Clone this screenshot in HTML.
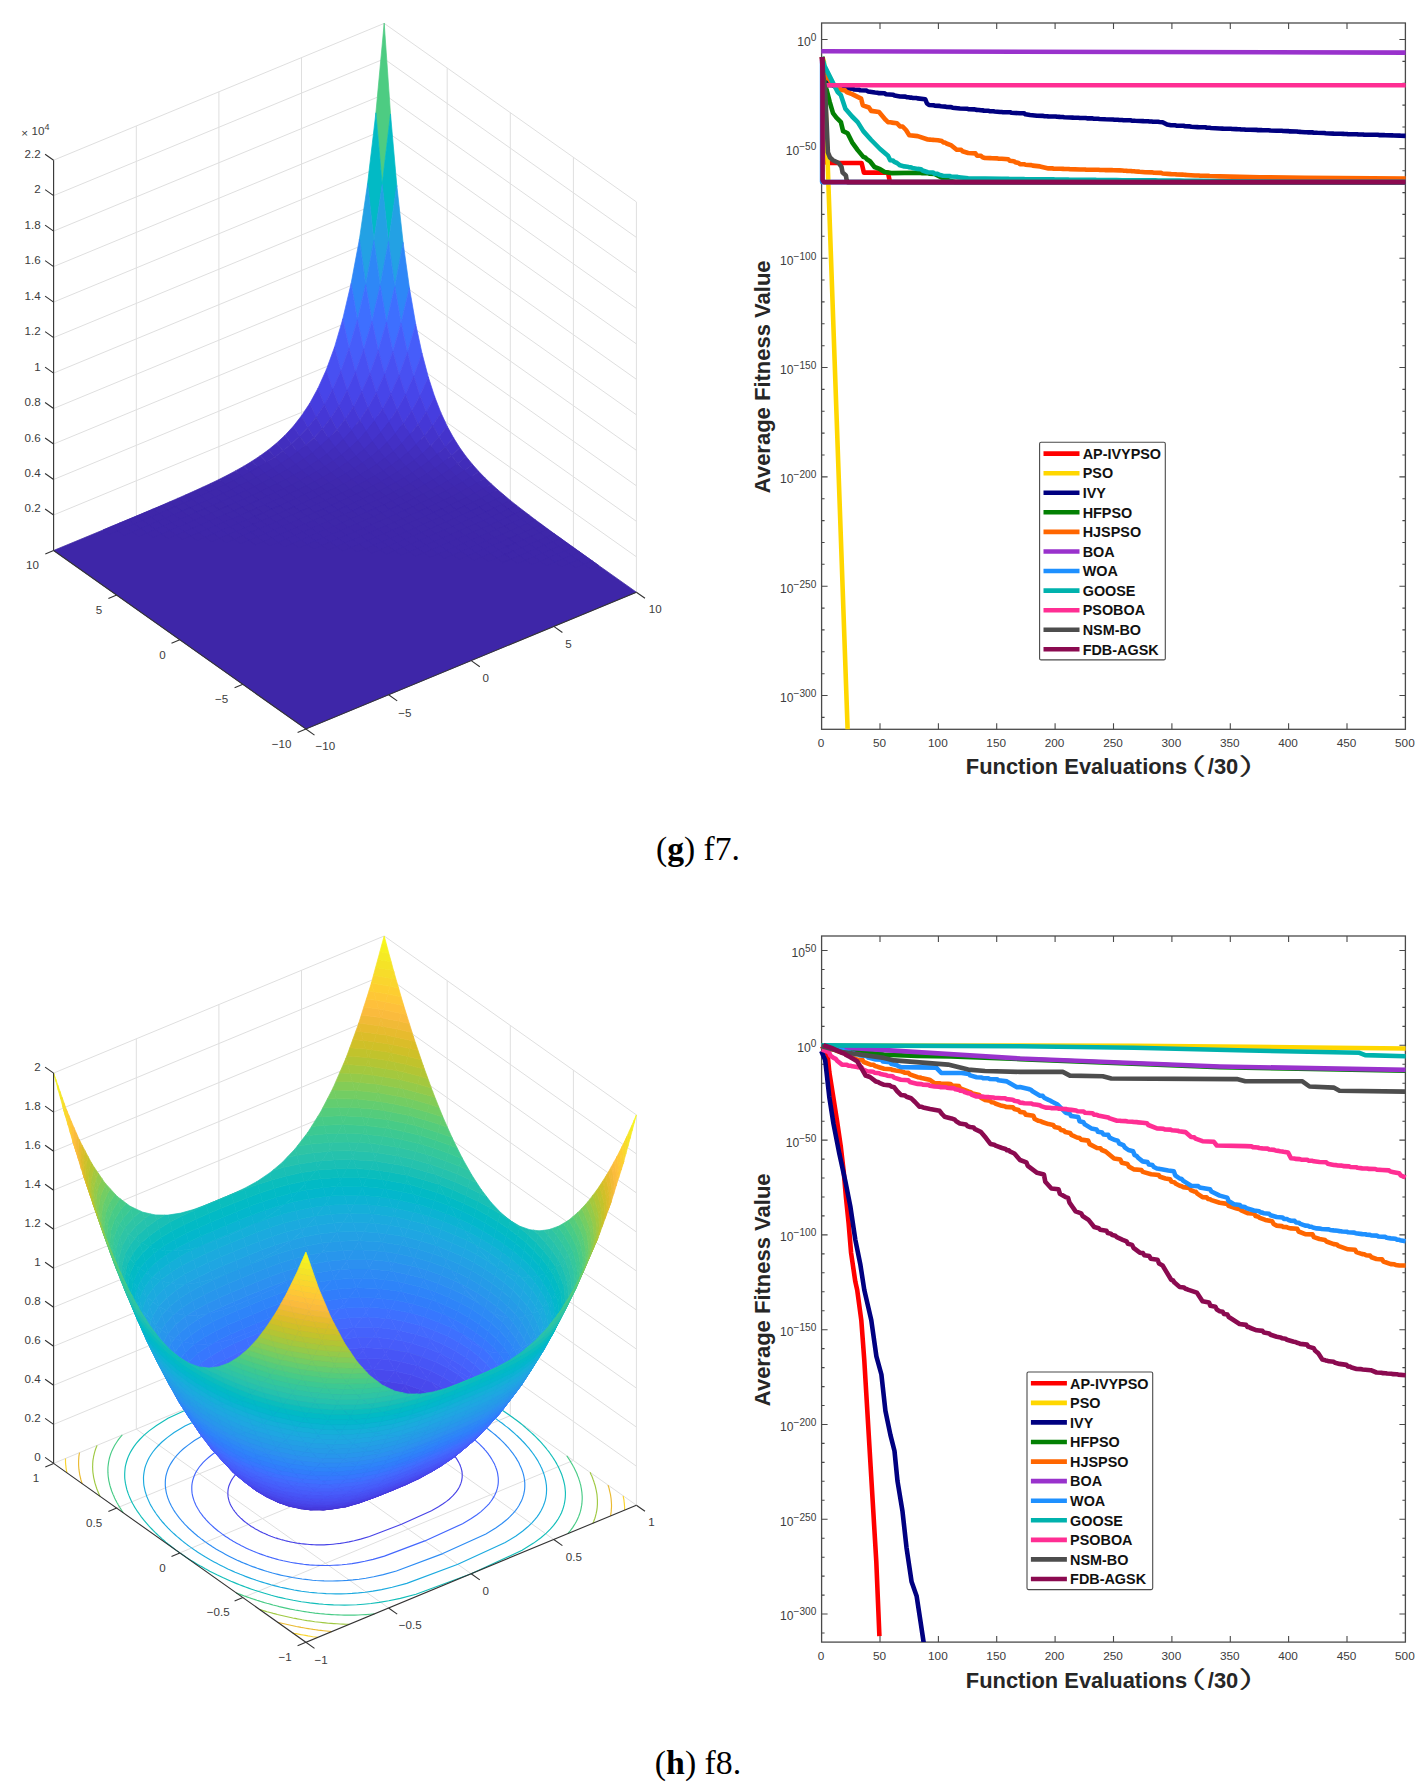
<!DOCTYPE html>
<html lang="en"><head><meta charset="utf-8"><title>Benchmark functions f7 and f8</title>
<style>html,body{margin:0;padding:0;background:#fff}svg{display:block;font-family:"Liberation Sans","Noto Sans CJK SC",sans-serif}.s path{fill:currentColor;stroke:currentColor;stroke-width:.7px;stroke-linejoin:round}.cv polyline{fill:none;stroke-width:4.6px;stroke-linejoin:round;stroke-linecap:butt}.cap{font-family:"Liberation Serif",serif}</style></head><body>
<svg width="1427" height="1789" viewBox="0 0 1427 1789">
<rect width="1427" height="1789" fill="#fff"/>
<g id="surf-f7">
<g fill="none">
<polyline points="53.6,515 384.2,378.2 636.4,556.8" stroke="#dfdfdf" stroke-width="1"/>
<polyline points="53.6,479.5 384.2,342.8 636.4,521.3" stroke="#dfdfdf" stroke-width="1"/>
<polyline points="53.6,444 384.2,307.3 636.4,485.8" stroke="#dfdfdf" stroke-width="1"/>
<polyline points="53.6,408.5 384.2,271.8 636.4,450.3" stroke="#dfdfdf" stroke-width="1"/>
<polyline points="53.6,373.1 384.2,236.3 636.4,414.8" stroke="#dfdfdf" stroke-width="1"/>
<polyline points="53.6,337.6 384.2,200.8 636.4,379.3" stroke="#dfdfdf" stroke-width="1"/>
<polyline points="53.6,302.1 384.2,165.4 636.4,343.9" stroke="#dfdfdf" stroke-width="1"/>
<polyline points="53.6,266.6 384.2,129.9 636.4,308.4" stroke="#dfdfdf" stroke-width="1"/>
<polyline points="53.6,231.1 384.2,94.4 636.4,272.9" stroke="#dfdfdf" stroke-width="1"/>
<polyline points="53.6,195.6 384.2,58.9 636.4,237.4" stroke="#dfdfdf" stroke-width="1"/>
<polyline points="53.6,160.2 384.2,23.4 636.4,201.9" stroke="#dfdfdf" stroke-width="1"/>
<line x1="53.6" y1="550.5" x2="53.6" y2="160.2" stroke="#dfdfdf" stroke-width="1.0"/>
<line x1="636.4" y1="592.2" x2="636.4" y2="201.9" stroke="#dfdfdf" stroke-width="1.0"/>
<line x1="136.3" y1="516.3" x2="136.3" y2="126" stroke="#dfdfdf" stroke-width="1.0"/>
<line x1="573.4" y1="547.6" x2="573.4" y2="157.3" stroke="#dfdfdf" stroke-width="1.0"/>
<line x1="218.9" y1="482.1" x2="218.9" y2="91.8" stroke="#dfdfdf" stroke-width="1.0"/>
<line x1="510.3" y1="503" x2="510.3" y2="112.7" stroke="#dfdfdf" stroke-width="1.0"/>
<line x1="301.5" y1="447.9" x2="301.5" y2="57.6" stroke="#dfdfdf" stroke-width="1.0"/>
<line x1="447.2" y1="458.4" x2="447.2" y2="68.1" stroke="#dfdfdf" stroke-width="1.0"/>
<line x1="384.2" y1="413.7" x2="384.2" y2="23.4" stroke="#dfdfdf" stroke-width="1.0"/>
<line x1="384.2" y1="413.7" x2="384.2" y2="23.4" stroke="#dfdfdf" stroke-width="1.0"/>
<polyline points="53.6,550.5 384.2,413.7 636.4,592.2" stroke="#dfdfdf" stroke-width="1"/>
</g>
<g class="s">
<path color="#3e26a8" d="M53.6,550.5 305.9,729 636.4,592.2 384.2,413.7 z"/>
<path color="#4dcc82" d="M382.2,184.6 390.5,113.9 384.2,23 375.9,112.8 z"/>
<path color="#02bac5" d="M373.9,240.4 382.2,184.6 375.9,112.8 367.6,183.6 z"/>
<path color="#02bac5" d="M388.5,241.5 396.8,185.6 390.5,113.9 382.2,184.6 z"/>
<path color="#23a1e4" d="M365.7,284.7 373.9,240.4 367.6,183.6 359.4,239.4 z"/>
<path color="#23a1e4" d="M380.2,285.7 388.5,241.5 382.2,184.6 373.9,240.4 z"/>
<path color="#23a1e4" d="M394.8,286.8 403.1,242.5 396.8,185.6 388.5,241.5 z"/>
<path color="#2e87f7" d="M357.4,319.9 365.7,284.7 359.4,239.4 351.1,283.6 z"/>
<path color="#2e87f7" d="M372,321 380.2,285.7 373.9,240.4 365.7,284.7 z"/>
<path color="#2e87f7" d="M386.5,322 394.8,286.8 388.5,241.5 380.2,285.7 z"/>
<path color="#2e87f7" d="M401.1,323 409.4,287.8 403.1,242.5 394.8,286.8 z"/>
<path color="#3e6fff" d="M349.1,348.1 357.4,319.9 351.1,283.6 342.8,318.9 z"/>
<path color="#3e6fff" d="M363.7,349.1 372,321 365.7,284.7 357.4,319.9 z"/>
<path color="#3e6fff" d="M378.3,350.2 386.5,322 380.2,285.7 372,321 z"/>
<path color="#3e6fff" d="M392.9,351.2 401.1,323 394.8,286.8 386.5,322 z"/>
<path color="#3e6fff" d="M407.4,352.3 415.7,324.1 409.4,287.8 401.1,323 z"/>
<path color="#465dfa" d="M340.9,370.8 349.1,348.1 342.8,318.9 334.6,347 z"/>
<path color="#465dfa" d="M355.5,371.8 363.7,349.1 357.4,319.9 349.1,348.1 z"/>
<path color="#465dfa" d="M370,372.9 378.3,350.2 372,321 363.7,349.1 z"/>
<path color="#465dfa" d="M384.6,373.9 392.9,351.2 386.5,322 378.3,350.2 z"/>
<path color="#465dfa" d="M399.2,375 407.4,352.3 401.1,323 392.9,351.2 z"/>
<path color="#465dfa" d="M413.7,376 422,353.3 415.7,324.1 407.4,352.3 z"/>
<path color="#4850f2" d="M332.6,389.2 340.9,370.8 334.6,347 326.3,369.8 z"/>
<path color="#4850f2" d="M347.2,390.3 355.5,371.8 349.1,348.1 340.9,370.8 z"/>
<path color="#4850f2" d="M361.8,391.3 370,372.9 363.7,349.1 355.5,371.8 z"/>
<path color="#4850f2" d="M376.3,392.4 384.6,373.9 378.3,350.2 370,372.9 z"/>
<path color="#4850f2" d="M390.9,393.4 399.2,375 392.9,351.2 384.6,373.9 z"/>
<path color="#4850f2" d="M405.5,394.5 413.7,376 407.4,352.3 399.2,375 z"/>
<path color="#4850f2" d="M420,395.5 428.3,377.1 422,353.3 413.7,376 z"/>
<path color="#4745e9" d="M324.4,404.4 332.6,389.2 326.3,369.8 318,388.2 z"/>
<path color="#4745e9" d="M338.9,405.4 347.2,390.3 340.9,370.8 332.6,389.2 z"/>
<path color="#4745e9" d="M353.5,406.4 361.8,391.3 355.5,371.8 347.2,390.3 z"/>
<path color="#4745e9" d="M368.1,407.5 376.3,392.4 370,372.9 361.8,391.3 z"/>
<path color="#4745e9" d="M382.6,408.5 390.9,393.4 384.6,373.9 376.3,392.4 z"/>
<path color="#4745e9" d="M397.2,409.6 405.5,394.5 399.2,375 390.9,393.4 z"/>
<path color="#4745e9" d="M411.8,410.6 420,395.5 413.7,376 405.5,394.5 z"/>
<path color="#4745e9" d="M426.3,411.7 434.6,396.5 428.3,377.1 420,395.5 z"/>
<path color="#463ddf" d="M316.1,416.9 324.4,404.4 318,388.2 309.8,403.3 z"/>
<path color="#463ddf" d="M330.7,417.9 338.9,405.4 332.6,389.2 324.4,404.4 z"/>
<path color="#463ddf" d="M345.2,419 353.5,406.4 347.2,390.3 338.9,405.4 z"/>
<path color="#463ddf" d="M359.8,420 368.1,407.5 361.8,391.3 353.5,406.4 z"/>
<path color="#463ddf" d="M374.4,421.1 382.6,408.5 376.3,392.4 368.1,407.5 z"/>
<path color="#463ddf" d="M388.9,422.1 397.2,409.6 390.9,393.4 382.6,408.5 z"/>
<path color="#463ddf" d="M403.5,423.1 411.8,410.6 405.5,394.5 397.2,409.6 z"/>
<path color="#463ddf" d="M418.1,424.2 426.3,411.7 420,395.5 411.8,410.6 z"/>
<path color="#463ddf" d="M432.7,425.2 440.9,412.7 434.6,396.5 426.3,411.7 z"/>
<path color="#4537d6" d="M307.8,427.4 316.1,416.9 309.8,403.3 301.5,415.8 z"/>
<path color="#4537d6" d="M322.4,428.4 330.7,417.9 324.4,404.4 316.1,416.9 z"/>
<path color="#4537d6" d="M337,429.5 345.2,419 338.9,405.4 330.7,417.9 z"/>
<path color="#4537d6" d="M351.5,430.5 359.8,420 353.5,406.4 345.2,419 z"/>
<path color="#4537d6" d="M366.1,431.6 374.4,421.1 368.1,407.5 359.8,420 z"/>
<path color="#4537d6" d="M380.7,432.6 388.9,422.1 382.6,408.5 374.4,421.1 z"/>
<path color="#4537d6" d="M395.2,433.7 403.5,423.1 397.2,409.6 388.9,422.1 z"/>
<path color="#4537d6" d="M409.8,434.7 418.1,424.2 411.8,410.6 403.5,423.1 z"/>
<path color="#4537d6" d="M424.4,435.8 432.7,425.2 426.3,411.7 418.1,424.2 z"/>
<path color="#4537d6" d="M439,436.8 447.2,426.3 440.9,412.7 432.7,425.2 z"/>
<path color="#4433cc" d="M299.6,436.3 307.8,427.4 301.5,415.8 293.3,426.3 z"/>
<path color="#4433cc" d="M314.1,437.4 322.4,428.4 316.1,416.9 307.8,427.4 z"/>
<path color="#4433cc" d="M328.7,438.4 337,429.5 330.7,417.9 322.4,428.4 z"/>
<path color="#4433cc" d="M343.3,439.5 351.5,430.5 345.2,419 337,429.5 z"/>
<path color="#4433cc" d="M357.8,440.5 366.1,431.6 359.8,420 351.5,430.5 z"/>
<path color="#4433cc" d="M372.4,441.6 380.7,432.6 374.4,421.1 366.1,431.6 z"/>
<path color="#4433cc" d="M387,442.6 395.2,433.7 388.9,422.1 380.7,432.6 z"/>
<path color="#4433cc" d="M401.6,443.6 409.8,434.7 403.5,423.1 395.2,433.7 z"/>
<path color="#4433cc" d="M416.1,444.7 424.4,435.8 418.1,424.2 409.8,434.7 z"/>
<path color="#4433cc" d="M430.7,445.7 439,436.8 432.7,425.2 424.4,435.8 z"/>
<path color="#4433cc" d="M445.3,446.8 453.5,437.8 447.2,426.3 439,436.8 z"/>
<path color="#4330c5" d="M291.3,444.1 299.6,436.3 293.3,426.3 285,435.3 z"/>
<path color="#4330c5" d="M305.9,445.1 314.1,437.4 307.8,427.4 299.6,436.3 z"/>
<path color="#4330c5" d="M320.4,446.1 328.7,438.4 322.4,428.4 314.1,437.4 z"/>
<path color="#4330c5" d="M335,447.2 343.3,439.5 337,429.5 328.7,438.4 z"/>
<path color="#4330c5" d="M349.6,448.2 357.8,440.5 351.5,430.5 343.3,439.5 z"/>
<path color="#4330c5" d="M364.2,449.3 372.4,441.6 366.1,431.6 357.8,440.5 z"/>
<path color="#4330c5" d="M378.7,450.3 387,442.6 380.7,432.6 372.4,441.6 z"/>
<path color="#4330c5" d="M393.3,451.4 401.6,443.6 395.2,433.7 387,442.6 z"/>
<path color="#4330c5" d="M407.9,452.4 416.1,444.7 409.8,434.7 401.6,443.6 z"/>
<path color="#4330c5" d="M422.4,453.5 430.7,445.7 424.4,435.8 416.1,444.7 z"/>
<path color="#4330c5" d="M437,454.5 445.3,446.8 439,436.8 430.7,445.7 z"/>
<path color="#4330c5" d="M451.6,455.5 459.8,447.8 453.5,437.8 445.3,446.8 z"/>
<path color="#422ebe" d="M283,450.8 291.3,444.1 285,435.3 276.7,443 z"/>
<path color="#422ebe" d="M297.6,451.9 305.9,445.1 299.6,436.3 291.3,444.1 z"/>
<path color="#422ebe" d="M312.2,452.9 320.4,446.1 314.1,437.4 305.9,445.1 z"/>
<path color="#422ebe" d="M326.8,454 335,447.2 328.7,438.4 320.4,446.1 z"/>
<path color="#422ebe" d="M341.3,455 349.6,448.2 343.3,439.5 335,447.2 z"/>
<path color="#422ebe" d="M355.9,456.1 364.2,449.3 357.8,440.5 349.6,448.2 z"/>
<path color="#422ebe" d="M370.5,457.1 378.7,450.3 372.4,441.6 364.2,449.3 z"/>
<path color="#422ebe" d="M385,458.1 393.3,451.4 387,442.6 378.7,450.3 z"/>
<path color="#422ebe" d="M399.6,459.2 407.9,452.4 401.6,443.6 393.3,451.4 z"/>
<path color="#422ebe" d="M414.2,460.2 422.4,453.5 416.1,444.7 407.9,452.4 z"/>
<path color="#422ebe" d="M428.7,461.3 437,454.5 430.7,445.7 422.4,453.5 z"/>
<path color="#422ebe" d="M443.3,462.3 451.6,455.5 445.3,446.8 437,454.5 z"/>
<path color="#422ebe" d="M457.9,463.4 466.1,456.6 459.8,447.8 451.6,455.5 z"/>
<path color="#412cba" d="M274.8,456.9 283,450.8 276.7,443 268.5,449.8 z"/>
<path color="#412cba" d="M289.3,457.9 297.6,451.9 291.3,444.1 283,450.8 z"/>
<path color="#412cba" d="M303.9,458.9 312.2,452.9 305.9,445.1 297.6,451.9 z"/>
<path color="#412cba" d="M318.5,460 326.8,454 320.4,446.1 312.2,452.9 z"/>
<path color="#412cba" d="M333.1,461 341.3,455 335,447.2 326.8,454 z"/>
<path color="#412cba" d="M347.6,462.1 355.9,456.1 349.6,448.2 341.3,455 z"/>
<path color="#412cba" d="M362.2,463.1 370.5,457.1 364.2,449.3 355.9,456.1 z"/>
<path color="#412cba" d="M376.8,464.2 385,458.1 378.7,450.3 370.5,457.1 z"/>
<path color="#412cba" d="M391.3,465.2 399.6,459.2 393.3,451.4 385,458.1 z"/>
<path color="#412cba" d="M405.9,466.3 414.2,460.2 407.9,452.4 399.6,459.2 z"/>
<path color="#412cba" d="M420.5,467.3 428.7,461.3 422.4,453.5 414.2,460.2 z"/>
<path color="#412cba" d="M435,468.3 443.3,462.3 437,454.5 428.7,461.3 z"/>
<path color="#412cba" d="M449.6,469.4 457.9,463.4 451.6,455.5 443.3,462.3 z"/>
<path color="#412cba" d="M464.2,470.4 472.5,464.4 466.1,456.6 457.9,463.4 z"/>
<path color="#402bb6" d="M266.5,462.3 274.8,456.9 268.5,449.8 260.2,455.8 z"/>
<path color="#402bb6" d="M281.1,463.4 289.3,457.9 283,450.8 274.8,456.9 z"/>
<path color="#402bb6" d="M295.7,464.4 303.9,458.9 297.6,451.9 289.3,457.9 z"/>
<path color="#402bb6" d="M310.2,465.4 318.5,460 312.2,452.9 303.9,458.9 z"/>
<path color="#402bb6" d="M324.8,466.5 333.1,461 326.8,454 318.5,460 z"/>
<path color="#402bb6" d="M339.4,467.5 347.6,462.1 341.3,455 333.1,461 z"/>
<path color="#402bb6" d="M353.9,468.6 362.2,463.1 355.9,456.1 347.6,462.1 z"/>
<path color="#402bb6" d="M368.5,469.6 376.8,464.2 370.5,457.1 362.2,463.1 z"/>
<path color="#402bb6" d="M383.1,470.7 391.3,465.2 385,458.1 376.8,464.2 z"/>
<path color="#402bb6" d="M397.6,471.7 405.9,466.3 399.6,459.2 391.3,465.2 z"/>
<path color="#402bb6" d="M412.2,472.8 420.5,467.3 414.2,460.2 405.9,466.3 z"/>
<path color="#402bb6" d="M426.8,473.8 435,468.3 428.7,461.3 420.5,467.3 z"/>
<path color="#402bb6" d="M441.4,474.8 449.6,469.4 443.3,462.3 435,468.3 z"/>
<path color="#402bb6" d="M455.9,475.9 464.2,470.4 457.9,463.4 449.6,469.4 z"/>
<path color="#402bb6" d="M470.5,476.9 478.8,471.5 472.5,464.4 464.2,470.4 z"/>
<path color="#402ab3" d="M258.3,467.3 266.5,462.3 260.2,455.8 251.9,461.3 z"/>
<path color="#402ab3" d="M272.8,468.4 281.1,463.4 274.8,456.9 266.5,462.3 z"/>
<path color="#402ab3" d="M287.4,469.4 295.7,464.4 289.3,457.9 281.1,463.4 z"/>
<path color="#402ab3" d="M302,470.4 310.2,465.4 303.9,458.9 295.7,464.4 z"/>
<path color="#402ab3" d="M316.5,471.5 324.8,466.5 318.5,460 310.2,465.4 z"/>
<path color="#402ab3" d="M331.1,472.5 339.4,467.5 333.1,461 324.8,466.5 z"/>
<path color="#402ab3" d="M345.7,473.6 353.9,468.6 347.6,462.1 339.4,467.5 z"/>
<path color="#402ab3" d="M360.2,474.6 368.5,469.6 362.2,463.1 353.9,468.6 z"/>
<path color="#402ab3" d="M374.8,475.7 383.1,470.7 376.8,464.2 368.5,469.6 z"/>
<path color="#402ab3" d="M389.4,476.7 397.6,471.7 391.3,465.2 383.1,470.7 z"/>
<path color="#402ab3" d="M404,477.8 412.2,472.8 405.9,466.3 397.6,471.7 z"/>
<path color="#402ab3" d="M418.5,478.8 426.8,473.8 420.5,467.3 412.2,472.8 z"/>
<path color="#402ab3" d="M433.1,479.8 441.4,474.8 435,468.3 426.8,473.8 z"/>
<path color="#402ab3" d="M447.7,480.9 455.9,475.9 449.6,469.4 441.4,474.8 z"/>
<path color="#402ab3" d="M462.2,481.9 470.5,476.9 464.2,470.4 455.9,475.9 z"/>
<path color="#402ab3" d="M476.8,483 485.1,478 478.8,471.5 470.5,476.9 z"/>
<path color="#3f29b1" d="M250,472 258.3,467.3 251.9,461.3 243.7,466.3 z"/>
<path color="#3f29b1" d="M264.6,473 272.8,468.4 266.5,462.3 258.3,467.3 z"/>
<path color="#3f29b1" d="M279.1,474.1 287.4,469.4 281.1,463.4 272.8,468.4 z"/>
<path color="#3f29b1" d="M293.7,475.1 302,470.4 295.7,464.4 287.4,469.4 z"/>
<path color="#3f29b1" d="M308.3,476.1 316.5,471.5 310.2,465.4 302,470.4 z"/>
<path color="#3f29b1" d="M322.8,477.2 331.1,472.5 324.8,466.5 316.5,471.5 z"/>
<path color="#3f29b1" d="M337.4,478.2 345.7,473.6 339.4,467.5 331.1,472.5 z"/>
<path color="#3f29b1" d="M352,479.3 360.2,474.6 353.9,468.6 345.7,473.6 z"/>
<path color="#3f29b1" d="M366.6,480.3 374.8,475.7 368.5,469.6 360.2,474.6 z"/>
<path color="#3f29b1" d="M381.1,481.4 389.4,476.7 383.1,470.7 374.8,475.7 z"/>
<path color="#3f29b1" d="M395.7,482.4 404,477.8 397.6,471.7 389.4,476.7 z"/>
<path color="#3f29b1" d="M410.3,483.5 418.5,478.8 412.2,472.8 404,477.8 z"/>
<path color="#3f29b1" d="M424.8,484.5 433.1,479.8 426.8,473.8 418.5,478.8 z"/>
<path color="#3f29b1" d="M439.4,485.5 447.7,480.9 441.4,474.8 433.1,479.8 z"/>
<path color="#3f29b1" d="M454,486.6 462.2,481.9 455.9,475.9 447.7,480.9 z"/>
<path color="#3f29b1" d="M468.5,487.6 476.8,483 470.5,476.9 462.2,481.9 z"/>
<path color="#3f29b1" d="M483.1,488.7 491.4,484 485.1,478 476.8,483 z"/>
<path color="#3f28af" d="M241.7,476.3 250,472 243.7,466.3 235.4,470.9 z"/>
<path color="#3f28af" d="M256.3,477.4 264.6,473 258.3,467.3 250,472 z"/>
<path color="#3f28af" d="M270.9,478.4 279.1,474.1 272.8,468.4 264.6,473 z"/>
<path color="#3f28af" d="M285.4,479.5 293.7,475.1 287.4,469.4 279.1,474.1 z"/>
<path color="#3f28af" d="M300,480.5 308.3,476.1 302,470.4 293.7,475.1 z"/>
<path color="#3f28af" d="M314.6,481.6 322.8,477.2 316.5,471.5 308.3,476.1 z"/>
<path color="#3f28af" d="M329.1,482.6 337.4,478.2 331.1,472.5 322.8,477.2 z"/>
<path color="#3f28af" d="M343.7,483.7 352,479.3 345.7,473.6 337.4,478.2 z"/>
<path color="#3f28af" d="M358.3,484.7 366.6,480.3 360.2,474.6 352,479.3 z"/>
<path color="#3f28af" d="M372.9,485.7 381.1,481.4 374.8,475.7 366.6,480.3 z"/>
<path color="#3f28af" d="M387.4,486.8 395.7,482.4 389.4,476.7 381.1,481.4 z"/>
<path color="#3f28af" d="M402,487.8 410.3,483.5 404,477.8 395.7,482.4 z"/>
<path color="#3f28af" d="M416.6,488.9 424.8,484.5 418.5,478.8 410.3,483.5 z"/>
<path color="#3f28af" d="M431.1,489.9 439.4,485.5 433.1,479.8 424.8,484.5 z"/>
<path color="#3f28af" d="M445.7,491 454,486.6 447.7,480.9 439.4,485.5 z"/>
<path color="#3f28af" d="M460.3,492 468.5,487.6 462.2,481.9 454,486.6 z"/>
<path color="#3f28af" d="M474.8,493.1 483.1,488.7 476.8,483 468.5,487.6 z"/>
<path color="#3f28af" d="M489.4,494.1 497.7,489.7 491.4,484 483.1,488.7 z"/>
<path color="#3f28ad" d="M233.5,480.5 241.7,476.3 235.4,470.9 227.2,475.3 z"/>
<path color="#3f28ad" d="M248,481.6 256.3,477.4 250,472 241.7,476.3 z"/>
<path color="#3f28ad" d="M262.6,482.6 270.9,478.4 264.6,473 256.3,477.4 z"/>
<path color="#3f28ad" d="M277.2,483.6 285.4,479.5 279.1,474.1 270.9,478.4 z"/>
<path color="#3f28ad" d="M291.7,484.7 300,480.5 293.7,475.1 285.4,479.5 z"/>
<path color="#3f28ad" d="M306.3,485.7 314.6,481.6 308.3,476.1 300,480.5 z"/>
<path color="#3f28ad" d="M320.9,486.8 329.1,482.6 322.8,477.2 314.6,481.6 z"/>
<path color="#3f28ad" d="M335.5,487.8 343.7,483.7 337.4,478.2 329.1,482.6 z"/>
<path color="#3f28ad" d="M350,488.9 358.3,484.7 352,479.3 343.7,483.7 z"/>
<path color="#3f28ad" d="M364.6,489.9 372.9,485.7 366.6,480.3 358.3,484.7 z"/>
<path color="#3f28ad" d="M379.2,491 387.4,486.8 381.1,481.4 372.9,485.7 z"/>
<path color="#3f28ad" d="M393.7,492 402,487.8 395.7,482.4 387.4,486.8 z"/>
<path color="#3f28ad" d="M408.3,493 416.6,488.9 410.3,483.5 402,487.8 z"/>
<path color="#3f28ad" d="M422.9,494.1 431.1,489.9 424.8,484.5 416.6,488.9 z"/>
<path color="#3f28ad" d="M437.4,495.1 445.7,491 439.4,485.5 431.1,489.9 z"/>
<path color="#3f28ad" d="M452,496.2 460.3,492 454,486.6 445.7,491 z"/>
<path color="#3f28ad" d="M466.6,497.2 474.8,493.1 468.5,487.6 460.3,492 z"/>
<path color="#3f28ad" d="M481.2,498.3 489.4,494.1 483.1,488.7 474.8,493.1 z"/>
<path color="#3f28ad" d="M495.7,499.3 504,495.1 497.7,489.7 489.4,494.1 z"/>
<path color="#3e28ac" d="M225.2,484.5 233.5,480.5 227.2,475.3 218.9,479.5 z"/>
<path color="#3e28ac" d="M239.8,485.6 248,481.6 241.7,476.3 233.5,480.5 z"/>
<path color="#3e28ac" d="M254.3,486.6 262.6,482.6 256.3,477.4 248,481.6 z"/>
<path color="#3e28ac" d="M268.9,487.6 277.2,483.6 270.9,478.4 262.6,482.6 z"/>
<path color="#3e28ac" d="M283.5,488.7 291.7,484.7 285.4,479.5 277.2,483.6 z"/>
<path color="#3e28ac" d="M298.1,489.7 306.3,485.7 300,480.5 291.7,484.7 z"/>
<path color="#3e28ac" d="M312.6,490.8 320.9,486.8 314.6,481.6 306.3,485.7 z"/>
<path color="#3e28ac" d="M327.2,491.8 335.5,487.8 329.1,482.6 320.9,486.8 z"/>
<path color="#3e28ac" d="M341.8,492.9 350,488.9 343.7,483.7 335.5,487.8 z"/>
<path color="#3e28ac" d="M356.3,493.9 364.6,489.9 358.3,484.7 350,488.9 z"/>
<path color="#3e28ac" d="M370.9,495 379.2,491 372.9,485.7 364.6,489.9 z"/>
<path color="#3e28ac" d="M385.5,496 393.7,492 387.4,486.8 379.2,491 z"/>
<path color="#3e28ac" d="M400,497 408.3,493 402,487.8 393.7,492 z"/>
<path color="#3e28ac" d="M414.6,498.1 422.9,494.1 416.6,488.9 408.3,493 z"/>
<path color="#3e28ac" d="M429.2,499.1 437.4,495.1 431.1,489.9 422.9,494.1 z"/>
<path color="#3e28ac" d="M443.8,500.2 452,496.2 445.7,491 437.4,495.1 z"/>
<path color="#3e28ac" d="M458.3,501.2 466.6,497.2 460.3,492 452,496.2 z"/>
<path color="#3e28ac" d="M472.9,502.3 481.2,498.3 474.8,493.1 466.6,497.2 z"/>
<path color="#3e28ac" d="M487.5,503.3 495.7,499.3 489.4,494.1 481.2,498.3 z"/>
<path color="#3e28ac" d="M502,504.4 510.3,500.4 504,495.1 495.7,499.3 z"/>
<path color="#3e27ab" d="M216.9,488.4 225.2,484.5 218.9,479.5 210.6,483.5 z"/>
<path color="#3e27ab" d="M231.5,489.4 239.8,485.6 233.5,480.5 225.2,484.5 z"/>
<path color="#3e27ab" d="M246.1,490.5 254.3,486.6 248,481.6 239.8,485.6 z"/>
<path color="#3e27ab" d="M260.6,491.5 268.9,487.6 262.6,482.6 254.3,486.6 z"/>
<path color="#3e27ab" d="M275.2,492.6 283.5,488.7 277.2,483.6 268.9,487.6 z"/>
<path color="#3e27ab" d="M289.8,493.6 298.1,489.7 291.7,484.7 283.5,488.7 z"/>
<path color="#3e27ab" d="M304.4,494.6 312.6,490.8 306.3,485.7 298.1,489.7 z"/>
<path color="#3e27ab" d="M318.9,495.7 327.2,491.8 320.9,486.8 312.6,490.8 z"/>
<path color="#3e27ab" d="M333.5,496.7 341.8,492.9 335.5,487.8 327.2,491.8 z"/>
<path color="#3e27ab" d="M348.1,497.8 356.3,493.9 350,488.9 341.8,492.9 z"/>
<path color="#3e27ab" d="M362.6,498.8 370.9,495 364.6,489.9 356.3,493.9 z"/>
<path color="#3e27ab" d="M377.2,499.9 385.5,496 379.2,491 370.9,495 z"/>
<path color="#3e27ab" d="M391.8,500.9 400,497 393.7,492 385.5,496 z"/>
<path color="#3e27ab" d="M406.3,502 414.6,498.1 408.3,493 400,497 z"/>
<path color="#3e27ab" d="M420.9,503 429.2,499.1 422.9,494.1 414.6,498.1 z"/>
<path color="#3e27ab" d="M435.5,504 443.8,500.2 437.4,495.1 429.2,499.1 z"/>
<path color="#3e27ab" d="M450.1,505.1 458.3,501.2 452,496.2 443.8,500.2 z"/>
<path color="#3e27ab" d="M464.6,506.1 472.9,502.3 466.6,497.2 458.3,501.2 z"/>
<path color="#3e27ab" d="M479.2,507.2 487.5,503.3 481.2,498.3 472.9,502.3 z"/>
<path color="#3e27ab" d="M493.8,508.2 502,504.4 495.7,499.3 487.5,503.3 z"/>
<path color="#3e27ab" d="M508.3,509.3 516.6,505.4 510.3,500.4 502,504.4 z"/>
<path color="#3e27ab" d="M208.7,492.2 216.9,488.4 210.6,483.5 202.4,487.3 z"/>
<path color="#3e27ab" d="M223.2,493.2 231.5,489.4 225.2,484.5 216.9,488.4 z"/>
<path color="#3e27ab" d="M237.8,494.2 246.1,490.5 239.8,485.6 231.5,489.4 z"/>
<path color="#3e27ab" d="M252.4,495.3 260.6,491.5 254.3,486.6 246.1,490.5 z"/>
<path color="#3e27ab" d="M267,496.3 275.2,492.6 268.9,487.6 260.6,491.5 z"/>
<path color="#3e27ab" d="M281.5,497.4 289.8,493.6 283.5,488.7 275.2,492.6 z"/>
<path color="#3e27ab" d="M296.1,498.4 304.4,494.6 298.1,489.7 289.8,493.6 z"/>
<path color="#3e27ab" d="M310.7,499.5 318.9,495.7 312.6,490.8 304.4,494.6 z"/>
<path color="#3e27ab" d="M325.2,500.5 333.5,496.7 327.2,491.8 318.9,495.7 z"/>
<path color="#3e27ab" d="M339.8,501.6 348.1,497.8 341.8,492.9 333.5,496.7 z"/>
<path color="#3e27ab" d="M354.4,502.6 362.6,498.8 356.3,493.9 348.1,497.8 z"/>
<path color="#3e27ab" d="M368.9,503.6 377.2,499.9 370.9,495 362.6,498.8 z"/>
<path color="#3e27ab" d="M383.5,504.7 391.8,500.9 385.5,496 377.2,499.9 z"/>
<path color="#3e27ab" d="M398.1,505.7 406.3,502 400,497 391.8,500.9 z"/>
<path color="#3e27ab" d="M412.7,506.8 420.9,503 414.6,498.1 406.3,502 z"/>
<path color="#3e27ab" d="M427.2,507.8 435.5,504 429.2,499.1 420.9,503 z"/>
<path color="#3e27ab" d="M441.8,508.9 450.1,505.1 443.8,500.2 435.5,504 z"/>
<path color="#3e27ab" d="M456.4,509.9 464.6,506.1 458.3,501.2 450.1,505.1 z"/>
<path color="#3e27ab" d="M470.9,511 479.2,507.2 472.9,502.3 464.6,506.1 z"/>
<path color="#3e27ab" d="M485.5,512 493.8,508.2 487.5,503.3 479.2,507.2 z"/>
<path color="#3e27ab" d="M500.1,513 508.3,509.3 502,504.4 493.8,508.2 z"/>
<path color="#3e27ab" d="M514.6,514.1 522.9,510.3 516.6,505.4 508.3,509.3 z"/>
<path color="#3e27aa" d="M200.4,495.8 208.7,492.2 202.4,487.3 194.1,491.1 z"/>
<path color="#3e27aa" d="M215,496.9 223.2,493.2 216.9,488.4 208.7,492.2 z"/>
<path color="#3e27aa" d="M229.6,497.9 237.8,494.2 231.5,489.4 223.2,493.2 z"/>
<path color="#3e27aa" d="M244.1,499 252.4,495.3 246.1,490.5 237.8,494.2 z"/>
<path color="#3e27aa" d="M258.7,500 267,496.3 260.6,491.5 252.4,495.3 z"/>
<path color="#3e27aa" d="M273.3,501.1 281.5,497.4 275.2,492.6 267,496.3 z"/>
<path color="#3e27aa" d="M287.8,502.1 296.1,498.4 289.8,493.6 281.5,497.4 z"/>
<path color="#3e27aa" d="M302.4,503.2 310.7,499.5 304.4,494.6 296.1,498.4 z"/>
<path color="#3e27aa" d="M317,504.2 325.2,500.5 318.9,495.7 310.7,499.5 z"/>
<path color="#3e27aa" d="M331.5,505.2 339.8,501.6 333.5,496.7 325.2,500.5 z"/>
<path color="#3e27aa" d="M346.1,506.3 354.4,502.6 348.1,497.8 339.8,501.6 z"/>
<path color="#3e27aa" d="M360.7,507.3 368.9,503.6 362.6,498.8 354.4,502.6 z"/>
<path color="#3e27aa" d="M375.3,508.4 383.5,504.7 377.2,499.9 368.9,503.6 z"/>
<path color="#3e27aa" d="M389.8,509.4 398.1,505.7 391.8,500.9 383.5,504.7 z"/>
<path color="#3e27aa" d="M404.4,510.5 412.7,506.8 406.3,502 398.1,505.7 z"/>
<path color="#3e27aa" d="M419,511.5 427.2,507.8 420.9,503 412.7,506.8 z"/>
<path color="#3e27aa" d="M433.5,512.6 441.8,508.9 435.5,504 427.2,507.8 z"/>
<path color="#3e27aa" d="M448.1,513.6 456.4,509.9 450.1,505.1 441.8,508.9 z"/>
<path color="#3e27aa" d="M462.7,514.6 470.9,511 464.6,506.1 456.4,509.9 z"/>
<path color="#3e27aa" d="M477.2,515.7 485.5,512 479.2,507.2 470.9,511 z"/>
<path color="#3e27aa" d="M491.8,516.7 500.1,513 493.8,508.2 485.5,512 z"/>
<path color="#3e27aa" d="M506.4,517.8 514.6,514.1 508.3,509.3 500.1,513 z"/>
<path color="#3e27aa" d="M521,518.8 529.2,515.1 522.9,510.3 514.6,514.1 z"/>
<path color="#3e27aa" d="M192.2,499.5 200.4,495.8 194.1,491.1 185.8,494.8 z"/>
<path color="#3e27aa" d="M206.7,500.5 215,496.9 208.7,492.2 200.4,495.8 z"/>
<path color="#3e27aa" d="M221.3,501.6 229.6,497.9 223.2,493.2 215,496.9 z"/>
<path color="#3e27aa" d="M235.9,502.6 244.1,499 237.8,494.2 229.6,497.9 z"/>
<path color="#3e27aa" d="M250.4,503.7 258.7,500 252.4,495.3 244.1,499 z"/>
<path color="#3e27aa" d="M265,504.7 273.3,501.1 267,496.3 258.7,500 z"/>
<path color="#3e27aa" d="M279.6,505.7 287.8,502.1 281.5,497.4 273.3,501.1 z"/>
<path color="#3e27aa" d="M294.1,506.8 302.4,503.2 296.1,498.4 287.8,502.1 z"/>
<path color="#3e27aa" d="M308.7,507.8 317,504.2 310.7,499.5 302.4,503.2 z"/>
<path color="#3e27aa" d="M323.3,508.9 331.5,505.2 325.2,500.5 317,504.2 z"/>
<path color="#3e27aa" d="M337.9,509.9 346.1,506.3 339.8,501.6 331.5,505.2 z"/>
<path color="#3e27aa" d="M352.4,511 360.7,507.3 354.4,502.6 346.1,506.3 z"/>
<path color="#3e27aa" d="M367,512 375.3,508.4 368.9,503.6 360.7,507.3 z"/>
<path color="#3e27aa" d="M381.6,513.1 389.8,509.4 383.5,504.7 375.3,508.4 z"/>
<path color="#3e27aa" d="M396.1,514.1 404.4,510.5 398.1,505.7 389.8,509.4 z"/>
<path color="#3e27aa" d="M410.7,515.1 419,511.5 412.7,506.8 404.4,510.5 z"/>
<path color="#3e27aa" d="M425.3,516.2 433.5,512.6 427.2,507.8 419,511.5 z"/>
<path color="#3e27aa" d="M439.8,517.2 448.1,513.6 441.8,508.9 433.5,512.6 z"/>
<path color="#3e27aa" d="M454.4,518.3 462.7,514.6 456.4,509.9 448.1,513.6 z"/>
<path color="#3e27aa" d="M469,519.3 477.2,515.7 470.9,511 462.7,514.6 z"/>
<path color="#3e27aa" d="M483.6,520.4 491.8,516.7 485.5,512 477.2,515.7 z"/>
<path color="#3e27aa" d="M498.1,521.4 506.4,517.8 500.1,513 491.8,516.7 z"/>
<path color="#3e27aa" d="M512.7,522.5 521,518.8 514.6,514.1 506.4,517.8 z"/>
<path color="#3e27aa" d="M527.3,523.5 535.5,519.9 529.2,515.1 521,518.8 z"/>
<path color="#3e27aa" d="M183.9,503.1 192.2,499.5 185.8,494.8 177.6,498.4 z"/>
<path color="#3e27aa" d="M198.5,504.1 206.7,500.5 200.4,495.8 192.2,499.5 z"/>
<path color="#3e27aa" d="M213,505.2 221.3,501.6 215,496.9 206.7,500.5 z"/>
<path color="#3e27aa" d="M227.6,506.2 235.9,502.6 229.6,497.9 221.3,501.6 z"/>
<path color="#3e27aa" d="M242.2,507.2 250.4,503.7 244.1,499 235.9,502.6 z"/>
<path color="#3e27aa" d="M256.7,508.3 265,504.7 258.7,500 250.4,503.7 z"/>
<path color="#3e27aa" d="M271.3,509.3 279.6,505.7 273.3,501.1 265,504.7 z"/>
<path color="#3e27aa" d="M285.9,510.4 294.1,506.8 287.8,502.1 279.6,505.7 z"/>
<path color="#3e27aa" d="M300.4,511.4 308.7,507.8 302.4,503.2 294.1,506.8 z"/>
<path color="#3e27aa" d="M315,512.5 323.3,508.9 317,504.2 308.7,507.8 z"/>
<path color="#3e27aa" d="M329.6,513.5 337.9,509.9 331.5,505.2 323.3,508.9 z"/>
<path color="#3e27aa" d="M344.2,514.6 352.4,511 346.1,506.3 337.9,509.9 z"/>
<path color="#3e27aa" d="M358.7,515.6 367,512 360.7,507.3 352.4,511 z"/>
<path color="#3e27aa" d="M373.3,516.6 381.6,513.1 375.3,508.4 367,512 z"/>
<path color="#3e27aa" d="M387.9,517.7 396.1,514.1 389.8,509.4 381.6,513.1 z"/>
<path color="#3e27aa" d="M402.4,518.7 410.7,515.1 404.4,510.5 396.1,514.1 z"/>
<path color="#3e27aa" d="M417,519.8 425.3,516.2 419,511.5 410.7,515.1 z"/>
<path color="#3e27aa" d="M431.6,520.8 439.8,517.2 433.5,512.6 425.3,516.2 z"/>
<path color="#3e27aa" d="M446.1,521.9 454.4,518.3 448.1,513.6 439.8,517.2 z"/>
<path color="#3e27aa" d="M460.7,522.9 469,519.3 462.7,514.6 454.4,518.3 z"/>
<path color="#3e27aa" d="M475.3,524 483.6,520.4 477.2,515.7 469,519.3 z"/>
<path color="#3e27aa" d="M489.9,525 498.1,521.4 491.8,516.7 483.6,520.4 z"/>
<path color="#3e27aa" d="M504.4,526 512.7,522.5 506.4,517.8 498.1,521.4 z"/>
<path color="#3e27aa" d="M519,527.1 527.3,523.5 521,518.8 512.7,522.5 z"/>
<path color="#3e27aa" d="M533.6,528.1 541.8,524.5 535.5,519.9 527.3,523.5 z"/>
<path color="#3e27a9" d="M175.6,506.6 183.9,503.1 177.6,498.4 169.3,502 z"/>
<path color="#3e27a9" d="M190.2,507.7 198.5,504.1 192.2,499.5 183.9,503.1 z"/>
<path color="#3e27a9" d="M204.8,508.7 213,505.2 206.7,500.5 198.5,504.1 z"/>
<path color="#3e27a9" d="M219.3,509.7 227.6,506.2 221.3,501.6 213,505.2 z"/>
<path color="#3e27a9" d="M233.9,510.8 242.2,507.2 235.9,502.6 227.6,506.2 z"/>
<path color="#3e27a9" d="M248.5,511.8 256.7,508.3 250.4,503.7 242.2,507.2 z"/>
<path color="#3e27a9" d="M263,512.9 271.3,509.3 265,504.7 256.7,508.3 z"/>
<path color="#3e27a9" d="M277.6,513.9 285.9,510.4 279.6,505.7 271.3,509.3 z"/>
<path color="#3e27a9" d="M292.2,515 300.4,511.4 294.1,506.8 285.9,510.4 z"/>
<path color="#3e27a9" d="M306.8,516 315,512.5 308.7,507.8 300.4,511.4 z"/>
<path color="#3e27a9" d="M321.3,517.1 329.6,513.5 323.3,508.9 315,512.5 z"/>
<path color="#3e27a9" d="M335.9,518.1 344.2,514.6 337.9,509.9 329.6,513.5 z"/>
<path color="#3e27a9" d="M350.5,519.1 358.7,515.6 352.4,511 344.2,514.6 z"/>
<path color="#3e27a9" d="M365,520.2 373.3,516.6 367,512 358.7,515.6 z"/>
<path color="#3e27a9" d="M379.6,521.2 387.9,517.7 381.6,513.1 373.3,516.6 z"/>
<path color="#3e27a9" d="M394.2,522.3 402.4,518.7 396.1,514.1 387.9,517.7 z"/>
<path color="#3e27a9" d="M408.7,523.3 417,519.8 410.7,515.1 402.4,518.7 z"/>
<path color="#3e27a9" d="M423.3,524.4 431.6,520.8 425.3,516.2 417,519.8 z"/>
<path color="#3e27a9" d="M437.9,525.4 446.1,521.9 439.8,517.2 431.6,520.8 z"/>
<path color="#3e27a9" d="M452.5,526.5 460.7,522.9 454.4,518.3 446.1,521.9 z"/>
<path color="#3e27a9" d="M467,527.5 475.3,524 469,519.3 460.7,522.9 z"/>
<path color="#3e27a9" d="M481.6,528.5 489.9,525 483.6,520.4 475.3,524 z"/>
<path color="#3e27a9" d="M496.2,529.6 504.4,526 498.1,521.4 489.9,525 z"/>
<path color="#3e27a9" d="M510.7,530.6 519,527.1 512.7,522.5 504.4,526 z"/>
<path color="#3e27a9" d="M525.3,531.7 533.6,528.1 527.3,523.5 519,527.1 z"/>
<path color="#3e27a9" d="M539.9,532.7 548.1,529.2 541.8,524.5 533.6,528.1 z"/>
<path color="#3e27a9" d="M167.4,510.1 175.6,506.6 169.3,502 161.1,505.6 z"/>
<path color="#3e27a9" d="M181.9,511.2 190.2,507.7 183.9,503.1 175.6,506.6 z"/>
<path color="#3e27a9" d="M196.5,512.2 204.8,508.7 198.5,504.1 190.2,507.7 z"/>
<path color="#3e27a9" d="M211.1,513.3 219.3,509.7 213,505.2 204.8,508.7 z"/>
<path color="#3e27a9" d="M225.6,514.3 233.9,510.8 227.6,506.2 219.3,509.7 z"/>
<path color="#3e27a9" d="M240.2,515.4 248.5,511.8 242.2,507.2 233.9,510.8 z"/>
<path color="#3e27a9" d="M254.8,516.4 263,512.9 256.7,508.3 248.5,511.8 z"/>
<path color="#3e27a9" d="M269.4,517.4 277.6,513.9 271.3,509.3 263,512.9 z"/>
<path color="#3e27a9" d="M283.9,518.5 292.2,515 285.9,510.4 277.6,513.9 z"/>
<path color="#3e27a9" d="M298.5,519.5 306.8,516 300.4,511.4 292.2,515 z"/>
<path color="#3e27a9" d="M313.1,520.6 321.3,517.1 315,512.5 306.8,516 z"/>
<path color="#3e27a9" d="M327.6,521.6 335.9,518.1 329.6,513.5 321.3,517.1 z"/>
<path color="#3e27a9" d="M342.2,522.7 350.5,519.1 344.2,514.6 335.9,518.1 z"/>
<path color="#3e27a9" d="M356.8,523.7 365,520.2 358.7,515.6 350.5,519.1 z"/>
<path color="#3e27a9" d="M371.3,524.8 379.6,521.2 373.3,516.6 365,520.2 z"/>
<path color="#3e27a9" d="M385.9,525.8 394.2,522.3 387.9,517.7 379.6,521.2 z"/>
<path color="#3e27a9" d="M400.5,526.8 408.7,523.3 402.4,518.7 394.2,522.3 z"/>
<path color="#3e27a9" d="M415.1,527.9 423.3,524.4 417,519.8 408.7,523.3 z"/>
<path color="#3e27a9" d="M429.6,528.9 437.9,525.4 431.6,520.8 423.3,524.4 z"/>
<path color="#3e27a9" d="M444.2,530 452.5,526.5 446.1,521.9 437.9,525.4 z"/>
<path color="#3e27a9" d="M458.8,531 467,527.5 460.7,522.9 452.5,526.5 z"/>
<path color="#3e27a9" d="M473.3,532.1 481.6,528.5 475.3,524 467,527.5 z"/>
<path color="#3e27a9" d="M487.9,533.1 496.2,529.6 489.9,525 481.6,528.5 z"/>
<path color="#3e27a9" d="M502.5,534.2 510.7,530.6 504.4,526 496.2,529.6 z"/>
<path color="#3e27a9" d="M517,535.2 525.3,531.7 519,527.1 510.7,530.6 z"/>
<path color="#3e27a9" d="M531.6,536.2 539.9,532.7 533.6,528.1 525.3,531.7 z"/>
<path color="#3e27a9" d="M546.2,537.3 554.4,533.8 548.1,529.2 539.9,532.7 z"/>
<path color="#3e27a9" d="M159.1,513.6 167.4,510.1 161.1,505.6 152.8,509.1 z"/>
<path color="#3e27a9" d="M173.7,514.7 181.9,511.2 175.6,506.6 167.4,510.1 z"/>
<path color="#3e27a9" d="M188.2,515.7 196.5,512.2 190.2,507.7 181.9,511.2 z"/>
<path color="#3e27a9" d="M202.8,516.8 211.1,513.3 204.8,508.7 196.5,512.2 z"/>
<path color="#3e27a9" d="M217.4,517.8 225.6,514.3 219.3,509.7 211.1,513.3 z"/>
<path color="#3e27a9" d="M232,518.8 240.2,515.4 233.9,510.8 225.6,514.3 z"/>
<path color="#3e27a9" d="M246.5,519.9 254.8,516.4 248.5,511.8 240.2,515.4 z"/>
<path color="#3e27a9" d="M261.1,520.9 269.4,517.4 263,512.9 254.8,516.4 z"/>
<path color="#3e27a9" d="M275.7,522 283.9,518.5 277.6,513.9 269.4,517.4 z"/>
<path color="#3e27a9" d="M290.2,523 298.5,519.5 292.2,515 283.9,518.5 z"/>
<path color="#3e27a9" d="M304.8,524.1 313.1,520.6 306.8,516 298.5,519.5 z"/>
<path color="#3e27a9" d="M319.4,525.1 327.6,521.6 321.3,517.1 313.1,520.6 z"/>
<path color="#3e27a9" d="M333.9,526.2 342.2,522.7 335.9,518.1 327.6,521.6 z"/>
<path color="#3e27a9" d="M348.5,527.2 356.8,523.7 350.5,519.1 342.2,522.7 z"/>
<path color="#3e27a9" d="M363.1,528.2 371.3,524.8 365,520.2 356.8,523.7 z"/>
<path color="#3e27a9" d="M377.7,529.3 385.9,525.8 379.6,521.2 371.3,524.8 z"/>
<path color="#3e27a9" d="M392.2,530.3 400.5,526.8 394.2,522.3 385.9,525.8 z"/>
<path color="#3e27a9" d="M406.8,531.4 415.1,527.9 408.7,523.3 400.5,526.8 z"/>
<path color="#3e27a9" d="M421.4,532.4 429.6,528.9 423.3,524.4 415.1,527.9 z"/>
<path color="#3e27a9" d="M435.9,533.5 444.2,530 437.9,525.4 429.6,528.9 z"/>
<path color="#3e27a9" d="M450.5,534.5 458.8,531 452.5,526.5 444.2,530 z"/>
<path color="#3e27a9" d="M465.1,535.6 473.3,532.1 467,527.5 458.8,531 z"/>
<path color="#3e27a9" d="M479.6,536.6 487.9,533.1 481.6,528.5 473.3,532.1 z"/>
<path color="#3e27a9" d="M494.2,537.6 502.5,534.2 496.2,529.6 487.9,533.1 z"/>
<path color="#3e27a9" d="M508.8,538.7 517,535.2 510.7,530.6 502.5,534.2 z"/>
<path color="#3e27a9" d="M523.4,539.7 531.6,536.2 525.3,531.7 517,535.2 z"/>
<path color="#3e27a9" d="M537.9,540.8 546.2,537.3 539.9,532.7 531.6,536.2 z"/>
<path color="#3e27a9" d="M552.5,541.8 560.8,538.3 554.4,533.8 546.2,537.3 z"/>
<path color="#3e26a9" d="M150.8,517.1 159.1,513.6 152.8,509.1 144.5,512.6 z"/>
<path color="#3e26a9" d="M165.4,518.2 173.7,514.7 167.4,510.1 159.1,513.6 z"/>
<path color="#3e26a9" d="M180,519.2 188.2,515.7 181.9,511.2 173.7,514.7 z"/>
<path color="#3e26a9" d="M194.5,520.2 202.8,516.8 196.5,512.2 188.2,515.7 z"/>
<path color="#3e26a9" d="M209.1,521.3 217.4,517.8 211.1,513.3 202.8,516.8 z"/>
<path color="#3e26a9" d="M223.7,522.3 232,518.8 225.6,514.3 217.4,517.8 z"/>
<path color="#3e26a9" d="M238.3,523.4 246.5,519.9 240.2,515.4 232,518.8 z"/>
<path color="#3e26a9" d="M252.8,524.4 261.1,520.9 254.8,516.4 246.5,519.9 z"/>
<path color="#3e26a9" d="M267.4,525.5 275.7,522 269.4,517.4 261.1,520.9 z"/>
<path color="#3e26a9" d="M282,526.5 290.2,523 283.9,518.5 275.7,522 z"/>
<path color="#3e26a9" d="M296.5,527.6 304.8,524.1 298.5,519.5 290.2,523 z"/>
<path color="#3e26a9" d="M311.1,528.6 319.4,525.1 313.1,520.6 304.8,524.1 z"/>
<path color="#3e26a9" d="M325.7,529.6 333.9,526.2 327.6,521.6 319.4,525.1 z"/>
<path color="#3e26a9" d="M340.2,530.7 348.5,527.2 342.2,522.7 333.9,526.2 z"/>
<path color="#3e26a9" d="M354.8,531.7 363.1,528.2 356.8,523.7 348.5,527.2 z"/>
<path color="#3e26a9" d="M369.4,532.8 377.7,529.3 371.3,524.8 363.1,528.2 z"/>
<path color="#3e26a9" d="M384,533.8 392.2,530.3 385.9,525.8 377.7,529.3 z"/>
<path color="#3e26a9" d="M398.5,534.9 406.8,531.4 400.5,526.8 392.2,530.3 z"/>
<path color="#3e26a9" d="M413.1,535.9 421.4,532.4 415.1,527.9 406.8,531.4 z"/>
<path color="#3e26a9" d="M427.7,537 435.9,533.5 429.6,528.9 421.4,532.4 z"/>
<path color="#3e26a9" d="M442.2,538 450.5,534.5 444.2,530 435.9,533.5 z"/>
<path color="#3e26a9" d="M456.8,539 465.1,535.6 458.8,531 450.5,534.5 z"/>
<path color="#3e26a9" d="M471.4,540.1 479.6,536.6 473.3,532.1 465.1,535.6 z"/>
<path color="#3e26a9" d="M485.9,541.1 494.2,537.6 487.9,533.1 479.6,536.6 z"/>
<path color="#3e26a9" d="M500.5,542.2 508.8,538.7 502.5,534.2 494.2,537.6 z"/>
<path color="#3e26a9" d="M515.1,543.2 523.4,539.7 517,535.2 508.8,538.7 z"/>
<path color="#3e26a9" d="M529.7,544.3 537.9,540.8 531.6,536.2 523.4,539.7 z"/>
<path color="#3e26a9" d="M544.2,545.3 552.5,541.8 546.2,537.3 537.9,540.8 z"/>
<path color="#3e26a9" d="M558.8,546.4 567.1,542.9 560.8,538.3 552.5,541.8 z"/>
<path color="#3e26a9" d="M142.6,520.6 150.8,517.1 144.5,512.6 136.3,516.1 z"/>
<path color="#3e26a9" d="M157.1,521.6 165.4,518.2 159.1,513.6 150.8,517.1 z"/>
<path color="#3e26a9" d="M171.7,522.7 180,519.2 173.7,514.7 165.4,518.2 z"/>
<path color="#3e26a9" d="M186.3,523.7 194.5,520.2 188.2,515.7 180,519.2 z"/>
<path color="#3e26a9" d="M200.9,524.7 209.1,521.3 202.8,516.8 194.5,520.2 z"/>
<path color="#3e26a9" d="M215.4,525.8 223.7,522.3 217.4,517.8 209.1,521.3 z"/>
<path color="#3e26a9" d="M230,526.8 238.3,523.4 232,518.8 223.7,522.3 z"/>
<path color="#3e26a9" d="M244.6,527.9 252.8,524.4 246.5,519.9 238.3,523.4 z"/>
<path color="#3e26a9" d="M259.1,528.9 267.4,525.5 261.1,520.9 252.8,524.4 z"/>
<path color="#3e26a9" d="M273.7,530 282,526.5 275.7,522 267.4,525.5 z"/>
<path color="#3e26a9" d="M288.3,531 296.5,527.6 290.2,523 282,526.5 z"/>
<path color="#3e26a9" d="M302.8,532.1 311.1,528.6 304.8,524.1 296.5,527.6 z"/>
<path color="#3e26a9" d="M317.4,533.1 325.7,529.6 319.4,525.1 311.1,528.6 z"/>
<path color="#3e26a9" d="M332,534.2 340.2,530.7 333.9,526.2 325.7,529.6 z"/>
<path color="#3e26a9" d="M346.6,535.2 354.8,531.7 348.5,527.2 340.2,530.7 z"/>
<path color="#3e26a9" d="M361.1,536.2 369.4,532.8 363.1,528.2 354.8,531.7 z"/>
<path color="#3e26a9" d="M375.7,537.3 384,533.8 377.7,529.3 369.4,532.8 z"/>
<path color="#3e26a9" d="M390.3,538.3 398.5,534.9 392.2,530.3 384,533.8 z"/>
<path color="#3e26a9" d="M404.8,539.4 413.1,535.9 406.8,531.4 398.5,534.9 z"/>
<path color="#3e26a9" d="M419.4,540.4 427.7,537 421.4,532.4 413.1,535.9 z"/>
<path color="#3e26a9" d="M434,541.5 442.2,538 435.9,533.5 427.7,537 z"/>
<path color="#3e26a9" d="M448.5,542.5 456.8,539 450.5,534.5 442.2,538 z"/>
<path color="#3e26a9" d="M463.1,543.6 471.4,540.1 465.1,535.6 456.8,539 z"/>
<path color="#3e26a9" d="M477.7,544.6 485.9,541.1 479.6,536.6 471.4,540.1 z"/>
<path color="#3e26a9" d="M492.3,545.6 500.5,542.2 494.2,537.6 485.9,541.1 z"/>
<path color="#3e26a9" d="M506.8,546.7 515.1,543.2 508.8,538.7 500.5,542.2 z"/>
<path color="#3e26a9" d="M521.4,547.7 529.7,544.3 523.4,539.7 515.1,543.2 z"/>
<path color="#3e26a9" d="M536,548.8 544.2,545.3 537.9,540.8 529.7,544.3 z"/>
<path color="#3e26a9" d="M550.5,549.8 558.8,546.4 552.5,541.8 544.2,545.3 z"/>
<path color="#3e26a9" d="M565.1,550.9 573.4,547.4 567.1,542.9 558.8,546.4 z"/>
<path color="#3e26a9" d="M134.3,524 142.6,520.6 136.3,516.1 128,519.5 z"/>
<path color="#3e26a9" d="M148.9,525.1 157.1,521.6 150.8,517.1 142.6,520.6 z"/>
<path color="#3e26a9" d="M163.5,526.1 171.7,522.7 165.4,518.2 157.1,521.6 z"/>
<path color="#3e26a9" d="M178,527.2 186.3,523.7 180,519.2 171.7,522.7 z"/>
<path color="#3e26a9" d="M192.6,528.2 200.9,524.7 194.5,520.2 186.3,523.7 z"/>
<path color="#3e26a9" d="M207.2,529.2 215.4,525.8 209.1,521.3 200.9,524.7 z"/>
<path color="#3e26a9" d="M221.7,530.3 230,526.8 223.7,522.3 215.4,525.8 z"/>
<path color="#3e26a9" d="M236.3,531.3 244.6,527.9 238.3,523.4 230,526.8 z"/>
<path color="#3e26a9" d="M250.9,532.4 259.1,528.9 252.8,524.4 244.6,527.9 z"/>
<path color="#3e26a9" d="M265.4,533.4 273.7,530 267.4,525.5 259.1,528.9 z"/>
<path color="#3e26a9" d="M280,534.5 288.3,531 282,526.5 273.7,530 z"/>
<path color="#3e26a9" d="M294.6,535.5 302.8,532.1 296.5,527.6 288.3,531 z"/>
<path color="#3e26a9" d="M309.2,536.6 317.4,533.1 311.1,528.6 302.8,532.1 z"/>
<path color="#3e26a9" d="M323.7,537.6 332,534.2 325.7,529.6 317.4,533.1 z"/>
<path color="#3e26a9" d="M338.3,538.7 346.6,535.2 340.2,530.7 332,534.2 z"/>
<path color="#3e26a9" d="M352.9,539.7 361.1,536.2 354.8,531.7 346.6,535.2 z"/>
<path color="#3e26a9" d="M367.4,540.7 375.7,537.3 369.4,532.8 361.1,536.2 z"/>
<path color="#3e26a9" d="M382,541.8 390.3,538.3 384,533.8 375.7,537.3 z"/>
<path color="#3e26a9" d="M396.6,542.8 404.8,539.4 398.5,534.9 390.3,538.3 z"/>
<path color="#3e26a9" d="M411.1,543.9 419.4,540.4 413.1,535.9 404.8,539.4 z"/>
<path color="#3e26a9" d="M425.7,544.9 434,541.5 427.7,537 419.4,540.4 z"/>
<path color="#3e26a9" d="M440.3,546 448.5,542.5 442.2,538 434,541.5 z"/>
<path color="#3e26a9" d="M454.9,547 463.1,543.6 456.8,539 448.5,542.5 z"/>
<path color="#3e26a9" d="M469.4,548.1 477.7,544.6 471.4,540.1 463.1,543.6 z"/>
<path color="#3e26a9" d="M484,549.1 492.3,545.6 485.9,541.1 477.7,544.6 z"/>
<path color="#3e26a9" d="M498.6,550.1 506.8,546.7 500.5,542.2 492.3,545.6 z"/>
<path color="#3e26a9" d="M513.1,551.2 521.4,547.7 515.1,543.2 506.8,546.7 z"/>
<path color="#3e26a9" d="M527.7,552.2 536,548.8 529.7,544.3 521.4,547.7 z"/>
<path color="#3e26a9" d="M542.3,553.3 550.5,549.8 544.2,545.3 536,548.8 z"/>
<path color="#3e26a9" d="M556.8,554.3 565.1,550.9 558.8,546.4 550.5,549.8 z"/>
<path color="#3e26a9" d="M571.4,555.4 579.7,551.9 573.4,547.4 565.1,550.9 z"/>
<path color="#3e26a9" d="M126,527.5 134.3,524 128,519.5 119.7,523 z"/>
<path color="#3e26a9" d="M140.6,528.5 148.9,525.1 142.6,520.6 134.3,524 z"/>
<path color="#3e26a9" d="M155.2,529.6 163.5,526.1 157.1,521.6 148.9,525.1 z"/>
<path color="#3e26a9" d="M169.8,530.6 178,527.2 171.7,522.7 163.5,526.1 z"/>
<path color="#3e26a9" d="M184.3,531.7 192.6,528.2 186.3,523.7 178,527.2 z"/>
<path color="#3e26a9" d="M198.9,532.7 207.2,529.2 200.9,524.7 192.6,528.2 z"/>
<path color="#3e26a9" d="M213.5,533.7 221.7,530.3 215.4,525.8 207.2,529.2 z"/>
<path color="#3e26a9" d="M228,534.8 236.3,531.3 230,526.8 221.7,530.3 z"/>
<path color="#3e26a9" d="M242.6,535.8 250.9,532.4 244.6,527.9 236.3,531.3 z"/>
<path color="#3e26a9" d="M257.2,536.9 265.4,533.4 259.1,528.9 250.9,532.4 z"/>
<path color="#3e26a9" d="M271.7,537.9 280,534.5 273.7,530 265.4,533.4 z"/>
<path color="#3e26a9" d="M286.3,539 294.6,535.5 288.3,531 280,534.5 z"/>
<path color="#3e26a9" d="M300.9,540 309.2,536.6 302.8,532.1 294.6,535.5 z"/>
<path color="#3e26a9" d="M315.5,541.1 323.7,537.6 317.4,533.1 309.2,536.6 z"/>
<path color="#3e26a9" d="M330,542.1 338.3,538.7 332,534.2 323.7,537.6 z"/>
<path color="#3e26a9" d="M344.6,543.1 352.9,539.7 346.6,535.2 338.3,538.7 z"/>
<path color="#3e26a9" d="M359.2,544.2 367.4,540.7 361.1,536.2 352.9,539.7 z"/>
<path color="#3e26a9" d="M373.7,545.2 382,541.8 375.7,537.3 367.4,540.7 z"/>
<path color="#3e26a9" d="M388.3,546.3 396.6,542.8 390.3,538.3 382,541.8 z"/>
<path color="#3e26a9" d="M402.9,547.3 411.1,543.9 404.8,539.4 396.6,542.8 z"/>
<path color="#3e26a9" d="M417.4,548.4 425.7,544.9 419.4,540.4 411.1,543.9 z"/>
<path color="#3e26a9" d="M432,549.4 440.3,546 434,541.5 425.7,544.9 z"/>
<path color="#3e26a9" d="M446.6,550.5 454.9,547 448.5,542.5 440.3,546 z"/>
<path color="#3e26a9" d="M461.2,551.5 469.4,548.1 463.1,543.6 454.9,547 z"/>
<path color="#3e26a9" d="M475.7,552.5 484,549.1 477.7,544.6 469.4,548.1 z"/>
<path color="#3e26a9" d="M490.3,553.6 498.6,550.1 492.3,545.6 484,549.1 z"/>
<path color="#3e26a9" d="M504.9,554.6 513.1,551.2 506.8,546.7 498.6,550.1 z"/>
<path color="#3e26a9" d="M519.4,555.7 527.7,552.2 521.4,547.7 513.1,551.2 z"/>
<path color="#3e26a9" d="M534,556.7 542.3,553.3 536,548.8 527.7,552.2 z"/>
<path color="#3e26a9" d="M548.6,557.8 556.8,554.3 550.5,549.8 542.3,553.3 z"/>
<path color="#3e26a9" d="M563.1,558.8 571.4,555.4 565.1,550.9 556.8,554.3 z"/>
<path color="#3e26a9" d="M577.7,559.9 586,556.4 579.7,551.9 571.4,555.4 z"/>
<path color="#3e26a9" d="M117.8,530.9 126,527.5 119.7,523 111.5,526.4 z"/>
<path color="#3e26a9" d="M132.4,532 140.6,528.5 134.3,524 126,527.5 z"/>
<path color="#3e26a9" d="M146.9,533 155.2,529.6 148.9,525.1 140.6,528.5 z"/>
<path color="#3e26a9" d="M161.5,534 169.8,530.6 163.5,526.1 155.2,529.6 z"/>
<path color="#3e26a9" d="M176.1,535.1 184.3,531.7 178,527.2 169.8,530.6 z"/>
<path color="#3e26a9" d="M190.6,536.1 198.9,532.7 192.6,528.2 184.3,531.7 z"/>
<path color="#3e26a9" d="M205.2,537.2 213.5,533.7 207.2,529.2 198.9,532.7 z"/>
<path color="#3e26a9" d="M219.8,538.2 228,534.8 221.7,530.3 213.5,533.7 z"/>
<path color="#3e26a9" d="M234.3,539.3 242.6,535.8 236.3,531.3 228,534.8 z"/>
<path color="#3e26a9" d="M248.9,540.3 257.2,536.9 250.9,532.4 242.6,535.8 z"/>
<path color="#3e26a9" d="M263.5,541.4 271.7,537.9 265.4,533.4 257.2,536.9 z"/>
<path color="#3e26a9" d="M278.1,542.4 286.3,539 280,534.5 271.7,537.9 z"/>
<path color="#3e26a9" d="M292.6,543.4 300.9,540 294.6,535.5 286.3,539 z"/>
<path color="#3e26a9" d="M307.2,544.5 315.5,541.1 309.2,536.6 300.9,540 z"/>
<path color="#3e26a9" d="M321.8,545.5 330,542.1 323.7,537.6 315.5,541.1 z"/>
<path color="#3e26a9" d="M336.3,546.6 344.6,543.1 338.3,538.7 330,542.1 z"/>
<path color="#3e26a9" d="M350.9,547.6 359.2,544.2 352.9,539.7 344.6,543.1 z"/>
<path color="#3e26a9" d="M365.5,548.7 373.7,545.2 367.4,540.7 359.2,544.2 z"/>
<path color="#3e26a9" d="M380,549.7 388.3,546.3 382,541.8 373.7,545.2 z"/>
<path color="#3e26a9" d="M394.6,550.8 402.9,547.3 396.6,542.8 388.3,546.3 z"/>
<path color="#3e26a9" d="M409.2,551.8 417.4,548.4 411.1,543.9 402.9,547.3 z"/>
<path color="#3e26a9" d="M423.8,552.8 432,549.4 425.7,544.9 417.4,548.4 z"/>
<path color="#3e26a9" d="M438.3,553.9 446.6,550.5 440.3,546 432,549.4 z"/>
<path color="#3e26a9" d="M452.9,554.9 461.2,551.5 454.9,547 446.6,550.5 z"/>
<path color="#3e26a9" d="M467.5,556 475.7,552.5 469.4,548.1 461.2,551.5 z"/>
<path color="#3e26a9" d="M482,557 490.3,553.6 484,549.1 475.7,552.5 z"/>
<path color="#3e26a9" d="M496.6,558.1 504.9,554.6 498.6,550.1 490.3,553.6 z"/>
<path color="#3e26a9" d="M511.2,559.1 519.4,555.7 513.1,551.2 504.9,554.6 z"/>
<path color="#3e26a9" d="M525.7,560.2 534,556.7 527.7,552.2 519.4,555.7 z"/>
<path color="#3e26a9" d="M540.3,561.2 548.6,557.8 542.3,553.3 534,556.7 z"/>
<path color="#3e26a9" d="M554.9,562.3 563.1,558.8 556.8,554.3 548.6,557.8 z"/>
<path color="#3e26a9" d="M569.5,563.3 577.7,559.9 571.4,555.4 563.1,558.8 z"/>
<path color="#3e26a9" d="M584,564.3 592.3,560.9 586,556.4 577.7,559.9 z"/>
<path color="#3e26a8" d="M109.5,534.4 117.8,530.9 111.5,526.4 103.2,529.9 z"/>
<path color="#3e26a8" d="M124.1,535.4 132.4,532 126,527.5 117.8,530.9 z"/>
<path color="#3e26a8" d="M138.7,536.4 146.9,533 140.6,528.5 132.4,532 z"/>
<path color="#3e26a8" d="M153.2,537.5 161.5,534 155.2,529.6 146.9,533 z"/>
<path color="#3e26a8" d="M167.8,538.5 176.1,535.1 169.8,530.6 161.5,534 z"/>
<path color="#3e26a8" d="M182.4,539.6 190.6,536.1 184.3,531.7 176.1,535.1 z"/>
<path color="#3e26a8" d="M196.9,540.6 205.2,537.2 198.9,532.7 190.6,536.1 z"/>
<path color="#3e26a8" d="M211.5,541.7 219.8,538.2 213.5,533.7 205.2,537.2 z"/>
<path color="#3e26a8" d="M226.1,542.7 234.3,539.3 228,534.8 219.8,538.2 z"/>
<path color="#3e26a8" d="M240.7,543.8 248.9,540.3 242.6,535.8 234.3,539.3 z"/>
<path color="#3e26a8" d="M255.2,544.8 263.5,541.4 257.2,536.9 248.9,540.3 z"/>
<path color="#3e26a8" d="M269.8,545.8 278.1,542.4 271.7,537.9 263.5,541.4 z"/>
<path color="#3e26a8" d="M284.4,546.9 292.6,543.4 286.3,539 278.1,542.4 z"/>
<path color="#3e26a8" d="M298.9,547.9 307.2,544.5 300.9,540 292.6,543.4 z"/>
<path color="#3e26a8" d="M313.5,549 321.8,545.5 315.5,541.1 307.2,544.5 z"/>
<path color="#3e26a8" d="M328.1,550 336.3,546.6 330,542.1 321.8,545.5 z"/>
<path color="#3e26a8" d="M342.6,551.1 350.9,547.6 344.6,543.1 336.3,546.6 z"/>
<path color="#3e26a8" d="M357.2,552.1 365.5,548.7 359.2,544.2 350.9,547.6 z"/>
<path color="#3e26a8" d="M371.8,553.2 380,549.7 373.7,545.2 365.5,548.7 z"/>
<path color="#3e26a8" d="M386.4,554.2 394.6,550.8 388.3,546.3 380,549.7 z"/>
<path color="#3e26a8" d="M400.9,555.2 409.2,551.8 402.9,547.3 394.6,550.8 z"/>
<path color="#3e26a8" d="M415.5,556.3 423.8,552.8 417.4,548.4 409.2,551.8 z"/>
<path color="#3e26a8" d="M430.1,557.3 438.3,553.9 432,549.4 423.8,552.8 z"/>
<path color="#3e26a8" d="M444.6,558.4 452.9,554.9 446.6,550.5 438.3,553.9 z"/>
<path color="#3e26a8" d="M459.2,559.4 467.5,556 461.2,551.5 452.9,554.9 z"/>
<path color="#3e26a8" d="M473.8,560.5 482,557 475.7,552.5 467.5,556 z"/>
<path color="#3e26a8" d="M488.3,561.5 496.6,558.1 490.3,553.6 482,557 z"/>
<path color="#3e26a8" d="M502.9,562.6 511.2,559.1 504.9,554.6 496.6,558.1 z"/>
<path color="#3e26a8" d="M517.5,563.6 525.7,560.2 519.4,555.7 511.2,559.1 z"/>
<path color="#3e26a8" d="M532.1,564.6 540.3,561.2 534,556.7 525.7,560.2 z"/>
<path color="#3e26a8" d="M546.6,565.7 554.9,562.3 548.6,557.8 540.3,561.2 z"/>
<path color="#3e26a8" d="M561.2,566.7 569.5,563.3 563.1,558.8 554.9,562.3 z"/>
<path color="#3e26a8" d="M575.8,567.8 584,564.3 577.7,559.9 569.5,563.3 z"/>
<path color="#3e26a8" d="M590.3,568.8 598.6,565.4 592.3,560.9 584,564.3 z"/>
</g>
<g fill="none" stroke="#333" stroke-width="1.1">
<path d="M53.6,550.5 L53.6,160.2"/>
<polyline points="53.6,550.5 305.9,729 636.4,592.2"/>
<path d="M53.6,515 l-8.5,-6 M53.6,479.5 l-8.5,-6 M53.6,444 l-8.5,-6 M53.6,408.5 l-8.5,-6 M53.6,373.1 l-8.5,-6 M53.6,337.6 l-8.5,-6 M53.6,302.1 l-8.5,-6 M53.6,266.6 l-8.5,-6 M53.6,231.1 l-8.5,-6 M53.6,195.6 l-8.5,-6 M53.6,160.2 l-8.5,-6 M305.9,729 l-8.3,3.5 M305.9,729 l8.6,6.1 M242.9,684.3 l-8.3,3.5 M388.6,694.8 l8.6,6.1 M179.8,639.7 l-8.3,3.5 M471.2,660.6 l8.6,6.1 M116.7,595.1 l-8.3,3.5 M553.8,626.4 l8.6,6.1 M53.6,550.5 l-8.3,3.5 M636.4,592.2 l8.6,6.1"/>
</g>
<g font-size="11.6" fill="#3c3c3c">
<text x="40.6" y="512.4" text-anchor="end">0.2</text>
<text x="40.6" y="476.9" text-anchor="end">0.4</text>
<text x="40.6" y="441.5" text-anchor="end">0.6</text>
<text x="40.6" y="406" text-anchor="end">0.8</text>
<text x="40.6" y="370.5" text-anchor="end">1</text>
<text x="40.6" y="335" text-anchor="end">1.2</text>
<text x="40.6" y="299.5" text-anchor="end">1.4</text>
<text x="40.6" y="264.1" text-anchor="end">1.6</text>
<text x="40.6" y="228.6" text-anchor="end">1.8</text>
<text x="40.6" y="193.1" text-anchor="end">2</text>
<text x="40.6" y="157.6" text-anchor="end">2.2</text>
<text x="32.5" y="568.5" text-anchor="middle">10</text>
<text x="99.1" y="613.5" text-anchor="middle">5</text>
<text x="162.6" y="658.5" text-anchor="middle">0</text>
<text x="221.7" y="703.1" text-anchor="middle">−5</text>
<text x="281.6" y="747.8" text-anchor="middle">−10</text>
<text x="325.4" y="750.4" text-anchor="middle">−10</text>
<text x="404.8" y="716.6" text-anchor="middle">−5</text>
<text x="485.8" y="682.1" text-anchor="middle">0</text>
<text x="568.4" y="648.1" text-anchor="middle">5</text>
<text x="655.2" y="612.9" text-anchor="middle">10</text>
</g>
<text x="28.1" y="136.6" font-size="11.6" text-anchor="end" fill="#3c3c3c">×</text>
<text x="31.6" y="135.3" font-size="11.6" fill="#3c3c3c">10<tspan dy="-5" font-size="9">4</tspan></text>
</g>
<g id="surf-f8">
<g fill="none">
<polyline points="53.6,1424.4 384.2,1287.2 636.4,1466.2" stroke="#dfdfdf" stroke-width="1"/>
<polyline points="53.6,1385.3 384.2,1248.2 636.4,1427.1" stroke="#dfdfdf" stroke-width="1"/>
<polyline points="53.6,1346.3 384.2,1209.2 636.4,1388.1" stroke="#dfdfdf" stroke-width="1"/>
<polyline points="53.6,1307.3 384.2,1170.1 636.4,1349.1" stroke="#dfdfdf" stroke-width="1"/>
<polyline points="53.6,1268.2 384.2,1131.1 636.4,1310" stroke="#dfdfdf" stroke-width="1"/>
<polyline points="53.6,1229.2 384.2,1092.1 636.4,1271" stroke="#dfdfdf" stroke-width="1"/>
<polyline points="53.6,1190.2 384.2,1053 636.4,1232" stroke="#dfdfdf" stroke-width="1"/>
<polyline points="53.6,1151.2 384.2,1014 636.4,1192.9" stroke="#dfdfdf" stroke-width="1"/>
<polyline points="53.6,1112.1 384.2,975 636.4,1153.9" stroke="#dfdfdf" stroke-width="1"/>
<polyline points="53.6,1073.1 384.2,936 636.4,1114.9" stroke="#dfdfdf" stroke-width="1"/>
<line x1="53.6" y1="1463.4" x2="53.6" y2="1073.1" stroke="#dfdfdf" stroke-width="1.0"/>
<line x1="636.4" y1="1505.2" x2="636.4" y2="1114.9" stroke="#dfdfdf" stroke-width="1.0"/>
<line x1="136.3" y1="1429.1" x2="136.3" y2="1038.8" stroke="#dfdfdf" stroke-width="1.0"/>
<line x1="573.4" y1="1460.4" x2="573.4" y2="1070.1" stroke="#dfdfdf" stroke-width="1.0"/>
<line x1="218.9" y1="1394.8" x2="218.9" y2="1004.5" stroke="#dfdfdf" stroke-width="1.0"/>
<line x1="510.3" y1="1415.7" x2="510.3" y2="1025.4" stroke="#dfdfdf" stroke-width="1.0"/>
<line x1="301.5" y1="1360.5" x2="301.5" y2="970.2" stroke="#dfdfdf" stroke-width="1.0"/>
<line x1="447.2" y1="1371" x2="447.2" y2="980.7" stroke="#dfdfdf" stroke-width="1.0"/>
<line x1="384.2" y1="1326.3" x2="384.2" y2="936" stroke="#dfdfdf" stroke-width="1.0"/>
<line x1="384.2" y1="1326.3" x2="384.2" y2="936" stroke="#dfdfdf" stroke-width="1.0"/>
<polyline points="53.6,1463.4 384.2,1326.3 636.4,1505.2" stroke="#dfdfdf" stroke-width="1"/>
<line x1="388.6" y1="1608" x2="136.3" y2="1429.1" stroke="#dfdfdf" stroke-width="1.0"/>
<line x1="242.9" y1="1597.6" x2="573.4" y2="1460.4" stroke="#dfdfdf" stroke-width="1.0"/>
<line x1="471.2" y1="1573.8" x2="218.9" y2="1394.8" stroke="#dfdfdf" stroke-width="1.0"/>
<line x1="179.8" y1="1552.9" x2="510.3" y2="1415.7" stroke="#dfdfdf" stroke-width="1.0"/>
<line x1="553.8" y1="1539.5" x2="301.5" y2="1360.5" stroke="#dfdfdf" stroke-width="1.0"/>
<line x1="116.7" y1="1508.1" x2="447.2" y2="1371" stroke="#dfdfdf" stroke-width="1.0"/>
</g>
<g fill="none" stroke-width="1.15">
<path stroke="#4743e7" d="M401.5,1524.3 431.5,1510.8 438.5,1506.8 443.1,1503.8 446.5,1501.4 449.2,1499.2 451.4,1497.2 453.2,1495.4 454.7,1493.7 456,1492.1 457.1,1490.6 458.1,1489.2 458.9,1487.8 459.6,1486.4 460.2,1485.1 460.7,1483.9 461.1,1482.6 461.5,1481.4 461.7,1480.3 461.9,1479.1 462.1,1478 462.2,1476.9 462.2,1475.8 462.2,1474.8 462.2,1473.7 462.1,1472.7 461.9,1471.7 461.8,1470.7 461.6,1469.8 461.3,1468.8 461.1,1467.9 460.7,1466.9 460.4,1466 460,1465.1 459.7,1464.2 459.2,1463.3 458.8,1462.5 458.3,1461.6 457.8,1460.7 457.3,1459.9 456.8,1459.1 456.2,1458.2 455.6,1457.4 455,1456.6 454.4,1455.8 453.7,1455 453.1,1454.3 452.4,1453.5 451.7,1452.7 450.9,1452 450.2,1451.2 449.4,1450.5 448.6,1449.8 447.8,1449 447,1448.3 446.2,1447.6 445.3,1446.9 444.4,1446.2 443.5,1445.5 442.6,1444.9 441.7,1444.2 440.7,1443.5 439.8,1442.9 438.8,1442.2 437.8,1441.6 436.8,1440.9 435.7,1440.3 434.7,1439.7 433.6,1439.1 432.5,1438.5 431.4,1437.9 430.2,1437.3 429.1,1436.7 427.9,1436.2 426.7,1435.6 425.5,1435 424.3,1434.5 423,1434 421.8,1433.4 420.5,1432.9 419.2,1432.4 417.8,1431.9 416.5,1431.4 415.1,1430.9 413.7,1430.4 412.2,1430 410.8,1429.5 409.3,1429.1 407.8,1428.7 406.2,1428.3 404.6,1427.8 403,1427.5 401.4,1427.1 399.7,1426.7 398,1426.4 396.3,1426 394.5,1425.7 392.6,1425.4 390.8,1425.1 388.8,1424.9 386.9,1424.6 384.8,1424.4 382.8,1424.2 380.6,1424.1 378.4,1423.9 376.1,1423.8 373.7,1423.8 371.2,1423.7 368.7,1423.8 366,1423.8 363.1,1423.9 360.1,1424.1 356.9,1424.4 353.5,1424.7 349.8,1425.2 345.8,1425.9 341.2,1426.7 335.9,1427.8 329.5,1429.4 320.6,1432.1 288.6,1444.3 288.6,1444.3 258.6,1457.8 251.5,1461.8 247,1464.7 243.6,1467.2 240.9,1469.4 238.7,1471.3 236.9,1473.1 235.4,1474.8 234.1,1476.4 232.9,1478 232,1479.4 231.2,1480.8 230.5,1482.2 229.9,1483.5 229.4,1484.7 228.9,1486 228.6,1487.2 228.3,1488.3 228.1,1489.5 228,1490.6 227.9,1491.7 227.9,1492.8 227.9,1493.8 227.9,1494.8 228,1495.9 228.1,1496.9 228.3,1497.8 228.5,1498.8 228.8,1499.8 229,1500.7 229.3,1501.7 229.7,1502.6 230,1503.5 230.4,1504.4 230.8,1505.3 231.3,1506.1 231.8,1507 232.3,1507.8 232.8,1508.7 233.3,1509.5 233.9,1510.3 234.5,1511.1 235.1,1512 235.7,1512.7 236.4,1513.5 237,1514.3 237.7,1515.1 238.4,1515.8 239.2,1516.6 239.9,1517.3 240.7,1518.1 241.5,1518.8 242.3,1519.5 243.1,1520.3 243.9,1521 244.8,1521.7 245.7,1522.4 246.6,1523 247.5,1523.7 248.4,1524.4 249.3,1525.1 250.3,1525.7 251.3,1526.4 252.3,1527 253.3,1527.6 254.4,1528.3 255.4,1528.9 256.5,1529.5 257.6,1530.1 258.7,1530.7 259.8,1531.3 261,1531.9 262.2,1532.4 263.3,1533 264.6,1533.5 265.8,1534.1 267,1534.6 268.3,1535.2 269.6,1535.7 270.9,1536.2 272.3,1536.7 273.6,1537.2 275,1537.7 276.4,1538.1 277.9,1538.6 279.3,1539 280.8,1539.5 282.3,1539.9 283.9,1540.3 285.4,1540.7 287,1541.1 288.7,1541.5 290.4,1541.9 292.1,1542.2 293.8,1542.5 295.6,1542.9 297.4,1543.2 299.3,1543.4 301.2,1543.7 303.2,1543.9 305.2,1544.1 307.3,1544.3 309.5,1544.5 311.7,1544.6 314,1544.7 316.4,1544.8 318.8,1544.8 321.4,1544.8 324.1,1544.8 327,1544.6 330,1544.5 333.1,1544.2 336.6,1543.8 340.3,1543.4 344.3,1542.7 348.9,1541.9 354.2,1540.8 360.6,1539.1 369.5,1536.5 401.5,1524.3 z"/>
<path stroke="#4367fd" d="M424.8,1540.9 462.6,1523.7 471.3,1518.6 476.9,1514.8 481,1511.6 484.2,1508.7 486.8,1506.2 489,1503.8 490.8,1501.5 492.3,1499.4 493.5,1497.4 494.6,1495.5 495.5,1493.6 496.2,1491.8 496.8,1490.1 497.3,1488.4 497.7,1486.7 498,1485.1 498.2,1483.5 498.3,1482 498.3,1480.5 498.3,1479 498.2,1477.5 498,1476.1 497.8,1474.7 497.6,1473.3 497.3,1471.9 496.9,1470.6 496.5,1469.3 496,1468 495.6,1466.7 495,1465.4 494.5,1464.1 493.9,1462.9 493.2,1461.7 492.5,1460.5 491.8,1459.2 491.1,1458.1 490.3,1456.9 489.5,1455.7 488.7,1454.6 487.9,1453.4 487,1452.3 486.1,1451.2 485.1,1450.1 484.2,1449 483.2,1447.9 482.2,1446.8 481.1,1445.8 480,1444.7 479,1443.7 477.8,1442.6 476.7,1441.6 475.6,1440.6 474.4,1439.6 473.2,1438.6 471.9,1437.6 470.7,1436.6 469.4,1435.7 468.1,1434.7 466.8,1433.8 465.5,1432.8 464.1,1431.9 462.7,1431 461.3,1430.1 459.9,1429.2 458.4,1428.3 456.9,1427.4 455.4,1426.5 453.9,1425.7 452.4,1424.8 450.8,1424 449.2,1423.1 447.6,1422.3 445.9,1421.5 444.3,1420.7 442.6,1419.9 440.8,1419.1 439.1,1418.4 437.3,1417.6 435.5,1416.8 433.7,1416.1 431.8,1415.4 429.9,1414.7 428,1414 426.1,1413.3 424.1,1412.6 422.1,1412 420,1411.3 417.9,1410.7 415.8,1410.1 413.6,1409.5 411.4,1408.9 409.1,1408.4 406.8,1407.8 404.5,1407.3 402.1,1406.8 399.7,1406.3 397.1,1405.9 394.6,1405.4 391.9,1405 389.2,1404.7 386.5,1404.3 383.6,1404 380.7,1403.7 377.6,1403.5 374.5,1403.3 371.2,1403.2 367.8,1403.1 364.3,1403.1 360.6,1403.1 356.6,1403.2 352.5,1403.5 348,1403.8 343.2,1404.3 338,1405 332.1,1406 325.3,1407.3 317,1409.2 305.7,1412.4 265.3,1427.7 265.3,1427.7 227.5,1444.9 218.8,1450 213.2,1453.8 209.1,1457 205.8,1459.8 203.2,1462.4 201.1,1464.8 199.3,1467 197.8,1469.2 196.5,1471.2 195.5,1473.1 194.6,1475 193.9,1476.8 193.3,1478.5 192.8,1480.2 192.4,1481.9 192.1,1483.5 191.9,1485.1 191.8,1486.6 191.8,1488.1 191.8,1489.6 191.9,1491 192,1492.5 192.2,1493.9 192.5,1495.3 192.8,1496.6 193.2,1498 193.6,1499.3 194,1500.6 194.5,1501.9 195.1,1503.2 195.6,1504.4 196.2,1505.7 196.9,1506.9 197.5,1508.1 198.2,1509.3 199,1510.5 199.7,1511.7 200.5,1512.9 201.4,1514 202.2,1515.1 203.1,1516.3 204,1517.4 205,1518.5 205.9,1519.6 206.9,1520.7 207.9,1521.8 209,1522.8 210,1523.9 211.1,1524.9 212.2,1525.9 213.4,1527 214.5,1528 215.7,1529 216.9,1530 218.1,1531 219.4,1531.9 220.7,1532.9 222,1533.9 223.3,1534.8 224.6,1535.8 226,1536.7 227.4,1537.6 228.8,1538.5 230.2,1539.4 231.7,1540.3 233.1,1541.2 234.6,1542.1 236.2,1542.9 237.7,1543.8 239.3,1544.6 240.9,1545.5 242.5,1546.3 244.1,1547.1 245.8,1547.9 247.5,1548.7 249.2,1549.5 251,1550.2 252.8,1551 254.6,1551.7 256.4,1552.5 258.3,1553.2 260.1,1553.9 262.1,1554.6 264,1555.3 266,1556 268,1556.6 270.1,1557.2 272.2,1557.9 274.3,1558.5 276.5,1559.1 278.7,1559.7 280.9,1560.2 283.2,1560.8 285.6,1561.3 288,1561.8 290.4,1562.3 292.9,1562.7 295.5,1563.1 298.1,1563.5 300.8,1563.9 303.6,1564.3 306.5,1564.6 309.4,1564.9 312.4,1565.1 315.6,1565.3 318.9,1565.4 322.2,1565.5 325.8,1565.5 329.5,1565.5 333.4,1565.3 337.6,1565.1 342,1564.8 346.8,1564.3 352.1,1563.6 358,1562.6 364.8,1561.3 373.1,1559.4 384.4,1556.1 424.8,1540.9 z"/>
<path stroke="#2d8cf3" d="M442.8,1553.6 485.9,1533.9 495.7,1528 502,1523.5 506.6,1519.8 510.2,1516.4 513.1,1513.4 515.5,1510.6 517.4,1508 519,1505.5 520.3,1503.1 521.5,1500.8 522.4,1498.6 523.1,1496.4 523.7,1494.4 524.1,1492.4 524.5,1490.4 524.7,1488.5 524.8,1486.6 524.8,1484.7 524.8,1482.9 524.6,1481.2 524.4,1479.4 524.1,1477.7 523.8,1476 523.4,1474.4 522.9,1472.7 522.4,1471.1 521.8,1469.5 521.2,1467.9 520.5,1466.4 519.8,1464.9 519.1,1463.3 518.3,1461.8 517.4,1460.4 516.6,1458.9 515.6,1457.4 514.7,1456 513.7,1454.6 512.7,1453.2 511.6,1451.8 510.5,1450.4 509.4,1449 508.3,1447.7 507.1,1446.3 505.9,1445 504.6,1443.7 503.4,1442.4 502.1,1441.1 500.8,1439.8 499.4,1438.5 498,1437.3 496.6,1436 495.2,1434.8 493.7,1433.6 492.2,1432.4 490.7,1431.2 489.2,1430 487.6,1428.8 486,1427.6 484.4,1426.5 482.8,1425.3 481.1,1424.2 479.4,1423 477.7,1421.9 476,1420.8 474.2,1419.7 472.4,1418.6 470.6,1417.6 468.7,1416.5 466.8,1415.4 464.9,1414.4 463,1413.4 461,1412.4 459,1411.4 457,1410.4 455,1409.4 452.9,1408.4 450.8,1407.5 448.7,1406.5 446.5,1405.6 444.3,1404.7 442,1403.8 439.8,1402.9 437.5,1402 435.1,1401.1 432.7,1400.3 430.3,1399.5 427.9,1398.7 425.4,1397.9 422.8,1397.1 420.2,1396.3 417.6,1395.6 414.9,1394.9 412.2,1394.2 409.4,1393.5 406.5,1392.9 403.6,1392.2 400.6,1391.6 397.6,1391.1 394.5,1390.5 391.3,1390 388,1389.6 384.6,1389.1 381.2,1388.8 377.6,1388.4 373.9,1388.1 370,1387.9 366,1387.7 361.9,1387.6 357.5,1387.6 352.9,1387.7 348,1387.8 342.8,1388.2 337.2,1388.7 331.1,1389.4 324.2,1390.4 316.4,1391.8 306.8,1394 293.7,1397.6 247.3,1415 247.3,1415 204.2,1434.7 194.4,1440.6 188.1,1445.1 183.4,1448.8 179.8,1452.1 177,1455.2 174.6,1458 172.7,1460.6 171.1,1463.1 169.7,1465.5 168.6,1467.8 167.7,1470 167,1472.1 166.4,1474.2 165.9,1476.2 165.6,1478.2 165.4,1480.1 165.3,1482 165.3,1483.8 165.3,1485.6 165.5,1487.4 165.7,1489.2 166,1490.9 166.3,1492.6 166.7,1494.2 167.2,1495.9 167.7,1497.5 168.3,1499.1 168.9,1500.6 169.5,1502.2 170.3,1503.7 171,1505.2 171.8,1506.7 172.7,1508.2 173.5,1509.7 174.4,1511.1 175.4,1512.6 176.4,1514 177.4,1515.4 178.5,1516.8 179.5,1518.2 180.7,1519.5 181.8,1520.9 183,1522.2 184.2,1523.6 185.4,1524.9 186.7,1526.2 188,1527.5 189.3,1528.8 190.7,1530 192.1,1531.3 193.5,1532.5 194.9,1533.8 196.4,1535 197.8,1536.2 199.4,1537.4 200.9,1538.6 202.5,1539.8 204,1541 205.7,1542.1 207.3,1543.3 209,1544.4 210.7,1545.5 212.4,1546.7 214.1,1547.8 215.9,1548.9 217.7,1549.9 219.5,1551 221.4,1552.1 223.2,1553.1 225.2,1554.2 227.1,1555.2 229,1556.2 231,1557.2 233.1,1558.2 235.1,1559.2 237.2,1560.2 239.3,1561.1 241.4,1562.1 243.6,1563 245.8,1563.9 248,1564.8 250.3,1565.7 252.6,1566.6 255,1567.4 257.3,1568.3 259.8,1569.1 262.2,1569.9 264.7,1570.7 267.3,1571.5 269.8,1572.2 272.5,1573 275.2,1573.7 277.9,1574.4 280.7,1575.1 283.6,1575.7 286.5,1576.3 289.4,1576.9 292.5,1577.5 295.6,1578 298.8,1578.5 302.1,1579 305.5,1579.4 308.9,1579.8 312.5,1580.2 316.2,1580.5 320.1,1580.7 324.1,1580.9 328.2,1581 332.6,1581 337.2,1580.9 342,1580.7 347.2,1580.4 352.9,1579.9 359,1579.2 365.8,1578.2 373.7,1576.7 383.3,1574.6 396.4,1571 442.8,1553.6 z"/>
<path stroke="#1caadf" d="M457.9,1564.3 505.2,1542.5 516,1536 522.8,1531 527.8,1526.8 531.7,1523.1 534.8,1519.7 537.3,1516.6 539.3,1513.6 541,1510.8 542.4,1508.1 543.5,1505.5 544.4,1503 545.2,1500.6 545.7,1498.3 546.1,1496 546.4,1493.8 546.5,1491.6 546.6,1489.4 546.5,1487.4 546.4,1485.3 546.1,1483.3 545.8,1481.3 545.4,1479.4 544.9,1477.4 544.4,1475.6 543.8,1473.7 543.1,1471.8 542.4,1470 541.7,1468.2 540.8,1466.5 540,1464.7 539,1463 538.1,1461.3 537.1,1459.6 536,1457.9 534.9,1456.2 533.8,1454.6 532.6,1453 531.4,1451.4 530.2,1449.8 528.9,1448.2 527.5,1446.6 526.2,1445.1 524.8,1443.5 523.4,1442 521.9,1440.5 520.5,1439 518.9,1437.5 517.4,1436 515.8,1434.6 514.2,1433.1 512.6,1431.7 510.9,1430.3 509.2,1428.8 507.5,1427.4 505.7,1426.1 504,1424.7 502.2,1423.3 500.3,1422 498.4,1420.6 496.6,1419.3 494.6,1418 492.7,1416.7 490.7,1415.4 488.7,1414.1 486.7,1412.8 484.6,1411.6 482.5,1410.3 480.4,1409.1 478.2,1407.9 476,1406.7 473.8,1405.5 471.6,1404.3 469.3,1403.1 467,1402 464.6,1400.8 462.3,1399.7 459.9,1398.6 457.4,1397.5 454.9,1396.4 452.4,1395.3 449.9,1394.3 447.3,1393.2 444.7,1392.2 442,1391.2 439.3,1390.2 436.5,1389.2 433.7,1388.3 430.9,1387.4 428,1386.4 425.1,1385.5 422.1,1384.7 419,1383.8 415.9,1383 412.8,1382.2 409.5,1381.4 406.3,1380.7 402.9,1380 399.5,1379.3 395.9,1378.6 392.3,1378 388.6,1377.4 384.8,1376.9 380.9,1376.4 376.9,1375.9 372.7,1375.6 368.4,1375.2 363.9,1375 359.2,1374.8 354.3,1374.7 349.2,1374.8 343.8,1374.9 337.9,1375.2 331.7,1375.7 324.8,1376.4 317.2,1377.4 308.5,1379 297.8,1381.3 283.3,1385.2 232.2,1404.3 232.2,1404.3 184.9,1426 174.1,1432.6 167.2,1437.6 162.2,1441.8 158.4,1445.5 155.3,1448.9 152.8,1452 150.8,1455 149.1,1457.8 147.7,1460.5 146.6,1463.1 145.6,1465.6 144.9,1468 144.4,1470.3 144,1472.6 143.7,1474.8 143.5,1477 143.5,1479.1 143.6,1481.2 143.7,1483.3 143.9,1485.3 144.3,1487.3 144.7,1489.2 145.1,1491.1 145.7,1493 146.3,1494.9 146.9,1496.7 147.7,1498.6 148.4,1500.3 149.2,1502.1 150.1,1503.9 151,1505.6 152,1507.3 153,1509 154.1,1510.7 155.2,1512.3 156.3,1514 157.5,1515.6 158.7,1517.2 159.9,1518.8 161.2,1520.4 162.5,1522 163.9,1523.5 165.3,1525.1 166.7,1526.6 168.1,1528.1 169.6,1529.6 171.1,1531.1 172.7,1532.6 174.3,1534 175.9,1535.5 177.5,1536.9 179.2,1538.3 180.9,1539.7 182.6,1541.1 184.3,1542.5 186.1,1543.9 187.9,1545.3 189.8,1546.6 191.6,1547.9 193.5,1549.3 195.4,1550.6 197.4,1551.9 199.4,1553.2 201.4,1554.5 203.4,1555.7 205.5,1557 207.6,1558.2 209.7,1559.5 211.9,1560.7 214.1,1561.9 216.3,1563.1 218.5,1564.3 220.8,1565.4 223.1,1566.6 225.4,1567.7 227.8,1568.9 230.2,1570 232.7,1571.1 235.1,1572.2 237.7,1573.2 240.2,1574.3 242.8,1575.3 245.4,1576.4 248.1,1577.4 250.8,1578.4 253.5,1579.3 256.3,1580.3 259.2,1581.2 262.1,1582.1 265,1583 268,1583.9 271,1584.8 274.1,1585.6 277.3,1586.4 280.5,1587.2 283.8,1587.9 287.2,1588.6 290.6,1589.3 294.1,1590 297.8,1590.6 301.5,1591.2 305.3,1591.7 309.2,1592.2 313.2,1592.6 317.4,1593 321.7,1593.3 326.2,1593.6 330.8,1593.8 335.7,1593.9 340.9,1593.8 346.3,1593.7 352.1,1593.4 358.4,1592.9 365.2,1592.2 372.9,1591.1 381.6,1589.6 392.2,1587.3 406.8,1583.4 457.9,1564.3 z"/>
<path stroke="#12beb9" d="M471.2,1573.8 522.1,1550.3 533.6,1543.1 540.9,1537.7 546.3,1533.2 550.3,1529.1 553.6,1525.4 556.2,1521.9 558.3,1518.7 560.1,1515.6 561.5,1512.7 562.6,1509.8 563.5,1507.1 564.2,1504.4 564.7,1501.8 565.1,1499.3 565.3,1496.9 565.4,1494.5 565.4,1492.1 565.2,1489.8 565,1487.6 564.7,1485.3 564.2,1483.1 563.7,1481 563.1,1478.9 562.5,1476.8 561.8,1474.7 561,1472.7 560.1,1470.7 559.2,1468.7 558.3,1466.7 557.2,1464.8 556.2,1462.9 555.1,1461 553.9,1459.1 552.7,1457.2 551.4,1455.4 550.1,1453.5 548.8,1451.7 547.4,1450 546,1448.2 544.5,1446.4 543,1444.7 541.5,1442.9 539.9,1441.2 538.3,1439.5 536.7,1437.9 535,1436.2 533.3,1434.5 531.5,1432.9 529.8,1431.3 528,1429.7 526.1,1428.1 524.3,1426.5 522.4,1424.9 520.4,1423.3 518.5,1421.8 516.5,1420.2 514.4,1418.7 512.4,1417.2 510.3,1415.7 508.2,1414.2 506,1412.8 503.8,1411.3 501.6,1409.9 499.4,1408.4 497.1,1407 494.8,1405.6 492.5,1404.2 490.1,1402.8 487.7,1401.4 485.3,1400.1 482.8,1398.7 480.3,1397.4 477.8,1396.1 475.2,1394.8 472.6,1393.5 470,1392.3 467.3,1391 464.6,1389.8 461.9,1388.5 459.1,1387.3 456.3,1386.1 453.4,1385 450.5,1383.8 447.6,1382.7 444.6,1381.5 441.5,1380.4 438.4,1379.4 435.3,1378.3 432.1,1377.3 428.9,1376.2 425.6,1375.2 422.2,1374.3 418.8,1373.3 415.3,1372.4 411.8,1371.5 408.1,1370.7 404.4,1369.8 400.7,1369 396.8,1368.3 392.8,1367.6 388.8,1366.9 384.6,1366.2 380.3,1365.7 375.9,1365.1 371.3,1364.7 366.6,1364.3 361.7,1363.9 356.6,1363.7 351.2,1363.5 345.6,1363.5 339.7,1363.6 333.3,1363.9 326.5,1364.3 319.1,1365.1 310.8,1366.1 301.3,1367.7 289.7,1370.2 274,1374.3 218.9,1394.8 218.9,1394.8 168,1418.3 156.5,1425.5 149.1,1430.9 143.8,1435.4 139.7,1439.5 136.5,1443.2 133.9,1446.6 131.8,1449.9 130,1453 128.6,1455.9 127.5,1458.8 126.6,1461.5 125.9,1464.2 125.3,1466.7 125,1469.2 124.8,1471.7 124.7,1474.1 124.7,1476.5 124.8,1478.8 125.1,1481 125.4,1483.2 125.9,1485.4 126.4,1487.6 126.9,1489.7 127.6,1491.8 128.3,1493.9 129.1,1495.9 130,1497.9 130.9,1499.9 131.8,1501.9 132.8,1503.8 133.9,1505.7 135,1507.6 136.2,1509.5 137.4,1511.4 138.7,1513.2 140,1515 141.3,1516.8 142.7,1518.6 144.1,1520.4 145.6,1522.2 147.1,1523.9 148.6,1525.6 150.2,1527.3 151.8,1529 153.4,1530.7 155.1,1532.4 156.8,1534 158.5,1535.7 160.3,1537.3 162.1,1538.9 164,1540.5 165.8,1542.1 167.7,1543.7 169.7,1545.3 171.6,1546.8 173.6,1548.3 175.6,1549.9 177.7,1551.4 179.8,1552.9 181.9,1554.3 184.1,1555.8 186.2,1557.3 188.4,1558.7 190.7,1560.2 193,1561.6 195.3,1563 197.6,1564.4 200,1565.8 202.4,1567.1 204.8,1568.5 207.2,1569.8 209.7,1571.2 212.3,1572.5 214.8,1573.8 217.4,1575.1 220.1,1576.3 222.7,1577.6 225.5,1578.8 228.2,1580 231,1581.3 233.8,1582.4 236.7,1583.6 239.6,1584.8 242.5,1585.9 245.5,1587 248.6,1588.1 251.6,1589.2 254.8,1590.3 258,1591.3 261.2,1592.3 264.5,1593.3 267.9,1594.3 271.3,1595.3 274.8,1596.2 278.3,1597.1 281.9,1597.9 285.6,1598.8 289.4,1599.5 293.3,1600.3 297.2,1601 301.3,1601.7 305.5,1602.3 309.8,1602.9 314.2,1603.4 318.8,1603.9 323.5,1604.3 328.4,1604.6 333.5,1604.9 338.9,1605 344.5,1605.1 350.4,1605 356.7,1604.7 363.6,1604.2 371,1603.5 379.3,1602.4 388.8,1600.8 400.3,1598.4 416,1594.3 471.2,1573.8 z"/>
<path stroke="#48cb86" d="M567.8,1533.7 569.7,1531.5 571.3,1529.4 572.8,1527.4 574,1525.4 575.2,1523.5 576.2,1521.7 577.1,1519.9 578,1518.1 578.7,1516.4 579.3,1514.7 579.9,1513.1 580.4,1511.4 580.8,1509.8 581.1,1508.3 581.4,1506.7 581.7,1505.2 581.9,1503.7 582,1502.2 582.1,1500.8 582.2,1499.3 582.2,1497.9 582.2,1496.5 582.1,1495.1 582,1493.7 581.9,1492.4 581.7,1491 581.5,1489.7 581.3,1488.4 581,1487 580.8,1485.7 580.5,1484.4 580.1,1483.2 579.8,1481.9 579.4,1480.6 579,1479.4 578.6,1478.1 578.1,1476.9 577.6,1475.7 577.2,1474.5 576.7,1473.3 576.1,1472.1 575.6,1470.9 575,1469.7 574.4,1468.5 573.8,1467.3 573.2,1466.2 572.6,1465 571.9,1463.9 571.2,1462.7 570.6,1461.6 569.9,1460.5 569.2,1459.4 568.4,1458.2 567.7,1457.1 566.9,1456 566.7,1455.8"/>
<path stroke="#48cb86" d="M453.8,1375.7 452.1,1375 450.3,1374.3 448.5,1373.6 446.7,1373 444.9,1372.3 443,1371.7 441.2,1371 439.3,1370.4 437.4,1369.7 435.5,1369.1 433.6,1368.5 431.7,1367.9 429.7,1367.2 427.8,1366.6 425.8,1366.1 423.8,1365.5 421.7,1364.9 419.7,1364.3 417.6,1363.8 415.5,1363.2 413.4,1362.7 411.3,1362.1 409.1,1361.6 406.9,1361.1 404.7,1360.6 402.5,1360.1 400.2,1359.6 397.9,1359.2 395.6,1358.7 393.3,1358.3 390.9,1357.9 388.4,1357.4 386,1357 383.5,1356.7 381,1356.3 378.4,1355.9 375.8,1355.6 373.1,1355.3 370.4,1355 367.7,1354.7 364.9,1354.5 362,1354.2 359.1,1354 356.1,1353.8 353,1353.7 349.9,1353.6 346.7,1353.5 343.4,1353.5 339.9,1353.5 336.4,1353.5 332.8,1353.6 329,1353.7 325.1,1354 321,1354.2 316.6,1354.6 315.5,1354.7"/>
<path stroke="#48cb86" d="M374.5,1613.9 370.2,1614.3 366,1614.6 362,1614.8 358.2,1615 354.6,1615.1 351,1615.1 347.6,1615.1 344.2,1615.1 341,1615 337.8,1614.9 334.8,1614.8 331.7,1614.6 328.8,1614.4 325.9,1614.2 323.1,1613.9 320.3,1613.7 317.6,1613.4 314.9,1613.1 312.3,1612.7 309.7,1612.4 307.2,1612 304.7,1611.6 302.2,1611.2 299.8,1610.8 297.4,1610.4 295.1,1610 292.7,1609.5 290.4,1609.1 288.2,1608.6 285.9,1608.1 283.7,1607.6 281.5,1607.1 279.3,1606.6 277.2,1606 275.1,1605.5 273,1605 270.9,1604.4 268.9,1603.8 266.8,1603.3 264.8,1602.7 262.8,1602.1 260.8,1601.5 258.9,1600.9 256.9,1600.3 255,1599.6 253.1,1599 251.2,1598.4 249.4,1597.7 247.5,1597.1 245.7,1596.4 243.8,1595.8 242,1595.1 240.2,1594.4 238.5,1593.8 236.7,1593.1 236.2,1592.9"/>
<path stroke="#48cb86" d="M123.3,1512.8 122.6,1511.7 121.8,1510.6 121.1,1509.5 120.4,1508.4 119.7,1507.3 119,1506.1 118.3,1505 117.7,1503.8 117,1502.7 116.4,1501.5 115.8,1500.4 115.2,1499.2 114.6,1498 114.1,1496.8 113.6,1495.6 113,1494.4 112.6,1493.2 112.1,1492 111.6,1490.7 111.2,1489.5 110.8,1488.3 110.4,1487 110,1485.7 109.7,1484.5 109.4,1483.2 109.1,1481.9 108.8,1480.6 108.6,1479.2 108.4,1477.9 108.2,1476.5 108.1,1475.2 108,1473.8 107.9,1472.4 107.9,1471 107.9,1469.6 107.9,1468.2 108,1466.7 108.2,1465.2 108.4,1463.7 108.6,1462.2 108.9,1460.7 109.2,1459.1 109.6,1457.5 110.1,1455.9 110.6,1454.3 111.2,1452.6 111.9,1450.9 112.7,1449.2 113.6,1447.4 114.6,1445.5 115.7,1443.7 117,1441.7 118.4,1439.7 120,1437.6 121.8,1435.5 122.3,1434.9"/>
<path stroke="#9fc942" d="M592.9,1523.2 593.7,1521.5 594.3,1519.8 594.9,1518.2 595.4,1516.5 595.8,1514.9 596.2,1513.4 596.5,1511.8 596.8,1510.3 597,1508.8 597.2,1507.3 597.3,1505.8 597.4,1504.4 597.4,1502.9 597.4,1501.5 597.4,1500.1 597.3,1498.7 597.2,1497.3 597.1,1496 597,1494.6 596.8,1493.3 596.5,1492 596.3,1490.6 596,1489.3 595.7,1488 595.4,1486.7 595.1,1485.5 594.7,1484.2 594.3,1483 593.9,1481.7 593.5,1480.5 593,1479.2 592.6,1478 592.1,1476.8 591.6,1475.6 591,1474.4 590.5,1473.2 590.1,1472.3"/>
<path stroke="#9fc942" d="M430.5,1359.1 428.5,1358.5 426.6,1357.9 424.6,1357.3 422.5,1356.8 420.5,1356.2 418.4,1355.6 416.4,1355.1 414.3,1354.5 412.1,1354 410,1353.5 407.8,1352.9 405.7,1352.4 403.4,1351.9 401.2,1351.4 399,1351 396.7,1350.5 394.4,1350 392,1349.6 389.6,1349.1 387.2,1348.7 384.8,1348.3 382.3,1347.9 379.8,1347.5 377.3,1347.2 374.7,1346.8 372.1,1346.5 369.4,1346.2 366.7,1345.9 364,1345.6 361.2,1345.4 358.3,1345.1 355.4,1344.9 352.4,1344.7 349.4,1344.6 346.3,1344.4 343.1,1344.3 340.7,1344.3"/>
<path stroke="#9fc942" d="M349.4,1624.3 346.2,1624.2 343,1624.1 339.9,1624 336.9,1623.8 333.9,1623.6 331,1623.4 328.2,1623.2 325.4,1622.9 322.7,1622.6 320,1622.3 317.3,1622 314.7,1621.7 312.1,1621.3 309.6,1620.9 307.1,1620.6 304.7,1620.2 302.2,1619.8 299.8,1619.3 297.5,1618.9 295.1,1618.4 292.8,1618 290.6,1617.5 288.3,1617 286.1,1616.5 283.9,1616 281.7,1615.5 279.5,1615 277.4,1614.5 275.3,1613.9 273.2,1613.4 271.1,1612.8 269.1,1612.2 267,1611.7 265,1611.1 263,1610.5 261,1609.9 259.6,1609.5"/>
<path stroke="#9fc942" d="M100,1496.3 99.4,1495.1 98.9,1493.9 98.4,1492.7 97.9,1491.5 97.4,1490.3 96.9,1489 96.5,1487.8 96.1,1486.6 95.7,1485.3 95.3,1484.1 94.9,1482.8 94.6,1481.5 94.3,1480.2 94,1478.9 93.7,1477.6 93.5,1476.3 93.3,1475 93.1,1473.6 92.9,1472.3 92.8,1470.9 92.7,1469.5 92.7,1468.1 92.6,1466.7 92.7,1465.3 92.7,1463.8 92.8,1462.4 92.9,1460.9 93.1,1459.4 93.4,1457.9 93.6,1456.4 94,1454.8 94.4,1453.2 94.8,1451.6 95.3,1450 95.9,1448.3 96.6,1446.6 97.1,1445.4"/>
<path stroke="#eaba31" d="M610.6,1515.9 610.8,1514.4 611,1512.9 611.2,1511.4 611.3,1509.9 611.4,1508.5 611.5,1507 611.5,1505.6 611.5,1504.2 611.4,1502.8 611.3,1501.4 611.2,1500 611.1,1498.7 610.9,1497.3 610.7,1496 610.5,1494.7 610.2,1493.4 609.9,1492.1 609.6,1490.8 609.3,1489.5 609,1488.2 608.6,1486.9 608.2,1485.7 608,1485.1"/>
<path stroke="#eaba31" d="M412.5,1346.4 410.4,1345.9 408.2,1345.3 406.1,1344.8 403.9,1344.3 401.7,1343.8 399.4,1343.3 397.2,1342.8 394.9,1342.4 392.6,1341.9 390.2,1341.4 387.9,1341 385.5,1340.6 383.1,1340.2 380.6,1339.8 378.1,1339.4 375.6,1339 373,1338.7 370.5,1338.3 367.8,1338 365.2,1337.7 362.4,1337.4 359.7,1337.1 358.3,1337"/>
<path stroke="#eaba31" d="M331.8,1631.6 329,1631.3 326.3,1631 323.6,1630.7 320.9,1630.4 318.3,1630.1 315.7,1629.7 313.2,1629.4 310.7,1629 308.2,1628.6 305.8,1628.2 303.4,1627.8 301,1627.4 298.7,1626.9 296.3,1626.5 294.1,1626 291.8,1625.5 289.5,1625 287.3,1624.5 285.1,1624 282.9,1623.5 280.8,1623 278.6,1622.5 277.6,1622.2"/>
<path stroke="#eaba31" d="M82.1,1483.5 81.7,1482.3 81.3,1481 80.9,1479.7 80.6,1478.5 80.3,1477.2 80,1475.9 79.7,1474.6 79.5,1473.2 79.3,1471.9 79.1,1470.6 78.9,1469.2 78.8,1467.9 78.7,1466.5 78.6,1465.1 78.6,1463.7 78.6,1462.3 78.6,1460.8 78.7,1459.4 78.8,1457.9 78.9,1456.4 79.1,1454.9 79.4,1453.4 79.5,1452.7"/>
<path stroke="#fad42e" d="M624.6,1510.1 624.6,1508.7 624.6,1507.3 624.5,1505.9 624.4,1504.5 624.3,1503.1 624.1,1501.8 624,1500.4 623.8,1499.1 623.5,1497.8 623.3,1496.5 623.1,1495.8"/>
<path stroke="#fad42e" d="M397.3,1335.7 395.1,1335.2 392.8,1334.7 390.5,1334.3 388.2,1333.8 385.8,1333.4 383.4,1332.9 381,1332.5 378.6,1332.1 376.1,1331.7 373.6,1331.3 372.3,1331.2"/>
<path stroke="#fad42e" d="M317.8,1637.4 315.3,1637 312.8,1636.7 310.3,1636.3 307.9,1635.9 305.5,1635.4 303.1,1635 300.8,1634.6 298.4,1634.1 296.1,1633.6 293.9,1633.2 292.7,1632.9"/>
<path stroke="#fad42e" d="M66.9,1472.8 66.7,1471.5 66.4,1470.1 66.2,1468.8 66,1467.5 65.9,1466.1 65.7,1464.8 65.6,1463.4 65.5,1462 65.5,1460.6 65.5,1459.2 65.5,1458.5"/>
</g>
<g class="s">
<path color="#f1ba37" d="M381.1,1018.6l.3-.9 -.5-.1z"/>
<path color="#fabb3d" d="M381.4,1017.7l2.1-7.9 -5-.8 2.4,8.6z"/>
<path color="#fec03b" d="M383.5,1009.8l2.1-7.8 -9.4-1.7 2.3,8.7z"/>
<path color="#fec736" d="M385.6,1002l2.2-7.9 -14-2.4 2.4,8.6z"/>
<path color="#fdce31" d="M387.8,994.1l2.1-7.8 -18.4-3.2 2.3,8.6z"/>
<path color="#fad52e" d="M389.9,986.3l2.1-7.9 -18.5-3.2 -2.1,7.7 .1,.2z"/>
<path color="#f7dc2a" d="M392,978.4l1.9-6.7 -.4-1.2 -17.9-3.1 -2.1,7.8z"/>
<path color="#f5e327" d="M393.5,970.5l-2.3-8.7 -13.4-2.3 -2.2,7.9z"/>
<path color="#f5ea24" d="M391.2,961.8l-2.4-8.6 -8.9-1.5 -2.1,7.8z"/>
<path color="#f6f11f" d="M388.8,953.2l-2.3-8.6 -4.5-.8 -2.1,7.9z"/>
<path color="#f8f818" d="M386.5,944.6l-2.3-8.6 -2.2,7.8z"/>
<path color="#b3c534" d="M368.4,1059.2l.5-1.5 -.9-.1z"/>
<path color="#c1c32c" d="M368.9,1057.7l2.5-8 -5.7-.7 2.3,8.6z"/>
<path color="#cfc028" d="M371.4,1049.7l2.5-8 -10.6-1.3 2.4,8.6z"/>
<path color="#dbbd29" d="M373.9,1041.7l2.5-8 -15.4-2 2.3,8.7z"/>
<path color="#e7bb2e" d="M376.4,1033.7l2.5-8 -20.1-2.6 -.1,.3 2.3,8.3z"/>
<path color="#f1ba37" d="M378.9,1025.7l2.2-7.1 -.2-1 -19.6-2.5 -2.5,8z"/>
<path color="#fabb3d" d="M380.9,1017.6l-2.4-8.6 -14.7-1.9 -2.5,8z"/>
<path color="#fec03b" d="M378.5,1009l-2.3-8.7 -9.8-1.2 -2.6,8z"/>
<path color="#fec736" d="M376.2,1000.3l-2.4-8.6 -4.9-.6 -2.5,8z"/>
<path color="#fdce31" d="M373.8,991.7l-2.3-8.6 -.1,0 -2.5,8z"/>
<path color="#fad52e" d="M371.5,983.1l-.1-.2 0,.2z"/>
<path color="#cfc028" d="M390.8,1052.1l2-7.3 -4.3-.9z"/>
<path color="#dbbd29" d="M392.8,1044.8l2.1-7.9 -9-1.8 2.6,8.8z"/>
<path color="#e7bb2e" d="M394.9,1036.9l2.2-7.8 -13.7-2.7 2.5,8.7z"/>
<path color="#f1ba37" d="M397.1,1029.1l2.1-7.9 -17.8-3.5 -.3,.9 2.3,7.8z"/>
<path color="#fabb3d" d="M399.2,1021.2l2.1-7.8 -17.8-3.6 -2.1,7.9z"/>
<path color="#fec03b" d="M401.3,1013.4l2.2-7.9 -17.9-3.5 -2.1,7.8z"/>
<path color="#fec736" d="M403.5,1005.5l.1-.4 -2.5-8.3 -13.3-2.7 -2.2,7.9z"/>
<path color="#fdce31" d="M401.1,996.8l-2.5-8.8 -8.7-1.7 -2.1,7.8z"/>
<path color="#fad52e" d="M398.6,988l-2.6-8.8 -4-.8 -2.1,7.9z"/>
<path color="#f7dc2a" d="M396,979.2l-2.1-7.5 -1.9,6.7z"/>
<path color="#73cd63" d="M355.7,1093.8l1.2-3.2 -2.1-.2z"/>
<path color="#83cc57" d="M356.9,1090.6l3-8.2 -7.5-.6 2.4,8.6z"/>
<path color="#94ca4a" d="M359.9,1082.4l3-8.3 -12.8-.9 2.3,8.6z"/>
<path color="#a4c83e" d="M362.9,1074.1l3.1-8.2 -18.2-1.4 2.3,8.7z"/>
<path color="#b3c534" d="M366,1065.9l2.4-6.7 -.4-1.6 -21.2-1.6 -.8,2.1 1.8,6.4z"/>
<path color="#c1c32c" d="M368,1057.6l-2.3-8.6 -15.9-1.2 -3,8.2z"/>
<path color="#cfc028" d="M365.7,1049l-2.4-8.6 -10.5-.8 -3,8.2z"/>
<path color="#dbbd29" d="M363.3,1040.4l-2.3-8.7 -5.2-.4 -3,8.3z"/>
<path color="#e7bb2e" d="M361,1031.7l-2.3-8.3 -2.9,7.9z"/>
<path color="#83cc57" d="M378.1,1092.6l2.5-7.9 -5-.8z"/>
<path color="#94ca4a" d="M380.6,1084.7l2.5-8 -10-1.5 2.5,8.7z"/>
<path color="#a4c83e" d="M383.1,1076.7l2.5-8 -15.1-2.3 2.6,8.8z"/>
<path color="#b3c534" d="M385.6,1068.7l2.6-8.1 -19.3-2.9 -.5,1.5 2.1,7.2z"/>
<path color="#c1c32c" d="M388.2,1060.6l2.5-8 -19.3-2.9 -2.5,8z"/>
<path color="#cfc028" d="M390.7,1052.6l.1-.5 -2.3-8.2 -14.6-2.2 -2.5,8z"/>
<path color="#dbbd29" d="M388.5,1043.9l-2.6-8.8 -9.5-1.4 -2.5,8z"/>
<path color="#e7bb2e" d="M385.9,1035.1l-2.5-8.7 -4.5-.7 -2.5,8z"/>
<path color="#f1ba37" d="M383.4,1026.4l-2.3-7.8 -2.2,7.1z"/>
<path color="#94ca4a" d="M400.5,1083.2l.9-3.2 -2-.5z"/>
<path color="#a4c83e" d="M401.4,1080l2.1-7.9 -6.9-1.5 2.8,8.9z"/>
<path color="#b3c534" d="M403.5,1072.1l2.2-7.8 -11.9-2.6 2.8,8.9z"/>
<path color="#c1c32c" d="M405.7,1064.3l2.1-7.9 -16.8-3.7 2.8,9z"/>
<path color="#cfc028" d="M407.8,1056.4l2.1-7.8 -17.1-3.8 -2,7.3 .2,.6z"/>
<path color="#dbbd29" d="M409.9,1048.6l2.2-7.9 -17.2-3.8 -2.1,7.9z"/>
<path color="#e7bb2e" d="M412.1,1040.7l1.2-4.4 -1.2-3.9 -15-3.3 -2.2,7.8z"/>
<path color="#f1ba37" d="M412.1,1032.4l-2.8-8.9 -10.1-2.3 -2.1,7.9z"/>
<path color="#fabb3d" d="M409.3,1023.5l-2.8-9 -5.2-1.1 -2.1,7.8z"/>
<path color="#fec03b" d="M406.5,1014.5l-2.8-8.9 -.2-.1 -2.2,7.9z"/>
<path color="#fec736" d="M403.7,1005.6l-.1-.5 -.1,.4z"/>
<path color="#47cb87" d="M343,1123.2l3.1-7.2 -5.1-.2z"/>
<path color="#54cc7c" d="M346.1,1116l3.7-8.5 -11.1-.3 2.3,8.6z"/>
<path color="#63cd70" d="M349.8,1107.5l3.7-8.5 -17.2-.4 2.4,8.6z"/>
<path color="#73cd63" d="M353.5,1099l2.2-5.2 -.9-3.4 -20.8-.4 2.3,8.6z"/>
<path color="#83cc57" d="M354.8,1090.4l-2.4-8.6 -16.5-.4 -2.6,6 .7,2.6z"/>
<path color="#94ca4a" d="M352.4,1081.8l-2.3-8.6 -10.5-.3 -3.7,8.5z"/>
<path color="#a4c83e" d="M350.1,1073.2l-2.3-8.7 -4.5-.1 -3.7,8.5z"/>
<path color="#b3c534" d="M347.8,1064.5l-1.8-6.4 -2.7,6.3z"/>
<path color="#3cc992" d="M365.4,1127.3l.6-1.7 -1.1-.1z"/>
<path color="#47cb87" d="M366,1125.6l3.1-8.2 -6.8-.7 2.6,8.8z"/>
<path color="#54cc7c" d="M369.1,1117.4l3-8.3 -12.3-1.2 2.5,8.8z"/>
<path color="#63cd70" d="M372.1,1109.1l3-8.2 -17.8-1.8 2.5,8.8z"/>
<path color="#73cd63" d="M375.1,1100.9l3-8.2 -21.2-2.1 -1.2,3.2 1.6,5.3z"/>
<path color="#83cc57" d="M378.1,1092.7l0-.1 -2.5-8.7 -15.7-1.5 -3,8.2z"/>
<path color="#94ca4a" d="M375.6,1083.9l-2.5-8.7 -10.2-1.1 -3,8.3z"/>
<path color="#a4c83e" d="M373.1,1075.2l-2.6-8.8 -4.5-.5 -3.1,8.2z"/>
<path color="#b3c534" d="M370.5,1066.4l-2.1-7.2 -2.4,6.7z"/>
<path color="#47cb87" d="M387.8,1123.7l1.2-3.7 -2.5-.4z"/>
<path color="#54cc7c" d="M389,1120l2.5-8 -7.8-1.4 2.8,9z"/>
<path color="#63cd70" d="M391.5,1112l2.5-8 -13-2.3 2.7,8.9z"/>
<path color="#73cd63" d="M394,1104l2.6-8 -18.4-3.3 2.8,9z"/>
<path color="#83cc57" d="M396.6,1096l2.5-8.1 -18.5-3.2 -2.5,7.9 .1,.1z"/>
<path color="#94ca4a" d="M399.1,1087.9l1.4-4.7 -1.1-3.7 -16.3-2.8 -2.5,8z"/>
<path color="#a4c83e" d="M399.4,1079.5l-2.8-8.9 -11-1.9 -2.5,8z"/>
<path color="#b3c534" d="M396.6,1070.6l-2.8-8.9 -5.6-1.1 -2.6,8.1z"/>
<path color="#c1c32c" d="M393.8,1061.7l-2.8-9 -.3-.1 -2.5,8z"/>
<path color="#cfc028" d="M391,1052.7l-.2-.6 -.1,.5z"/>
<path color="#63cd70" d="M410.3,1112l1.1-4.3 -2.9-.8z"/>
<path color="#73cd63" d="M411.4,1107.7l2.2-7.9 -8.1-2 3,9.1z"/>
<path color="#83cc57" d="M413.6,1099.8l2.1-7.9 -13.3-3.3 3.1,9.2z"/>
<path color="#94ca4a" d="M415.7,1091.9l2.1-7.8 -16.4-4.1 -.9,3.2 1.9,5.4z"/>
<path color="#a4c83e" d="M417.8,1084.1l2.1-7.9 -16.4-4.1 -2.1,7.9z"/>
<path color="#b3c534" d="M419.9,1076.2l2.2-7.8 -16.4-4.1 -2.2,7.8z"/>
<path color="#c1c32c" d="M422.1,1068.4l.9-3.3 -1.8-5.3 -13.4-3.4 -2.1,7.9z"/>
<path color="#cfc028" d="M421.2,1059.8l-3.1-9.2 -8.2-2 -2.1,7.8z"/>
<path color="#dbbd29" d="M418.1,1050.6l-3.1-9.1 -2.9-.8 -2.2,7.9z"/>
<path color="#e7bb2e" d="M415,1041.5l-1.7-5.2 -1.2,4.4z"/>
<path color="#2ec4a5" d="M330.3,1147.7l2.8-5.4 -4.3,.1z"/>
<path color="#34c79c" d="M333.1,1142.3l4.6-8.9 -11.2,.4 2.3,8.6z"/>
<path color="#3cc992" d="M337.7,1133.4l4.6-8.9 -18.1,.7 2.3,8.6z"/>
<path color="#47cb87" d="M342.3,1124.5l.7-1.3 -2-7.4 -19.2,.7 2.4,8.7z"/>
<path color="#54cc7c" d="M341,1115.8l-2.3-8.6 -15.9,.6 -2.2,4.2 1.2,4.5z"/>
<path color="#63cd70" d="M338.7,1107.2l-2.4-8.6 -8.9,.3 -4.6,8.9z"/>
<path color="#73cd63" d="M336.3,1098.6l-2.3-8.6 -2,0 -4.6,8.9z"/>
<path color="#83cc57" d="M334,1090l-.7-2.6 -1.3,2.6z"/>
<path color="#25c2ad" d="M352.7,1156.6l2.4-5.6 -4.1-.2z"/>
<path color="#2ec4a5" d="M355.1,1151l3.7-8.5 -10.3-.4 2.5,8.7z"/>
<path color="#34c79c" d="M358.8,1142.5l3.7-8.5 -16.6-.7 2.6,8.8z"/>
<path color="#3cc992" d="M362.5,1134l2.9-6.7 -.5-1.8 -21.5-1 2.5,8.8z"/>
<path color="#47cb87" d="M364.9,1125.5l-2.6-8.8 -16.2-.7 -3.1,7.2 .4,1.3z"/>
<path color="#54cc7c" d="M362.3,1116.7l-2.5-8.8 -10-.4 -3.7,8.5z"/>
<path color="#63cd70" d="M359.8,1107.9l-2.5-8.8 -3.8-.1 -3.7,8.5z"/>
<path color="#73cd63" d="M357.3,1099.1l-1.6-5.3 -2.2,5.2z"/>
<path color="#25c2ad" d="M375.1,1158.4l2.1-5.6 -4-.5z"/>
<path color="#2ec4a5" d="M377.2,1152.8l3-8.2 -9.8-1.3 2.8,9z"/>
<path color="#34c79c" d="M380.2,1144.6l3-8.3 -15.6-1.9 2.8,8.9z"/>
<path color="#3cc992" d="M383.2,1136.3l3-8.2 -20.2-2.5 -.6,1.7 2.2,7.1z"/>
<path color="#47cb87" d="M386.2,1128.1l1.6-4.4 -1.3-4.1 -17.4-2.2 -3.1,8.2z"/>
<path color="#54cc7c" d="M386.5,1119.6l-2.8-9 -11.6-1.5 -3,8.3z"/>
<path color="#63cd70" d="M383.7,1110.6l-2.7-8.9 -5.9-.8 -3,8.2z"/>
<path color="#73cd63" d="M381,1101.7l-2.8-9 -.1,0 -3,8.2z"/>
<path color="#83cc57" d="M378.2,1092.7l-.1-.1 0,.1z"/>
<path color="#2ec4a5" d="M397.5,1152.6l1.6-5 -3.5-.7z"/>
<path color="#34c79c" d="M399.1,1147.6l2.5-8 -9-1.8 3,9.1z"/>
<path color="#3cc992" d="M401.6,1139.6l2.5-8 -14.6-3 3.1,9.2z"/>
<path color="#47cb87" d="M404.1,1131.6l2.5-8 -17.6-3.6 -1.2,3.7 1.7,4.9z"/>
<path color="#54cc7c" d="M406.6,1123.6l2.5-8 -17.6-3.6 -2.5,8z"/>
<path color="#63cd70" d="M409.1,1115.6l1.2-3.6 -1.8-5.1 -14.5-2.9 -2.5,8z"/>
<path color="#73cd63" d="M408.5,1106.9l-3-9.1 -8.9-1.8 -2.6,8z"/>
<path color="#83cc57" d="M405.5,1097.8l-3.1-9.2 -3.3-.7 -2.5,8.1z"/>
<path color="#94ca4a" d="M402.4,1088.6l-1.9-5.4 -1.4,4.7z"/>
<path color="#3cc992" d="M420,1138.5l.8-2.9 -2.1-.6z"/>
<path color="#47cb87" d="M420.8,1135.6l2.1-7.8 -7.7-2.2 3.5,9.4z"/>
<path color="#54cc7c" d="M422.9,1127.8l2.1-7.9 -13.2-3.7 3.4,9.4z"/>
<path color="#63cd70" d="M425,1119.9l2.1-7.8 -15.7-4.4 -1.1,4.3 1.5,4.2z"/>
<path color="#73cd63" d="M427.1,1112.1l2.2-7.9 -15.7-4.4 -2.2,7.9z"/>
<path color="#83cc57" d="M429.3,1104.2l2.1-7.9 -15.7-4.4 -2.1,7.9z"/>
<path color="#94ca4a" d="M431.4,1096.3l1.3-4.7 -1.4-3.7 -13.5-3.8 -2.1,7.8z"/>
<path color="#a4c83e" d="M431.3,1087.9l-3.4-9.4 -8-2.3 -2.1,7.9z"/>
<path color="#b3c534" d="M427.9,1078.5l-3.5-9.5 -2.3-.6 -2.2,7.8z"/>
<path color="#c1c32c" d="M424.4,1069l-1.4-3.9 -.9,3.3z"/>
<path color="#19bfb5" d="M317.6,1168l4.5-7.2 -6.3,.6z"/>
<path color="#25c2ad" d="M322.1,1160.8l5.9-9.4 -14.6,1.4 2.4,8.6z"/>
<path color="#2ec4a5" d="M328,1151.4l2.3-3.7 -1.5-5.3 -17.7,1.7 2.3,8.7z"/>
<path color="#34c79c" d="M328.8,1142.4l-2.3-8.6 -17.8,1.7 2.4,8.6z"/>
<path color="#3cc992" d="M326.5,1133.8l-2.3-8.6 -12.6,1.2 -3.7,5.9 .8,3.2z"/>
<path color="#47cb87" d="M324.2,1125.2l-2.4-8.7 -4.3,.4 -5.9,9.5z"/>
<path color="#54cc7c" d="M321.8,1116.5l-1.2-4.5 -3.1,4.9z"/>
<path color="#02bac5" d="M340,1181.2l2-3.8 -3.1,0z"/>
<path color="#0abdbd" d="M342,1177.4l4.6-8.9 -10.2,.2 2.5,8.7z"/>
<path color="#19bfb5" d="M346.6,1168.5l4.6-8.9 -17.4,.3 2.6,8.8z"/>
<path color="#25c2ad" d="M351.2,1159.6l1.5-3 -1.7-5.8 -19.7,.3 2.5,8.8z"/>
<path color="#2ec4a5" d="M351,1150.8l-2.5-8.7 -15.4,.2 -2.8,5.4 1,3.4z"/>
<path color="#34c79c" d="M348.5,1142.1l-2.6-8.8 -8.2,.1 -4.6,8.9z"/>
<path color="#3cc992" d="M345.9,1133.3l-2.5-8.8 -1.1,0 -4.6,8.9z"/>
<path color="#47cb87" d="M343.4,1124.5l-.4-1.3 -.7,1.3z"/>
<path color="#03b7cc" d="M362.4,1187.8l.5-1.2 -.9-.1z"/>
<path color="#02bac5" d="M362.9,1186.6l3.7-8.5 -7.4-.5 2.8,8.9z"/>
<path color="#0abdbd" d="M366.6,1178.1l3.7-8.5 -13.9-1 2.8,9z"/>
<path color="#19bfb5" d="M370.3,1169.6l3.7-8.5 -20.3-1.4 2.7,8.9z"/>
<path color="#25c2ad" d="M374,1161.1l1.1-2.7 -1.9-6.1 -18.1-1.3 -2.4,5.6 1,3.1z"/>
<path color="#2ec4a5" d="M373.2,1152.3l-2.8-9 -11.6-.8 -3.7,8.5z"/>
<path color="#34c79c" d="M370.4,1143.3l-2.8-8.9 -5.1-.4 -3.7,8.5z"/>
<path color="#3cc992" d="M367.6,1134.4l-2.2-7.1 -2.9,6.7z"/>
<path color="#02bac5" d="M384.8,1187.2l2.5-6.8 -5-.8z"/>
<path color="#0abdbd" d="M387.3,1180.4l3.1-8.2 -11.2-1.8 3.1,9.2z"/>
<path color="#19bfb5" d="M390.4,1172.2l3-8.3 -17.3-2.6 3.1,9.1z"/>
<path color="#25c2ad" d="M393.4,1163.9l3-8.2 -19.2-2.9 -2.1,5.6 1,2.9z"/>
<path color="#2ec4a5" d="M396.4,1155.7l1.1-3.1 -1.9-5.7 -15.4-2.3 -3,8.2z"/>
<path color="#34c79c" d="M395.6,1146.9l-3-9.1 -9.4-1.5 -3,8.3z"/>
<path color="#3cc992" d="M392.6,1137.8l-3.1-9.2 -3.3-.5 -3,8.2z"/>
<path color="#47cb87" d="M389.5,1128.6l-1.7-4.9 -1.6,4.4z"/>
<path color="#0abdbd" d="M407.2,1179.1l1.1-3.5 -2.5-.6z"/>
<path color="#19bfb5" d="M408.3,1175.6l2.5-8 -8.5-2 3.5,9.4z"/>
<path color="#25c2ad" d="M410.8,1167.6l2.6-8 -14.5-3.4 3.4,9.4z"/>
<path color="#2ec4a5" d="M413.4,1159.6l2.5-8 -16.8-4 -1.6,5 1.4,3.6z"/>
<path color="#34c79c" d="M415.9,1151.6l2.5-8 -16.8-4 -2.5,8z"/>
<path color="#3cc992" d="M418.4,1143.6l1.6-5.1 -1.3-3.5 -14.6-3.4 -2.5,8z"/>
<path color="#47cb87" d="M418.7,1135l-3.5-9.4 -8.6-2 -2.5,8z"/>
<path color="#54cc7c" d="M415.2,1125.6l-3.4-9.4 -2.7-.6 -2.5,8z"/>
<path color="#63cd70" d="M411.8,1116.2l-1.5-4.2 -1.2,3.6z"/>
<path color="#2ec4a5" d="M429.7,1162.7l1.8-6.7 -5.2-1.6z"/>
<path color="#34c79c" d="M431.5,1156l2.1-7.9 -11.2-3.5 3.9,9.8z"/>
<path color="#3cc992" d="M433.6,1148.1l2.1-7.8 -14.9-4.7 -.8,2.9 2.4,6.1z"/>
<path color="#47cb87" d="M435.7,1140.3l2.2-7.9 -15-4.6 -2.1,7.8z"/>
<path color="#54cc7c" d="M437.9,1132.4l2.1-7.8 -15-4.7 -2.1,7.9z"/>
<path color="#63cd70" d="M440,1124.6l2.1-7.9 -15-4.6 -2.1,7.8z"/>
<path color="#73cd63" d="M442.1,1116.7l.3-.9 -3.5-8.6 -9.6-3 -2.2,7.9z"/>
<path color="#83cc57" d="M438.9,1107.2l-3.9-9.7 -3.6-1.2 -2.1,7.9z"/>
<path color="#94ca4a" d="M435,1097.5l-2.3-5.9 -1.3,4.7z"/>
<path color="#02bac5" d="M304.9,1184.6l3-4 -3.9,.6z"/>
<path color="#0abdbd" d="M307.9,1180.6l7.9-10.2 -14.2,2.2 2.4,8.6z"/>
<path color="#19bfb5" d="M315.8,1170.4l1.8-2.4 -1.8-6.6 -16.5,2.6 2.3,8.6z"/>
<path color="#25c2ad" d="M315.8,1161.4l-2.4-8.6 -16.5,2.5 2.4,8.7z"/>
<path color="#2ec4a5" d="M313.4,1152.8l-2.3-8.7 -14,2.2 -1.9,2.5 1.7,6.5z"/>
<path color="#34c79c" d="M311.1,1144.1l-2.4-8.6 -3.7,.6 -7.9,10.2z"/>
<path color="#3cc992" d="M308.7,1135.5l-.8-3.2 -2.9,3.8z"/>
<path color="#0cb3d3" d="M327.3,1201.5l3.4-5.5 -4.9,.4z"/>
<path color="#03b7cc" d="M330.7,1196l5.9-9.4 -13.3,1 2.5,8.8z"/>
<path color="#02bac5" d="M336.6,1186.6l3.4-5.4 -1.1-3.8 -18.2,1.4 2.6,8.8z"/>
<path color="#0abdbd" d="M338.9,1177.4l-2.5-8.7 -18.2,1.3 2.5,8.8z"/>
<path color="#19bfb5" d="M336.4,1168.7l-2.6-8.8 -11.7,.9 -4.5,7.2 .6,2z"/>
<path color="#25c2ad" d="M333.8,1159.9l-2.5-8.8 -3.3,.3 -5.9,9.4z"/>
<path color="#2ec4a5" d="M331.3,1151.1l-1-3.4 -2.3,3.7z"/>
<path color="#15afd9" d="M349.7,1212.3l4.2-8 -6.7-.1z"/>
<path color="#0cb3d3" d="M353.9,1204.3l4.6-8.9 -14.1-.1 2.8,8.9z"/>
<path color="#03b7cc" d="M358.5,1195.4l3.9-7.6 -.4-1.3 -20.4-.2 2.8,9z"/>
<path color="#02bac5" d="M362,1186.5l-2.8-8.9 -17.2-.2 -2,3.8 1.6,5.1z"/>
<path color="#0abdbd" d="M359.2,1177.6l-2.8-9 -9.8-.1 -4.6,8.9z"/>
<path color="#19bfb5" d="M356.4,1168.6l-2.7-8.9 -2.5-.1 -4.6,8.9z"/>
<path color="#25c2ad" d="M353.7,1159.7l-1-3.1 -1.5,3z"/>
<path color="#1baade" d="M372.1,1216.6l1.1-2.5 -2-.2z"/>
<path color="#15afd9" d="M373.2,1214.1l3.7-8.5 -8.8-.8 3.1,9.1z"/>
<path color="#0cb3d3" d="M376.9,1205.6l3.6-8.5 -15.4-1.5 3,9.2z"/>
<path color="#03b7cc" d="M380.5,1197.1l3.7-8.5 -21.3-2 -.5,1.2 2.7,7.8z"/>
<path color="#02bac5" d="M384.2,1188.6l.6-1.4 -2.5-7.6 -15.7-1.5 -3.7,8.5z"/>
<path color="#0abdbd" d="M382.3,1179.6l-3.1-9.2 -8.9-.8 -3.7,8.5z"/>
<path color="#19bfb5" d="M379.2,1170.4l-3.1-9.1 -2.1-.2 -3.7,8.5z"/>
<path color="#25c2ad" d="M376.1,1161.3l-1-2.9 -1.1,2.7z"/>
<path color="#15afd9" d="M394.5,1213.8l2-5.4 -4.2-.8z"/>
<path color="#0cb3d3" d="M396.5,1208.4l3-8.2 -10.7-2 3.5,9.4z"/>
<path color="#03b7cc" d="M399.5,1200.2l3-8.2 -17.1-3.2 3.4,9.4z"/>
<path color="#02bac5" d="M402.5,1192l3-8.3 -18.2-3.3 -2.5,6.8 .6,1.6z"/>
<path color="#0abdbd" d="M405.5,1183.7l1.7-4.6 -1.4-4.1 -15.4-2.8 -3.1,8.2z"/>
<path color="#19bfb5" d="M405.8,1175l-3.5-9.4 -8.9-1.7 -3,8.3z"/>
<path color="#25c2ad" d="M402.3,1165.6l-3.4-9.4 -2.5-.5 -3,8.2z"/>
<path color="#2ec4a5" d="M398.9,1156.2l-1.4-3.6 -1.1,3.1z"/>
<path color="#03b7cc" d="M416.9,1203.3l2.4-7.4 -5.9-1.6z"/>
<path color="#02bac5" d="M419.3,1195.9l2.5-8 -12.3-3.3 3.9,9.7z"/>
<path color="#0abdbd" d="M421.8,1187.9l2.5-8 -16-4.3 -1.1,3.5 2.3,5.5z"/>
<path color="#19bfb5" d="M424.3,1179.9l2.5-8 -16-4.3 -2.5,8z"/>
<path color="#25c2ad" d="M426.8,1171.9l2.5-8 -15.9-4.3 -2.6,8z"/>
<path color="#2ec4a5" d="M429.3,1163.9l.4-1.2 -3.4-8.3 -10.4-2.8 -2.5,8z"/>
<path color="#34c79c" d="M426.3,1154.4l-3.9-9.8 -4-1 -2.5,8z"/>
<path color="#3cc992" d="M422.4,1144.6l-2.4-6.1 -1.6,5.1z"/>
<path color="#0abdbd" d="M439.4,1184.6l0-.1 -.1,0z"/>
<path color="#19bfb5" d="M439.4,1184.5l2.1-7.8 -6.7-2.4 4.5,10.2z"/>
<path color="#25c2ad" d="M441.5,1176.7l2.1-7.9 -13.3-4.6 4.5,10.1z"/>
<path color="#2ec4a5" d="M443.6,1168.8l2.2-7.8 -14.3-5 -1.8,6.7 .6,1.5z"/>
<path color="#34c79c" d="M445.8,1161l2.1-7.9 -14.3-5 -2.1,7.9z"/>
<path color="#3cc992" d="M447.9,1153.1l2.1-7.8 -14.3-5 -2.1,7.8z"/>
<path color="#47cb87" d="M450,1145.3l2.1-7.6 -.2-.4 -14-4.9 -2.2,7.9z"/>
<path color="#54cc7c" d="M451.9,1137.3l-4.5-10.1 -7.4-2.6 -2.1,7.8z"/>
<path color="#63cd70" d="M447.4,1127.2l-4.5-10.2 -.8-.3 -2.1,7.9z"/>
<path color="#73cd63" d="M442.9,1117l-.5-1.2 -.3,.9z"/>
<path color="#03b7cc" d="M292.2,1197.9l6-6.3 -7.3,1.6z"/>
<path color="#02bac5" d="M298.2,1191.6l6.7-7 -.9-3.4 -15.5,3.4 2.4,8.6z"/>
<path color="#0abdbd" d="M304,1181.2l-2.4-8.6 -15.4,3.3 2.3,8.7z"/>
<path color="#19bfb5" d="M301.6,1172.6l-2.3-8.6 -15.5,3.3 2.4,8.6z"/>
<path color="#25c2ad" d="M299.3,1164l-2.4-8.7 -10,2.2 -4.4,4.7 1.3,5.1z"/>
<path color="#2ec4a5" d="M296.9,1155.3l-1.7-6.5 -8.3,8.7z"/>
<path color="#1baade" d="M314.6,1218l1.5-2 -2,.3z"/>
<path color="#15afd9" d="M316.1,1216l7.9-10.2 -12.5,1.7 2.6,8.8z"/>
<path color="#0cb3d3" d="M324,1205.8l3.3-4.3 -1.5-5.1 -16.8,2.3 2.5,8.8z"/>
<path color="#03b7cc" d="M325.8,1196.4l-2.5-8.8 -16.9,2.3 2.6,8.8z"/>
<path color="#02bac5" d="M323.3,1187.6l-2.6-8.8 -12.8,1.8 -3,4 1.5,5.3z"/>
<path color="#0abdbd" d="M320.7,1178.8l-2.5-8.8 -2.4,.4 -7.9,10.2z"/>
<path color="#19bfb5" d="M318.2,1170l-.6-2 -1.8,2.4z"/>
<path color="#23a0e5" d="M337,1232.6l.3-.6 -.5,.1z"/>
<path color="#1fa6e2" d="M337.3,1232l5.9-9.4 -9.2,.5 2.8,9z"/>
<path color="#1baade" d="M343.2,1222.6l6-9.4 -18,1 2.8,8.9z"/>
<path color="#15afd9" d="M349.2,1213.2l.5-.9 -2.5-8.1 -18.7,1 2.7,9z"/>
<path color="#0cb3d3" d="M347.2,1204.2l-2.8-8.9 -13.7,.7 -3.4,5.5 1.2,3.7z"/>
<path color="#03b7cc" d="M344.4,1195.3l-2.8-9 -5,.3 -5.9,9.4z"/>
<path color="#02bac5" d="M341.6,1186.3l-1.6-5.1 -3.4,5.4z"/>
<path color="#259be8" d="M359.4,1241.1l.3-.4 -.5-.1z"/>
<path color="#23a0e5" d="M359.7,1240.7l4.6-8.9 -8.1-.3 3,9.1z"/>
<path color="#1fa6e2" d="M364.3,1231.8l4.5-8.9 -15.7-.6 3.1,9.2z"/>
<path color="#1baade" d="M368.8,1222.9l3.3-6.3 -.9-2.7 -21.2-.7 3.1,9.1z"/>
<path color="#15afd9" d="M371.2,1213.9l-3.1-9.1 -14.2-.5 -4.2,8 .3,.9z"/>
<path color="#0cb3d3" d="M368.1,1204.8l-3-9.2 -6.6-.2 -4.6,8.9z"/>
<path color="#03b7cc" d="M365.1,1195.6l-2.7-7.8 -3.9,7.6z"/>
<path color="#259be8" d="M381.8,1243.1l.4-.9 -.7-.1z"/>
<path color="#23a0e5" d="M382.2,1242.2l3.7-8.5 -7.9-1 3.5,9.4z"/>
<path color="#1fa6e2" d="M385.9,1233.7l3.7-8.5 -15-1.9 3.4,9.4z"/>
<path color="#1baade" d="M389.6,1225.2l3.6-8.5 -20-2.6 -1.1,2.5 2.5,6.7z"/>
<path color="#15afd9" d="M393.2,1216.7l1.3-2.9 -2.2-6.2 -15.4-2 -3.7,8.5z"/>
<path color="#0cb3d3" d="M392.3,1207.6l-3.5-9.4 -8.3-1.1 -3.6,8.5z"/>
<path color="#03b7cc" d="M388.8,1198.2l-3.4-9.4 -1.2-.2 -3.7,8.5z"/>
<path color="#02bac5" d="M385.4,1188.8l-.6-1.6 -.6,1.4z"/>
<path color="#23a0e5" d="M404.2,1238l.4-1.2 -.9-.2z"/>
<path color="#1fa6e2" d="M404.6,1236.8l3.1-8.2 -7.9-1.7 3.9,9.7z"/>
<path color="#1baade" d="M407.7,1228.6l3-8.2 -14.8-3.3 3.9,9.8z"/>
<path color="#15afd9" d="M410.7,1220.4l3-8.2 -17.2-3.8 -2,5.4 1.4,3.3z"/>
<path color="#0cb3d3" d="M413.7,1212.2l3-8.2 -17.2-3.8 -3,8.2z"/>
<path color="#03b7cc" d="M416.7,1204l.2-.7 -3.5-9 -10.9-2.3 -3,8.2z"/>
<path color="#02bac5" d="M413.4,1194.3l-3.9-9.7 -4-.9 -3,8.3z"/>
<path color="#0abdbd" d="M409.5,1184.6l-2.3-5.5 -1.7,4.6z"/>
<path color="#1baade" d="M426.7,1225.2l.1-.6 -.5-.2z"/>
<path color="#15afd9" d="M426.8,1224.6l2.5-8 -7.5-2.3 4.5,10.1z"/>
<path color="#0cb3d3" d="M429.3,1216.6l2.6-8 -14.6-4.5 4.5,10.2z"/>
<path color="#03b7cc" d="M431.9,1208.6l2.5-8 -15.1-4.7 -2.4,7.4 .4,.8z"/>
<path color="#02bac5" d="M434.4,1200.6l2.5-8.1 -15.1-4.6 -2.5,8z"/>
<path color="#0abdbd" d="M436.9,1192.5l2.5-7.9 -.1-.1 -15-4.6 -2.5,8z"/>
<path color="#19bfb5" d="M439.3,1184.5l-4.5-10.2 -8-2.4 -2.5,8z"/>
<path color="#25c2ad" d="M434.8,1174.3l-4.5-10.1 -1-.3 -2.5,8z"/>
<path color="#2ec4a5" d="M430.3,1164.2l-.6-1.5 -.4,1.2z"/>
<path color="#02bac5" d="M449.1,1204.2l1.7-6.5 -6.2-2.5z"/>
<path color="#0abdbd" d="M450.8,1197.7l2.2-7.9 -13.6-5.3 0,.1 5.2,10.6z"/>
<path color="#19bfb5" d="M453,1189.8l2.1-7.8 -13.6-5.3 -2.1,7.8z"/>
<path color="#25c2ad" d="M455.1,1182l2.1-7.9 -13.6-5.3 -2.1,7.9z"/>
<path color="#2ec4a5" d="M457.2,1174.1l2.1-7.8 -13.5-5.3 -2.2,7.8z"/>
<path color="#34c79c" d="M459.3,1166.3l2.2-7.9 -13.6-5.3 -2.1,7.9z"/>
<path color="#3cc992" d="M461.5,1158.4l.3-1.1 -4.6-9.2 -7.2-2.8 -2.1,7.8z"/>
<path color="#47cb87" d="M457.2,1148.1l-5.1-10.4 -2.1,7.6z"/>
<path color="#0cb3d3" d="M279.4,1208.6l5.4-4.4 -6.1,1.6z"/>
<path color="#03b7cc" d="M284.8,1204.2l7.4-6.3 -1.3-4.7 -14.6,4 2.4,8.6z"/>
<path color="#02bac5" d="M290.9,1193.2l-2.4-8.6 -14.5,4 2.3,8.6z"/>
<path color="#0abdbd" d="M288.5,1184.6l-2.3-8.7 -14.5,4 2.3,8.7z"/>
<path color="#19bfb5" d="M286.2,1175.9l-2.4-8.6 -11,3.1 -3.1,2.5 2,7z"/>
<path color="#25c2ad" d="M283.8,1167.3l-1.3-5.1 -9.7,8.2z"/>
<path color="#1fa6e2" d="M301.9,1231.4l3.9-4.2 -4.9,1z"/>
<path color="#1baade" d="M305.8,1227.2l8.8-9.2 -.5-1.7 -15.7,3.2 2.5,8.7z"/>
<path color="#15afd9" d="M314.1,1216.3l-2.6-8.8 -15.6,3.2 2.5,8.8z"/>
<path color="#0cb3d3" d="M311.5,1207.5l-2.5-8.8 -15.7,3.2 2.6,8.8z"/>
<path color="#03b7cc" d="M309,1198.7l-2.6-8.8 -8.2,1.7 -6,6.3 1.1,4z"/>
<path color="#02bac5" d="M306.4,1189.9l-1.5-5.3 -6.7,7z"/>
<path color="#259be8" d="M324.3,1249.2l5.3-7 -7.2,.9z"/>
<path color="#23a0e5" d="M329.6,1242.2l7.4-9.6 -.2-.5 -17.2,2 2.8,9z"/>
<path color="#1fa6e2" d="M336.8,1232.1l-2.8-9 -17.2,2.1 2.8,8.9z"/>
<path color="#1baade" d="M334,1223.1l-2.8-8.9 -15.1,1.8 -1.5,2 2.2,7.2z"/>
<path color="#15afd9" d="M331.2,1214.2l-2.7-9 -4.5,.6 -7.9,10.2z"/>
<path color="#0cb3d3" d="M328.5,1205.2l-1.2-3.7 -3.3,4.3z"/>
<path color="#2c90f0" d="M346.7,1261.4l1.2-1.9 -1.9,0z"/>
<path color="#2896ec" d="M347.9,1259.5l5.9-9.5 -10.8,.4 3,9.1z"/>
<path color="#259be8" d="M353.8,1250l5.6-8.9 -.2-.5 -19.3,.6 3.1,9.2z"/>
<path color="#23a0e5" d="M359.2,1240.6l-3-9.1 -18.9,.5 -.3,.6 2.9,8.6z"/>
<path color="#1fa6e2" d="M356.2,1231.5l-3.1-9.2 -9.9,.3 -5.9,9.4z"/>
<path color="#1baade" d="M353.1,1222.3l-3.1-9.1 -.8,0 -6,9.4z"/>
<path color="#15afd9" d="M350,1213.2l-.3-.9 -.5,.9z"/>
<path color="#2c90f0" d="M369.1,1267.7l4-7.8 -7-.4z"/>
<path color="#2896ec" d="M373.1,1259.9l4.6-8.9 -15-1 3.4,9.5z"/>
<path color="#259be8" d="M377.7,1251l4.1-7.9 -.3-1 -21.8-1.4 -.3,.4 3.3,8.9z"/>
<path color="#23a0e5" d="M381.5,1242.1l-3.5-9.4 -13.7-.9 -4.6,8.9z"/>
<path color="#1fa6e2" d="M378,1232.7l-3.4-9.4 -5.8-.4 -4.5,8.9z"/>
<path color="#1baade" d="M374.6,1223.3l-2.5-6.7 -3.3,6.3z"/>
<path color="#2c90f0" d="M391.5,1267.3l2.2-5 -4.5-.7z"/>
<path color="#2896ec" d="M393.7,1262.3l3.7-8.5 -12.1-2 3.9,9.8z"/>
<path color="#259be8" d="M397.4,1253.8l3.7-8.5 -18.9-3.1 -.4,.9 3.5,8.7z"/>
<path color="#23a0e5" d="M401.1,1245.3l3.1-7.3 -.5-1.4 -17.8-2.9 -3.7,8.5z"/>
<path color="#1fa6e2" d="M403.7,1236.6l-3.9-9.7 -10.2-1.7 -3.7,8.5z"/>
<path color="#1baade" d="M399.8,1226.9l-3.9-9.8 -2.7-.4 -3.6,8.5z"/>
<path color="#15afd9" d="M395.9,1217.1l-1.4-3.3 -1.3,2.9z"/>
<path color="#2896ec" d="M413.9,1259.9l.9-2.4 -2.2-.6z"/>
<path color="#259be8" d="M414.8,1257.5l3-8.3 -9.7-2.5 4.5,10.2z"/>
<path color="#23a0e5" d="M417.8,1249.2l3-8.2 -16.2-4.2 -.4,1.2 3.9,8.7z"/>
<path color="#1fa6e2" d="M420.8,1241l3.1-8.2 -16.2-4.2 -3.1,8.2z"/>
<path color="#1baade" d="M423.9,1232.8l2.8-7.6 -.4-.8 -15.6-4 -3,8.2z"/>
<path color="#15afd9" d="M426.3,1224.4l-4.5-10.1 -8.1-2.1 -3,8.2z"/>
<path color="#0cb3d3" d="M421.8,1214.3l-4.5-10.2 -.6-.1 -3,8.2z"/>
<path color="#03b7cc" d="M417.3,1204.1l-.4-.8 -.2,.7z"/>
<path color="#1fa6e2" d="M436.4,1244.8l2.2-7.2 -7-2.5z"/>
<path color="#1baade" d="M438.6,1237.6l2.5-8 -14.3-5 -.1,.6 4.9,9.9z"/>
<path color="#15afd9" d="M441.1,1229.6l2.5-8 -14.3-5 -2.5,8z"/>
<path color="#0cb3d3" d="M443.6,1221.6l2.5-8 -14.2-5 -2.6,8z"/>
<path color="#03b7cc" d="M446.1,1213.6l2.6-8.1 -14.3-4.9 -2.5,8z"/>
<path color="#02bac5" d="M448.7,1205.5l.4-1.3 -4.5-9 -7.7-2.7 -2.5,8.1z"/>
<path color="#0abdbd" d="M444.6,1195.2l-5.2-10.6 -2.5,7.9z"/>
<path color="#0cb3d3" d="M458.8,1221.5l.7-2.6 -2.9-1.2z"/>
<path color="#03b7cc" d="M459.5,1218.9l2.1-7.8 -11.5-5 6.5,11.6z"/>
<path color="#02bac5" d="M461.6,1211.1l2.1-7.9 -12.9-5.5 -1.7,6.5 1,1.9z"/>
<path color="#0abdbd" d="M463.7,1203.2l2.1-7.8 -12.8-5.6 -2.2,7.9z"/>
<path color="#19bfb5" d="M465.8,1195.4l2.2-7.9 -12.9-5.5 -2.1,7.8z"/>
<path color="#25c2ad" d="M468,1187.5l2.1-7.8 -12.9-5.6 -2.1,7.9z"/>
<path color="#2ec4a5" d="M470.1,1179.7l1.4-5.1 -2.3-4.1 -9.9-4.2 -2.1,7.8z"/>
<path color="#34c79c" d="M469.2,1170.5l-6.5-11.6 -1.2-.5 -2.2,7.9z"/>
<path color="#3cc992" d="M462.7,1158.9l-.9-1.6 -.3,1.1z"/>
<path color="#0cb3d3" d="M266.7,1217.2l12.7-8.6 -.7-2.8 -13.8,4.5z"/>
<path color="#03b7cc" d="M278.7,1205.8l-2.4-8.6 -13.8,4.5 2.4,8.6z"/>
<path color="#02bac5" d="M276.3,1197.2l-2.3-8.6 -13.8,4.5 2.3,8.6z"/>
<path color="#0abdbd" d="M274,1188.6l-2.3-8.7 -13.9,4.5 2.4,8.7z"/>
<path color="#19bfb5" d="M271.7,1179.9l-2-7 -12.7,8.6 .8,2.9z"/>
<path color="#23a0e5" d="M289.1,1242.1l2.3-1.9 -2.6,.7z"/>
<path color="#1fa6e2" d="M291.4,1240.2l10.5-8.8 -1-3.2 -14.6,3.9 2.5,8.8z"/>
<path color="#1baade" d="M300.9,1228.2l-2.5-8.7 -14.7,3.8 2.6,8.8z"/>
<path color="#15afd9" d="M298.4,1219.5l-2.5-8.8 -14.7,3.9 2.5,8.7z"/>
<path color="#0cb3d3" d="M295.9,1210.7l-2.6-8.8 -8.5,2.3 -5.4,4.4 1.8,6z"/>
<path color="#03b7cc" d="M293.3,1201.9l-1.1-4 -7.4,6.3z"/>
<path color="#2896ec" d="M311.6,1262.5l9.2-9.6 -11.6,2.1z"/>
<path color="#259be8" d="M320.8,1252.9l3.5-3.7 -1.9-6.1 -16,3 2.8,8.9z"/>
<path color="#23a0e5" d="M322.4,1243.1l-2.8-9 -16,3 2.8,9z"/>
<path color="#1fa6e2" d="M319.6,1234.1l-2.8-8.9 -11,2 -3.9,4.2 1.7,5.7z"/>
<path color="#1baade" d="M316.8,1225.2l-2.2-7.2 -8.8,9.2z"/>
<path color="#2d8af5" d="M334,1278l6.5-8.5 -9.1,.9z"/>
<path color="#2c90f0" d="M340.5,1269.5l6.2-8.1 -.7-1.9 -17.7,1.8 3.1,9.1z"/>
<path color="#2896ec" d="M346,1259.5l-3-9.1 -17.7,1.7 3,9.2z"/>
<path color="#259be8" d="M343,1250.4l-3.1-9.2 -10.3,1 -5.3,7 1,2.9z"/>
<path color="#23a0e5" d="M339.9,1241.2l-2.9-8.6 -7.4,9.6z"/>
<path color="#317dfb" d="M356.4,1287.9l.1-.2 -.2,0z"/>
<path color="#2e84f9" d="M356.5,1287.7l5.9-9.4 -9.5,0 3.4,9.4z"/>
<path color="#2d8af5" d="M362.4,1278.3l5.9-9.4 -18.9,0 3.5,9.4z"/>
<path color="#2c90f0" d="M368.3,1268.9l.8-1.2 -3-8.2 -18.2,0 -1.2,1.9 2.7,7.5z"/>
<path color="#2896ec" d="M366.1,1259.5l-3.4-9.5 -8.9,0 -5.9,9.5z"/>
<path color="#259be8" d="M362.7,1250l-3.3-8.9 -5.6,8.9z"/>
<path color="#317dfb" d="M378.8,1291.9l1.6-3.2 -3-.3z"/>
<path color="#2e84f9" d="M380.4,1288.7l4.6-8.9 -11.5-1.2 3.9,9.8z"/>
<path color="#2d8af5" d="M385,1279.8l4.6-8.9 -20-2 3.9,9.7z"/>
<path color="#2c90f0" d="M389.6,1270.9l1.9-3.6 -2.3-5.7 -16.1-1.7 -4,7.8 .5,1.2z"/>
<path color="#2896ec" d="M389.2,1261.6l-3.9-9.8 -7.6-.8 -4.6,8.9z"/>
<path color="#259be8" d="M385.3,1251.8l-3.5-8.7 -4.1,7.9z"/>
<path color="#2e84f9" d="M401.2,1289.2l2.8-6.3 -6.1-1.3z"/>
<path color="#2d8af5" d="M404,1282.9l3.6-8.5 -14.2-2.9 4.5,10.1z"/>
<path color="#2c90f0" d="M407.6,1274.4l3.7-8.5 -17.6-3.6 -2.2,5 1.9,4.2z"/>
<path color="#2896ec" d="M411.3,1265.9l2.6-6 -1.3-3 -15.2-3.1 -3.7,8.5z"/>
<path color="#259be8" d="M412.6,1256.9l-4.5-10.2 -7-1.4 -3.7,8.5z"/>
<path color="#23a0e5" d="M408.1,1246.7l-3.9-8.7 -3.1,7.3z"/>
<path color="#2d8af5" d="M423.6,1279.4l.4-.9 -1-.3z"/>
<path color="#2c90f0" d="M424,1278.5l3-8.2 -9.3-2.8 5.3,10.7z"/>
<path color="#2896ec" d="M427,1270.3l3-8.2 -15.2-4.6 -.9,2.4 3.8,7.6z"/>
<path color="#259be8" d="M430,1262.1l3-8.3 -15.2-4.6 -3,8.3z"/>
<path color="#23a0e5" d="M433,1253.8l3-8.2 -15.2-4.6 -3,8.2z"/>
<path color="#1fa6e2" d="M436,1245.6l.4-.8 -4.8-9.7 -7.7-2.3 -3.1,8.2z"/>
<path color="#1baade" d="M431.6,1235.1l-4.9-9.9 -2.8,7.6z"/>
<path color="#259be8" d="M446.1,1262l.9-3.1 -3.5-1.3z"/>
<path color="#23a0e5" d="M447,1258.9l2.5-8 -12.5-4.9 6.5,11.6z"/>
<path color="#1fa6e2" d="M449.5,1250.9l2.6-8 -13.5-5.3 -2.2,7.2 .6,1.2z"/>
<path color="#1baade" d="M452.1,1242.9l2.5-8 -13.5-5.3 -2.5,8z"/>
<path color="#15afd9" d="M454.6,1234.9l2.5-8 -13.5-5.3 -2.5,8z"/>
<path color="#0cb3d3" d="M457.1,1226.9l1.7-5.4 -2.2-3.8 -10.5-4.1 -2.5,8z"/>
<path color="#03b7cc" d="M456.6,1217.7l-6.5-11.6 -1.4-.6 -2.6,8.1z"/>
<path color="#02bac5" d="M450.1,1206.1l-1-1.9 -.4,1.3z"/>
<path color="#15afd9" d="M468.5,1236.5l1-3.9 -5.1-2.4z"/>
<path color="#0cb3d3" d="M469.5,1232.6l2.1-7.8 -12.1-5.9 -.7,2.6 5.6,8.7z"/>
<path color="#03b7cc" d="M471.6,1224.8l2.2-7.9 -12.2-5.8 -2.1,7.8z"/>
<path color="#02bac5" d="M473.8,1216.9l2.1-7.8 -12.2-5.9 -2.1,7.9z"/>
<path color="#0abdbd" d="M475.9,1209.1l2.1-7.9 -12.2-5.8 -2.1,7.8z"/>
<path color="#19bfb5" d="M478,1201.2l2.1-7.8 -12.1-5.9 -2.2,7.9z"/>
<path color="#25c2ad" d="M480.1,1193.4l1.1-3.9 -4.3-6.5 -6.8-3.3 -2.1,7.8z"/>
<path color="#2ec4a5" d="M476.9,1183l-5.4-8.4 -1.4,5.1z"/>
<path color="#15afd9" d="M254,1224.2l2.1-1.2 -2.2,.8z"/>
<path color="#0cb3d3" d="M256.1,1223l10.6-5.8 -1.8-6.9 -13.3,4.9 2.3,8.6z"/>
<path color="#03b7cc" d="M264.9,1210.3l-2.4-8.6 -13.3,4.9 2.4,8.6z"/>
<path color="#02bac5" d="M262.5,1201.7l-2.3-8.6 -13.3,4.8 2.3,8.7z"/>
<path color="#0abdbd" d="M260.2,1193.1l-2.4-8.7 -13.2,4.9 2.3,8.6z"/>
<path color="#19bfb5" d="M257.8,1184.4l-.8-2.9 -12.7,6.9 .3,.9z"/>
<path color="#23a0e5" d="M276.4,1250.6l12.7-8.5 -.3-1.2 -13.9,4.4z"/>
<path color="#1fa6e2" d="M288.8,1240.9l-2.5-8.8 -14,4.4 2.6,8.8z"/>
<path color="#1baade" d="M286.3,1232.1l-2.6-8.8 -13.9,4.5 2.5,8.7z"/>
<path color="#15afd9" d="M283.7,1223.3l-2.5-8.7 -14,4.4 2.6,8.8z"/>
<path color="#0cb3d3" d="M281.2,1214.6l-1.8-6 -12.7,8.6 .5,1.8z"/>
<path color="#2c90f0" d="M298.9,1273.2l10-8.5 -11.8,3z"/>
<path color="#2896ec" d="M308.9,1264.7l2.7-2.2 -2.4-7.5 -14.9,3.8 2.8,8.9z"/>
<path color="#259be8" d="M309.2,1255l-2.8-8.9 -14.8,3.7 2.7,9z"/>
<path color="#23a0e5" d="M306.4,1246.1l-2.8-9 -12.2,3.1 -2.3,1.9 2.5,7.7z"/>
<path color="#1fa6e2" d="M303.6,1237.1l-1.7-5.7 -10.5,8.8z"/>
<path color="#2e84f9" d="M321.3,1291.3l10.8-11.3 -13.9,2.3z"/>
<path color="#2d8af5" d="M332.1,1280l1.9-2 -2.6-7.6 -16.3,2.8 3.1,9.1z"/>
<path color="#2c90f0" d="M331.4,1270.4l-3.1-9.1 -16.2,2.7 3,9.2z"/>
<path color="#2896ec" d="M328.3,1261.3l-3-9.2 -4.5,.8 -9.2,9.6 .5,1.5z"/>
<path color="#259be8" d="M325.3,1252.1l-1-2.9 -3.5,3.7z"/>
<path color="#3777fe" d="M343.7,1304.5l5-6.6 -7.2,.5z"/>
<path color="#317dfb" d="M348.7,1297.9l7.7-10 -.1-.2 -18.3,1.3 3.5,9.4z"/>
<path color="#2e84f9" d="M356.3,1287.7l-3.4-9.4 -18.3,1.3 3.4,9.4z"/>
<path color="#2d8af5" d="M352.9,1278.3l-3.5-9.4 -8.9,.6 -6.5,8.5 .6,1.6z"/>
<path color="#2c90f0" d="M349.4,1268.9l-2.7-7.5 -6.2,8.1z"/>
<path color="#3e70ff" d="M366.1,1312.1l3-4.8 -5-.1z"/>
<path color="#3777fe" d="M369.1,1307.3l5.9-9.4 -14.8-.5 3.9,9.8z"/>
<path color="#317dfb" d="M375,1297.9l3.8-6 -1.4-3.5 -20.9-.7 -.1,.2 3.8,9.5z"/>
<path color="#2e84f9" d="M377.4,1288.4l-3.9-9.8 -11.1-.3 -5.9,9.4z"/>
<path color="#2d8af5" d="M373.5,1278.6l-3.9-9.7 -1.3,0 -5.9,9.4z"/>
<path color="#2c90f0" d="M369.6,1268.9l-.5-1.2 -.8,1.2z"/>
<path color="#3e70ff" d="M388.5,1313.7l2.4-4.5 -4.7-.6z"/>
<path color="#3777fe" d="M390.9,1309.2l4.6-8.9 -13.8-1.9 4.5,10.2z"/>
<path color="#317dfb" d="M395.5,1300.3l4.6-8.8 -19.7-2.8 -1.6,3.2 2.9,6.5z"/>
<path color="#2e84f9" d="M400.1,1291.5l1.1-2.3 -3.3-7.6 -12.9-1.8 -4.6,8.9z"/>
<path color="#2d8af5" d="M397.9,1281.6l-4.5-10.1 -3.8-.6 -4.6,8.9z"/>
<path color="#2c90f0" d="M393.4,1271.5l-1.9-4.2 -1.9,3.6z"/>
<path color="#3777fe" d="M410.9,1308.8l2.1-4.8 -5.1-1.3z"/>
<path color="#317dfb" d="M413,1304l3.7-8.5 -14.1-3.6 5.3,10.8z"/>
<path color="#2e84f9" d="M416.7,1295.5l3.7-8.5 -16.4-4.1 -2.8,6.3 1.4,2.7z"/>
<path color="#2d8af5" d="M420.4,1287l3.2-7.6 -.6-1.2 -15.4-3.8 -3.6,8.5z"/>
<path color="#2c90f0" d="M423,1278.2l-5.3-10.7 -6.4-1.6 -3.7,8.5z"/>
<path color="#2896ec" d="M417.7,1267.5l-3.8-7.6 -2.6,6z"/>
<path color="#2e84f9" d="M433.3,1296.7l1.9-5 -5.8-2z"/>
<path color="#2d8af5" d="M435.2,1291.7l3-8.2 -14.2-5 -.4,.9 5.8,10.3z"/>
<path color="#2c90f0" d="M438.2,1283.5l3-8.2 -14.2-5 -3,8.2z"/>
<path color="#2896ec" d="M441.2,1275.3l3-8.2 -14.2-5 -3,8.2z"/>
<path color="#259be8" d="M444.2,1267.1l1.9-5.1 -2.6-4.4 -10.5-3.8 -3,8.3z"/>
<path color="#23a0e5" d="M443.5,1257.6l-6.5-11.6 -1-.4 -3,8.2z"/>
<path color="#1fa6e2" d="M437,1246l-.6-1.2 -.4,.8z"/>
<path color="#2896ec" d="M455.8,1277l1.3-4.4 -5.9-2.6z"/>
<path color="#259be8" d="M457.1,1272.6l2.5-8 -12.6-5.7 -.9,3.1 5.1,8z"/>
<path color="#23a0e5" d="M459.6,1264.6l2.6-8 -12.7-5.7 -2.5,8z"/>
<path color="#1fa6e2" d="M462.2,1256.6l2.5-8 -12.6-5.7 -2.6,8z"/>
<path color="#1baade" d="M464.7,1248.6l2.5-8 -12.6-5.7 -2.5,8z"/>
<path color="#15afd9" d="M467.2,1240.6l1.3-4.1 -4.1-6.3 -7.3-3.3 -2.5,8z"/>
<path color="#0cb3d3" d="M464.4,1230.2l-5.6-8.7 -1.7,5.4z"/>
<path color="#1baade" d="M478.2,1249.1l.6-2.5 -4.3-2.3z"/>
<path color="#15afd9" d="M478.8,1246.6l2.2-7.8 -11.5-6.2 -1,3.9 6,7.8z"/>
<path color="#0cb3d3" d="M481,1238.8l2.1-7.9 -11.5-6.1 -2.1,7.8z"/>
<path color="#03b7cc" d="M483.1,1230.9l2.1-7.8 -11.4-6.2 -2.2,7.9z"/>
<path color="#02bac5" d="M485.2,1223.1l2.2-7.9 -11.5-6.1 -2.1,7.8z"/>
<path color="#0abdbd" d="M487.4,1215.2l2.1-7.8 -11.5-6.2 -2.1,7.9z"/>
<path color="#19bfb5" d="M489.5,1207.4l1.4-5.2 -4-5.2 -6.8-3.6 -2.1,7.8z"/>
<path color="#25c2ad" d="M486.9,1197l-5.7-7.5 -1.1,3.9z"/>
<path color="#15afd9" d="M241.3,1230.1l12.7-5.9 -.1-.4 -12.9,5.1z"/>
<path color="#0cb3d3" d="M253.9,1223.8l-2.3-8.6 -12.9,5.1 2.3,8.6z"/>
<path color="#03b7cc" d="M251.6,1215.2l-2.4-8.6 -12.9,5.1 2.4,8.6z"/>
<path color="#02bac5" d="M249.2,1206.6l-2.3-8.7 -12.9,5.2 2.3,8.6z"/>
<path color="#0abdbd" d="M246.9,1197.9l-2.3-8.6 -13,5.1 2.4,8.7z"/>
<path color="#19bfb5" d="M244.6,1189.3l-.3-.9 -12.7,5.9 0,.1z"/>
<path color="#23a0e5" d="M263.7,1257.6l12.7-7 -1.5-5.3 -13.3,4.8z"/>
<path color="#1fa6e2" d="M274.9,1245.3l-2.6-8.8 -13.3,4.9 2.6,8.7z"/>
<path color="#1baade" d="M272.3,1236.5l-2.5-8.7 -13.3,4.8 2.5,8.8z"/>
<path color="#15afd9" d="M269.8,1227.8l-2.6-8.8 -11.1,4 -2.1,1.2 2.5,8.4z"/>
<path color="#0cb3d3" d="M267.2,1219l-.5-1.8 -10.6,5.8z"/>
<path color="#2d8af5" d="M286.1,1281.8l2.4-1.6 -2.6,.8z"/>
<path color="#2c90f0" d="M288.5,1280.2l10.4-7 -1.8-5.5 -14,4.3 2.8,9z"/>
<path color="#2896ec" d="M297.1,1267.7l-2.8-8.9 -14,4.3 2.8,8.9z"/>
<path color="#259be8" d="M294.3,1258.8l-2.7-9 -14.1,4.3 2.8,9z"/>
<path color="#23a0e5" d="M291.6,1249.8l-2.5-7.7 -12.7,8.5 1.1,3.5z"/>
<path color="#317dfb" d="M308.6,1302l12.5-10.5 -14.9,3.5z"/>
<path color="#2e84f9" d="M321.1,1291.5l.2-.2 -3.1-9 -15.1,3.6 3.1,9.1z"/>
<path color="#2d8af5" d="M318.2,1282.3l-3.1-9.1 -15.1,3.5 3.1,9.2z"/>
<path color="#2c90f0" d="M315.1,1273.2l-3-9.2 -3.2,.7 -10,8.5 1.1,3.5z"/>
<path color="#2896ec" d="M312.1,1264l-.5-1.5 -2.7,2.2z"/>
<path color="#3e70ff" d="M331,1317.9l8.8-9.3 -11.6,1.7z"/>
<path color="#3777fe" d="M339.8,1308.6l3.9-4.1 -2.2-6.1 -16.7,2.5 3.4,9.4z"/>
<path color="#317dfb" d="M341.5,1298.4l-3.5-9.4 -16.7,2.5 3.5,9.4z"/>
<path color="#2e84f9" d="M338,1289l-3.4-9.4 -2.5,.4 -10.8,11.3 0,.2z"/>
<path color="#2d8af5" d="M334.6,1279.6l-.6-1.6 -1.9,2z"/>
<path color="#4562fc" d="M353.4,1328.7l1-1.3 -1.5,0z"/>
<path color="#4369fe" d="M354.4,1327.4l7.9-10.2 -13.3,.5 3.9,9.7z"/>
<path color="#3e70ff" d="M362.3,1317.2l3.8-5.1 -2-4.9 -19,.8 3.9,9.7z"/>
<path color="#3777fe" d="M364.1,1307.2l-3.9-9.8 -11.5,.5 -5,6.6 1.4,3.5z"/>
<path color="#317dfb" d="M360.2,1297.4l-3.8-9.5 -7.7,10z"/>
<path color="#4562fc" d="M375.8,1334l3.9-6.2 -6.9-.5z"/>
<path color="#4369fe" d="M379.7,1327.8l5.9-9.4 -17.3-1.3 4.5,10.2z"/>
<path color="#3e70ff" d="M385.6,1318.4l2.9-4.7 -2.3-5.1 -17.1-1.3 -3,4.8 2.2,5z"/>
<path color="#3777fe" d="M386.2,1308.6l-4.5-10.2 -6.7-.5 -5.9,9.4z"/>
<path color="#317dfb" d="M381.7,1298.4l-2.9-6.5 -3.8,6z"/>
<path color="#4562fc" d="M398.2,1333.3l1.5-2.9 -3.3-.6z"/>
<path color="#4369fe" d="M399.7,1330.4l4.6-8.9 -13.2-2.5 5.3,10.8z"/>
<path color="#3e70ff" d="M404.3,1321.5l4.6-8.9 -18-3.4 -2.4,4.5 2.6,5.3z"/>
<path color="#3777fe" d="M408.9,1312.6l2-3.8 -3-6.1 -12.4-2.4 -4.6,8.9z"/>
<path color="#317dfb" d="M407.9,1302.7l-5.3-10.8 -2.5-.4 -4.6,8.8z"/>
<path color="#2e84f9" d="M402.6,1291.9l-1.4-2.7 -1.1,2.3z"/>
<path color="#4369fe" d="M420.6,1326.1l.2-.5 -.5-.2z"/>
<path color="#3e70ff" d="M420.8,1325.6l3.7-8.5 -10.8-3.3 6.6,11.6z"/>
<path color="#3777fe" d="M424.5,1317.1l3.7-8.5 -15.2-4.6 -2.1,4.8 2.8,5z"/>
<path color="#317dfb" d="M428.2,1308.6l3.7-8.5 -15.2-4.6 -3.7,8.5z"/>
<path color="#2e84f9" d="M431.9,1300.1l1.4-3.4 -3.9-7 -9-2.7 -3.7,8.5z"/>
<path color="#2d8af5" d="M429.4,1289.7l-5.8-10.3 -3.2,7.6z"/>
<path color="#317dfb" d="M443,1311.7l2.4-6.3 -8.7-3.6z"/>
<path color="#2e84f9" d="M445.4,1305.4l3-8.2 -13.2-5.5 -1.9,5 3.4,5.1z"/>
<path color="#2d8af5" d="M448.4,1297.2l3-8.2 -13.2-5.5 -3,8.2z"/>
<path color="#2c90f0" d="M451.4,1289l3-8.3 -13.2-5.4 -3,8.2z"/>
<path color="#2896ec" d="M454.4,1280.7l1.4-3.7 -4.6-7 -7-2.9 -3,8.2z"/>
<path color="#259be8" d="M451.2,1270l-5.1-8 -1.9,5.1z"/>
<path color="#2c90f0" d="M465.5,1289.7l.9-3 -5.3-2.8z"/>
<path color="#2896ec" d="M466.4,1286.7l2.5-8.1 -11.8-6 -1.3,4.4 5.3,6.9z"/>
<path color="#259be8" d="M468.9,1278.6l2.5-8 -11.8-6 -2.5,8z"/>
<path color="#23a0e5" d="M471.4,1270.6l2.5-8 -11.7-6 -2.6,8z"/>
<path color="#1fa6e2" d="M473.9,1262.6l2.6-8 -11.8-6 -2.5,8z"/>
<path color="#1baade" d="M476.5,1254.6l1.7-5.5 -3.7-4.8 -7.3-3.7 -2.5,8z"/>
<path color="#15afd9" d="M474.5,1244.3l-6-7.8 -1.3,4.1z"/>
<path color="#1baade" d="M487.9,1259.5l1.7-6.4 -10.8-6.5 -.6,2.5z"/>
<path color="#15afd9" d="M489.6,1253.1l2.1-7.9 -10.7-6.4 -2.2,7.8z"/>
<path color="#0cb3d3" d="M491.7,1245.2l2.2-7.8 -10.8-6.5 -2.1,7.9z"/>
<path color="#03b7cc" d="M493.9,1237.4l2.1-7.9 -10.8-6.4 -2.1,7.8z"/>
<path color="#02bac5" d="M496,1229.5l2.1-7.8 -10.7-6.5 -2.2,7.9z"/>
<path color="#0abdbd" d="M498.1,1221.7l2.1-7.9 -10.7-6.4 -2.1,7.8z"/>
<path color="#19bfb5" d="M500.2,1213.8l.4-1.3 -9.7-10.3 -1.4,5.2z"/>
<path color="#15afd9" d="M228.6,1235.4l12.7-5.3 -.3-1.2 -12.7,5.3z"/>
<path color="#0cb3d3" d="M241,1228.9l-2.3-8.6 -12.8,5.3 2.4,8.6z"/>
<path color="#03b7cc" d="M238.7,1220.3l-2.4-8.6 -12.7,5.2 2.3,8.7z"/>
<path color="#02bac5" d="M236.3,1211.7l-2.3-8.6 -12.8,5.2 2.4,8.6z"/>
<path color="#0abdbd" d="M234,1203.1l-2.4-8.7 -12.7,5.3 2.3,8.6z"/>
<path color="#19bfb5" d="M231.6,1194.4l0-.1 -12.7,5.4z"/>
<path color="#23a0e5" d="M251,1263.5l12.7-5.9 -2.1-7.5 -13,5.2z"/>
<path color="#1fa6e2" d="M261.6,1250.1l-2.6-8.7 -12.9,5.1 2.5,8.8z"/>
<path color="#1baade" d="M259,1241.4l-2.5-8.8 -13,5.1 2.6,8.8z"/>
<path color="#15afd9" d="M256.5,1232.6l-2.5-8.4 -12.7,5.9 2.2,7.6z"/>
<path color="#2d8af5" d="M273.4,1288.7l12.7-6.9 -.2-.8 -13.4,4.8z"/>
<path color="#2c90f0" d="M285.9,1281l-2.8-9 -13.4,4.8 2.8,9z"/>
<path color="#2896ec" d="M283.1,1272l-2.8-8.9 -13.4,4.8 2.8,8.9z"/>
<path color="#259be8" d="M280.3,1263.1l-2.8-9 -13.4,4.8 2.8,9z"/>
<path color="#23a0e5" d="M277.5,1254.1l-1.1-3.5 -12.7,7 .4,1.3z"/>
<path color="#3777fe" d="M295.8,1310.6l6.4-4.3 -7.1,2.1z"/>
<path color="#317dfb" d="M302.2,1306.3l6.4-4.3 -2.4-7 -14.2,4.3 3.1,9.1z"/>
<path color="#2e84f9" d="M306.2,1295l-3.1-9.1 -14.1,4.2 3,9.2z"/>
<path color="#2d8af5" d="M303.1,1285.9l-3.1-9.2 -11.5,3.5 -2.4,1.6 2.9,8.3z"/>
<path color="#2c90f0" d="M300,1276.7l-1.1-3.5 -10.4,7z"/>
<path color="#4369fe" d="M318.3,1328.5l9.5-7.9 -11.5,2.5z"/>
<path color="#3e70ff" d="M327.8,1320.6l3.2-2.7 -2.8-7.6 -15.4,3.4 3.5,9.4z"/>
<path color="#3777fe" d="M328.2,1310.3l-3.4-9.4 -15.4,3.4 3.4,9.4z"/>
<path color="#317dfb" d="M324.8,1300.9l-3.5-9.4 -.2,0 -12.5,10.5 .8,2.3z"/>
<path color="#2e84f9" d="M321.3,1291.5l0-.2 -.2,.2z"/>
<path color="#475cfa" d="M340.7,1342.1l3.1-3.4 -4.3,.5z"/>
<path color="#4562fc" d="M343.8,1338.7l9.6-10 -.5-1.3 -17.3,2.1 3.9,9.7z"/>
<path color="#4369fe" d="M352.9,1327.4l-3.9-9.7 -17.3,2.1 3.9,9.7z"/>
<path color="#3e70ff" d="M349,1317.7l-3.9-9.7 -5.3,.6 -8.8,9.3 .7,1.9z"/>
<path color="#3777fe" d="M345.1,1308l-1.4-3.5 -3.9,4.1z"/>
<path color="#4755f6" d="M363.1,1350.6l2.2-2.9 -3.5,0z"/>
<path color="#475cfa" d="M365.3,1347.7l7.9-10.2 -15.9,.1 4.5,10.1z"/>
<path color="#4562fc" d="M373.2,1337.5l2.6-3.5 -3-6.7 -18.4,.1 -1,1.3 3.9,8.9z"/>
<path color="#4369fe" d="M372.8,1327.3l-4.5-10.2 -6,.1 -7.9,10.2z"/>
<path color="#3e70ff" d="M368.3,1317.1l-2.2-5 -3.8,5.1z"/>
<path color="#4755f6" d="M385.5,1353.6l2.9-4.6 -5.5-.6z"/>
<path color="#475cfa" d="M388.4,1349l5.9-9.4 -16.7-2 5.3,10.8z"/>
<path color="#4562fc" d="M394.3,1339.6l3.9-6.3 -1.8-3.5 -16.7-2 -3.9,6.2 1.8,3.6z"/>
<path color="#4369fe" d="M396.4,1329.8l-5.3-10.8 -5.5-.6 -5.9,9.4z"/>
<path color="#3e70ff" d="M391.1,1319l-2.6-5.3 -2.9,4.7z"/>
<path color="#475cfa" d="M407.9,1350.6l3.8-7.3 -9.1-2.2z"/>
<path color="#4562fc" d="M411.7,1343.3l4.6-8.9 -16.6-4 -1.5,2.9 4.4,7.8z"/>
<path color="#4369fe" d="M416.3,1334.4l4.3-8.3 -.3-.7 -16-3.9 -4.6,8.9z"/>
<path color="#3e70ff" d="M420.3,1325.4l-6.6-11.6 -4.8-1.2 -4.6,8.9z"/>
<path color="#3777fe" d="M413.7,1313.8l-2.8-5 -2,3.8z"/>
<path color="#4562fc" d="M430.3,1341l.8-1.8 -2.6-1z"/>
<path color="#4369fe" d="M431.1,1339.2l3.7-8.5 -14-5.1 -.2,.5 7.9,12.1z"/>
<path color="#3e70ff" d="M434.8,1330.7l3.7-8.5 -14-5.1 -3.7,8.5z"/>
<path color="#3777fe" d="M438.5,1322.2l3.7-8.5 -14-5.1 -3.7,8.5z"/>
<path color="#317dfb" d="M442.2,1313.7l.8-2 -6.3-9.9 -4.8-1.7 -3.7,8.5z"/>
<path color="#2e84f9" d="M436.7,1301.8l-3.4-5.1 -1.4,3.4z"/>
<path color="#3777fe" d="M452.8,1324.3l1.7-4.8 -8.7-4.2z"/>
<path color="#317dfb" d="M454.5,1319.5l3.1-8.3 -12.2-5.8 -2.4,6.3 2.8,3.6z"/>
<path color="#2e84f9" d="M457.6,1311.2l3-8.2 -12.2-5.8 -3,8.2z"/>
<path color="#2d8af5" d="M460.6,1303l3-8.2 -12.2-5.8 -3,8.2z"/>
<path color="#2c90f0" d="M463.6,1294.8l1.9-5.1 -4.4-5.8 -6.7-3.2 -3,8.3z"/>
<path color="#2896ec" d="M461.1,1283.9l-5.3-6.9 -1.4,3.7z"/>
<path color="#2c90f0" d="M475.2,1300l2.2-7 -11-6.3 -.9,3z"/>
<path color="#2896ec" d="M477.4,1293l2.5-8 -11-6.4 -2.5,8.1z"/>
<path color="#259be8" d="M479.9,1285l2.5-8 -11-6.4 -2.5,8z"/>
<path color="#23a0e5" d="M482.4,1277l2.5-8 -11-6.4 -2.5,8z"/>
<path color="#1fa6e2" d="M484.9,1269l2.5-8 -10.9-6.4 -2.6,8z"/>
<path color="#1baade" d="M487.4,1261l.5-1.5 -9.7-10.4 -1.7,5.5z"/>
<path color="#1baade" d="M497.6,1267.5l2.1-7.7 -10.1-6.7 -1.7,6.4z"/>
<path color="#15afd9" d="M499.7,1259.8l2.1-7.8 -10.1-6.8 -2.1,7.9z"/>
<path color="#0cb3d3" d="M501.8,1252l2.1-7.9 -10-6.7 -2.2,7.8z"/>
<path color="#03b7cc" d="M503.9,1244.1l2.1-7.8 -10-6.8 -2.1,7.9z"/>
<path color="#02bac5" d="M506,1236.3l2.2-7.9 -10.1-6.7 -2.1,7.8z"/>
<path color="#0abdbd" d="M508.2,1228.4l2.1-7.8 -10.1-6.8 -2.1,7.9z"/>
<path color="#19bfb5" d="M510.3,1220.6l-9.7-8.1 -.4,1.3z"/>
<path color="#15afd9" d="M215.9,1240.6l12.7-5.2 -.3-1.2 -12.7,5.3z"/>
<path color="#0cb3d3" d="M228.3,1234.2l-2.4-8.6 -12.7,5.3 2.4,8.6z"/>
<path color="#03b7cc" d="M225.9,1225.6l-2.3-8.7 -12.7,5.3 2.3,8.7z"/>
<path color="#02bac5" d="M223.6,1216.9l-2.4-8.6 -12.6,5.3 2.3,8.6z"/>
<path color="#0abdbd" d="M221.2,1208.3l-2.3-8.6 -12.7,5.3 2.4,8.6z"/>
<path color="#19bfb5" d="M218.9,1199.7l-12.7,5.2 0,.1z"/>
<path color="#23a0e5" d="M238.3,1268.9l12.7-5.4 -2.4-8.2 -12.7,5.2z"/>
<path color="#1fa6e2" d="M248.6,1255.3l-2.5-8.8 -12.8,5.2 2.6,8.8z"/>
<path color="#1baade" d="M246.1,1246.5l-2.6-8.8 -12.7,5.3 2.5,8.7z"/>
<path color="#15afd9" d="M243.5,1237.7l-2.2-7.6 -12.7,5.3 2.2,7.6z"/>
<path color="#2d8af5" d="M260.7,1294.6l12.7-5.9 -.9-2.9 -13,5.1z"/>
<path color="#2c90f0" d="M272.5,1285.8l-2.8-9 -12.9,5.1 2.7,9z"/>
<path color="#2896ec" d="M269.7,1276.8l-2.8-8.9 -12.9,5.1 2.8,8.9z"/>
<path color="#259be8" d="M266.9,1267.9l-2.8-9 -12.9,5.1 2.8,9z"/>
<path color="#23a0e5" d="M264.1,1258.9l-.4-1.3 -12.7,5.9 .2,.5z"/>
<path color="#3777fe" d="M283.1,1317.6l12.7-7 -.7-2.2 -13.4,4.8z"/>
<path color="#317dfb" d="M295.1,1308.4l-3.1-9.1 -13.4,4.7 3.1,9.2z"/>
<path color="#2e84f9" d="M292,1299.3l-3-9.2 -13.5,4.8 3.1,9.1z"/>
<path color="#2d8af5" d="M289,1290.1l-2.9-8.3 -12.7,6.9 2.1,6.2z"/>
<path color="#4562fc" d="M305.5,1337.1l1.5-.9 -1.6,.4z"/>
<path color="#4369fe" d="M307,1336.2l11.3-7.7 -2-5.4 -14.4,4.1 3.5,9.4z"/>
<path color="#3e70ff" d="M316.3,1323.1l-3.5-9.4 -14.3,4.1 3.4,9.4z"/>
<path color="#3777fe" d="M312.8,1313.7l-3.4-9.4 -7.2,2 -6.4,4.3 2.7,7.2z"/>
<path color="#317dfb" d="M309.4,1304.3l-.8-2.3 -6.4,4.3z"/>
<path color="#4755f6" d="M328,1352.7l1-.9 -1.3,.3z"/>
<path color="#475cfa" d="M329,1351.8l11.7-9.7 -1.2-2.9 -15.7,3.2 3.9,9.7z"/>
<path color="#4562fc" d="M339.5,1339.2l-3.9-9.7 -15.7,3.1 3.9,9.8z"/>
<path color="#4369fe" d="M335.6,1329.5l-3.9-9.7 -3.9,.8 -9.5,7.9 1.6,4.1z"/>
<path color="#3e70ff" d="M331.7,1319.8l-.7-1.9 -3.2,2.7z"/>
<path color="#484ff2" d="M350.4,1363.9l4.8-5 -6.8,.6z"/>
<path color="#4755f6" d="M355.2,1358.9l7.9-8.3 -1.3-2.9 -17.9,1.6 4.5,10.2z"/>
<path color="#475cfa" d="M361.8,1347.7l-4.5-10.1 -13.5,1.1 -3.1,3.4 3.2,7.2z"/>
<path color="#4562fc" d="M357.3,1337.6l-3.9-8.9 -9.6,10z"/>
<path color="#4849ed" d="M372.8,1370.2l.8-1.1 -1.4-.1z"/>
<path color="#484ff2" d="M373.6,1369.1l7.9-10.2 -14.6-.6 5.3,10.7z"/>
<path color="#4755f6" d="M381.5,1358.9l4-5.3 -2.6-5.2 -17.6-.7 -2.2,2.9 3.8,7.7z"/>
<path color="#475cfa" d="M382.9,1348.4l-5.3-10.8 -4.4-.1 -7.9,10.2z"/>
<path color="#4562fc" d="M377.6,1337.6l-1.8-3.6 -2.6,3.5z"/>
<path color="#484ff2" d="M395.2,1370.9l5.8-9.2 -12.2-2.1z"/>
<path color="#4755f6" d="M401,1361.7l5.9-9.4 -18.5-3.3 -2.9,4.6 3.3,6z"/>
<path color="#475cfa" d="M406.9,1352.3l1-1.7 -5.3-9.5 -8.3-1.5 -5.9,9.4z"/>
<path color="#4562fc" d="M402.6,1341.1l-4.4-7.8 -3.9,6.3z"/>
<path color="#4755f6" d="M417.6,1365.6l4.5-8.8 -12.7-3.9z"/>
<path color="#475cfa" d="M422.1,1356.8l4.6-8.8 -15-4.7 -3.8,7.3 1.5,2.3z"/>
<path color="#4562fc" d="M426.7,1348l3.6-7 -1.8-2.8 -12.2-3.8 -4.6,8.9z"/>
<path color="#4369fe" d="M428.5,1338.2l-7.9-12.1 -4.3,8.3z"/>
<path color="#475cfa" d="M440,1353.7l.2-.4 -.7-.3z"/>
<path color="#4562fc" d="M440.2,1353.3l3.7-8.5 -12.8-5.6 -.8,1.8 9.2,12z"/>
<path color="#4369fe" d="M443.9,1344.8l3.7-8.5 -12.8-5.6 -3.7,8.5z"/>
<path color="#3e70ff" d="M447.6,1336.3l3.7-8.5 -12.8-5.6 -3.7,8.5z"/>
<path color="#3777fe" d="M451.3,1327.8l1.5-3.5 -7-9 -3.6-1.6 -3.7,8.5z"/>
<path color="#317dfb" d="M445.8,1315.3l-2.8-3.6 -.8,2z"/>
<path color="#3e70ff" d="M462.5,1334.7l.2-.8 -2-1.1z"/>
<path color="#3777fe" d="M462.7,1333.9l3-8.2 -11.2-6.2 -1.7,4.8 7.9,8.5z"/>
<path color="#317dfb" d="M465.7,1325.7l3.1-8.2 -11.2-6.3 -3.1,8.3z"/>
<path color="#2e84f9" d="M468.8,1317.5l3-8.2 -11.2-6.3 -3,8.2z"/>
<path color="#2d8af5" d="M471.8,1309.3l3-8.2 -11.2-6.3 -3,8.2z"/>
<path color="#2c90f0" d="M474.8,1301.1l.4-1.1 -9.7-10.3 -1.9,5.1z"/>
<path color="#2d8af5" d="M484.9,1308l.1-.3 -2.3-1.5z"/>
<path color="#2c90f0" d="M485,1307.7l2.5-8 -10.1-6.7 -2.2,7 7.5,6.2z"/>
<path color="#2896ec" d="M487.5,1299.7l2.5-8 -10.1-6.7 -2.5,8z"/>
<path color="#259be8" d="M490,1291.7l2.5-8 -10.1-6.7 -2.5,8z"/>
<path color="#23a0e5" d="M492.5,1283.7l2.5-8 -10.1-6.7 -2.5,8z"/>
<path color="#1fa6e2" d="M495,1275.7l2.5-8 -10.1-6.7 -2.5,8z"/>
<path color="#1baade" d="M497.5,1267.7l.1-.2 -9.7-8 -.5,1.5z"/>
<path color="#1baade" d="M507.3,1273.2l1.7-6.3 -9.3-7.1 -2.1,7.7z"/>
<path color="#15afd9" d="M509,1266.9l2.1-7.9 -9.3-7 -2.1,7.8z"/>
<path color="#0cb3d3" d="M511.1,1259l2.2-7.9 -9.4-7 -2.1,7.9z"/>
<path color="#03b7cc" d="M513.3,1251.1l2.1-7.8 -9.4-7 -2.1,7.8z"/>
<path color="#02bac5" d="M515.4,1243.3l2.1-7.9 -9.3-7 -2.2,7.9z"/>
<path color="#0abdbd" d="M517.5,1235.4l2.1-7.8 -9.3-7 -2.1,7.8z"/>
<path color="#19bfb5" d="M519.6,1227.6l.4-1.3 -9.7-5.7z"/>
<path color="#15afd9" d="M203.2,1245.3l12.7-4.7 -.3-1.1 -12.5,5.4z"/>
<path color="#0cb3d3" d="M215.6,1239.5l-2.4-8.6 -12.5,5.4 2.4,8.6z"/>
<path color="#03b7cc" d="M213.2,1230.9l-2.3-8.7 -12.5,5.5 2.3,8.6z"/>
<path color="#02bac5" d="M210.9,1222.2l-2.3-8.6 -12.5,5.4 2.3,8.7z"/>
<path color="#0abdbd" d="M208.6,1213.6l-2.4-8.6 -12.5,5.4 2.4,8.6z"/>
<path color="#19bfb5" d="M206.2,1205l0-.1 -12.7,4.6 .2,.9z"/>
<path color="#23a0e5" d="M225.6,1274.1l12.7-5.2 -2.4-8.4 -12.7,5.3z"/>
<path color="#1fa6e2" d="M235.9,1260.5l-2.6-8.8 -12.6,5.3 2.5,8.8z"/>
<path color="#1baade" d="M233.3,1251.7l-2.5-8.7 -12.7,5.3 2.6,8.7z"/>
<path color="#15afd9" d="M230.8,1243l-2.2-7.6 -12.7,5.2 2.2,7.7z"/>
<path color="#2d8af5" d="M248,1300l12.7-5.4 -1.2-3.7 -12.7,5.2z"/>
<path color="#2c90f0" d="M259.5,1290.9l-2.7-9 -12.8,5.3 2.8,8.9z"/>
<path color="#2896ec" d="M256.8,1281.9l-2.8-8.9 -12.8,5.2 2.8,9z"/>
<path color="#259be8" d="M254,1273l-2.8-9 -12.8,5.3 2.8,8.9z"/>
<path color="#23a0e5" d="M251.2,1264l-.2-.5 -12.7,5.4 .1,.4z"/>
<path color="#3777fe" d="M270.4,1323.5l12.7-5.9 -1.4-4.4 -13,5.1z"/>
<path color="#317dfb" d="M281.7,1313.2l-3.1-9.2 -13,5.1 3.1,9.2z"/>
<path color="#2e84f9" d="M278.6,1304l-3.1-9.1 -13,5.1 3.1,9.1z"/>
<path color="#2d8af5" d="M275.5,1294.9l-2.1-6.2 -12.7,5.9 1.8,5.4z"/>
<path color="#4562fc" d="M292.8,1344.1l12.7-7 -.1-.5 -13.6,4.7z"/>
<path color="#4369fe" d="M305.4,1336.6l-3.5-9.4 -13.5,4.7 3.4,9.4z"/>
<path color="#3e70ff" d="M301.9,1327.2l-3.4-9.4 -13.6,4.7 3.5,9.4z"/>
<path color="#3777fe" d="M298.5,1317.8l-2.7-7.2 -12.7,7 1.8,4.9z"/>
<path color="#4755f6" d="M315.3,1361.3l12.7-8.6 -.3-.6 -14.5,4z"/>
<path color="#475cfa" d="M327.7,1352.1l-3.9-9.7 -14.6,3.9 4,9.8z"/>
<path color="#4562fc" d="M323.8,1342.4l-3.9-9.8 -12.9,3.6 -1.5,.9 3.7,9.2z"/>
<path color="#4369fe" d="M319.9,1332.6l-1.6-4.1 -11.3,7.7z"/>
<path color="#4849ed" d="M337.7,1374.6l3.6-3 -4.6,.8z"/>
<path color="#484ff2" d="M341.3,1371.6l9.1-7.7 -2-4.4 -16.2,2.7 4.5,10.2z"/>
<path color="#4755f6" d="M348.4,1359.5l-4.5-10.2 -14.9,2.5 -1,.9 4.2,9.5z"/>
<path color="#475cfa" d="M343.9,1349.3l-3.2-7.2 -11.7,9.7z"/>
<path color="#4742e6" d="M360.1,1383.5l2.9-3 -4.3,.2z"/>
<path color="#4849ed" d="M363,1380.5l9.8-10.3 -.6-1.2 -18.9,.9 5.4,10.8z"/>
<path color="#484ff2" d="M372.2,1369l-5.3-10.7 -11.7,.6 -4.8,5 2.9,6z"/>
<path color="#4755f6" d="M366.9,1358.3l-3.8-7.7 -7.9,8.3z"/>
<path color="#4742e6" d="M382.5,1387.5l4.7-6.1 -8.6-.9z"/>
<path color="#4849ed" d="M387.2,1381.4l7.8-10.3 -21.4-2 -.8,1.1 5.8,10.3z"/>
<path color="#484ff2" d="M395,1371.1l.2-.2 -6.4-11.3 -7.3-.7 -7.9,10.2z"/>
<path color="#4755f6" d="M388.8,1359.6l-3.3-6 -4,5.3z"/>
<path color="#4742e6" d="M404.9,1385.9l.8-1.3 -1.9-.5z"/>
<path color="#4849ed" d="M405.7,1384.6l5.9-9.5 -16.2-3.9 8.4,12.9z"/>
<path color="#484ff2" d="M411.6,1375.1l5.9-9.4 -16.5-4 -5.8,9.2 .2,.3z"/>
<path color="#4755f6" d="M417.5,1365.7l.1-.1 -8.2-12.7 -2.5-.6 -5.9,9.4z"/>
<path color="#475cfa" d="M409.4,1352.9l-1.5-2.3 -1,1.7z"/>
<path color="#484ff2" d="M427.3,1378.2l3.8-7.2 -13.3-5.2z"/>
<path color="#4755f6" d="M431.1,1371l4.6-8.9 -13.6-5.3 -4.5,8.8 .2,.2z"/>
<path color="#475cfa" d="M435.7,1362.1l4.3-8.4 -.5-.7 -12.8-5 -4.6,8.8z"/>
<path color="#4562fc" d="M439.5,1353l-9.2-12 -3.6,7z"/>
<path color="#475cfa" d="M449.7,1364l2-4.6 -11.5-6.1 -.2,.4z"/>
<path color="#4562fc" d="M451.7,1359.4l3.7-8.5 -11.5-6.1 -3.7,8.5z"/>
<path color="#4369fe" d="M455.4,1350.9l3.7-8.5 -11.5-6.1 -3.7,8.5z"/>
<path color="#3e70ff" d="M459.1,1342.4l3.4-7.7 -1.8-1.9 -9.4-5 -3.7,8.5z"/>
<path color="#3777fe" d="M460.7,1332.8l-7.9-8.5 -1.5,3.5z"/>
<path color="#3e70ff" d="M472.2,1342.7l.7-2.1 -10.2-6.7 -.2,.8z"/>
<path color="#3777fe" d="M472.9,1340.6l3-8.2 -10.2-6.7 -3,8.2z"/>
<path color="#317dfb" d="M475.9,1332.4l3.1-8.2 -10.2-6.7 -3.1,8.2z"/>
<path color="#2e84f9" d="M479,1324.2l3-8.2 -10.2-6.7 -3,8.2z"/>
<path color="#2d8af5" d="M482,1316l2.9-8 -2.2-1.8 -7.9-5.1 -3,8.2z"/>
<path color="#2c90f0" d="M482.7,1306.2l-7.5-6.2 -.4,1.1z"/>
<path color="#2d8af5" d="M485,1307.7l-.1,.3 2.1,1.3z"/>
<path color="#2c90f0" d="M494.6,1313.8l2.2-7 -9.3-7.1 -2.5,8 2,1.6z"/>
<path color="#2896ec" d="M496.8,1306.8l2.5-8 -9.3-7.1 -2.5,8z"/>
<path color="#259be8" d="M499.3,1298.8l2.5-8 -9.3-7.1 -2.5,8z"/>
<path color="#23a0e5" d="M501.8,1290.8l2.5-8.1 -9.3-7 -2.5,8z"/>
<path color="#1fa6e2" d="M504.3,1282.7l2.5-8 -9.3-7 -2.5,8z"/>
<path color="#1baade" d="M506.8,1274.7l.5-1.5 -9.7-5.7 -.1,.2z"/>
<path color="#1baade" d="M517,1276.6l.7-2.4 -8.7-7.3 -1.7,6.3z"/>
<path color="#15afd9" d="M517.7,1274.2l2.1-7.9 -8.7-7.3 -2.1,7.9z"/>
<path color="#0cb3d3" d="M519.8,1266.3l2.1-7.8 -8.6-7.4 -2.2,7.9z"/>
<path color="#03b7cc" d="M521.9,1258.5l2.1-7.9 -8.6-7.3 -2.1,7.8z"/>
<path color="#02bac5" d="M524,1250.6l2.2-7.8 -8.7-7.4 -2.1,7.9z"/>
<path color="#0abdbd" d="M526.2,1242.8l2.1-7.9 -8.7-7.3 -2.1,7.8z"/>
<path color="#19bfb5" d="M528.3,1234.9l1.4-5.2 -9.7-3.4 -.4,1.3z"/>
<path color="#15afd9" d="M201.1,1245.9l2.1-.6 -.1-.4z"/>
<path color="#0cb3d3" d="M190.5,1248.9l10.6-3 2-1 -2.4-8.6 -12.1,5.7z"/>
<path color="#03b7cc" d="M200.7,1236.3l-2.3-8.6 -12.1,5.6 2.3,8.7z"/>
<path color="#02bac5" d="M198.4,1227.7l-2.3-8.7 -12.2,5.7 2.4,8.6z"/>
<path color="#0abdbd" d="M196.1,1219l-2.4-8.6 -12.1,5.7 2.3,8.6z"/>
<path color="#19bfb5" d="M193.7,1210.4l-.2-.9 -12.7,3.6 .8,3z"/>
<path color="#23a0e5" d="M212.9,1278.7l12.7-4.6 -2.4-8.3 -12.5,5.4z"/>
<path color="#1fa6e2" d="M223.2,1265.8l-2.5-8.8 -12.5,5.5 2.5,8.7z"/>
<path color="#1baade" d="M220.7,1257l-2.6-8.7 -12.5,5.4 2.6,8.8z"/>
<path color="#15afd9" d="M218.1,1248.3l-2.2-7.7 -12.7,4.7 2.4,8.4z"/>
<path color="#2d8af5" d="M235.3,1305.2l12.7-5.2 -1.2-3.9 -12.7,5.3z"/>
<path color="#2c90f0" d="M246.8,1296.1l-2.8-8.9 -12.7,5.3 2.8,8.9z"/>
<path color="#2896ec" d="M244,1287.2l-2.8-9 -12.7,5.3 2.8,9z"/>
<path color="#259be8" d="M241.2,1278.2l-2.8-8.9 -12.6,5.3 2.7,8.9z"/>
<path color="#23a0e5" d="M238.4,1269.3l-.1-.4 -12.7,5.2 .2,.5z"/>
<path color="#3777fe" d="M257.7,1328.8l12.7-5.3 -1.7-5.2 -12.8,5.2z"/>
<path color="#317dfb" d="M268.7,1318.3l-3.1-9.2 -12.8,5.3 3.1,9.1z"/>
<path color="#2e84f9" d="M265.6,1309.1l-3.1-9.1 -12.7,5.2 3,9.2z"/>
<path color="#2d8af5" d="M262.5,1300l-1.8-5.4 -12.7,5.4 1.8,5.2z"/>
<path color="#4562fc" d="M280.1,1350l12.7-5.9 -1-2.8 -13,5.1z"/>
<path color="#4369fe" d="M291.8,1341.3l-3.4-9.4 -13,5 3.4,9.5z"/>
<path color="#3e70ff" d="M288.4,1331.9l-3.5-9.4 -13,5 3.5,9.4z"/>
<path color="#3777fe" d="M284.9,1322.5l-1.8-4.9 -12.7,5.9 1.5,4z"/>
<path color="#4755f6" d="M302.5,1368.3l12.8-7 -2.1-5.2 -13.7,4.6z"/>
<path color="#475cfa" d="M313.2,1356.1l-4-9.8 -13.6,4.6 3.9,9.8z"/>
<path color="#4562fc" d="M309.2,1346.3l-3.7-9.2 -12.7,7 2.8,6.8z"/>
<path color="#4849ed" d="M325,1383.2l12.7-8.6 -1-2.2 -14.9,3.8z"/>
<path color="#484ff2" d="M336.7,1372.4l-4.5-10.2 -14.9,3.8 4.5,10.2z"/>
<path color="#4755f6" d="M332.2,1362.2l-4.2-9.5 -12.7,8.6 2,4.7z"/>
<path color="#463cdf" d="M347.4,1394.2l.7-.6 -1,.2z"/>
<path color="#4742e6" d="M348.1,1393.6l12-10.1 -1.4-2.8 -16.9,2.3 5.3,10.8z"/>
<path color="#4849ed" d="M358.7,1380.7l-5.4-10.8 -12,1.7 -3.6,3 4.1,8.4z"/>
<path color="#484ff2" d="M353.3,1369.9l-2.9-6 -9.1,7.7z"/>
<path color="#463cdf" d="M369.8,1400.8l8.3-8.7 -13.2-.1z"/>
<path color="#4742e6" d="M378.1,1392.1l4.4-4.6 -3.9-7 -15.6,0 -2.9,3 4.8,8.5z"/>
<path color="#4849ed" d="M378.6,1380.5l-5.8-10.3 -9.8,10.3z"/>
<path color="#463cdf" d="M392.2,1402.4l5.9-7.7 -12.2-2z"/>
<path color="#4742e6" d="M398.1,1394.7l6.8-8.8 -1.1-1.8 -16.6-2.7 -4.7,6.1 3.4,5.2z"/>
<path color="#4849ed" d="M403.8,1384.1l-8.4-12.9 -.4-.1 -7.8,10.3z"/>
<path color="#484ff2" d="M395.4,1371.2l-.2-.3 -.2,.2z"/>
<path color="#4742e6" d="M414.6,1398.5l5.7-9.1 -14.6-4.8 -.8,1.3z"/>
<path color="#4849ed" d="M420.3,1389.4l5.9-9.4 -14.6-4.9 -5.9,9.5z"/>
<path color="#484ff2" d="M426.2,1380l1.1-1.8 -9.5-12.4 -.3-.1 -5.9,9.4z"/>
<path color="#4755f6" d="M417.8,1365.8l-.2-.2 -.1,.1z"/>
<path color="#4849ed" d="M437,1388.6l1.5-2.8 -7.5-3.7z"/>
<path color="#484ff2" d="M438.5,1385.8l4.5-8.8 -11.9-6 -3.8,7.2 3.7,3.9z"/>
<path color="#4755f6" d="M443,1377l4.6-8.9 -11.9-6 -4.6,8.9z"/>
<path color="#475cfa" d="M447.6,1368.1l2.1-4.1 -9.7-10.3 -4.3,8.4z"/>
<path color="#475cfa" d="M459.4,1372.1l2.7-6.1 -10.4-6.6 -2,4.6z"/>
<path color="#4562fc" d="M462.1,1366l3.6-8.5 -10.3-6.6 -3.7,8.5z"/>
<path color="#4369fe" d="M465.7,1357.5l3.7-8.5 -10.3-6.6 -3.7,8.5z"/>
<path color="#3e70ff" d="M469.4,1349l2.8-6.3 -9.7-8 -3.4,7.7z"/>
<path color="#3e70ff" d="M481.9,1348.4l.2-.7 -9.2-7.1 -.7,2.1z"/>
<path color="#3777fe" d="M482.1,1347.7l3-8.2 -9.2-7.1 -3,8.2z"/>
<path color="#317dfb" d="M485.1,1339.5l3.1-8.2 -9.2-7.1 -3.1,8.2z"/>
<path color="#2e84f9" d="M488.2,1331.3l3-8.3 -9.2-7 -3,8.2z"/>
<path color="#2d8af5" d="M491.2,1323l3-8.2 -7.2-5.5 -2.1-1.3 -2.9,8z"/>
<path color="#2c90f0" d="M494.2,1314.8l.4-1 -7.6-4.5z"/>
<path color="#2c90f0" d="M504.3,1317.2l.9-3 -8.4-7.4 -2.2,7z"/>
<path color="#2896ec" d="M505.2,1314.2l2.5-8 -8.4-7.4 -2.5,8z"/>
<path color="#259be8" d="M507.7,1306.2l2.5-8 -8.4-7.4 -2.5,8z"/>
<path color="#23a0e5" d="M510.2,1298.2l2.6-8.1 -8.5-7.4 -2.5,8.1z"/>
<path color="#1fa6e2" d="M512.8,1290.1l2.5-8 -8.5-7.4 -2.5,8z"/>
<path color="#1baade" d="M515.3,1282.1l1.7-5.5 -9.7-3.4 -.5,1.5z"/>
<path color="#1baade" d="M517.7,1274.2l-.7,2.4 3.7,.5z"/>
<path color="#15afd9" d="M526.7,1277.8l1-3.9 -7.9-7.6 -2.1,7.9 3,2.9z"/>
<path color="#0cb3d3" d="M527.7,1273.9l2.2-7.8 -8-7.6 -2.1,7.8z"/>
<path color="#03b7cc" d="M529.9,1266.1l2.1-7.9 -8-7.6 -2.1,7.9z"/>
<path color="#02bac5" d="M532,1258.2l2.1-7.8 -7.9-7.6 -2.2,7.8z"/>
<path color="#0abdbd" d="M534.1,1250.4l2.1-7.9 -7.9-7.6 -2.1,7.9z"/>
<path color="#19bfb5" d="M536.2,1242.5l2.2-7.8 -4.7-4.5 -4-.5 -1.4,5.2z"/>
<path color="#25c2ad" d="M538.4,1234.7l1-3.9 -5.7-.6z"/>
<path color="#0cb3d3" d="M177.8,1250.8l12.7-1.9 -1.9-6.9 -11.6,6z"/>
<path color="#03b7cc" d="M188.6,1242l-2.3-8.7 -11.7,6.1 2.4,8.6z"/>
<path color="#02bac5" d="M186.3,1233.3l-2.4-8.6 -11.6,6.1 2.3,8.6z"/>
<path color="#0abdbd" d="M183.9,1224.7l-2.3-8.6 -11.6,6 2.3,8.7z"/>
<path color="#19bfb5" d="M181.6,1216.1l-.8-3 -12.8,2 2,7z"/>
<path color="#23a0e5" d="M200.2,1282.3l12.7-3.6 -2.2-7.5 -12.1,5.8z"/>
<path color="#1fa6e2" d="M210.7,1271.2l-2.5-8.7 -12.1,5.7 2.5,8.8z"/>
<path color="#1baade" d="M208.2,1262.5l-2.6-8.8 -12.1,5.7 2.6,8.8z"/>
<path color="#15afd9" d="M205.6,1253.7l-2.4-8.4 -2.1,.6 -10.1,4.7 2.5,8.8z"/>
<path color="#0cb3d3" d="M201.1,1245.9l-10.6,3 .5,1.7z"/>
<path color="#2d8af5" d="M222.6,1309.8l12.7-4.6 -1.2-3.8 -12.4,5.5z"/>
<path color="#2c90f0" d="M234.1,1301.4l-2.8-8.9 -12.4,5.4 2.8,9z"/>
<path color="#2896ec" d="M231.3,1292.5l-2.8-9 -12.4,5.5 2.8,8.9z"/>
<path color="#259be8" d="M228.5,1283.5l-2.7-8.9 -12.5,5.4 2.8,9z"/>
<path color="#23a0e5" d="M225.8,1274.6l-.2-.5 -12.7,4.6 .4,1.3z"/>
<path color="#3777fe" d="M245,1334l12.7-5.2 -1.8-5.3 -12.7,5.3z"/>
<path color="#317dfb" d="M255.9,1323.5l-3.1-9.1 -12.6,5.3 3,9.1z"/>
<path color="#2e84f9" d="M252.8,1314.4l-3-9.2 -12.7,5.3 3.1,9.2z"/>
<path color="#2d8af5" d="M249.8,1305.2l-1.8-5.2 -12.7,5.2 1.8,5.3z"/>
<path color="#4562fc" d="M267.4,1355.3l12.7-5.3 -1.3-3.6 -12.8,5.2z"/>
<path color="#4369fe" d="M278.8,1346.4l-3.4-9.5 -12.8,5.3 3.4,9.4z"/>
<path color="#3e70ff" d="M275.4,1336.9l-3.5-9.4 -12.7,5.3 3.4,9.4z"/>
<path color="#3777fe" d="M271.9,1327.5l-1.5-4 -12.7,5.3 1.5,4z"/>
<path color="#4755f6" d="M289.8,1374.2l12.7-5.9 -3-7.6 -13.1,5z"/>
<path color="#475cfa" d="M299.5,1360.7l-3.9-9.8 -13.1,5.1 3.9,9.7z"/>
<path color="#4562fc" d="M295.6,1350.9l-2.8-6.8 -12.7,5.9 2.4,6z"/>
<path color="#4849ed" d="M312.2,1390.2l12.8-7 -3.2-7 -13.8,4.5z"/>
<path color="#484ff2" d="M321.8,1376.2l-4.5-10.2 -13.8,4.5 4.5,10.2z"/>
<path color="#4755f6" d="M317.3,1366l-2-4.7 -12.8,7 1,2.2z"/>
<path color="#463cdf" d="M334.7,1402.8l12.7-8.6 -.3-.4 -15.2,3.5z"/>
<path color="#4742e6" d="M347.1,1393.8l-5.3-10.8 -15.2,3.5 5.3,10.8z"/>
<path color="#4849ed" d="M341.8,1383l-4.1-8.4 -12.7,8.6 1.6,3.3z"/>
<path color="#4536d5" d="M357.1,1411.5l8.7-7.3 -12.2,1.1z"/>
<path color="#463cdf" d="M365.8,1404.2l4-3.4 -4.9-8.8 -16.8,1.6 -.7,.6 6.2,11.1z"/>
<path color="#4742e6" d="M364.9,1392l-4.8-8.5 -12,10.1z"/>
<path color="#4536d5" d="M379.5,1415.8l10-10.6 -17.7-1.2z"/>
<path color="#463cdf" d="M389.5,1405.2l2.7-2.8 -6.3-9.7 -7.8-.6 -8.3,8.7 2,3.2z"/>
<path color="#4742e6" d="M385.9,1392.7l-3.4-5.2 -4.4,4.6z"/>
<path color="#4536d5" d="M401.9,1415.1l4.6-6 -11.4-3z"/>
<path color="#463cdf" d="M406.5,1409.1l7.8-10.2 -16.2-4.2 -5.9,7.7 2.9,3.7z"/>
<path color="#4742e6" d="M414.3,1398.9l.3-.4 -9.7-12.6 -6.8,8.8z"/>
<path color="#463cdf" d="M424.3,1408.9l2.8-4.4 -11.8-5.3z"/>
<path color="#4742e6" d="M427.1,1404.5l5.9-9.4 -12.7-5.7 -5.7,9.1 .7,.7z"/>
<path color="#4849ed" d="M433,1395.1l4-6.5 -6-6.5 -4.8-2.1 -5.9,9.4z"/>
<path color="#484ff2" d="M431,1382.1l-3.7-3.9 -1.1,1.8z"/>
<path color="#4849ed" d="M446.7,1396.6l2.2-4.2 -10.4-6.6 -1.5,2.8z"/>
<path color="#484ff2" d="M448.9,1392.4l4.6-8.9 -10.5-6.5 -4.5,8.8z"/>
<path color="#4755f6" d="M453.5,1383.5l4.6-8.9 -10.5-6.5 -4.6,8.9z"/>
<path color="#475cfa" d="M458.1,1374.6l1.3-2.5 -9.7-8.1 -2.1,4.1z"/>
<path color="#475cfa" d="M469.2,1377.8l2-4.6 -9.1-7.2 -2.7,6.1z"/>
<path color="#4562fc" d="M471.2,1373.2l3.6-8.5 -9.1-7.2 -3.6,8.5z"/>
<path color="#4369fe" d="M474.8,1364.7l3.7-8.5 -9.1-7.2 -3.7,8.5z"/>
<path color="#3e70ff" d="M478.5,1356.2l3.4-7.8 -9.7-5.7 -2.8,6.3z"/>
<path color="#3e70ff" d="M482.1,1347.7l-.2,.7 1.7,.7z"/>
<path color="#3777fe" d="M491.6,1351.9l1.8-4.9 -8.3-7.5 -3,8.2 1.5,1.4z"/>
<path color="#317dfb" d="M493.4,1347l3-8.2 -8.2-7.5 -3.1,8.2z"/>
<path color="#2e84f9" d="M496.4,1338.8l3-8.3 -8.2-7.5 -3,8.3z"/>
<path color="#2d8af5" d="M499.4,1330.5l3-8.2 -8.2-7.5 -3,8.2z"/>
<path color="#2c90f0" d="M502.4,1322.3l1.9-5.1 -9.7-3.4 -.4,1z"/>
<path color="#2c90f0" d="M505.2,1314.2l-.9,3 4.4,.5z"/>
<path color="#2896ec" d="M514,1318.3l1.4-4.4 -7.7-7.7 -2.5,8 3.5,3.5z"/>
<path color="#259be8" d="M515.4,1313.9l2.5-8 -7.7-7.7 -2.5,8z"/>
<path color="#23a0e5" d="M517.9,1305.9l2.5-8 -7.6-7.8 -2.6,8.1z"/>
<path color="#1fa6e2" d="M520.4,1297.9l2.5-8 -7.6-7.8 -2.5,8z"/>
<path color="#1baade" d="M522.9,1289.9l2.5-8 -4.7-4.8 -3.7-.5 -1.7,5.5z"/>
<path color="#15afd9" d="M525.4,1281.9l1.3-4.1 -6-.7z"/>
<path color="#15afd9" d="M527.7,1273.9l-1,3.9 4.1-.6z"/>
<path color="#0cb3d3" d="M536.4,1276.6l.7-2.6 -7.2-7.9 -2.2,7.8 3.1,3.3z"/>
<path color="#03b7cc" d="M537.1,1274l2.1-7.9 -7.2-7.9 -2.1,7.9z"/>
<path color="#02bac5" d="M539.2,1266.1l2.1-7.8 -7.2-7.9 -2.1,7.8z"/>
<path color="#0abdbd" d="M541.3,1258.3l2.2-7.9 -7.3-7.9 -2.1,7.9z"/>
<path color="#19bfb5" d="M543.5,1250.4l2.1-7.8 -7.2-7.9 -2.2,7.8z"/>
<path color="#25c2ad" d="M545.6,1242.6l2.1-7.9 -4-4.4 -4.3,.5 -1,3.9z"/>
<path color="#2ec4a5" d="M547.7,1234.7l1.4-5.1 -5.4,.7z"/>
<path color="#0cb3d3" d="M172.4,1250.8l5.4,0 -.8-2.8z"/>
<path color="#03b7cc" d="M165,1250.7l7.4,.1 4.6-2.8 -2.4-8.6 -10.8,6.6z"/>
<path color="#02bac5" d="M174.6,1239.4l-2.3-8.6 -10.9,6.5 2.4,8.7z"/>
<path color="#0abdbd" d="M172.3,1230.8l-2.3-8.7 -10.9,6.6 2.3,8.6z"/>
<path color="#19bfb5" d="M170,1222.1l-2-7 -3,0 -8.3,5 2.4,8.6z"/>
<path color="#25c2ad" d="M165,1215.1l-9.7-.2 1.4,5.2z"/>
<path color="#23a0e5" d="M187.5,1284.3l12.7-2 -1.6-5.3 -11.5,6.1z"/>
<path color="#1fa6e2" d="M198.6,1277l-2.5-8.8 -11.5,6.1 2.5,8.8z"/>
<path color="#1baade" d="M196.1,1268.2l-2.6-8.8 -11.5,6.1 2.6,8.8z"/>
<path color="#15afd9" d="M193.5,1259.4l-2.5-8.8 -11.5,6.2 2.5,8.7z"/>
<path color="#0cb3d3" d="M191,1250.6l-.5-1.7 -12.7,1.9 1.7,6z"/>
<path color="#2d8af5" d="M209.9,1313.4l12.7-3.6 -.9-2.9 -12.1,5.7z"/>
<path color="#2c90f0" d="M221.7,1306.9l-2.8-9 -12.1,5.8 2.8,8.9z"/>
<path color="#2896ec" d="M218.9,1297.9l-2.8-8.9 -12.1,5.7 2.8,9z"/>
<path color="#259be8" d="M216.1,1289l-2.8-9 -12,5.8 2.7,8.9z"/>
<path color="#23a0e5" d="M213.3,1280l-.4-1.3 -12.7,3.6 1.1,3.5z"/>
<path color="#3777fe" d="M232.3,1338.7l12.7-4.7 -1.8-5.2 -12.4,5.5z"/>
<path color="#317dfb" d="M243.2,1328.8l-3-9.1 -12.5,5.4 3.1,9.2z"/>
<path color="#2e84f9" d="M240.2,1319.7l-3.1-9.2 -12.5,5.5 3.1,9.1z"/>
<path color="#2d8af5" d="M237.1,1310.5l-1.8-5.3 -12.7,4.6 2,6.2z"/>
<path color="#4562fc" d="M254.7,1360.5l12.7-5.2 -1.4-3.7 -12.6,5.3z"/>
<path color="#4369fe" d="M266,1351.6l-3.4-9.4 -12.7,5.3 3.5,9.4z"/>
<path color="#3e70ff" d="M262.6,1342.2l-3.4-9.4 -12.7,5.3 3.4,9.4z"/>
<path color="#3777fe" d="M259.2,1332.8l-1.5-4 -12.7,5.2 1.5,4.1z"/>
<path color="#4755f6" d="M277.1,1379.5l12.7-5.3 -3.4-8.5 -12.7,5.2z"/>
<path color="#475cfa" d="M286.4,1365.7l-3.9-9.7 -12.7,5.2 3.9,9.7z"/>
<path color="#4562fc" d="M282.5,1356l-2.4-6 -12.7,5.3 2.4,5.9z"/>
<path color="#4742e6" d="M299.5,1396.1l3.3-1.5 -3.4,1.2z"/>
<path color="#4849ed" d="M302.8,1394.6l9.4-4.4 -4.2-9.5 -13.1,5 4.5,10.1z"/>
<path color="#484ff2" d="M308,1380.7l-4.5-10.2 -13.1,5 4.5,10.2z"/>
<path color="#4755f6" d="M303.5,1370.5l-1-2.2 -12.7,5.9 .6,1.3z"/>
<path color="#463cdf" d="M321.9,1409.8l12.8-7 -2.8-5.5 -14,4.3z"/>
<path color="#4742e6" d="M331.9,1397.3l-5.3-10.8 -14,4.4 5.3,10.7z"/>
<path color="#4849ed" d="M326.6,1386.5l-1.6-3.3 -12.8,7 .4,.7z"/>
<path color="#4332c9" d="M344.4,1420.1l.1-.1 -.2,0z"/>
<path color="#4536d5" d="M344.5,1420l12.6-8.5 -3.5-6.2 -15.8,3.1 6.5,11.6z"/>
<path color="#463cdf" d="M353.6,1405.3l-6.2-11.1 -12.7,8.6 3.1,5.6z"/>
<path color="#4332c9" d="M366.8,1426.5l11.3-9.6 -17.1,.6z"/>
<path color="#4536d5" d="M378.1,1416.9l1.4-1.1 -7.7-11.8 -6,.2 -8.7,7.3 3.9,6z"/>
<path color="#463cdf" d="M371.8,1404l-2-3.2 -4,3.4z"/>
<path color="#4332c9" d="M389.2,1428.4l8.1-8.5 -16.8-2.8z"/>
<path color="#4536d5" d="M397.3,1419.9l4.6-4.8 -6.8-9 -5.6-.9 -10,10.6 1,1.3z"/>
<path color="#463cdf" d="M395.1,1406.1l-2.9-3.7 -2.7,2.8z"/>
<path color="#4332c9" d="M411.6,1425.4l.6-.8 -2.2-.9z"/>
<path color="#4536d5" d="M412.2,1424.6l7.9-10.2 -13.6-5.3 -4.6,6 8.1,8.6z"/>
<path color="#463cdf" d="M420.1,1414.4l4.2-5.5 -9-9.7 -1-.3 -7.8,10.2z"/>
<path color="#4742e6" d="M415.3,1399.2l-.7-.7 -.3,.4z"/>
<path color="#463cdf" d="M434,1416.9l3.7-5.9 -10.6-6.5 -2.8,4.4z"/>
<path color="#4742e6" d="M437.7,1411l5.9-9.4 -10.6-6.5 -5.9,9.4z"/>
<path color="#4849ed" d="M443.6,1401.6l3.1-5 -9.7-8 -4,6.5z"/>
<path color="#4849ed" d="M456.4,1402.3l1.5-2.7 -9-7.2 -2.2,4.2z"/>
<path color="#484ff2" d="M457.9,1399.6l4.6-8.9 -9-7.2 -4.6,8.9z"/>
<path color="#4755f6" d="M462.5,1390.7l4.6-8.9 -9-7.2 -4.6,8.9z"/>
<path color="#475cfa" d="M467.1,1381.8l2.1-4 -9.8-5.7 -1.3,2.5z"/>
<path color="#475cfa" d="M478.9,1381.2l.1-.4 -7.8-7.6 -2,4.6z"/>
<path color="#4562fc" d="M479,1380.8l3.7-8.5 -7.9-7.6 -3.6,8.5z"/>
<path color="#4369fe" d="M482.7,1372.3l3.7-8.5 -7.9-7.6 -3.7,8.5z"/>
<path color="#3e70ff" d="M486.4,1363.8l3.7-8.5 -6.5-6.2 -1.7-.7 -3.4,7.8z"/>
<path color="#3777fe" d="M490.1,1355.3l1.5-3.4 -8-2.8z"/>
<path color="#3777fe" d="M493.4,1347l-1.8,4.9 6.9,.8z"/>
<path color="#317dfb" d="M501.3,1353l2.3-6.3 -7.2-7.9 -3,8.2 5.1,5.7z"/>
<path color="#2e84f9" d="M503.6,1346.7l3-8.2 -7.2-8 -3,8.3z"/>
<path color="#2d8af5" d="M506.6,1338.5l3-8.3 -7.2-7.9 -3,8.2z"/>
<path color="#2c90f0" d="M509.6,1330.2l3-8.2 -3.9-4.3 -4.4-.5 -1.9,5.1z"/>
<path color="#2896ec" d="M512.6,1322l1.4-3.7 -5.3-.6z"/>
<path color="#2896ec" d="M515.4,1313.9l-1.4,4.4 4.5-.6z"/>
<path color="#259be8" d="M523.7,1317.1l1-3.1 -6.8-8.1 -2.5,8 3.1,3.8z"/>
<path color="#23a0e5" d="M524.7,1314l2.5-8 -6.8-8.1 -2.5,8z"/>
<path color="#1fa6e2" d="M527.2,1306l2.5-8 -6.8-8.1 -2.5,8z"/>
<path color="#1baade" d="M529.7,1298l2.5-8 -6.8-8.1 -2.5,8z"/>
<path color="#15afd9" d="M532.2,1290l2.5-8.1 -3.9-4.7 -4.1,.6 -1.3,4.1z"/>
<path color="#0cb3d3" d="M534.7,1281.9l1.7-5.3 -5.6,.6z"/>
<path color="#0cb3d3" d="M537.1,1274l-.7,2.6 2.1-.8z"/>
<path color="#03b7cc" d="M539.2,1266.1l-2.1,7.9 1.4,1.8 6.5-2.4z"/>
<path color="#02bac5" d="M546.1,1273l1.8-6.5 -6.6-8.2 -2.1,7.8 5.8,7.3z"/>
<path color="#0abdbd" d="M547.9,1266.5l2.1-7.9 -6.5-8.2 -2.2,7.9z"/>
<path color="#19bfb5" d="M550,1258.6l2.1-7.8 -6.5-8.2 -2.1,7.8z"/>
<path color="#25c2ad" d="M552.1,1250.8l2.2-7.9 -6.6-8.2 -2.1,7.9z"/>
<path color="#2ec4a5" d="M554.3,1242.9l2.1-7.8 -5-6.3 -2.3,.8 -1.4,5.1z"/>
<path color="#34c79c" d="M556.4,1235.1l2.1-7.9 -.6-.8 -6.5,2.4z"/>
<path color="#3cc992" d="M558.5,1227.2l.3-1.1 -.9,.3z"/>
<path color="#03b7cc" d="M159,1249.4l6,1.3 -1.2-4.7z"/>
<path color="#02bac5" d="M152.3,1247.9l6.7,1.5 4.8-3.4 -2.4-8.7 -10,7.2z"/>
<path color="#0abdbd" d="M161.4,1237.3l-2.3-8.6 -10,7.2 2.3,8.6z"/>
<path color="#19bfb5" d="M159.1,1228.7l-2.4-8.6 -10,7.2 2.4,8.6z"/>
<path color="#25c2ad" d="M156.7,1220.1l-1.4-5.2 -4.4-.9 -6.5,4.6 2.3,8.7z"/>
<path color="#2ec4a5" d="M150.9,1214l-8.3-1.9 1.8,6.5z"/>
<path color="#23a0e5" d="M185.2,1284.3l2.3,0 -.4-1.2z"/>
<path color="#1fa6e2" d="M174.7,1284.1l10.5,.2 1.9-1.2 -2.5-8.8 -10.8,6.7z"/>
<path color="#1baade" d="M184.6,1274.3l-2.6-8.8 -10.7,6.7 2.5,8.8z"/>
<path color="#15afd9" d="M182,1265.5l-2.5-8.7 -10.8,6.6 2.6,8.8z"/>
<path color="#0cb3d3" d="M179.5,1256.8l-1.7-6 -5.4,0 -6.2,3.9 2.5,8.7z"/>
<path color="#03b7cc" d="M172.4,1250.8l-7.4-.1 1.2,4z"/>
<path color="#2d8af5" d="M207.5,1313.8l2.4-.4 -.3-.8z"/>
<path color="#2c90f0" d="M197.2,1315.4l10.3-1.6 2.1-1.2 -2.8-8.9 -11.4,6.2z"/>
<path color="#2896ec" d="M206.8,1303.7l-2.8-9 -11.4,6.3 2.8,8.9z"/>
<path color="#259be8" d="M204,1294.7l-2.7-8.9 -11.4,6.2 2.7,9z"/>
<path color="#23a0e5" d="M201.3,1285.8l-1.1-3.5 -12.7,2 2.4,7.7z"/>
<path color="#3777fe" d="M219.6,1342.2l12.7-3.5 -1.5-4.4 -12,5.8z"/>
<path color="#317dfb" d="M230.8,1334.3l-3.1-9.2 -11.9,5.8 3,9.2z"/>
<path color="#2e84f9" d="M227.7,1325.1l-3.1-9.1 -11.9,5.8 3.1,9.1z"/>
<path color="#2d8af5" d="M224.6,1316l-2-6.2 -12.7,3.6 2.8,8.4z"/>
<path color="#4562fc" d="M242,1365.2l12.7-4.7 -1.3-3.6 -12.4,5.5z"/>
<path color="#4369fe" d="M253.4,1356.9l-3.5-9.4 -12.4,5.5 3.5,9.4z"/>
<path color="#3e70ff" d="M249.9,1347.5l-3.4-9.4 -12.4,5.5 3.4,9.4z"/>
<path color="#3777fe" d="M246.5,1338.1l-1.5-4.1 -12.7,4.7 1.8,4.9z"/>
<path color="#4755f6" d="M264.4,1384.7l12.7-5.2 -3.4-8.6 -12.7,5.4z"/>
<path color="#475cfa" d="M273.7,1370.9l-3.9-9.7 -12.7,5.3 3.9,9.8z"/>
<path color="#4562fc" d="M269.8,1361.2l-2.4-5.9 -12.7,5.2 2.4,6z"/>
<path color="#4742e6" d="M286.8,1401.4l12.7-5.3 -.1-.3 -12.7,5.3z"/>
<path color="#4849ed" d="M299.4,1395.8l-4.5-10.1 -12.7,5.2 4.5,10.2z"/>
<path color="#484ff2" d="M294.9,1385.7l-4.5-10.2 -12.8,5.2 4.6,10.2z"/>
<path color="#4755f6" d="M290.4,1375.5l-.6-1.3 -12.7,5.3 .5,1.2z"/>
<path color="#463cdf" d="M309.2,1415.6l12.7-5.8 -4-8.2 -13.2,5z"/>
<path color="#4742e6" d="M317.9,1401.6l-5.3-10.7 -9.8,3.7 -3.3,1.5 5.2,10.5z"/>
<path color="#4849ed" d="M312.6,1390.9l-.4-.7 -9.4,4.4z"/>
<path color="#4332c9" d="M331.7,1427l12.7-6.9 -.1-.1 -14.3,4.2z"/>
<path color="#4536d5" d="M344.3,1420l-6.5-11.6 -14.3,4.2 6.5,11.6z"/>
<path color="#463cdf" d="M337.8,1408.4l-3.1-5.6 -12.8,7 1.6,2.8z"/>
<path color="#412dbc" d="M354.1,1435l4.4-3 -5.8,.9z"/>
<path color="#4332c9" d="M358.5,1432l8.3-5.5 -5.8-9 -16.5,2.5 -.1,.1 8.3,12.8z"/>
<path color="#4536d5" d="M361,1417.5l-3.9-6 -12.6,8.5z"/>
<path color="#412dbc" d="M376.5,1439.1l8.5-7.2 -14.6-.7z"/>
<path color="#4332c9" d="M385,1431.9l4.2-3.5 -8.7-11.3 -2.4-.2 -11.3,9.6 3.6,4.7z"/>
<path color="#4536d5" d="M380.5,1417.1l-1-1.3 -1.4,1.1z"/>
<path color="#412dbc" d="M398.9,1438.8l2.6-2.8 -7.3-2.2z"/>
<path color="#4332c9" d="M401.5,1436l10.1-10.6 -1.6-1.7 -12.7-3.8 -8.1,8.5 5,5.4z"/>
<path color="#4536d5" d="M410,1423.7l-8.1-8.6 -4.6,4.8z"/>
<path color="#4332c9" d="M421.3,1433.5l2-2.6 -11.1-6.3 -.6,.8z"/>
<path color="#4536d5" d="M423.3,1430.9l7.8-10.2 -11-6.3 -7.9,10.2z"/>
<path color="#463cdf" d="M431.1,1420.7l2.9-3.8 -9.7-8 -4.2,5.5z"/>
<path color="#463cdf" d="M443.7,1422.6l2.8-4.3 -8.8-7.3 -3.7,5.9z"/>
<path color="#4742e6" d="M446.5,1418.3l5.9-9.5 -8.8-7.2 -5.9,9.4z"/>
<path color="#4849ed" d="M452.4,1408.8l4-6.5 -9.7-5.7 -3.1,5z"/>
<path color="#4849ed" d="M457.9,1399.6l-1.5,2.7 6.1,2.2z"/>
<path color="#484ff2" d="M466.1,1405.8l3.8-7.3 -7.4-7.8 -4.6,8.9 4.6,4.9z"/>
<path color="#4755f6" d="M469.9,1398.5l4.6-8.8 -7.4-7.9 -4.6,8.9z"/>
<path color="#475cfa" d="M474.5,1389.7l4.4-8.5 -9.7-3.4 -2.1,4z"/>
<path color="#475cfa" d="M479,1380.8l-.1,.4 .5,.1z"/>
<path color="#4562fc" d="M488.6,1382.3l.8-1.8 -6.7-8.2 -3.7,8.5 .4,.5z"/>
<path color="#4369fe" d="M489.4,1380.5l3.6-8.5 -6.6-8.2 -3.7,8.5z"/>
<path color="#3e70ff" d="M493,1372l3.7-8.5 -6.6-8.2 -3.7,8.5z"/>
<path color="#3777fe" d="M496.7,1363.5l3.7-8.5 -1.9-2.3 -6.9-.8 -1.5,3.4z"/>
<path color="#317dfb" d="M500.4,1355l.9-2 -2.8-.3z"/>
<path color="#317dfb" d="M503.6,1346.7l-2.3,6.3 6.4-.8z"/>
<path color="#2e84f9" d="M511,1351.8l1.8-5 -6.2-8.3 -3,8.2 4.1,5.5z"/>
<path color="#2d8af5" d="M512.8,1346.8l3-8.2 -6.2-8.4 -3,8.3z"/>
<path color="#2c90f0" d="M515.8,1338.6l3-8.2 -6.2-8.4 -3,8.2z"/>
<path color="#2896ec" d="M518.8,1330.4l3-8.3 -3.3-4.4 -4.5,.6 -1.4,3.7z"/>
<path color="#259be8" d="M521.8,1322.1l1.9-5 -5.2,.6z"/>
<path color="#259be8" d="M524.7,1314l-1,3.1 2.5-.9z"/>
<path color="#23a0e5" d="M527.2,1306l-2.5,8 1.5,2.2 6.5-2.4z"/>
<path color="#1fa6e2" d="M533.4,1313.6l2.2-7.2 -5.9-8.4 -2.5,8 5.5,7.8z"/>
<path color="#1baade" d="M535.6,1306.4l2.5-8 -5.9-8.4 -2.5,8z"/>
<path color="#15afd9" d="M538.1,1298.4l2.6-8 -6-8.5 -2.5,8.1z"/>
<path color="#0cb3d3" d="M540.7,1290.4l2.5-8 -4.7-6.6 -2.1,.8 -1.7,5.3z"/>
<path color="#03b7cc" d="M543.2,1282.4l2.5-8 -.7-1 -6.5,2.4z"/>
<path color="#02bac5" d="M545.7,1274.4l.4-1.4 -1.1,.4z"/>
<path color="#02bac5" d="M547.9,1266.5l-1.8,6.5 4.4-2.6z"/>
<path color="#0abdbd" d="M555.8,1267.2l0-.1 -5.8-8.5 -2.1,7.9 2.6,3.9z"/>
<path color="#19bfb5" d="M555.8,1267.1l2.2-7.8 -5.9-8.5 -2.1,7.8z"/>
<path color="#25c2ad" d="M558,1259.3l2.1-7.9 -5.8-8.5 -2.2,7.9z"/>
<path color="#2ec4a5" d="M560.1,1251.4l2.1-7.8 -5.8-8.5 -2.1,7.8z"/>
<path color="#34c79c" d="M562.2,1243.6l2.1-7.9 -5.8-8.5 -2.1,7.9z"/>
<path color="#3cc992" d="M564.3,1235.7l2.2-7.8 -3.1-4.5 -4.6,2.7 -.3,1.1z"/>
<path color="#47cb87" d="M566.5,1227.9l2-7.6 -5.1,3.1z"/>
<path color="#02bac5" d="M149.3,1246.4l3,1.5 -.9-3.4z"/>
<path color="#0abdbd" d="M141.4,1242.7l7.9,3.7 2.1-1.9 -2.3-8.6z"/>
<path color="#19bfb5" d="M139.6,1241.9l1.8,.8 7.7-6.8 -2.4-8.6 -8.9,7.9z"/>
<path color="#25c2ad" d="M146.7,1227.3l-2.3-8.7 -8.9,8 2.3,8.6z"/>
<path color="#2ec4a5" d="M144.4,1218.6l-1.8-6.5 -1.9-.9 -7.6,6.8 2.4,8.6z"/>
<path color="#34c79c" d="M140.7,1211.2l-7.9-3.7 -2,1.8 2.3,8.7z"/>
<path color="#3cc992" d="M132.8,1207.5l-2.9-1.4 .9,3.2z"/>
<path color="#1fa6e2" d="M170.8,1283.3l3.9,.8 -.9-3.1z"/>
<path color="#1baade" d="M162,1281.3l8.8,2 3-2.3 -2.5-8.8 -9.8,7.4z"/>
<path color="#15afd9" d="M171.3,1272.2l-2.6-8.8 -9.7,7.4 2.5,8.8z"/>
<path color="#0cb3d3" d="M168.7,1263.4l-2.5-8.7 -9.8,7.3 2.6,8.8z"/>
<path color="#03b7cc" d="M166.2,1254.7l-1.2-4 -6-1.3 -5.1,3.8 2.5,8.8z"/>
<path color="#02bac5" d="M159,1249.4l-6.7-1.5 1.6,5.3z"/>
<path color="#2c90f0" d="M187.1,1315.3l10.1,.1 -1.8-5.5z"/>
<path color="#2896ec" d="M184.4,1315.3l2.7,0 8.3-5.4 -2.8-8.9 -10.5,6.8z"/>
<path color="#259be8" d="M192.6,1301l-2.7-9 -10.6,6.8 2.8,9z"/>
<path color="#23a0e5" d="M189.9,1292l-2.4-7.7 -2.3,0 -8.7,5.6 2.8,8.9z"/>
<path color="#1fa6e2" d="M185.2,1284.3l-10.5-.2 1.8,5.8z"/>
<path color="#3777fe" d="M213.2,1343.2l6.4-1 -.8-2.1z"/>
<path color="#317dfb" d="M206.9,1344.2l6.3-1 5.6-3.1 -3-9.2 -11.3,6.3z"/>
<path color="#2e84f9" d="M215.8,1330.9l-3.1-9.1 -11.3,6.3 3.1,9.1z"/>
<path color="#2d8af5" d="M212.7,1321.8l-2.8-8.4 -2.4,.4 -9.2,5.1 3.1,9.2z"/>
<path color="#2c90f0" d="M207.5,1313.8l-10.3,1.6 1.1,3.5z"/>
<path color="#4562fc" d="M229.3,1368.8l12.7-3.6 -1-2.8 -11.9,5.9z"/>
<path color="#4369fe" d="M241,1362.4l-3.5-9.4 -11.8,5.9 3.4,9.4z"/>
<path color="#3e70ff" d="M237.5,1353l-3.4-9.4 -11.9,5.8 3.5,9.5z"/>
<path color="#3777fe" d="M234.1,1343.6l-1.8-4.9 -12.7,3.5 2.6,7.2z"/>
<path color="#4755f6" d="M251.7,1389.4l12.7-4.7 -3.4-8.4 -12.4,5.5z"/>
<path color="#475cfa" d="M261,1376.3l-3.9-9.8 -12.4,5.5 3.9,9.8z"/>
<path color="#4562fc" d="M257.1,1366.5l-2.4-6 -12.7,4.7 2.7,6.8z"/>
<path color="#4742e6" d="M274.1,1406.6l12.7-5.2 -.1-.3 -12.7,5.3z"/>
<path color="#4849ed" d="M286.7,1401.1l-4.5-10.2 -12.7,5.3 4.5,10.2z"/>
<path color="#484ff2" d="M282.2,1390.9l-4.6-10.2 -12.6,5.4 4.5,10.1z"/>
<path color="#4755f6" d="M277.6,1380.7l-.5-1.2 -12.7,5.2 .6,1.4z"/>
<path color="#463cdf" d="M296.5,1421l12.7-5.4 -4.5-9 -12.7,5.2z"/>
<path color="#4742e6" d="M304.7,1406.6l-5.2-10.5 -12.7,5.3 5.2,10.4z"/>
<path color="#4332c9" d="M318.9,1432.9l12.8-5.9 -1.7-2.8 -13.3,4.8z"/>
<path color="#4536d5" d="M330,1424.2l-6.5-11.6 -13.3,4.8 6.5,11.6z"/>
<path color="#463cdf" d="M323.5,1412.6l-1.6-2.8 -12.7,5.8 1,1.8z"/>
<path color="#412dbc" d="M341.4,1442l12.7-7 -1.4-2.1 -14.8,3.8z"/>
<path color="#4332c9" d="M352.7,1432.9l-8.3-12.8 -12.7,6.9 6.2,9.7z"/>
<path color="#412dbc" d="M363.8,1447.7l12.7-8.6 -6.1-7.9 -11.9,.8 -4.4,3z"/>
<path color="#4332c9" d="M370.4,1431.2l-3.6-4.7 -8.3,5.5z"/>
<path color="#3f28af" d="M386.2,1449.5l.3-.3 -.7-.1z"/>
<path color="#412dbc" d="M386.5,1449.2l12.4-10.4 -4.7-5 -9.2-1.9 -8.5,7.2 9.3,10z"/>
<path color="#4332c9" d="M394.2,1433.8l-5-5.4 -4.2,3.5z"/>
<path color="#412dbc" d="M408.6,1446.8l4.5-4.7 -11.6-6.1 -2.6,2.8z"/>
<path color="#4332c9" d="M413.1,1442.1l8.2-8.6 -9.7-8.1 -10.1,10.6z"/>
<path color="#4332c9" d="M431,1439.2l.7-.9 -8.4-7.4 -2,2.6z"/>
<path color="#4536d5" d="M431.7,1438.3l7.8-10.2 -8.4-7.4 -7.8,10.2z"/>
<path color="#463cdf" d="M439.5,1428.1l4.2-5.5 -9.7-5.7 -2.9,3.8z"/>
<path color="#463cdf" d="M446.5,1418.3l-2.8,4.3 9.1,3.2z"/>
<path color="#4742e6" d="M453.4,1426l5.7-9.1 -6.7-8.1 -5.9,9.5 6.3,7.5z"/>
<path color="#4849ed" d="M459.1,1416.9l5.9-9.4 -2.5-3 -6.1-2.2 -4,6.5z"/>
<path color="#484ff2" d="M465,1407.5l1.1-1.7 -3.6-1.3z"/>
<path color="#484ff2" d="M469.9,1398.5l-3.8,7.3 9.6,1z"/>
<path color="#4755f6" d="M475.8,1406.9l4.6-8.8 -5.9-8.4 -4.6,8.8 5.8,8.3z"/>
<path color="#475cfa" d="M480.4,1398.1l4.6-8.8 -5.6-8 -.5-.1 -4.4,8.5z"/>
<path color="#4562fc" d="M485,1389.3l3.6-7 -9.2-1z"/>
<path color="#4562fc" d="M489.4,1380.5l-.8,1.8 1.8-.2z"/>
<path color="#4369fe" d="M498.3,1381.1l.2-.5 -5.5-8.6 -3.6,8.5 1,1.6z"/>
<path color="#3e70ff" d="M498.5,1380.6l3.7-8.5 -5.5-8.6 -3.7,8.5z"/>
<path color="#3777fe" d="M502.2,1372.1l3.6-8.5 -5.4-8.6 -3.7,8.5z"/>
<path color="#317dfb" d="M505.8,1363.6l3.7-8.5 -1.8-2.9 -6.4,.8 -.9,2z"/>
<path color="#2e84f9" d="M509.5,1355.1l1.5-3.3 -3.3,.4z"/>
<path color="#2e84f9" d="M512.8,1346.8l-1.8,5 3.9-1.5z"/>
<path color="#2d8af5" d="M520.7,1348.3l.3-1 -5.2-8.7 -3,8.2 2.1,3.5z"/>
<path color="#2c90f0" d="M521,1347.3l3-8.2 -5.2-8.7 -3,8.2z"/>
<path color="#2896ec" d="M524,1339.1l3-8.2 -5.2-8.8 -3,8.3z"/>
<path color="#259be8" d="M527,1330.9l3.1-8.2 -3.9-6.5 -2.5,.9 -1.9,5z"/>
<path color="#23a0e5" d="M530.1,1322.7l3-8.3 -.4-.6 -6.5,2.4z"/>
<path color="#1fa6e2" d="M533.1,1314.4l.3-.8 -.7,.2z"/>
<path color="#1fa6e2" d="M535.6,1306.4l-2.2,7.2 4.8-2.9z"/>
<path color="#1baade" d="M543.1,1307.8l.2-.6 -5.2-8.8 -2.5,8 2.6,4.3z"/>
<path color="#15afd9" d="M543.3,1307.2l2.5-8 -5.1-8.8 -2.6,8z"/>
<path color="#0cb3d3" d="M545.8,1299.2l2.5-8 -5.1-8.8 -2.5,8z"/>
<path color="#03b7cc" d="M548.3,1291.2l2.5-8.1 -5.1-8.7 -2.5,8z"/>
<path color="#02bac5" d="M550.8,1283.1l2.5-8 -2.8-4.7 -4.4,2.6 -.4,1.4z"/>
<path color="#0abdbd" d="M553.3,1275.1l2.5-7.9 -5.3,3.2z"/>
<path color="#0abdbd" d="M555.8,1267.1l0,.1 .1,0z"/>
<path color="#19bfb5" d="M558,1259.3l-2.2,7.8 .1,.1 4.5-3.8z"/>
<path color="#25c2ad" d="M560.1,1251.4l-2.1,7.9 2.4,4.1 4.5-3.8z"/>
<path color="#2ec4a5" d="M565.5,1259.1l1.8-6.8 -5.1-8.7 -2.1,7.8 4.8,8.2z"/>
<path color="#34c79c" d="M567.3,1252.3l2.2-7.8 -5.2-8.8 -2.1,7.9z"/>
<path color="#3cc992" d="M569.5,1244.5l2.1-7.9 -5.1-8.7 -2.2,7.8z"/>
<path color="#47cb87" d="M571.6,1236.6l2.1-7.8 -5-8.6 -.2,.1 -2,7.6z"/>
<path color="#54cc7c" d="M573.7,1228.8l2.1-7.9 -2.6-4.5 -4.5,3.8z"/>
<path color="#63cd70" d="M575.8,1220.9l2.2-7.8 -.3-.5 -4.5,3.8z"/>
<path color="#73cd63" d="M578,1213.1l.2-.9 -.5,.4z"/>
<path color="#19bfb5" d="M135.1,1238.4l4.5,3.5 -1.8-6.7z"/>
<path color="#25c2ad" d="M129.2,1233.9l5.9,4.5 2.7-3.2 -2.3-8.6z"/>
<path color="#2ec4a5" d="M126.9,1232.1l2.3,1.8 6.3-7.3 -2.4-8.6 -7.6,8.8z"/>
<path color="#34c79c" d="M133.1,1218l-2.3-8.7 -7.7,8.9 2.4,8.6z"/>
<path color="#3cc992" d="M130.8,1209.3l-.9-3.2 -3.7-2.8 -5.4,6.3 2.3,8.6z"/>
<path color="#47cb87" d="M126.2,1203.3l-5.9-4.5 -1.9,2.1 2.4,8.7z"/>
<path color="#54cc7c" d="M120.3,1198.8l-3.1-2.4 1.2,4.5z"/>
<path color="#1baade" d="M160.5,1280.6l1.5,.7 -.5-1.7z"/>
<path color="#15afd9" d="M152.6,1276.9l7.9,3.7 1-1 -2.5-8.8z"/>
<path color="#0cb3d3" d="M149.3,1275.3l3.3,1.6 6.4-6.1 -2.6-8.8 -8.6,8.2z"/>
<path color="#03b7cc" d="M156.4,1262l-2.5-8.8 -8.6,8.2 2.5,8.8z"/>
<path color="#02bac5" d="M153.9,1253.2l-1.6-5.3 -3-1.5 -6.6,6.3 2.6,8.7z"/>
<path color="#0abdbd" d="M149.3,1246.4l-7.9-3.7 -1.2,1.2 2.5,8.8z"/>
<path color="#19bfb5" d="M141.4,1242.7l-1.8-.8 .6,2z"/>
<path color="#2896ec" d="M175.3,1313.2l9.1,2.1 -2.3-7.5z"/>
<path color="#259be8" d="M171.7,1312.5l3.6,.7 6.8-5.4 -2.8-9 -9.5,7.6z"/>
<path color="#23a0e5" d="M179.3,1298.8l-2.8-8.9 -9.4,7.5 2.7,9z"/>
<path color="#1fa6e2" d="M176.5,1289.9l-1.8-5.8 -3.9-.8 -6.5,5.2 2.8,8.9z"/>
<path color="#1baade" d="M170.8,1283.3l-8.8-2 2.3,7.2z"/>
<path color="#317dfb" d="M194.4,1344.1l12.5,.1 -2.4-7z"/>
<path color="#2e84f9" d="M194.1,1344.1l.3,0 10.1-6.9 -3.1-9.1 -10.3,7z"/>
<path color="#2d8af5" d="M201.4,1328.1l-3.1-9.2 -10.3,7 3.1,9.2z"/>
<path color="#2c90f0" d="M198.3,1318.9l-1.1-3.5 -10.1-.1 -2.2,1.4 3.1,9.2z"/>
<path color="#2896ec" d="M187.1,1315.3l-2.7,0 .5,1.4z"/>
<path color="#4562fc" d="M227.9,1369l1.4-.2 -.2-.5z"/>
<path color="#4369fe" d="M216.6,1370.7l11.3-1.7 1.2-.7 -3.4-9.4 -11.1,6.4z"/>
<path color="#3e70ff" d="M225.7,1358.9l-3.5-9.5 -11.1,6.5 3.5,9.4z"/>
<path color="#3777fe" d="M222.2,1349.4l-2.6-7.2 -6.4,1 -5.5,3.3 3.4,9.4z"/>
<path color="#317dfb" d="M213.2,1343.2l-6.3,1 .8,2.3z"/>
<path color="#4755f6" d="M239,1393l12.7-3.6 -3.1-7.6 -11.7,5.9z"/>
<path color="#475cfa" d="M248.6,1381.8l-3.9-9.8 -11.7,6 3.9,9.7z"/>
<path color="#4562fc" d="M244.7,1372l-2.7-6.8 -12.7,3.6 3.7,9.2z"/>
<path color="#4742e6" d="M270.9,1407.8l3.2-1.2 -.1-.2z"/>
<path color="#4849ed" d="M261.4,1411.3l9.5-3.5 3.1-1.4 -4.5-10.2 -12.3,5.6z"/>
<path color="#484ff2" d="M269.5,1396.2l-4.5-10.1 -12.3,5.5 4.5,10.2z"/>
<path color="#4755f6" d="M265,1386.1l-.6-1.4 -12.7,4.7 1,2.2z"/>
<path color="#463cdf" d="M283.8,1426.2l12.7-5.2 -4.5-9.2 -12.7,5.3z"/>
<path color="#4742e6" d="M292,1411.8l-5.2-10.4 -12.7,5.2 5.2,10.5z"/>
<path color="#4332c9" d="M306.2,1438.3l12.7-5.4 -2.2-3.9 -12.7,5.2z"/>
<path color="#4536d5" d="M316.7,1429l-6.5-11.6 -12.8,5.3 6.6,11.5z"/>
<path color="#463cdf" d="M310.2,1417.4l-1-1.8 -12.7,5.4 .9,1.7z"/>
<path color="#412dbc" d="M328.6,1447.9l12.8-5.9 -3.5-5.3 -13.4,4.8z"/>
<path color="#4332c9" d="M337.9,1436.7l-6.2-9.7 -12.8,5.9 5.6,8.6z"/>
<path color="#3f28af" d="M351.1,1454.6l12.3-6.7 -15.1,3.2z"/>
<path color="#412dbc" d="M363.4,1447.9l.4-.2 -9.7-12.7 -12.7,7 6.9,9.1z"/>
<path color="#3f28af" d="M373.5,1458l12.7-8.5 -.4-.4 -21.9-1.3z"/>
<path color="#412dbc" d="M385.8,1449.1l-9.3-10 -12.7,8.6 .1,.1z"/>
<path color="#3f28af" d="M395.9,1457.5l3-2.5 -12.4-5.8 -.3,.3z"/>
<path color="#412dbc" d="M398.9,1455l9.7-8.2 -9.7-8 -12.4,10.4z"/>
<path color="#412dbc" d="M418.3,1452.5l2.6-2.7 -7.8-7.7 -4.5,4.7z"/>
<path color="#4332c9" d="M420.9,1449.8l10.1-10.6 -9.7-5.7 -8.2,8.6z"/>
<path color="#4332c9" d="M431.7,1438.3l-.7,.9 1.6,.5z"/>
<path color="#4536d5" d="M440.7,1442.6l4.6-6 -5.8-8.5 -7.8,10.2 .9,1.4z"/>
<path color="#463cdf" d="M445.3,1436.6l7.9-10.2 -.4-.6 -9.1-3.2 -4.2,5.5z"/>
<path color="#4742e6" d="M453.2,1426.4l.2-.4 -.6-.2z"/>
<path color="#4742e6" d="M463.1,1427.2l.8-1.3 -4.8-9 -5.7,9.1z"/>
<path color="#4849ed" d="M463.9,1425.9l5.9-9.5 -4.8-8.9 -5.9,9.4z"/>
<path color="#484ff2" d="M469.8,1416.4l5.9-9.4 0-.2 -9.6-1 -1.1,1.7z"/>
<path color="#4755f6" d="M475.7,1407l.1-.1 -.1-.1z"/>
<path color="#4755f6" d="M480.4,1398.1l-4.6,8.8 8.3-1.1z"/>
<path color="#475cfa" d="M485.5,1405.7l3.8-7.4 -4.3-9 -4.6,8.8 3.7,7.7z"/>
<path color="#4562fc" d="M489.3,1398.3l4.6-8.8 -3.5-7.4 -1.8,.2 -3.6,7z"/>
<path color="#4369fe" d="M493.9,1389.5l4.4-8.4 -7.9,1z"/>
<path color="#4369fe" d="M498.5,1380.6l-.2,.5 .3-.1z"/>
<path color="#3e70ff" d="M502.2,1372.1l-3.7,8.5 .1,.4 6.5-2.4z"/>
<path color="#3777fe" d="M508,1377.6l2.1-4.8 -4.3-9.2 -3.6,8.5 2.9,6.5z"/>
<path color="#317dfb" d="M510.1,1372.8l3.6-8.5 -4.2-9.2 -3.7,8.5z"/>
<path color="#2e84f9" d="M513.7,1364.3l3.7-8.5 -2.5-5.5 -3.9,1.5 -1.5,3.3z"/>
<path color="#2d8af5" d="M517.4,1355.8l3.3-7.5 -5.8,2z"/>
<path color="#2d8af5" d="M521,1347.3l-.3,1 .6-.4z"/>
<path color="#2c90f0" d="M524,1339.1l-3,8.2 .3,.6 5.3-3.2z"/>
<path color="#2896ec" d="M530.4,1342.4l.9-2.4 -4.3-9.1 -3,8.2 2.6,5.6z"/>
<path color="#259be8" d="M531.3,1340l3-8.2 -4.2-9.1 -3.1,8.2z"/>
<path color="#23a0e5" d="M534.3,1331.8l3-8.2 -4.2-9.2 -3,8.3z"/>
<path color="#1fa6e2" d="M537.3,1323.6l3-8.2 -2.1-4.7 -4.8,2.9 -.3,.8z"/>
<path color="#1baade" d="M540.3,1315.4l2.8-7.6 -4.9,2.9z"/>
<path color="#1baade" d="M543.3,1307.2l-.2,.6 .3-.3z"/>
<path color="#15afd9" d="M545.8,1299.2l-2.5,8 .1,.3 4.5-3.8z"/>
<path color="#0cb3d3" d="M548.3,1291.2l-2.5,8 2.1,4.5 4.5-3.8z"/>
<path color="#03b7cc" d="M552.8,1299.6l2.3-7.3 -4.3-9.2 -2.5,8.1 4.1,8.7z"/>
<path color="#02bac5" d="M555.1,1292.3l2.5-8 -4.3-9.2 -2.5,8z"/>
<path color="#0abdbd" d="M557.6,1284.3l2.5-8.1 -4.2-9 -.1,0 -2.5,7.9z"/>
<path color="#19bfb5" d="M560.1,1276.2l2.5-8 -2.2-4.8 -4.5,3.8z"/>
<path color="#25c2ad" d="M562.6,1268.2l2.6-8 -.3-.6 -4.5,3.8z"/>
<path color="#2ec4a5" d="M565.2,1260.2l.3-1.1 -.6,.5z"/>
<path color="#2ec4a5" d="M567.3,1252.3l-1.8,6.8 3.4-3.6z"/>
<path color="#34c79c" d="M569.5,1244.5l-2.2,7.8 1.6,3.2 3.9-4.2z"/>
<path color="#3cc992" d="M575.2,1248.7l.8-3 -4.4-9.1 -2.1,7.9 3.3,6.8z"/>
<path color="#47cb87" d="M576,1245.7l2.1-7.8 -4.4-9.1 -2.1,7.8z"/>
<path color="#54cc7c" d="M578.1,1237.9l2.2-7.9 -4.5-9.1 -2.1,7.9z"/>
<path color="#63cd70" d="M580.3,1230l2.1-7.8 -4.4-9.1 -2.2,7.8z"/>
<path color="#73cd63" d="M582.4,1222.2l2.1-7.9 -2.8-5.8 -3.5,3.7 -.2,.9z"/>
<path color="#83cc57" d="M584.5,1214.3l2.1-7.8 -1-2.2 -3.9,4.2z"/>
<path color="#94ca4a" d="M586.6,1206.5l1.3-4.8 -2.3,2.6z"/>
<path color="#2ec4a5" d="M124.1,1229l2.8,3.1 -1.4-5.3z"/>
<path color="#34c79c" d="M119.5,1224l4.6,5 1.4-2.2 -2.4-8.6z"/>
<path color="#3cc992" d="M114.9,1218.9l4.6,5.1 3.6-5.8 -2.3-8.6z"/>
<path color="#47cb87" d="M114.2,1218.1l.7,.8 5.9-9.3 -2.4-8.7 -6.2,9.9z"/>
<path color="#54cc7c" d="M118.4,1200.9l-1.2-4.5 -2.2-2.4 -5.1,8.2 2.3,8.6z"/>
<path color="#63cd70" d="M115,1194l-4.6-5.1 -2.9,4.6 2.4,8.7z"/>
<path color="#73cd63" d="M110.4,1188.9l-4.6-5 -.6,1 2.3,8.6z"/>
<path color="#83cc57" d="M105.8,1183.9l-1.3-1.5 .7,2.5z"/>
<path color="#0cb3d3" d="M145.9,1272.7l3.4,2.6 -1.5-5.1z"/>
<path color="#03b7cc" d="M140,1268.2l5.9,4.5 1.9-2.5 -2.5-8.8z"/>
<path color="#02bac5" d="M136.6,1265.6l3.4,2.6 5.3-6.8 -2.6-8.7 -7.2,9.1z"/>
<path color="#0abdbd" d="M142.7,1252.7l-2.5-8.8 -7.2,9.2 2.5,8.7z"/>
<path color="#19bfb5" d="M140.2,1243.9l-.6-2 -4.5-3.5 -4.7,5.9 2.6,8.8z"/>
<path color="#25c2ad" d="M135.1,1238.4l-5.9-4.5 -1.3,1.6 2.5,8.8z"/>
<path color="#2ec4a5" d="M129.2,1233.9l-2.3-1.8 1,3.4z"/>
<path color="#259be8" d="M166.4,1309.9l5.3,2.6 -1.9-6.1z"/>
<path color="#23a0e5" d="M159,1306.5l7.4,3.4 3.4-3.5 -2.7-9 -8.2,8.5z"/>
<path color="#1fa6e2" d="M167.1,1297.4l-2.8-8.9 -8.2,8.5 2.8,8.9z"/>
<path color="#1baade" d="M164.3,1288.5l-2.3-7.2 -1.5-.7 -7.2,7.4 2.8,9z"/>
<path color="#15afd9" d="M160.5,1280.6l-7.9-3.7 -2.1,2.2 2.8,8.9z"/>
<path color="#0cb3d3" d="M152.6,1276.9l-3.3-1.6 1.2,3.8z"/>
<path color="#2e84f9" d="M183.3,1341.7l10.8,2.4 -3-9z"/>
<path color="#2d8af5" d="M181.4,1341.3l1.9,.4 7.8-6.6 -3.1-9.2 -9.1,7.8z"/>
<path color="#2c90f0" d="M188,1325.9l-3.1-9.2 -9.1,7.9 3.1,9.1z"/>
<path color="#2896ec" d="M184.9,1316.7l-.5-1.4 -9.1-2.1 -2.6,2.2 3.1,9.2z"/>
<path color="#259be8" d="M175.3,1313.2l-3.6-.7 1,2.9z"/>
<path color="#4369fe" d="M207.1,1370.6l9.5,.1 -2-5.4z"/>
<path color="#3e70ff" d="M203.9,1370.6l3.2,0 7.5-5.3 -3.5-9.4 -10,7.1z"/>
<path color="#3777fe" d="M211.1,1355.9l-3.4-9.4 -10.1,7.1 3.5,9.4z"/>
<path color="#317dfb" d="M207.7,1346.5l-.8-2.3 -12.5-.1 -.2,.1 3.4,9.4z"/>
<path color="#2e84f9" d="M194.4,1344.1l-.3,0 .1,.1z"/>
<path color="#4755f6" d="M226.3,1394.9l12.7-1.9 -2.1-5.3 -10.9,6.6z"/>
<path color="#475cfa" d="M236.9,1387.7l-3.9-9.7 -10.9,6.6 3.9,9.7z"/>
<path color="#4562fc" d="M233,1378l-3.7-9.2 -1.4,.2 -9.7,5.8 3.9,9.8z"/>
<path color="#4369fe" d="M227.9,1369l-11.3,1.7 1.6,4.1z"/>
<path color="#4849ed" d="M248.7,1414.9l12.7-3.6 -4.2-9.5 -11.6,6z"/>
<path color="#484ff2" d="M257.2,1401.8l-4.5-10.2 -11.6,6.1 4.5,10.1z"/>
<path color="#4755f6" d="M252.7,1391.6l-1-2.2 -12.7,3.6 2.1,4.7z"/>
<path color="#463cdf" d="M271.1,1430.9l12.7-4.7 -4.5-9.1 -12.2,5.6z"/>
<path color="#4742e6" d="M279.3,1417.1l-5.2-10.5 -3.2,1.2 -9.2,4.2 5.4,10.7z"/>
<path color="#4849ed" d="M270.9,1407.8l-9.5,3.5 .3,.7z"/>
<path color="#4332c9" d="M293.5,1443.5l12.7-5.2 -2.2-4.1 -12.7,5.4z"/>
<path color="#4536d5" d="M304,1434.2l-6.6-11.5 -12.6,5.3 6.5,11.6z"/>
<path color="#463cdf" d="M297.4,1422.7l-.9-1.7 -12.7,5.2 1,1.8z"/>
<path color="#412dbc" d="M315.9,1453.3l12.7-5.4 -4.1-6.4 -12.8,5.2z"/>
<path color="#4332c9" d="M324.5,1441.5l-5.6-8.6 -12.7,5.4 5.5,8.4z"/>
<path color="#3f28af" d="M338.3,1460.5l12.8-5.9 -2.8-3.5 -13.8,4.5z"/>
<path color="#412dbc" d="M348.3,1451.1l-6.9-9.1 -12.8,5.9 5.9,7.7z"/>
<path color="#3f28af" d="M360.8,1465l12.7-7 -9.6-10.2 -.5,.1 -12.3,6.7z"/>
<path color="#412dbc" d="M363.9,1447.8l-.1-.1 -.4,.2z"/>
<path color="#3f28af" d="M383.2,1466.1l12.7-8.6 -9.7-8 -12.7,8.5z"/>
<path color="#3f28af" d="M405.6,1463.2l.3-.2 -7-8 -3,2.5z"/>
<path color="#412dbc" d="M405.9,1463l12.4-10.5 -9.7-5.7 -9.7,8.2z"/>
<path color="#412dbc" d="M420.9,1449.8l-2.6,2.7 4.7,1.7z"/>
<path color="#4332c9" d="M428,1456l8.2-8.6 -3.6-7.7 -1.6-.5 -10.1,10.6 2.1,4.4z"/>
<path color="#4536d5" d="M436.2,1447.4l4.5-4.8 -8.1-2.9z"/>
<path color="#4536d5" d="M445.3,1436.6l-4.6,6 6.9,.8z"/>
<path color="#463cdf" d="M450.4,1443.7l6-7.7 -3.2-9.6 -7.9,10.2 2.3,6.8z"/>
<path color="#4742e6" d="M456.4,1436l6.7-8.8 -9.7-1.2 -.2,.4z"/>
<path color="#4742e6" d="M463.9,1425.9l-.8,1.3 1.2-.2z"/>
<path color="#4849ed" d="M469.8,1416.4l-5.9,9.5 .4,1.1 8.4-1z"/>
<path color="#484ff2" d="M472.8,1425.9l5.8-9.2 -2.9-9.7 -5.9,9.4 2.9,9.6z"/>
<path color="#4755f6" d="M478.6,1416.7l5.9-9.4 -.4-1.5 -8.3,1.1 -.1,.1z"/>
<path color="#475cfa" d="M484.5,1407.3l1-1.6 -1.4,.1z"/>
<path color="#475cfa" d="M489.3,1398.3l-3.8,7.4 5.4-2z"/>
<path color="#4562fc" d="M495.3,1402.2l1.5-3 -2.9-9.7 -4.6,8.8 1.6,5.4z"/>
<path color="#4369fe" d="M496.8,1399.2l4.6-8.9 -2.8-9.3 -.3,.1 -4.4,8.4z"/>
<path color="#3e70ff" d="M501.4,1390.3l4.6-8.9 -.9-2.8 -6.5,2.4z"/>
<path color="#3777fe" d="M506,1381.4l2-3.8 -2.9,1z"/>
<path color="#3777fe" d="M510.1,1372.8l-2.1,4.8 3-1.8z"/>
<path color="#317dfb" d="M513.7,1364.3l-3.6,8.5 .9,3 5.3-3.2z"/>
<path color="#2e84f9" d="M517.7,1371.8l2.7-6.3 -3-9.7 -3.7,8.5 2.6,8.3z"/>
<path color="#2d8af5" d="M520.4,1365.5l3.7-8.5 -2.8-9.1 -.6,.4 -3.3,7.5z"/>
<path color="#2c90f0" d="M524.1,1357l3.7-8.5 -1.2-3.8 -5.3,3.2z"/>
<path color="#2896ec" d="M527.8,1348.5l2.6-6.1 -3.8,2.3z"/>
<path color="#2896ec" d="M531.3,1340l-.9,2.4 1.3-1.1z"/>
<path color="#259be8" d="M534.3,1331.8l-3,8.2 .4,1.3 4.5-3.7z"/>
<path color="#23a0e5" d="M540.1,1334.3l.4-1.1 -3.2-9.6 -3,8.2 1.9,5.8z"/>
<path color="#1fa6e2" d="M540.5,1333.2l3-8.2 -3.2-9.6 -3,8.2z"/>
<path color="#1baade" d="M543.5,1325l3-8.3 -3.1-9.2 -.3,.3 -2.8,7.6z"/>
<path color="#15afd9" d="M546.5,1316.7l3-8.2 -1.6-4.8 -4.5,3.8z"/>
<path color="#0cb3d3" d="M549.5,1308.5l3-8.2 -.1-.4 -4.5,3.8z"/>
<path color="#03b7cc" d="M552.5,1300.3l.3-.7 -.4,.3z"/>
<path color="#03b7cc" d="M555.1,1292.3l-2.3,7.3 3.6-3.8z"/>
<path color="#02bac5" d="M557.6,1284.3l-2.5,8 1.3,3.5 3.9-4.2z"/>
<path color="#0abdbd" d="M562.5,1289.2l1.1-3.5 -3.5-9.5 -2.5,8.1 2.7,7.3z"/>
<path color="#19bfb5" d="M563.6,1285.7l2.5-8 -3.5-9.5 -2.5,8z"/>
<path color="#25c2ad" d="M566.1,1277.7l2.5-8 -3.4-9.5 -2.6,8z"/>
<path color="#2ec4a5" d="M568.6,1269.7l2.5-8 -2.2-6.2 -3.4,3.6 -.3,1.1z"/>
<path color="#34c79c" d="M571.1,1261.7l2.5-8 -.8-2.4 -3.9,4.2z"/>
<path color="#3cc992" d="M573.6,1253.7l1.6-5 -2.4,2.6z"/>
<path color="#3cc992" d="M576,1245.7l-.8,3 1.3-1.7z"/>
<path color="#47cb87" d="M578.1,1237.9l-2.1,7.8 .5,1.3 3.4-4.6z"/>
<path color="#54cc7c" d="M580.3,1230l-2.2,7.9 1.8,4.5 3.5-4.5z"/>
<path color="#63cd70" d="M584.9,1235.9l1.2-4.4 -3.7-9.3 -2.1,7.8 3.1,7.9z"/>
<path color="#73cd63" d="M586.1,1231.5l2.1-7.8 -3.7-9.4 -2.1,7.9z"/>
<path color="#83cc57" d="M588.2,1223.7l2.2-7.9 -3.8-9.3 -2.1,7.8z"/>
<path color="#94ca4a" d="M590.4,1215.8l2.1-7.8 -3.2-8.1 -1.4,1.8 -1.3,4.8z"/>
<path color="#a4c83e" d="M592.5,1208l2.1-7.9 -1.9-4.7 -3.4,4.5z"/>
<path color="#b3c534" d="M594.6,1200.1l2.1-7.8 -.5-1.4 -3.5,4.5z"/>
<path color="#c1c32c" d="M596.7,1192.3l.9-3.3 -1.4,1.9z"/>
<path color="#47cb87" d="M111.1,1213.5l3.1,4.6 -2-7.3z"/>
<path color="#54cc7c" d="M107.4,1208.1l3.7,5.4 1.1-2.7 -2.3-8.6z"/>
<path color="#63cd70" d="M103.7,1202.6l3.7,5.5 2.5-5.9 -2.4-8.7z"/>
<path color="#73cd63" d="M101.5,1199.3l2.2,3.3 3.8-9.1 -2.3-8.6 -4.7,11z"/>
<path color="#83cc57" d="M105.2,1184.9l-.7-2.5 -2.6-3.9 -3.7,8.8 2.3,8.6z"/>
<path color="#94ca4a" d="M101.9,1178.5l-3.7-5.4 -2.3,5.6 2.3,8.6z"/>
<path color="#a4c83e" d="M98.2,1173.1l-3.7-5.4 -1,2.3 2.4,8.7z"/>
<path color="#b3c534" d="M94.5,1167.7l-2.7-4.1 1.7,6.4z"/>
<path color="#02bac5" d="M134.6,1263.4l2,2.2 -1.1-3.8z"/>
<path color="#0abdbd" d="M130,1258.4l4.6,5 .9-1.6 -2.5-8.7z"/>
<path color="#19bfb5" d="M125.4,1253.3l4.6,5.1 3-5.3 -2.6-8.8z"/>
<path color="#25c2ad" d="M123.9,1251.6l1.5,1.7 5-9 -2.5-8.8 -5.7,10.3z"/>
<path color="#2ec4a5" d="M127.9,1235.5l-1-3.4 -2.8-3.1 -4.4,8 2.5,8.8z"/>
<path color="#34c79c" d="M124.1,1229l-4.6-5 -2.4,4.2 2.6,8.8z"/>
<path color="#3cc992" d="M119.5,1224l-4.6-5.1 -.3,.6 2.5,8.7z"/>
<path color="#47cb87" d="M114.9,1218.9l-.7-.8 .4,1.4z"/>
<path color="#23a0e5" d="M158.7,1306.2l.3,.3 -.1-.6z"/>
<path color="#1fa6e2" d="M152.8,1301.7l5.9,4.5 .2-.3 -2.8-8.9z"/>
<path color="#1baade" d="M146.9,1297.1l5.9,4.6 3.3-4.7 -2.8-9z"/>
<path color="#15afd9" d="M146.3,1296.7l.6,.4 6.4-9.1 -2.8-8.9 -6.7,9.5z"/>
<path color="#0cb3d3" d="M150.5,1279.1l-1.2-3.8 -3.4-2.6 -4.9,7 2.8,8.9z"/>
<path color="#03b7cc" d="M145.9,1272.7l-5.9-4.5 -1.8,2.5 2.8,9z"/>
<path color="#02bac5" d="M140,1268.2l-3.4-2.6 1.6,5.1z"/>
<path color="#2d8af5" d="M174.9,1338.2l6.5,3.1 -2.5-7.6z"/>
<path color="#2c90f0" d="M168.7,1335.3l6.2,2.9 4-4.5 -3.1-9.1 -7.7,8.8z"/>
<path color="#2896ec" d="M175.8,1324.6l-3.1-9.2 -7.7,8.8 3.1,9.2z"/>
<path color="#259be8" d="M172.7,1315.4l-1-2.9 -5.3-2.6 -4.5,5.2 3.1,9.1z"/>
<path color="#23a0e5" d="M166.4,1309.9l-7.4-3.4 2.9,8.6z"/>
<path color="#3e70ff" d="M195,1368.7l8.9,1.9 -2.8-7.6z"/>
<path color="#3777fe" d="M191.1,1367.8l3.9,.9 6.1-5.7 -3.5-9.4 -8.7,8.1z"/>
<path color="#317dfb" d="M197.6,1353.6l-3.4-9.4 -8.7,8.1 3.4,9.4z"/>
<path color="#2e84f9" d="M194.2,1344.2l-.1-.1 -10.8-2.4 -1.3,1.2 3.5,9.4z"/>
<path color="#2d8af5" d="M183.3,1341.7l-1.9-.4 .6,1.6z"/>
<path color="#4755f6" d="M225.2,1394.9l1.1,0 -.3-.6z"/>
<path color="#475cfa" d="M213.6,1394.8l11.6,.1 .8-.6 -3.9-9.7 -9.7,7.4z"/>
<path color="#4562fc" d="M222.1,1384.6l-3.9-9.8 -9.7,7.5 3.9,9.7z"/>
<path color="#4369fe" d="M218.2,1374.8l-1.6-4.1 -9.5-.1 -2.5,1.9 3.9,9.8z"/>
<path color="#3e70ff" d="M207.1,1370.6l-3.2,0 .7,1.9z"/>
<path color="#4849ed" d="M236,1416.8l12.7-1.9 -3.1-7.1 -10.6,6.8z"/>
<path color="#484ff2" d="M245.6,1407.8l-4.5-10.1 -10.6,6.7 4.5,10.2z"/>
<path color="#4755f6" d="M241.1,1397.7l-2.1-4.7 -12.7,1.9 4.2,9.5z"/>
<path color="#463cdf" d="M258.4,1434.4l12.7-3.5 -4-8.2 -11.4,6.2z"/>
<path color="#4742e6" d="M267.1,1422.7l-5.4-10.7 -11.4,6.2 5.4,10.7z"/>
<path color="#4849ed" d="M261.7,1412l-.3-.7 -12.7,3.6 1.6,3.3z"/>
<path color="#4332c9" d="M280.8,1448.1l12.7-4.6 -2.2-3.9 -12.1,5.7z"/>
<path color="#4536d5" d="M291.3,1439.6l-6.5-11.6 -12.1,5.7 6.5,11.6z"/>
<path color="#463cdf" d="M284.8,1428l-1-1.8 -12.7,4.7 1.6,2.8z"/>
<path color="#412dbc" d="M303.2,1458.4l12.7-5.1 -4.2-6.6 -12.6,5.3z"/>
<path color="#4332c9" d="M311.7,1446.7l-5.5-8.4 -12.7,5.2 5.6,8.5z"/>
<path color="#3f28af" d="M325.6,1465.9l12.7-5.4 -3.8-4.9 -12.8,5.2z"/>
<path color="#412dbc" d="M334.5,1455.6l-5.9-7.7 -12.7,5.4 5.8,7.5z"/>
<path color="#3f28af" d="M348,1470.9l12.8-5.9 -9.7-10.4 -12.8,5.9z"/>
<path color="#3f28af" d="M370.5,1473l12.7-6.9 -9.7-8.1 -12.7,7z"/>
<path color="#3f28af" d="M392.9,1471.8l12.7-8.6 -9.7-5.7 -12.7,8.6z"/>
<path color="#3f28af" d="M405.9,1463l-.3,.2 .4,.2z"/>
<path color="#412dbc" d="M415.3,1466.7l8.5-7.2 -.8-5.3 -4.7-1.7 -12.4,10.5 .1,.4z"/>
<path color="#4332c9" d="M423.8,1459.5l4.2-3.5 -5-1.8z"/>
<path color="#4332c9" d="M436.2,1447.4l-8.2,8.6 8.7,1z"/>
<path color="#4536d5" d="M437.7,1457.1l10-10.6 -.1-3.1 -6.9-.8 -4.5,4.8 .5,9.6z"/>
<path color="#463cdf" d="M447.7,1446.5l2.7-2.8 -2.8-.3z"/>
<path color="#463cdf" d="M456.4,1436l-6,7.7 6.3-.8z"/>
<path color="#4742e6" d="M460.1,1442.5l4.7-6.1 -.5-9.4 -1.2,.2 -6.7,8.8 .3,6.9z"/>
<path color="#4849ed" d="M464.8,1436.4l7.9-10.2 0-.2 -8.4,1z"/>
<path color="#484ff2" d="M472.7,1426.2l.1-.3 -.1,.1z"/>
<path color="#484ff2" d="M478.6,1416.7l-5.8,9.2 6.4-2.3z"/>
<path color="#4755f6" d="M482.5,1422.4l2.9-4.5 -.9-10.6 -5.9,9.4 .6,6.9z"/>
<path color="#475cfa" d="M485.4,1417.9l5.9-9.5 -.4-4.7 -5.4,2 -1,1.6z"/>
<path color="#4562fc" d="M491.3,1408.4l4-6.2 -4.4,1.5z"/>
<path color="#4562fc" d="M496.8,1399.2l-1.5,3 1.7-1.1z"/>
<path color="#4369fe" d="M501.4,1390.3l-4.6,8.9 .2,1.9 5.3-3.2z"/>
<path color="#3e70ff" d="M505,1396.3l2.3-4.5 -1.3-10.4 -4.6,8.9 .9,7.6z"/>
<path color="#3777fe" d="M507.3,1391.8l4.6-8.9 -.9-7.1 -3,1.8 -2,3.8z"/>
<path color="#317dfb" d="M511.9,1382.9l4.6-8.9 -.2-1.4 -5.3,3.2z"/>
<path color="#2e84f9" d="M516.5,1374l1.2-2.2 -1.4,.8z"/>
<path color="#2e84f9" d="M520.4,1365.5l-2.7,6.3 3.3-2.8z"/>
<path color="#2d8af5" d="M524.1,1357l-3.7,8.5 .6,3.5 4.5-3.8z"/>
<path color="#2c90f0" d="M527.4,1363.7l2.1-5.1 -1.7-10.1 -3.7,8.5 1.4,8.2z"/>
<path color="#2896ec" d="M529.5,1358.6l3.7-8.5 -1.5-8.8 -1.3,1.1 -2.6,6.1z"/>
<path color="#259be8" d="M533.2,1350.1l3.7-8.5 -.7-4 -4.5,3.7z"/>
<path color="#23a0e5" d="M536.9,1341.6l3.2-7.3 -3.9,3.3z"/>
<path color="#23a0e5" d="M540.5,1333.2l-.4,1.1 .5-.6z"/>
<path color="#1fa6e2" d="M543.5,1325l-3,8.2 .1,.5 3.9-4.2z"/>
<path color="#1baade" d="M546.5,1316.7l-3,8.3 1,4.5 3.9-4.2z"/>
<path color="#15afd9" d="M549.8,1323.9l2-5.4 -2.3-10 -3,8.2 1.9,8.6z"/>
<path color="#0cb3d3" d="M551.8,1318.5l3-8.2 -2.3-10 -3,8.2z"/>
<path color="#03b7cc" d="M554.8,1310.3l3-8.2 -1.4-6.3 -3.6,3.8 -.3,.7z"/>
<path color="#02bac5" d="M557.8,1302.1l3-8.3 -.5-2.2 -3.9,4.2z"/>
<path color="#0abdbd" d="M560.8,1293.8l1.7-4.6 -2.2,2.4z"/>
<path color="#0abdbd" d="M563.6,1285.7l-1.1,3.5 1.5-2z"/>
<path color="#19bfb5" d="M566.1,1277.7l-2.5,8 .4,1.5 3.4-4.5z"/>
<path color="#25c2ad" d="M568.6,1269.7l-2.5,8 1.3,5 3.5-4.5z"/>
<path color="#2ec4a5" d="M572.2,1276.4l1.6-4.9 -2.7-9.8 -2.5,8 2.3,8.5z"/>
<path color="#34c79c" d="M573.8,1271.5l2.5-8 -2.7-9.8 -2.5,8z"/>
<path color="#3cc992" d="M576.3,1263.5l2.5-8 -2.3-8.5 -1.3,1.7 -1.6,5z"/>
<path color="#47cb87" d="M578.8,1255.5l2.5-8 -1.4-5.1 -3.4,4.6z"/>
<path color="#54cc7c" d="M581.3,1247.5l2.5-8 -.4-1.6 -3.5,4.5z"/>
<path color="#63cd70" d="M583.8,1239.5l1.1-3.6 -1.5,2z"/>
<path color="#63cd70" d="M586.1,1231.5l-1.2,4.4 1.7-2.7z"/>
<path color="#73cd63" d="M588.2,1223.7l-2.1,7.8 .5,1.7 3.1-4.7z"/>
<path color="#83cc57" d="M590.4,1215.8l-2.2,7.9 1.5,4.8 3.1-4.8z"/>
<path color="#94ca4a" d="M594.6,1220.8l.9-3.2 -3-9.6 -2.1,7.8 2.4,7.9z"/>
<path color="#a4c83e" d="M595.5,1217.6l2.1-7.8 -3-9.7 -2.1,7.9z"/>
<path color="#b3c534" d="M597.6,1209.8l2.1-7.9 -3-9.6 -2.1,7.8z"/>
<path color="#c1c32c" d="M599.7,1201.9l2.2-7.8 -2.5-7.9 -1.8,2.8 -.9,3.3z"/>
<path color="#cfc028" d="M601.9,1194.1l2.1-7.9 -1.5-4.8 -3.1,4.8z"/>
<path color="#dbbd29" d="M604,1186.2l2.1-7.8 -.5-1.8 -3.1,4.8z"/>
<path color="#e7bb2e" d="M606.1,1178.4l1.2-4.5 -1.7,2.7z"/>
<path color="#73cd63" d="M100.3,1197.1l1.2,2.2 -1-3.4z"/>
<path color="#83cc57" d="M97.3,1191.4l3,5.7 .2-1.2 -2.3-8.6z"/>
<path color="#94ca4a" d="M94.3,1185.6l3,5.8 .9-4.1 -2.3-8.6z"/>
<path color="#a4c83e" d="M91.2,1179.9l3.1,5.7 1.6-6.9 -2.4-8.7z"/>
<path color="#b3c534" d="M88.8,1175.2l2.4,4.7 2.3-9.9 -1.7-6.4 -.8-1.5 -2.7,11.6z"/>
<path color="#c1c32c" d="M91,1162.1l-3-5.7 -2,8.6 2.3,8.7z"/>
<path color="#cfc028" d="M88,1156.4l-3-5.7 -1.3,5.7 2.3,8.6z"/>
<path color="#dbbd29" d="M85,1150.7l-3-5.7 -.7,2.8 2.4,8.6z"/>
<path color="#e7bb2e" d="M82,1145l-2.9-5.5 2.2,8.3z"/>
<path color="#25c2ad" d="M121.5,1248l2.4,3.6 -1.7-5.8z"/>
<path color="#2ec4a5" d="M117.8,1242.5l3.7,5.5 .7-2.2 -2.5-8.8z"/>
<path color="#34c79c" d="M114.1,1237.1l3.7,5.4 1.9-5.5 -2.6-8.8z"/>
<path color="#3cc992" d="M111.2,1232.8l2.9,4.3 3-8.9 -2.5-8.7 -3.9,11.5z"/>
<path color="#47cb87" d="M114.6,1219.5l-.4-1.4 -3.1-4.6 -3,8.7 2.6,8.8z"/>
<path color="#54cc7c" d="M111.1,1213.5l-3.7-5.4 -1.8,5.3 2.5,8.8z"/>
<path color="#63cd70" d="M107.4,1208.1l-3.7-5.5 -.7,2 2.6,8.8z"/>
<path color="#73cd63" d="M103.7,1202.6l-2.2-3.3 1.5,5.3z"/>
<path color="#15afd9" d="M142.1,1292.1l4.2,4.6 -2.5-8.1z"/>
<path color="#0cb3d3" d="M137.5,1287.1l4.6,5 1.7-3.5 -2.8-8.9z"/>
<path color="#03b7cc" d="M133.6,1282.7l3.9,4.4 3.5-7.4 -2.8-9 -5,10.8z"/>
<path color="#02bac5" d="M138.2,1270.7l-1.6-5.1 -2-2.2 -4.2,9.1 2.8,9z"/>
<path color="#0abdbd" d="M134.6,1263.4l-4.6-5 -2.4,5.2 2.8,8.9z"/>
<path color="#19bfb5" d="M130,1258.4l-4.6-5.1 -.6,1.3 2.8,9z"/>
<path color="#25c2ad" d="M125.4,1253.3l-1.5-1.7 .9,3z"/>
<path color="#2c90f0" d="M167.5,1334.3l1.2,1 -.6-1.9z"/>
<path color="#2896ec" d="M161.6,1329.8l5.9,4.5 .6-.9 -3.1-9.2z"/>
<path color="#259be8" d="M156,1325.5l5.6,4.3 3.4-5.6 -3.1-9.1 -6.1,9.9z"/>
<path color="#23a0e5" d="M161.9,1315.1l-2.9-8.6 -.3-.3 -5.9,9.7 3,9.1z"/>
<path color="#1fa6e2" d="M158.7,1306.2l-5.9-4.5 -3.1,5 3.1,9.2z"/>
<path color="#1baade" d="M152.8,1301.7l-5.9-4.6 -.3,.5 3.1,9.1z"/>
<path color="#15afd9" d="M146.9,1297.1l-.6-.4 .3,.9z"/>
<path color="#3777fe" d="M186.1,1365.4l5,2.4 -2.2-6.1z"/>
<path color="#317dfb" d="M178.4,1361.8l7.7,3.6 2.8-3.7 -3.4-9.4 -7.2,9.3z"/>
<path color="#2e84f9" d="M185.5,1352.3l-3.5-9.4 -7.1,9.2 3.4,9.5z"/>
<path color="#2d8af5" d="M182,1342.9l-.6-1.6 -6.5-3.1 -3.4,4.5 3.4,9.4z"/>
<path color="#2c90f0" d="M174.9,1338.2l-6.2-2.9 2.8,7.4z"/>
<path color="#475cfa" d="M210.4,1394.1l3.2,.7 -1.2-2.8z"/>
<path color="#4562fc" d="M200.8,1392l9.6,2.1 2-2.1 -3.9-9.7 -8.2,8.4z"/>
<path color="#4369fe" d="M208.5,1382.3l-3.9-9.8 -8.2,8.5 3.9,9.7z"/>
<path color="#3e70ff" d="M204.6,1372.5l-.7-1.9 -8.9-1.9 -2.5,2.6 3.9,9.7z"/>
<path color="#3777fe" d="M195,1368.7l-3.9-.9 1.4,3.5z"/>
<path color="#4849ed" d="M232.4,1416.8l3.6,0 -1-2.2z"/>
<path color="#484ff2" d="M223.3,1416.7l9.1,.1 2.6-2.2 -4.5-10.2 -9.2,7.8z"/>
<path color="#4755f6" d="M230.5,1404.4l-4.2-9.5 -1.1,0 -8.4,7.1 4.5,10.2z"/>
<path color="#475cfa" d="M225.2,1394.9l-11.6-.1 3.2,7.2z"/>
<path color="#463cdf" d="M245.7,1436.4l12.7-2 -2.7-5.5 -10.3,7.1z"/>
<path color="#4742e6" d="M255.7,1428.9l-5.4-10.7 -10.2,7 5.3,10.8z"/>
<path color="#4849ed" d="M250.3,1418.2l-1.6-3.3 -12.7,1.9 4.1,8.4z"/>
<path color="#4332c9" d="M268.1,1451.7l12.7-3.6 -1.6-2.8z"/>
<path color="#4536d5" d="M279.2,1445.3l-6.5-11.6 -11.1,6.4 6.5,11.6z"/>
<path color="#463cdf" d="M272.7,1433.7l-1.6-2.8 -12.7,3.5 3.2,5.7z"/>
<path color="#412dbc" d="M290.5,1463.1l12.7-4.7 -4.1-6.4 -12,5.8z"/>
<path color="#4332c9" d="M299.1,1452l-5.6-8.5 -12.7,4.6 6.3,9.7z"/>
<path color="#3f28af" d="M312.9,1471.1l12.7-5.2 -3.9-5.1 -12.6,5.3z"/>
<path color="#412dbc" d="M321.7,1460.8l-5.8-7.5 -12.7,5.1 5.9,7.7z"/>
<path color="#3f28af" d="M335.3,1476.3l12.7-5.4 -9.7-10.4 -12.7,5.4z"/>
<path color="#3f28af" d="M357.8,1478.9l12.7-5.9 -9.7-8 -12.8,5.9z"/>
<path color="#3f28af" d="M380.2,1478.8l12.7-7 -9.7-5.7 -12.7,6.9z"/>
<path color="#3f28af" d="M406,1463.4l-.4-.2 -12.7,8.6 9.5,3.4z"/>
<path color="#412dbc" d="M402.6,1475.2l12.7-8.5 -9.3-3.3 -3.6,11.8z"/>
<path color="#412dbc" d="M423.8,1459.5l-8.5,7.2 6.1,.6z"/>
<path color="#4332c9" d="M425,1467.8l11.3-9.6 .4-1.2 -8.7-1 -4.2,3.5 -2.4,7.8z"/>
<path color="#4536d5" d="M436.3,1458.2l1.4-1.1 -1-.1z"/>
<path color="#4536d5" d="M447.7,1446.5l-10,10.6 7.7-1z"/>
<path color="#463cdf" d="M447.4,1455.9l8.3-8.7 1-4.3 -6.3,.8 -2.7,2.8 -2.3,9.6z"/>
<path color="#4742e6" d="M455.7,1447.2l4.4-4.7 -3.4,.4z"/>
<path color="#4742e6" d="M464.8,1436.4l-4.7,6.1 3.9-1.4z"/>
<path color="#4849ed" d="M469.8,1439l.9-1.1 2-11.7 -7.9,10.2 -.8,4.7z"/>
<path color="#484ff2" d="M470.7,1437.9l7.8-10.2 .7-4.1 -6.4,2.3 -.1,.3z"/>
<path color="#4755f6" d="M478.5,1427.7l4-5.3 -3.3,1.2z"/>
<path color="#4755f6" d="M485.4,1417.9l-2.9,4.5 2.6-1.5z"/>
<path color="#475cfa" d="M491.3,1408.4l-5.9,9.5 -.3,3 5.4-3.2z"/>
<path color="#4562fc" d="M492.2,1416.6l4-6.2 .8-9.3 -1.7,1.1 -4,6.2 -.8,9.3z"/>
<path color="#4369fe" d="M496.2,1410.4l5.9-9.5 .2-3 -5.3,3.2z"/>
<path color="#3e70ff" d="M502.1,1400.9l2.9-4.6 -2.7,1.6z"/>
<path color="#3e70ff" d="M507.3,1391.8l-2.3,4.5 2.3-1.9z"/>
<path color="#3777fe" d="M511.9,1382.9l-4.6,8.9 0,2.6 4.5-3.8z"/>
<path color="#317dfb" d="M514.7,1388.2l1.6-3.2 .2-11 -4.6,8.9 -.1,7.7z"/>
<path color="#2e84f9" d="M516.3,1385l4.6-8.8 .1-7.2 -3.3,2.8 -1.2,2.2z"/>
<path color="#2d8af5" d="M520.9,1376.2l4.6-8.9 0-2.1 -4.5,3.8z"/>
<path color="#2c90f0" d="M525.5,1367.3l1.9-3.6 -1.9,1.5z"/>
<path color="#2c90f0" d="M529.5,1358.6l-2.1,5.1 2.3-2.5z"/>
<path color="#2896ec" d="M533.2,1350.1l-3.7,8.5 .2,2.6 3.9-4.2z"/>
<path color="#259be8" d="M537.1,1353.2l.4-.9 -.6-10.7 -3.7,8.5 .4,6.9z"/>
<path color="#23a0e5" d="M537.5,1352.3l3.6-8.5 -.5-10.1 -.5,.6 -3.2,7.3z"/>
<path color="#1fa6e2" d="M541.1,1343.8l3.7-8.5 -.3-5.8 -3.9,4.2z"/>
<path color="#1baade" d="M544.8,1335.3l3.7-8.5 -.1-1.5 -3.9,4.2z"/>
<path color="#15afd9" d="M548.5,1326.8l1.3-2.9 -1.4,1.4z"/>
<path color="#15afd9" d="M551.8,1318.5l-2,5.4 2.2-3z"/>
<path color="#0cb3d3" d="M554.8,1310.3l-3,8.2 .2,2.4 3.5-4.5z"/>
<path color="#03b7cc" d="M557.8,1302.1l-3,8.2 .7,6.1 3.4-4.5z"/>
<path color="#02bac5" d="M559.5,1311.1l2.5-6.8 -1.2-10.5 -3,8.3 1.1,9.8z"/>
<path color="#0abdbd" d="M562,1304.3l3-8.3 -1-8.8 -1.5,2 -1.7,4.6z"/>
<path color="#19bfb5" d="M565,1296l3-8.2 -.6-5.1 -3.4,4.5z"/>
<path color="#25c2ad" d="M568,1287.8l3-8.2 -.1-1.4 -3.5,4.5z"/>
<path color="#2ec4a5" d="M571,1279.6l1.2-3.2 -1.3,1.8z"/>
<path color="#2ec4a5" d="M573.8,1271.5l-1.6,4.9 1.9-2.9z"/>
<path color="#34c79c" d="M576.3,1263.5l-2.5,8 .3,2 3.1-4.8z"/>
<path color="#3cc992" d="M578.8,1255.5l-2.5,8 .9,5.2 3.1-4.8z"/>
<path color="#47cb87" d="M581.9,1261.4l1.2-3.8 -1.8-10.1 -2.5,8 1.5,8.4z"/>
<path color="#54cc7c" d="M583.1,1257.6l2.5-8 -1.8-10.1 -2.5,8z"/>
<path color="#63cd70" d="M585.6,1249.6l2.5-8 -1.5-8.4 -1.7,2.7 -1.1,3.6z"/>
<path color="#73cd63" d="M588.1,1241.6l2.5-8 -.9-5.1 -3.1,4.7z"/>
<path color="#83cc57" d="M590.6,1233.6l2.5-8 -.3-1.9 -3.1,4.8z"/>
<path color="#94ca4a" d="M593.1,1225.6l1.5-4.8 -1.8,2.9z"/>
<path color="#94ca4a" d="M595.5,1217.6l-.9,3.2 1.2-2z"/>
<path color="#a4c83e" d="M597.6,1209.8l-2.1,7.8 .3,1.2 2.7-5z"/>
<path color="#b3c534" d="M599.7,1201.9l-2.1,7.9 .9,4 2.8-5z"/>
<path color="#c1c32c" d="M601.9,1194.1l-2.2,7.8 1.6,6.9 2.8-5z"/>
<path color="#cfc028" d="M604.3,1203.5l2-7.3 -2.3-10 -2.1,7.9 2.2,9.7z"/>
<path color="#dbbd29" d="M606.3,1196.2l2.1-7.9 -2.3-9.9 -2.1,7.8z"/>
<path color="#e7bb2e" d="M608.4,1188.3l2.2-7.8 -2.1-8.7 -1.2,2.1 -1.2,4.5z"/>
<path color="#f1ba37" d="M610.6,1180.5l2.1-7.9 -1.4-5.8 -2.8,5z"/>
<path color="#fabb3d" d="M612.7,1172.6l2.1-7.8 -.7-3 -2.8,5z"/>
<path color="#fec03b" d="M614.8,1164.8l2.1-7.9 0-.1 -2.8,5z"/>
<path color="#fec736" d="M616.9,1156.9l.1-.4 -.1,.3z"/>
<path color="#b3c534" d="M88.3,1174.2l.5,1 -.5-1.5z"/>
<path color="#c1c32c" d="M85.8,1168.2l2.5,6 0-.5 -2.3-8.7z"/>
<path color="#cfc028" d="M83.3,1162.3l2.5,5.9 .2-3.2 -2.3-8.6z"/>
<path color="#dbbd29" d="M80.8,1156.4l2.5,5.9 .4-5.9 -2.4-8.6z"/>
<path color="#e7bb2e" d="M78.3,1150.5l2.5,5.9 .5-8.6 -2.2-8.3 -.1-.2z"/>
<path color="#f1ba37" d="M76.1,1145.2l2.2,5.3 .7-11.2 -2.5-6 -.7,10.9z"/>
<path color="#fabb3d" d="M76.5,1133.3l-2.6-5.9 -.5,8.2 2.4,8.6z"/>
<path color="#fec03b" d="M73.9,1127.4l-2.5-5.9 -.3,5.4 2.3,8.7z"/>
<path color="#fec736" d="M71.4,1121.5l-2.5-6 -.2,2.8 2.4,8.6z"/>
<path color="#fdce31" d="M68.9,1115.5l-2.5-5.9 0,.1 2.3,8.6z"/>
<path color="#fad52e" d="M66.4,1109.6l0-.1 0,.2z"/>
<path color="#3cc992" d="M110.6,1231.6l.6,1.2 -.5-1.8z"/>
<path color="#47cb87" d="M107.5,1225.9l3.1,5.7 .1-.6 -2.6-8.8z"/>
<path color="#54cc7c" d="M104.5,1220.2l3,5.7 .6-3.7 -2.5-8.8z"/>
<path color="#63cd70" d="M101.5,1214.4l3,5.8 1.1-6.8 -2.6-8.8z"/>
<path color="#73cd63" d="M98.5,1208.7l3,5.7 1.5-9.8 -1.5-5.3 -1.2-2.2z"/>
<path color="#83cc57" d="M98.5,1208.7l1.8-11.6 -3-5.7 -1.3,8.6z"/>
<path color="#94ca4a" d="M97.3,1191.4l-3-5.8 -.9,5.6 2.6,8.8z"/>
<path color="#a4c83e" d="M94.3,1185.6l-3.1-5.7 -.3,2.5 2.5,8.8z"/>
<path color="#b3c534" d="M91.2,1179.9l-2.4-4.7 2.1,7.2z"/>
<path color="#03b7cc" d="M133.1,1282l.5,.7 -.4-1.2z"/>
<path color="#02bac5" d="M129.4,1276.5l3.7,5.5 .1-.5 -2.8-9z"/>
<path color="#0abdbd" d="M125.7,1271.1l3.7,5.4 1-4 -2.8-8.9z"/>
<path color="#19bfb5" d="M122,1265.6l3.7,5.5 1.9-7.5 -2.8-9z"/>
<path color="#25c2ad" d="M120.9,1263.9l1.1,1.7 2.8-11 -.9-3 -2.4-3.6 -2.5,9.8z"/>
<path color="#2ec4a5" d="M121.5,1248l-3.7-5.5 -1.6,6.3 2.8,9z"/>
<path color="#34c79c" d="M117.8,1242.5l-3.7-5.4 -.7,2.8 2.8,8.9z"/>
<path color="#3cc992" d="M114.1,1237.1l-2.9-4.3 2.2,7.1z"/>
<path color="#259be8" d="M155.8,1325.3l.2,.2 -.2-.5z"/>
<path color="#23a0e5" d="M151.2,1320.2l4.6,5.1 0-.3 -3-9.1z"/>
<path color="#1fa6e2" d="M146.6,1315.1l4.6,5.1 1.6-4.3 -3.1-9.2z"/>
<path color="#1baade" d="M143.3,1311.5l3.3,3.6 3.1-8.4 -3.1-9.1 -4.2,11.3z"/>
<path color="#15afd9" d="M146.6,1297.6l-.3-.9 -4.2-4.6 -2.8,7.6 3.1,9.2z"/>
<path color="#0cb3d3" d="M142.1,1292.1l-4.6-5 -1.3,3.5 3.1,9.1z"/>
<path color="#03b7cc" d="M137.5,1287.1l-3.9-4.4 2.6,7.9z"/>
<path color="#317dfb" d="M178.3,1361.7l.1,.1 -.1-.2z"/>
<path color="#2e84f9" d="M172.4,1357.2l5.9,4.5 0-.1 -3.4-9.5z"/>
<path color="#2d8af5" d="M166.5,1352.6l5.9,4.6 2.5-5.1 -3.4-9.4z"/>
<path color="#2c90f0" d="M165.7,1352.1l.8,.5 5-9.9 -2.8-7.4 -1.2-1 -4.8,9.6z"/>
<path color="#2896ec" d="M167.5,1334.3l-5.9-4.5 -2.3,4.6 3.4,9.5z"/>
<path color="#259be8" d="M161.6,1329.8l-5.6-4.3 3.3,8.9z"/>
<path color="#4562fc" d="M199.8,1391.5l1,.5 -.5-1.3z"/>
<path color="#4369fe" d="M192,1387.8l7.8,3.7 .5-.8 -3.9-9.7z"/>
<path color="#3e70ff" d="M188.1,1386l3.9,1.8 4.4-6.8 -3.9-9.7 -6.4,9.7z"/>
<path color="#3777fe" d="M192.5,1371.3l-1.4-3.5 -5-2.4 -3.9,5.9 3.9,9.7z"/>
<path color="#317dfb" d="M186.1,1365.4l-7.7-3.6 3.8,9.5z"/>
<path color="#484ff2" d="M218.4,1415.6l4.9,1.1 -2-4.5z"/>
<path color="#4755f6" d="M210.5,1413.9l7.9,1.7 2.9-3.4 -4.5-10.2 -7.5,9z"/>
<path color="#475cfa" d="M216.8,1402l-3.2-7.2 -3.2-.7 -5.6,6.8 4.5,10.1z"/>
<path color="#4562fc" d="M210.4,1394.1l-9.6-2.1 4,8.9z"/>
<path color="#463cdf" d="M245,1436.4l.7,0 -.3-.4z"/>
<path color="#4742e6" d="M233,1436.3l12,.1 .4-.4 -5.3-10.8 -8.5,8.2z"/>
<path color="#4849ed" d="M240.1,1425.2l-4.1-8.4 -3.6,0 -6.2,5.9 5.4,10.7z"/>
<path color="#484ff2" d="M232.4,1416.8l-9.1-.1 2.9,6z"/>
<path color="#4536d5" d="M255.4,1453.7l12.6-2 .1,0 -6.5-11.6 -9.7,7.4z"/>
<path color="#463cdf" d="M261.6,1440.1l-3.2-5.7 -12.7,2 6.2,11.1z"/>
<path color="#412dbc" d="M277.8,1466.7l12.7-3.6 -3.4-5.3 -10.7,6.8z"/>
<path color="#4332c9" d="M287.1,1457.8l-6.3-9.7 -12.7,3.6 8.3,12.9z"/>
<path color="#3f28af" d="M300.2,1475.7l12.7-4.6 -3.8-5 -11.6,6.1z"/>
<path color="#412dbc" d="M309.1,1466.1l-5.9-7.7 -12.7,4.7 7,9.1z"/>
<path color="#3f28af" d="M322.6,1481.4l12.7-5.1 -9.7-10.4 -12.7,5.2z"/>
<path color="#3f28af" d="M345,1484.3l12.8-5.4 -9.8-8 -12.7,5.4z"/>
<path color="#3f28af" d="M367.5,1484.7l12.7-5.9 -9.7-5.8 -12.7,5.9z"/>
<path color="#3f28af" d="M389.9,1482.2l12.3-6.8 .2-.2 -9.5-3.4 -12.7,7z"/>
<path color="#412dbc" d="M402.2,1475.4l.4-.2 -.2,0z"/>
<path color="#412dbc" d="M412.3,1476.3l4.4-3 4.7-6 -6.1-.6 -12.7,8.5z"/>
<path color="#4332c9" d="M416.7,1473.3l8.3-5.5 -3.6-.5z"/>
<path color="#4332c9" d="M436.3,1458.2l-11.3,9.6 5.8-.8z"/>
<path color="#4536d5" d="M434.7,1466.6l8.7-7.4 2-3.1 -7.7,1 -1.4,1.1 -5.5,8.8z"/>
<path color="#463cdf" d="M443.4,1459.2l4-3.3 -2,.2z"/>
<path color="#463cdf" d="M455.7,1447.2l-8.3,8.7 4.9-1.8z"/>
<path color="#4742e6" d="M457.1,1452.4l2.9-3.1 4-8.2 -3.9,1.4 -4.4,4.7 -3.4,6.9z"/>
<path color="#4849ed" d="M460,1449.3l9.8-10.3 -5.8,2.1z"/>
<path color="#4849ed" d="M470.7,1437.9l-.9,1.1 .6-.3z"/>
<path color="#484ff2" d="M478.5,1427.7l-7.8,10.2 -.3,.8 5.3-3.2z"/>
<path color="#4755f6" d="M479.5,1433.2l2.3-2.9 3.3-9.4 -2.6,1.5 -4,5.3 -2.8,7.8z"/>
<path color="#475cfa" d="M481.8,1430.3l7.8-10.2 .9-2.4 -5.4,3.2z"/>
<path color="#4562fc" d="M489.6,1420.1l2.6-3.5 -1.7,1.1z"/>
<path color="#4562fc" d="M496.2,1410.4l-4,6.2 3-2.5z"/>
<path color="#4369fe" d="M502.1,1400.9l-5.9,9.5 -1,3.7 4.5-3.8z"/>
<path color="#3e70ff" d="M501.9,1408.5l3.1-4.8 2.3-9.3 -2.3,1.9 -2.9,4.6 -2.4,9.4z"/>
<path color="#3777fe" d="M505,1403.7l5.9-9.4 .9-3.7 -4.5,3.8z"/>
<path color="#317dfb" d="M510.9,1394.3l3.8-6.1 -2.9,2.4z"/>
<path color="#317dfb" d="M516.3,1385l-1.6,3.2 1.4-1.5z"/>
<path color="#2e84f9" d="M520.9,1376.2l-4.6,8.8 -.2,1.7 3.9-4.2z"/>
<path color="#2d8af5" d="M525.5,1367.3l-4.6,8.9 -.9,6.3 3.9-4.2z"/>
<path color="#2c90f0" d="M524.4,1377.8l4-7.8 1.3-8.8 -2.3,2.5 -1.9,3.6 -1.6,11z"/>
<path color="#2896ec" d="M528.4,1370l4.6-8.8 .6-4.2 -3.9,4.2z"/>
<path color="#259be8" d="M533,1361.2l4.1-8 -3.5,3.8z"/>
<path color="#259be8" d="M537.5,1352.3l-.4,.9 .3-.5z"/>
<path color="#23a0e5" d="M541.1,1343.8l-3.6,8.5 -.1,.4 3.5-4.5z"/>
<path color="#1fa6e2" d="M544.8,1335.3l-3.7,8.5 -.2,4.4 3.4-4.5z"/>
<path color="#1baade" d="M546.8,1340.5l1-2.5 .7-11.2 -3.7,8.5 -.5,8.4z"/>
<path color="#15afd9" d="M547.8,1338l3.7-8.5 .5-8.6 -2.2,3 -1.3,2.9z"/>
<path color="#0cb3d3" d="M551.5,1329.5l3.7-8.5 .3-4.6 -3.5,4.5z"/>
<path color="#03b7cc" d="M555.2,1321l3.7-8.5 0-.6 -3.4,4.5z"/>
<path color="#02bac5" d="M558.9,1312.5l.6-1.4 -.6,.8z"/>
<path color="#02bac5" d="M562,1304.3l-2.5,6.8 2.6-4z"/>
<path color="#0abdbd" d="M565,1296l-3,8.3 .1,2.8 3-4.8z"/>
<path color="#19bfb5" d="M568,1287.8l-3,8.2 .1,6.3 3.1-4.7z"/>
<path color="#25c2ad" d="M569.2,1296.1l2.1-5.7 -.3-10.8 -3,8.2 .2,9.8z"/>
<path color="#2ec4a5" d="M571.3,1290.4l3-8.2 -.2-8.7 -1.9,2.9 -1.2,3.2z"/>
<path color="#34c79c" d="M574.3,1282.2l3-8.2 -.1-5.3 -3.1,4.8z"/>
<path color="#3cc992" d="M577.3,1274l3-8.2 0-1.9 -3.1,4.8z"/>
<path color="#47cb87" d="M580.3,1265.8l1.6-4.4 -1.6,2.5z"/>
<path color="#47cb87" d="M583.1,1257.6l-1.2,3.8 1.3-2.4z"/>
<path color="#54cc7c" d="M585.6,1249.6l-2.5,8 .1,1.4 2.8-4.9z"/>
<path color="#63cd70" d="M588.1,1241.6l-2.5,8 .4,4.5 2.8-5z"/>
<path color="#73cd63" d="M590.6,1233.6l-2.5,8 .7,7.5 2.8-5z"/>
<path color="#83cc57" d="M591.6,1244l2.5-7.9 -1-10.5 -2.5,8 1,10.5z"/>
<path color="#94ca4a" d="M594.1,1236.1l2.5-8 -.8-9.3 -1.2,2 -1.5,4.8z"/>
<path color="#a4c83e" d="M596.6,1228.1l2.5-8 -.6-6.3 -2.7,5z"/>
<path color="#b3c534" d="M599.1,1220.1l2.5-8 -.3-3.3 -2.8,5z"/>
<path color="#c1c32c" d="M601.6,1212.1l2.5-8.1 0-.2 -2.8,5z"/>
<path color="#cfc028" d="M604.1,1204l.2-.5 -.2,.3z"/>
<path color="#cfc028" d="M606.3,1196.2l-2,7.3 2.4-4.8z"/>
<path color="#dbbd29" d="M608.4,1188.3l-2.1,7.9 .4,2.5 2.5-5.2z"/>
<path color="#e7bb2e" d="M610.6,1180.5l-2.2,7.8 .8,5.2 2.6-5.2z"/>
<path color="#f1ba37" d="M614,1183.8l.3-.9 -1.6-10.3 -2.1,7.9 1.2,7.8z"/>
<path color="#fabb3d" d="M614.3,1182.9l2.1-7.9 -1.6-10.2 -2.1,7.8z"/>
<path color="#fec03b" d="M616.4,1175l2.1-7.8 -1.6-10.3 -2.1,7.9z"/>
<path color="#fec736" d="M618.5,1167.2l2.2-7.9 -1.2-7.7 -2.5,4.9 -.1,.4z"/>
<path color="#fdce31" d="M620.7,1159.3l2.1-7.8 -.8-5 -2.5,5.1z"/>
<path color="#fad52e" d="M622.8,1151.5l2.1-7.9 -.3-2.3 -2.6,5.2z"/>
<path color="#f7dc2a" d="M624.9,1143.6l1.8-6.7 -2.1,4.4z"/>
<path color="#f1ba37" d="M75.8,1144.5l.3,.7 -.3-1z"/>
<path color="#fabb3d" d="M73.7,1138.4l2.1,6.1 0-.3 -2.4-8.6z"/>
<path color="#fec03b" d="M71.5,1132.3l2.2,6.1 -.3-2.8 -2.3-8.7z"/>
<path color="#fec736" d="M69.4,1126.2l2.1,6.1 -.4-5.4 -2.4-8.6z"/>
<path color="#fdce31" d="M67.3,1120.2l2.1,6 -.7-7.9 -2.3-8.6z"/>
<path color="#fad52e" d="M65.2,1114.1l2.1,6.1 -.9-10.5 0-.2 -2.1-6z"/>
<path color="#f7dc2a" d="M63.3,1108.9l1.9,5.2 -.9-10.6 -2.2-6.1 .9,10.2z"/>
<path color="#f5e327" d="M62.1,1097.4l-2.1-6 .7,7.6 2.3,8.6z"/>
<path color="#f5ea24" d="M60,1091.4l-2.1-6.1 .4,5.1 2.4,8.6z"/>
<path color="#f6f11f" d="M57.9,1085.3l-2.1-6.1 .2,2.5 2.3,8.7z"/>
<path color="#f8f818" d="M55.8,1079.2l-2.2-6.1 2.4,8.6z"/>
<path color="#83cc57" d="M96,1202.8l2.5,5.9 -2.5-8.7z"/>
<path color="#94ca4a" d="M93.5,1196.9l2.5,5.9 0-2.8 -2.6-8.8z"/>
<path color="#a4c83e" d="M91,1190.9l2.5,6 -.1-5.7 -2.5-8.8z"/>
<path color="#b3c534" d="M88.4,1185l2.6,5.9 -.1-8.5 -2.1-7.2 -.5-1z"/>
<path color="#c1c32c" d="M85.9,1179.1l2.5,5.9 -.1-10.8 -2.5-6z"/>
<path color="#cfc028" d="M85.8,1178.7l.1,.4 -.1-10.9 -2.5-5.9 .1,8.2z"/>
<path color="#dbbd29" d="M83.3,1162.3l-2.5-5.9 0,5.3 2.6,8.8z"/>
<path color="#e7bb2e" d="M80.8,1156.4l-2.5-5.9 0,2.5 2.5,8.7z"/>
<path color="#f1ba37" d="M78.3,1150.5l-2.2-5.3 2.2,7.8z"/>
<path color="#25c2ad" d="M118.8,1260l2.1,3.9 -1.9-6.1z"/>
<path color="#2ec4a5" d="M115.8,1254.3l3,5.7 .2-2.2 -2.8-9z"/>
<path color="#34c79c" d="M112.8,1248.6l3,5.7 .4-5.5 -2.8-8.9z"/>
<path color="#3cc992" d="M109.8,1242.8l3,5.8 .6-8.7 -2.2-7.1 -.6-1.2z"/>
<path color="#47cb87" d="M108.2,1239.8l1.6,3 .8-11.2 -3.1-5.7 -.6,9.7z"/>
<path color="#54cc7c" d="M107.5,1225.9l-3-5.7 -.4,6.5 2.8,8.9z"/>
<path color="#63cd70" d="M104.5,1220.2l-3-5.8 -.2,3.3 2.8,9z"/>
<path color="#73cd63" d="M101.5,1214.4l-3-5.7 0,.1 2.8,8.9z"/>
<path color="#1baade" d="M142.2,1310l1.1,1.5 -.9-2.6z"/>
<path color="#15afd9" d="M138.6,1304.5l3.6,5.5 .2-1.1 -3.1-9.2z"/>
<path color="#0cb3d3" d="M134.9,1299.1l3.7,5.4 .7-4.8 -3.1-9.1z"/>
<path color="#03b7cc" d="M131.2,1293.6l3.7,5.5 1.3-8.5 -2.6-7.9 -.5-.7z"/>
<path color="#02bac5" d="M130.6,1292.7l.6,.9 1.9-11.6 -3.7-5.5 -1.4,8.6z"/>
<path color="#0abdbd" d="M129.4,1276.5l-3.7-5.4 -.8,4.8 3.1,9.2z"/>
<path color="#19bfb5" d="M125.7,1271.1l-3.7-5.5 -.1,1.2 3,9.1z"/>
<path color="#25c2ad" d="M122,1265.6l-1.1-1.7 1,2.9z"/>
<path color="#2c90f0" d="M161.7,1347.6l4,4.5 -3-8.2z"/>
<path color="#2896ec" d="M157.1,1342.6l4.6,5 1-3.7 -3.4-9.5z"/>
<path color="#259be8" d="M153,1338.1l4.1,4.5 2.2-8.2 -3.3-8.9 -.2-.2 -3.2,11.8z"/>
<path color="#23a0e5" d="M155.8,1325.3l-4.6-5.1 -2,7.4 3.4,9.5z"/>
<path color="#1fa6e2" d="M151.2,1320.2l-4.6-5.1 -.8,3.1 3.4,9.4z"/>
<path color="#1baade" d="M146.6,1315.1l-3.3-3.6 2.5,6.7z"/>
<path color="#3e70ff" d="M185.1,1383.7l3,2.3 -2-5z"/>
<path color="#3777fe" d="M179.2,1379.2l5.9,4.5 1-2.7 -3.9-9.7z"/>
<path color="#317dfb" d="M175.4,1376.3l3.8,2.9 3-7.9 -3.8-9.5 -.1-.1 -4.3,11.1z"/>
<path color="#2e84f9" d="M178.3,1361.7l-5.9-4.5 -2.3,5.8 3.9,9.8z"/>
<path color="#2d8af5" d="M172.4,1357.2l-5.9-4.6 -.3,.7 3.9,9.7z"/>
<path color="#2c90f0" d="M166.5,1352.6l-.8-.5 .5,1.2z"/>
<path color="#4755f6" d="M208.3,1412.8l2.2,1.1 -1.2-2.9z"/>
<path color="#475cfa" d="M200.5,1409.1l7.8,3.7 1-1.8 -4.5-10.1z"/>
<path color="#4562fc" d="M197.8,1407.9l2.7,1.2 4.3-8.2 -4-8.9 -1-.5 -5,9.6z"/>
<path color="#4369fe" d="M199.8,1391.5l-7.8-3.7 -1.7,3.2 4.5,10.1z"/>
<path color="#3e70ff" d="M192,1387.8l-3.9-1.8 2.2,5z"/>
<path color="#4742e6" d="M230.1,1435.6l2.9,.7 -1.4-2.9z"/>
<path color="#4849ed" d="M220.3,1433.5l9.8,2.1 1.5-2.2 -5.4-10.7 -6.5,9.6z"/>
<path color="#484ff2" d="M226.2,1422.7l-2.9-6 -4.9-1.1 -4,6 5.3,10.7z"/>
<path color="#4755f6" d="M218.4,1415.6l-7.9-1.7 3.9,7.7z"/>
<path color="#4536d5" d="M246.7,1453.6l8.7,.1 -3.5-6.2z"/>
<path color="#463cdf" d="M242.7,1453.6l4,0 5.2-6.1 -6.2-11.1 -.7,0 -7.3,8.4z"/>
<path color="#4742e6" d="M245,1436.4l-12-.1 4.7,8.5z"/>
<path color="#412dbc" d="M273.4,1467.4l4.4-.7 -1.4-2.1z"/>
<path color="#4332c9" d="M265.1,1468.7l8.3-1.3 3-2.8 -8.3-12.9 -.1,0 -8.7,8z"/>
<path color="#4536d5" d="M268,1451.7l-12.6,2 3.9,6z"/>
<path color="#3f28af" d="M287.9,1479.2l12.3-3.5 -2.7-3.5z"/>
<path color="#412dbc" d="M287.5,1479.3l.4-.1 9.6-7 -7-9.1 -12.7,3.6z"/>
<path color="#3f28af" d="M309.9,1486.1l12.7-4.7 -9.7-10.3 -12.7,4.6z"/>
<path color="#3f28af" d="M332.3,1489.5l12.7-5.2 -9.7-8 -12.7,5.1z"/>
<path color="#3f28af" d="M354.7,1490l12.8-5.3 -9.7-5.8 -12.8,5.4z"/>
<path color="#3f28af" d="M377.2,1488.1l12.7-5.9 -9.7-3.4 -12.7,5.9z"/>
<path color="#3f28af" d="M402.2,1475.4l-12.3,6.8 2.7,.3z"/>
<path color="#412dbc" d="M399.6,1483.3l12.7-7 -9.7-1.1 -.4,.2 -9.6,7.1z"/>
<path color="#412dbc" d="M416.7,1473.3l-4.4,3 1.4-.2z"/>
<path color="#4332c9" d="M422,1475.1l.1-.1 8.7-8 -5.8,.8 -8.3,5.5 -3,2.8z"/>
<path color="#4536d5" d="M422.1,1475l12.6-8.4 -3.9,.4z"/>
<path color="#4536d5" d="M443.4,1459.2l-8.7,7.4 3.5-1.3z"/>
<path color="#463cdf" d="M444.4,1463l.7-.5 7.2-8.4 -4.9,1.8 -4,3.3 -5.2,6.1z"/>
<path color="#4742e6" d="M445.1,1462.5l12-10.1 -4.8,1.7z"/>
<path color="#4742e6" d="M460,1449.3l-2.9,3.1 1.4-.9z"/>
<path color="#4849ed" d="M470.4,1438.7l-.6,.3 -9.8,10.3 -1.5,2.2 5.4-3.2z"/>
<path color="#484ff2" d="M466.8,1446.5l4.9-5.1 4-5.9 -5.3,3.2 -6.5,9.6z"/>
<path color="#4755f6" d="M471.7,1441.4l7.8-8.2 -3.8,2.3z"/>
<path color="#4755f6" d="M481.8,1430.3l-2.3,2.9 1.3-1.1z"/>
<path color="#475cfa" d="M489.6,1420.1l-7.8,10.2 -1,1.8 4.5-3.8z"/>
<path color="#4562fc" d="M489.2,1425l1-1.3 5-9.6 -3,2.5 -2.6,3.5 -4.3,8.2z"/>
<path color="#4369fe" d="M490.2,1423.7l7.9-10.2 1.6-3.2 -4.5,3.8z"/>
<path color="#3e70ff" d="M498.1,1413.5l3.8-5 -2.2,1.8z"/>
<path color="#3e70ff" d="M505,1403.7l-3.1,4.8 2-2.2z"/>
<path color="#3777fe" d="M510.9,1394.3l-5.9,9.4 -1.1,2.6 3.9-4.2z"/>
<path color="#317dfb" d="M511.7,1398.1l.1-.3 4.3-11.1 -1.4,1.5 -3.8,6.1 -3.1,7.8z"/>
<path color="#2e84f9" d="M511.8,1397.8l5.9-9.4 2.3-5.9 -3.9,4.2z"/>
<path color="#2d8af5" d="M517.7,1388.4l5.9-9.4 .3-.7 -3.9,4.2z"/>
<path color="#2c90f0" d="M523.6,1379l.8-1.2 -.5,.5z"/>
<path color="#2c90f0" d="M528.4,1370l-4,7.8 3-4z"/>
<path color="#2896ec" d="M533,1361.2l-4.6,8.8 -1,3.8 3.4-4.5z"/>
<path color="#259be8" d="M534.1,1365l.2-.5 3.1-11.8 -.3,.5 -4.1,8 -2.2,8.1z"/>
<path color="#23a0e5" d="M534.3,1364.5l4.6-8.8 2-7.5 -3.5,4.5z"/>
<path color="#1fa6e2" d="M538.9,1355.7l4.6-8.9 .8-3.1 -3.4,4.5z"/>
<path color="#1baade" d="M543.5,1346.8l3.3-6.3 -2.5,3.2z"/>
<path color="#1baade" d="M547.8,1338l-1,2.5 .9-1.4z"/>
<path color="#15afd9" d="M551.5,1329.5l-3.7,8.5 -.1,1.1 3.1-4.8z"/>
<path color="#0cb3d3" d="M555.2,1321l-3.7,8.5 -.7,4.8 3-4.8z"/>
<path color="#03b7cc" d="M556.5,1325.4l.5-1.2 1.9-11.7 -3.7,8.5 -1.4,8.5z"/>
<path color="#02bac5" d="M557,1324.2l3.7-8.5 1.4-8.6 -2.6,4 -.6,1.4z"/>
<path color="#0abdbd" d="M560.7,1315.7l3.7-8.5 .7-4.9 -3,4.8z"/>
<path color="#19bfb5" d="M564.4,1307.2l3.6-8.5 .2-1.1 -3.1,4.7z"/>
<path color="#25c2ad" d="M568,1298.7l1.2-2.6 -1,1.5z"/>
<path color="#25c2ad" d="M571.3,1290.4l-2.1,5.7 1.9-3.5z"/>
<path color="#2ec4a5" d="M574.3,1282.2l-3,8.2 -.2,2.2 2.8-5z"/>
<path color="#34c79c" d="M577.3,1274l-3,8.2 -.4,5.4 2.8-5z"/>
<path color="#3cc992" d="M578.9,1278.7l.6-1.7 .8-11.2 -3,8.2 -.6,8.6z"/>
<path color="#47cb87" d="M579.5,1277l3-8.2 .7-9.8 -1.3,2.4 -1.6,4.4z"/>
<path color="#54cc7c" d="M582.5,1268.8l3.1-8.3 .4-6.4 -2.8,4.9z"/>
<path color="#63cd70" d="M585.6,1260.5l3-8.2 .2-3.2 -2.8,5z"/>
<path color="#73cd63" d="M588.6,1252.3l3-8.2 -2.8,5z"/>
<path color="#83cc57" d="M594.1,1236.1l-2.5,7.9 2.5-5.1z"/>
<path color="#94ca4a" d="M596.6,1228.1l-2.5,8 0,2.8 2.6-5.2z"/>
<path color="#a4c83e" d="M599.1,1220.1l-2.5,8 .1,5.6 2.5-5.1z"/>
<path color="#b3c534" d="M601.3,1224.3l.5-1.4 -.2-10.8 -2.5,8 .1,8.5z"/>
<path color="#c1c32c" d="M601.8,1222.9l2.5-8 -.2-10.9 -2.5,8.1z"/>
<path color="#cfc028" d="M604.3,1214.9l2.5-8 -.1-8.2 -2.4,4.8 -.2,.5z"/>
<path color="#dbbd29" d="M606.8,1206.9l2.5-8 -.1-5.4 -2.5,5.2z"/>
<path color="#e7bb2e" d="M609.3,1198.9l2.5-8 0-2.6 -2.6,5.2z"/>
<path color="#f1ba37" d="M611.8,1190.9l2.2-7.1 -2.2,4.5z"/>
<path color="#f1ba37" d="M614.3,1182.9l-.3,.9 .3-.6z"/>
<path color="#fabb3d" d="M616.4,1175l-2.1,7.9 0,.3 2.3-5.3z"/>
<path color="#fec03b" d="M618.5,1167.2l-2.1,7.8 .2,2.9 2.4-5.3z"/>
<path color="#fec736" d="M620.7,1159.3l-2.2,7.9 .5,5.4 2.3-5.4z"/>
<path color="#fdce31" d="M622.8,1151.5l-2.1,7.8 .6,7.9 2.4-5.3z"/>
<path color="#fad52e" d="M623.7,1161.8l2.1-7.7 -.9-10.5 -2.1,7.9 .9,10.4z"/>
<path color="#f7dc2a" d="M625.8,1154.1l2.1-7.8 -.8-10.2 -.4,.8 -1.8,6.7z"/>
<path color="#f5e327" d="M627.9,1146.3l2.2-7.9 -.7-7.6 -2.3,5.3z"/>
<path color="#f5ea24" d="M630.1,1138.4l2.1-7.8 -.4-5.1 -2.4,5.3z"/>
<path color="#f6f11f" d="M632.2,1130.6l2.1-7.9 -.2-2.5 -2.3,5.3z"/>
<path color="#f8f818" d="M634.3,1122.7l2.1-7.8 -2.3,5.3z"/>
<path color="#cfc028" d="M83.8,1173l2,5.7 -2.4-8.2z"/>
<path color="#dbbd29" d="M81.7,1166.9l2.1,6.1 -.4-2.5 -2.6-8.8z"/>
<path color="#e7bb2e" d="M79.5,1160.8l2.2,6.1 -.9-5.2 -2.5-8.7z"/>
<path color="#f1ba37" d="M77.4,1154.8l2.1,6 -1.2-7.8 -2.2-7.8 -.3-.7z"/>
<path color="#fabb3d" d="M75.3,1148.7l2.1,6.1 -1.6-10.3 -2.1-6.1z"/>
<path color="#fec03b" d="M73.1,1142.6l2.2,6.1 -1.6-10.3 -2.2-6.1z"/>
<path color="#fec736" d="M73,1142.3l.1,.3 -1.6-10.3 -2.1-6.1 1.2,7.7z"/>
<path color="#fdce31" d="M69.4,1126.2l-2.1-6 .8,5 2.5,8.7z"/>
<path color="#fad52e" d="M67.3,1120.2l-2.1-6.1 .3,2.3 2.6,8.8z"/>
<path color="#f7dc2a" d="M65.2,1114.1l-1.9-5.2 2.2,7.5z"/>
<path color="#47cb87" d="M107,1237l1.2,2.8 -1.3-4.2z"/>
<path color="#54cc7c" d="M104.5,1231.1l2.5,5.9 -.1-1.4 -2.8-8.9z"/>
<path color="#63cd70" d="M102,1225.2l2.5,5.9 -.4-4.4 -2.8-9z"/>
<path color="#73cd63" d="M99.5,1219.2l2.5,6 -.7-7.5 -2.8-8.9z"/>
<path color="#83cc57" d="M96.9,1213.3l2.6,5.9 -1-10.4 0-.1 -2.5-5.9z"/>
<path color="#94ca4a" d="M95.5,1209.8l1.4,3.5 -.9-10.5 -2.5-5.9 .8,9.2z"/>
<path color="#a4c83e" d="M93.5,1196.9l-2.5-6 .5,6.3 2.8,8.9z"/>
<path color="#b3c534" d="M91,1190.9l-2.6-5.9 .3,3.3 2.8,8.9z"/>
<path color="#c1c32c" d="M88.4,1185l-2.5-5.9 .1,.2 2.7,9z"/>
<path color="#cfc028" d="M85.9,1179.1l-.1-.4 .2,.6z"/>
<path color="#02bac5" d="M128.1,1288l2.5,4.7 -2.6-7.6z"/>
<path color="#0abdbd" d="M125.1,1282.2l3,5.8 -.1-2.9 -3.1-9.2z"/>
<path color="#19bfb5" d="M122,1276.5l3.1,5.7 -.2-6.3 -3-9.1z"/>
<path color="#25c2ad" d="M119,1270.8l3,5.7 -.1-9.7 -1-2.9 -2.1-3.9z"/>
<path color="#2ec4a5" d="M117.9,1268.6l1.1,2.2 -.2-10.8 -3-5.7 .2,8.7z"/>
<path color="#34c79c" d="M115.8,1254.3l-3-5.7 .1,5.2 3.1,9.2z"/>
<path color="#3cc992" d="M112.8,1248.6l-3-5.8 0,1.9 3.1,9.1z"/>
<path color="#47cb87" d="M109.8,1242.8l-1.6-3 1.6,4.9z"/>
<path color="#259be8" d="M152.6,1337.5l.4,.6 -.4-1z"/>
<path color="#23a0e5" d="M148.9,1332l3.7,5.5 0-.4 -3.4-9.5z"/>
<path color="#1fa6e2" d="M145.3,1326.6l3.6,5.4 .3-4.4 -3.4-9.4z"/>
<path color="#1baade" d="M141.6,1321.2l3.7,5.4 .5-8.4 -2.5-6.7 -1.1-1.5z"/>
<path color="#15afd9" d="M140.3,1319.3l1.3,1.9 .6-11.2 -3.6-5.5 -.6,8.6z"/>
<path color="#0cb3d3" d="M138.6,1304.5l-3.7-5.4 -.3,4.6 3.4,9.4z"/>
<path color="#03b7cc" d="M134.9,1299.1l-3.7-5.5 0,.7 3.4,9.4z"/>
<path color="#02bac5" d="M131.2,1293.6l-.6-.9 .6,1.6z"/>
<path color="#317dfb" d="M173.8,1374.5l1.6,1.8 -1.4-3.5z"/>
<path color="#2e84f9" d="M169.2,1369.4l4.6,5.1 .2-1.7 -3.9-9.8z"/>
<path color="#2d8af5" d="M164.6,1364.3l4.6,5.1 .9-6.4 -3.9-9.7z"/>
<path color="#2c90f0" d="M162.7,1362.3l1.9,2 1.6-11 -.5-1.2 -4-4.5 -1.3,8.9z"/>
<path color="#2896ec" d="M161.7,1347.6l-4.6-5 -.6,4.2 3.9,9.7z"/>
<path color="#259be8" d="M157.1,1342.6l-4.1-4.5 3.5,8.7z"/>
<path color="#4562fc" d="M193.9,1404.9l3.9,3 -3-6.8z"/>
<path color="#4369fe" d="M188,1400.4l5.9,4.5 .9-3.8 -4.5-10.1z"/>
<path color="#3e70ff" d="M185.1,1398.1l2.9,2.3 2.3-9.4 -2.2-5 -3-2.3 -2.3,9.3z"/>
<path color="#3777fe" d="M185.1,1383.7l-5.9-4.5 -.9,3.6 4.5,10.2z"/>
<path color="#317dfb" d="M179.2,1379.2l-3.8-2.9 2.9,6.5z"/>
<path color="#4849ed" d="M219.4,1433.1l.9,.4 -.6-1.2z"/>
<path color="#484ff2" d="M211.6,1429.4l7.8,3.7 .3-.8 -5.3-10.7z"/>
<path color="#4755f6" d="M207.5,1427.5l4.1,1.9 2.8-7.8 -3.9-7.7 -2.2-1.1 -3.4,9.4z"/>
<path color="#475cfa" d="M208.3,1412.8l-7.8-3.7 -.9,2.4 5.3,10.7z"/>
<path color="#4562fc" d="M200.5,1409.1l-2.7-1.2 1.8,3.6z"/>
<path color="#463cdf" d="M234.4,1451.7l8.3,1.9 -5-8.8z"/>
<path color="#4742e6" d="M230,1450.8l4.4,.9 3.3-6.9 -4.7-8.5 -2.9-.7 -4,8.2z"/>
<path color="#4849ed" d="M230.1,1435.6l-9.8-2.1 5.8,10.3z"/>
<path color="#4332c9" d="M253.7,1468.5l11.4,.2 -5.8-9z"/>
<path color="#4536d5" d="M252.4,1468.5l1.3,0 5.6-8.8 -3.9-6 -8.7-.1 -2,3.1z"/>
<path color="#463cdf" d="M246.7,1453.6l-4,0 2,3.1z"/>
<path color="#412dbc" d="M274.8,1481.3l12.7-2 -9.7-12.6 -4.4,.7 -4.7,6z"/>
<path color="#4332c9" d="M273.4,1467.4l-8.3,1.3 3.6,4.7z"/>
<path color="#3f28af" d="M297.2,1489.7l12.7-3.6 -9.7-10.4 -12.3,3.5 -.3,.3z"/>
<path color="#412dbc" d="M287.9,1479.2l-.4,.1 .1,.2z"/>
<path color="#3f28af" d="M319.6,1494.1l12.7-4.6 -9.7-8.1 -12.7,4.7z"/>
<path color="#3f28af" d="M342,1495.2l12.7-5.2 -9.7-5.7 -12.7,5.2z"/>
<path color="#3f28af" d="M364.4,1493.4l12.8-5.3 -9.7-3.4 -12.8,5.3z"/>
<path color="#3f28af" d="M392.6,1482.5l-2.7-.3 -12.7,5.9 3.8,.4z"/>
<path color="#412dbc" d="M386.9,1489.2l12.7-5.9 -7-.8 -11.6,6z"/>
<path color="#412dbc" d="M413.7,1476.1l-1.4,.2 -12.7,7 3.4-.4z"/>
<path color="#4332c9" d="M409.3,1482.1l12.7-7 -8.3,1 -10.7,6.8z"/>
<path color="#4536d5" d="M438.2,1465.3l-3.5,1.3 -12.6,8.4 -.1,.1 6.5-2.3z"/>
<path color="#463cdf" d="M431.7,1471.6l12.7-8.6 -6.2,2.3 -9.7,7.5z"/>
<path color="#463cdf" d="M445.1,1462.5l-.7,.5 .2-.1z"/>
<path color="#4742e6" d="M458.5,1451.5l-1.4,.9 -12,10.1 -.5,.4 5.4-3.2z"/>
<path color="#4849ed" d="M454.1,1457.2l3.6-3 6.2-5.9 -5.4,3.2 -8.5,8.2z"/>
<path color="#484ff2" d="M457.7,1454.2l9.1-7.7 -2.9,1.8z"/>
<path color="#484ff2" d="M471.7,1441.4l-4.9,5.1 2-1.6z"/>
<path color="#4755f6" d="M480.8,1432.1l-1.3,1.1 -7.8,8.2 -2.9,3.5 4.5-3.8z"/>
<path color="#475cfa" d="M476.5,1438.4l3.2-3.3 5.6-6.8 -4.5,3.8 -7.5,9z"/>
<path color="#4562fc" d="M479.7,1435.1l9.5-10.1 -3.9,3.3z"/>
<path color="#4562fc" d="M490.2,1423.7l-1,1.3 .5-.5z"/>
<path color="#4369fe" d="M498.1,1413.5l-7.9,10.2 -.5,.8 3.9-4.2z"/>
<path color="#3e70ff" d="M503.9,1406.3l-2,2.2 -3.8,5 -4.5,6.8 3.9-4.2z"/>
<path color="#3777fe" d="M498.9,1414.6l5.1-6.6 3.8-5.9 -3.9,4.2 -6.4,9.8z"/>
<path color="#317dfb" d="M504,1408l7.7-9.9 -3.9,4z"/>
<path color="#317dfb" d="M511.8,1397.8l-.1,.3 0-.2z"/>
<path color="#2e84f9" d="M517.7,1388.4l-5.9,9.4 -.1,.1 3.5-4.5z"/>
<path color="#2d8af5" d="M523.6,1379l-5.9,9.4 -2.5,5 3.4-4.5z"/>
<path color="#2c90f0" d="M521.4,1385.3l1.2-2 4.8-9.5 -3,4 -.8,1.2 -5,9.9z"/>
<path color="#2896ec" d="M522.6,1383.3l5.9-9.4 2.3-4.6 -3.4,4.5z"/>
<path color="#259be8" d="M528.5,1373.9l5.6-8.9 -3.3,4.3z"/>
<path color="#259be8" d="M534.3,1364.5l-.2,.5 .1-.2z"/>
<path color="#23a0e5" d="M538.9,1355.7l-4.6,8.8 -.1,.3 3.1-4.8z"/>
<path color="#1fa6e2" d="M543.5,1346.8l-4.6,8.9 -1.6,4.3 3.1-4.8z"/>
<path color="#1baade" d="M547.7,1339.1l-.9,1.4 -3.3,6.3 -3.1,8.4 3.1-4.8z"/>
<path color="#15afd9" d="M543.8,1350l4.1-8.1 2.9-7.6 -3.1,4.8 -4.2,11.3z"/>
<path color="#0cb3d3" d="M547.9,1341.9l4.6-8.9 1.3-3.5 -3,4.8z"/>
<path color="#03b7cc" d="M552.5,1333l4-7.6 -2.7,4.1z"/>
<path color="#03b7cc" d="M557,1324.2l-.5,1.2 .4-.7z"/>
<path color="#02bac5" d="M560.7,1315.7l-3.7,8.5 -.1,.5 2.8-5z"/>
<path color="#0abdbd" d="M564.4,1307.2l-3.7,8.5 -1,4 2.8-5z"/>
<path color="#19bfb5" d="M568,1298.7l-3.6,8.5 -1.9,7.5 2.7-5z"/>
<path color="#25c2ad" d="M566.2,1308l2.4-5.6 2.5-9.8 -1.9,3.5 -1.2,2.6 -2.8,11z"/>
<path color="#2ec4a5" d="M568.6,1302.4l3.7-8.5 1.6-6.3 -2.8,5z"/>
<path color="#34c79c" d="M572.3,1293.9l3.7-8.5 .7-2.8 -2.8,5z"/>
<path color="#3cc992" d="M576,1285.4l2.9-6.7 -2.2,3.9z"/>
<path color="#3cc992" d="M579.5,1277l-.6,1.7 .5-1.1z"/>
<path color="#47cb87" d="M582.5,1268.8l-3,8.2 -.1,.6 2.6-5.1z"/>
<path color="#54cc7c" d="M585.6,1260.5l-3.1,8.3 -.5,3.7 2.5-5.2z"/>
<path color="#63cd70" d="M588.6,1252.3l-3,8.2 -1.1,6.8 2.6-5.2z"/>
<path color="#73cd63" d="M588.6,1259l1.2-3.3 1.8-11.6 -3,8.2 -1.5,9.8z"/>
<path color="#83cc57" d="M589.8,1255.7l3-8.2 1.3-8.6 -2.5,5.1 0,.1z"/>
<path color="#94ca4a" d="M592.8,1247.5l3-8.2 .9-5.6 -2.6,5.2z"/>
<path color="#a4c83e" d="M595.8,1239.3l3-8.2 .4-2.5 -2.5,5.1z"/>
<path color="#b3c534" d="M598.8,1231.1l2.5-6.8 -2.1,4.3z"/>
<path color="#b3c534" d="M601.8,1222.9l-.5,1.4 .4-.9z"/>
<path color="#c1c32c" d="M604.3,1214.9l-2.5,8 -.1,.5 2.4-5.3z"/>
<path color="#cfc028" d="M606.8,1206.9l-2.5,8 -.2,3.2 2.3-5.3z"/>
<path color="#dbbd29" d="M609.3,1198.9l-2.5,8 -.4,5.9 2.4-5.3z"/>
<path color="#e7bb2e" d="M611,1202.4l.1-.3 .7-11.2 -2.5,8 -.5,8.6z"/>
<path color="#f1ba37" d="M611.1,1202.1l2.5-8.1 .7-10.8 -.3,.6 -2.2,7.1z"/>
<path color="#fabb3d" d="M613.6,1194l2.5-8 .5-8.1 -2.3,5.3z"/>
<path color="#fec03b" d="M616.1,1186l2.5-8 .4-5.4 -2.4,5.3z"/>
<path color="#fec736" d="M618.6,1178l2.6-8 .1-2.8 -2.3,5.4z"/>
<path color="#fdce31" d="M621.2,1170l2.5-8 0-.1 -2.4,5.3z"/>
<path color="#fad52e" d="M623.7,1162l0-.2 0,.1z"/>
<path color="#94ca4a" d="M94.6,1207.3l.9,2.5 -1.2-3.7z"/>
<path color="#a4c83e" d="M92.5,1201.2l2.1,6.1 -.3-1.2 -2.8-8.9z"/>
<path color="#b3c534" d="M90.3,1195.1l2.2,6.1 -1-4 -2.8-8.9z"/>
<path color="#c1c32c" d="M88.2,1189.1l2.1,6 -1.6-6.8 -2.7-9z"/>
<path color="#cfc028" d="M86.1,1183l2.1,6.1 -2.2-9.8 -.2-.6 -2-5.7z"/>
<path color="#dbbd29" d="M84,1176.9l2.1,6.1 -2.3-10 -2.1-6.1z"/>
<path color="#e7bb2e" d="M82.8,1173.4l1.2,3.5 -2.3-10 -2.2-6.1 2,8.8z"/>
<path color="#f1ba37" d="M79.5,1160.8l-2.1-6 1.4,5.8 2.7,9z"/>
<path color="#fabb3d" d="M77.4,1154.8l-2.1-6.1 .7,3 2.8,8.9z"/>
<path color="#fec03b" d="M75.3,1148.7l-2.2-6.1 .1,.1 2.8,9z"/>
<path color="#fec736" d="M73.1,1142.6l-.1-.3 .2,.4z"/>
<path color="#2ec4a5" d="M116.3,1265l1.6,3.6 -1.9-5.6z"/>
<path color="#34c79c" d="M113.8,1259l2.5,6 -.3-2 -3.1-9.2z"/>
<path color="#3cc992" d="M111.3,1253.1l2.5,5.9 -.9-5.2 -3.1-9.1z"/>
<path color="#47cb87" d="M108.8,1247.2l2.5,5.9 -1.5-8.4 -1.6-4.9 -1.2-2.8z"/>
<path color="#54cc7c" d="M106.3,1241.3l2.5,5.9 -1.8-10.2 -2.5-5.9z"/>
<path color="#63cd70" d="M105.2,1238.6l1.1,2.7 -1.8-10.2 -2.5-5.9 1.4,8.3z"/>
<path color="#73cd63" d="M102,1225.2l-2.5-6 .9,5.2 3,9.1z"/>
<path color="#83cc57" d="M99.5,1219.2l-2.6-5.9 .4,1.9 3.1,9.2z"/>
<path color="#94ca4a" d="M96.9,1213.3l-1.4-3.5 1.8,5.4z"/>
<path color="#15afd9" d="M138.3,1315.5l2,3.8 -2.3-6.2z"/>
<path color="#0cb3d3" d="M135.3,1309.8l3,5.7 -.3-2.4 -3.4-9.4z"/>
<path color="#03b7cc" d="M132.3,1304.1l3,5.7 -.7-6.1 -3.4-9.4z"/>
<path color="#02bac5" d="M129.3,1298.4l3,5.7 -1.1-9.8 -.6-1.6 -2.5-4.7z"/>
<path color="#0abdbd" d="M127.6,1295.1l1.7,3.3 -1.2-10.4 -3-5.8 1,8.9z"/>
<path color="#19bfb5" d="M125.1,1282.2l-3.1-5.7 .6,5.1 3.5,9.5z"/>
<path color="#25c2ad" d="M122,1276.5l-3-5.7 .2,1.4 3.4,9.4z"/>
<path color="#2ec4a5" d="M119,1270.8l-1.1-2.2 1.3,3.6z"/>
<path color="#2c90f0" d="M160.5,1359l2.2,3.3 -2.3-5.8z"/>
<path color="#2896ec" d="M156.9,1353.6l3.6,5.4 -.1-2.5 -3.9-9.7z"/>
<path color="#259be8" d="M153.2,1348.2l3.7,5.4 -.4-6.8 -3.5-8.7 -.4-.6z"/>
<path color="#23a0e5" d="M150,1343.5l3.2,4.7 -.6-10.7 -3.7-5.5 .6,10.1z"/>
<path color="#1fa6e2" d="M148.9,1332l-3.6-5.4 .3,5.8 3.9,9.7z"/>
<path color="#1baade" d="M145.3,1326.6l-3.7-5.4 .1,1.4 3.9,9.8z"/>
<path color="#15afd9" d="M141.6,1321.2l-1.3-1.9 1.4,3.3z"/>
<path color="#3e70ff" d="M182.8,1395.6l2.3,2.5 -2.3-5.1z"/>
<path color="#3777fe" d="M178.2,1390.5l4.6,5.1 0-2.6 -4.5-10.2z"/>
<path color="#317dfb" d="M173.6,1385.4l4.6,5.1 .1-7.7 -2.9-6.5 -1.6-1.8z"/>
<path color="#2e84f9" d="M172.4,1384.1l1.2,1.3 .2-10.9 -4.6-5.1 -.1,7.2z"/>
<path color="#2d8af5" d="M169.2,1369.4l-4.6-5.1 0,2.1 4.5,10.2z"/>
<path color="#2c90f0" d="M164.6,1364.3l-1.9-2 1.9,4.1z"/>
<path color="#4755f6" d="M204.7,1425.3l2.8,2.2 -2.6-5.3z"/>
<path color="#475cfa" d="M198.8,1420.7l5.9,4.6 .2-3.1 -5.3-10.7z"/>
<path color="#4562fc" d="M194.8,1417.7l4,3 .8-9.2 -1.8-3.6 -3.9-3 -.8,9.3z"/>
<path color="#4369fe" d="M193.9,1404.9l-5.9-4.5 -.3,3 5.4,10.8z"/>
<path color="#3e70ff" d="M188,1400.4l-2.9-2.3 2.6,5.3z"/>
<path color="#4742e6" d="M225.3,1448.5l4.7,2.3 -3.9-7z"/>
<path color="#4849ed" d="M217.4,1444.8l7.9,3.7 .8-4.7 -5.8-10.3 -.9-.4z"/>
<path color="#484ff2" d="M217.2,1444.7l.2,.1 2-11.7 -7.8-3.7 -.7,4z"/>
<path color="#4755f6" d="M211.6,1429.4l-4.1-1.9 3.4,5.9z"/>
<path color="#4536d5" d="M242.3,1466.3l10.1,2.2 -7.7-11.8z"/>
<path color="#463cdf" d="M239.7,1465.7l2.6,.6 2.4-9.6 -2-3.1 -8.3-1.9 -1.1,4.3z"/>
<path color="#4742e6" d="M234.4,1451.7l-4.4-.9 3.3,5.2z"/>
<path color="#412dbc" d="M266.3,1481.2l8.5,.1 -6.1-7.9z"/>
<path color="#4332c9" d="M262.1,1481.2l4.2,0 2.4-7.8 -3.6-4.7 -11.4-.2 -.3,1.3z"/>
<path color="#4536d5" d="M253.7,1468.5l-1.3,0 1,1.3z"/>
<path color="#3f28af" d="M284.5,1491.7l12.7-2 -9.6-10.2 -3.5,11.8z"/>
<path color="#412dbc" d="M287.6,1479.5l-.1-.2 -12.7,2 9.3,10z"/>
<path color="#3f28af" d="M306.9,1497.7l12.7-3.6 -9.7-8 -12.7,3.6z"/>
<path color="#3f28af" d="M329.3,1499.9l12.7-4.7 -9.7-5.7 -12.7,4.6z"/>
<path color="#3f28af" d="M351.7,1498.6l12.7-5.2 -9.7-3.4 -12.7,5.2z"/>
<path color="#3f28af" d="M381,1488.5l-3.8-.4 -12.8,5.3 4,.5z"/>
<path color="#412dbc" d="M374.2,1494.5l12.7-5.3 -5.9-.7 -12.6,5.4z"/>
<path color="#412dbc" d="M403,1482.9l-3.4,.4 -12.7,5.9 4.1-.5z"/>
<path color="#4332c9" d="M396.6,1488l12.7-5.9 -6.3,.8 -12,5.8z"/>
<path color="#4332c9" d="M422,1475.1l-12.7,7 1.6-.6z"/>
<path color="#4536d5" d="M428.5,1472.8l-6.5,2.3 -11.1,6.4 6.5-2.4z"/>
<path color="#463cdf" d="M419,1478.6l12.7-7 -3.2,1.2 -11.1,6.3z"/>
<path color="#463cdf" d="M444.6,1462.9l-.2,.1 -12.7,8.6 2.7-1.6z"/>
<path color="#4742e6" d="M450,1459.7l-5.4,3.2 -10.2,7.1 5.4-3.2z"/>
<path color="#4849ed" d="M441.4,1465.8l12.7-8.6 -4.1,2.5 -10.2,7.1z"/>
<path color="#4849ed" d="M457.7,1454.2l-3.6,3 1-.8z"/>
<path color="#484ff2" d="M468.8,1444.9l-2,1.6 -9.1,7.7 -2.6,2.2 4.5-3.8z"/>
<path color="#4755f6" d="M463.8,1449.1l1.1-.9 8.4-7.1 -4.5,3.8 -9.2,7.7z"/>
<path color="#475cfa" d="M464.9,1448.2l11.6-9.8 -3.2,2.7z"/>
<path color="#475cfa" d="M479.7,1435.1l-3.2,3.3 1.2-1.2z"/>
<path color="#4562fc" d="M489.7,1424.5l-.5,.5 -9.5,10.1 -2,2.1 3.9-4.2z"/>
<path color="#4369fe" d="M493.6,1420.3l-3.9,4.2 -8.1,8.5 3.9-4.2z"/>
<path color="#3e70ff" d="M486.2,1428l8.8-9.3 2.5-2.6 -3.9,4.2 -8.1,8.5z"/>
<path color="#3777fe" d="M495,1418.7l3.9-4.1 -1.4,1.5z"/>
<path color="#3777fe" d="M504,1408l-5.1,6.6 2.3-2.9z"/>
<path color="#317dfb" d="M511.7,1397.9l0,.2 -7.7,9.9 -2.8,3.7 3.4-4.5z"/>
<path color="#2e84f9" d="M515.2,1393.4l-3.5,4.5 -7.1,9.3 3.4-4.6z"/>
<path color="#2d8af5" d="M508.6,1401.9l6.5-8.5 3.5-4.5 -3.4,4.5 -7.2,9.2z"/>
<path color="#2c90f0" d="M515.1,1393.4l6.3-8.1 -2.8,3.6z"/>
<path color="#2c90f0" d="M522.6,1383.3l-1.2,2 .6-1z"/>
<path color="#2896ec" d="M528.5,1373.9l-5.9,9.4 -.6,1 3.1-4.8z"/>
<path color="#259be8" d="M534.2,1364.8l-.1,.2 -5.6,8.9 -3.4,5.6 3.1-4.8z"/>
<path color="#23a0e5" d="M531.1,1370.2l.3-.5 5.9-9.7 -3.1,4.8 -6,9.9z"/>
<path color="#1fa6e2" d="M531.4,1369.7l5.9-9.4 3.1-5.1 -3.1,4.8z"/>
<path color="#1baade" d="M537.3,1360.3l5.9-9.5 .3-.4 -3.1,4.8z"/>
<path color="#15afd9" d="M543.2,1350.8l.6-.8 -.3,.4z"/>
<path color="#15afd9" d="M547.9,1341.9l-4.1,8.1 2.5-4.6z"/>
<path color="#0cb3d3" d="M552.5,1333l-4.6,8.9 -1.6,3.5 2.8-5z"/>
<path color="#03b7cc" d="M556.9,1324.7l-.4,.7 -4,7.6 -3.4,7.4 2.8-5z"/>
<path color="#02bac5" d="M553.5,1332.6l1.9-3.8 4.3-9.1 -2.8,5 -5,10.7z"/>
<path color="#0abdbd" d="M555.4,1328.8l4.6-8.9 2.5-5.2 -2.8,5z"/>
<path color="#19bfb5" d="M560,1319.9l4.6-8.9 .6-1.3 -2.7,5z"/>
<path color="#25c2ad" d="M564.6,1311l1.6-3 -1,1.7z"/>
<path color="#25c2ad" d="M568.6,1302.4l-2.4,5.6 1.7-3.4z"/>
<path color="#2ec4a5" d="M572.3,1293.9l-3.7,8.5 -.7,2.2 2.5-5.1z"/>
<path color="#34c79c" d="M576,1285.4l-3.7,8.5 -1.9,5.6 2.6-5.2z"/>
<path color="#3cc992" d="M579.4,1277.6l-.5,1.1 -2.9,6.7 -3,8.9 2.5-5.2z"/>
<path color="#47cb87" d="M575.9,1288.4l3.1-7.3 3-8.6 -2.6,5.1 -3.9,11.5z"/>
<path color="#54cc7c" d="M579,1281.1l3.7-8.5 1.8-5.3 -2.5,5.2z"/>
<path color="#63cd70" d="M582.7,1272.6l3.7-8.5 .7-2 -2.6,5.2z"/>
<path color="#73cd63" d="M586.4,1264.1l2.2-5.1 -1.5,3.1z"/>
<path color="#73cd63" d="M589.8,1255.7l-1.2,3.3 .9-2.1z"/>
<path color="#83cc57" d="M592.8,1247.5l-3,8.2 -.3,1.2 2.4-5.3z"/>
<path color="#94ca4a" d="M595.8,1239.3l-3,8.2 -.9,4.1 2.3-5.3z"/>
<path color="#a4c83e" d="M598.8,1231.1l-3,8.2 -1.6,7 2.4-5.3z"/>
<path color="#b3c534" d="M598.3,1237l.8-2.1 2.6-11.5 -.4,.9 -2.5,6.8 -2.2,9.9z"/>
<path color="#c1c32c" d="M599.1,1234.9l3-8.2 2-8.6 -2.4,5.3z"/>
<path color="#cfc028" d="M602.1,1226.7l3-8.2 1.3-5.7 -2.3,5.3z"/>
<path color="#dbbd29" d="M605.1,1218.5l3-8.2 .7-2.8 -2.4,5.3z"/>
<path color="#e7bb2e" d="M608.1,1210.3l2.9-7.9 -2.2,5.1z"/>
<path color="#63cd70" d="M104,1235.2l1.2,3.4 -1.8-5.1z"/>
<path color="#73cd63" d="M101.9,1229.2l2.1,6 -.6-1.7 -3-9.1z"/>
<path color="#83cc57" d="M99.7,1223.1l2.2,6.1 -1.5-4.8 -3.1-9.2z"/>
<path color="#94ca4a" d="M97.6,1217l2.1,6.1 -2.4-7.9 -1.8-5.4 -.9-2.5z"/>
<path color="#a4c83e" d="M95.5,1210.9l2.1,6.1 -3-9.7 -2.1-6.1z"/>
<path color="#b3c534" d="M93.3,1204.8l2.2,6.1 -3-9.7 -2.2-6.1z"/>
<path color="#c1c32c" d="M92.5,1202.2l.8,2.6 -3-9.7 -2.1-6 2.5,7.8z"/>
<path color="#cfc028" d="M88.2,1189.1l-2.1-6.1 1.5,4.8 3.1,9.1z"/>
<path color="#dbbd29" d="M86.1,1183l-2.1-6.1 .5,1.7 3.1,9.2z"/>
<path color="#e7bb2e" d="M84,1176.9l-1.2-3.5 1.7,5.2z"/>
<path color="#0abdbd" d="M126.5,1292.6l1.1,2.5 -1.5-4z"/>
<path color="#19bfb5" d="M124,1286.6l2.5,6 -.4-1.5 -3.5-9.5z"/>
<path color="#25c2ad" d="M121.5,1280.7l2.5,5.9 -1.4-5 -3.4-9.4z"/>
<path color="#2ec4a5" d="M119,1274.8l2.5,5.9 -2.3-8.5 -1.3-3.6 -1.6-3.6z"/>
<path color="#34c79c" d="M116.4,1268.9l2.6,5.9 -2.7-9.8 -2.5-6z"/>
<path color="#3cc992" d="M114.9,1265.1l1.5,3.8 -2.6-9.9 -2.5-5.9 2.3,8.5z"/>
<path color="#47cb87" d="M111.3,1253.1l-2.5-5.9 1.3,5 3.5,9.4z"/>
<path color="#54cc7c" d="M108.8,1247.2l-2.5-5.9 .4,1.5 3.4,9.4z"/>
<path color="#63cd70" d="M106.3,1241.3l-1.1-2.7 1.5,4.2z"/>
<path color="#23a0e5" d="M149.6,1342.7l.4,.8 -.5-1.4z"/>
<path color="#1fa6e2" d="M146.6,1337l3,5.7 -.1-.6 -3.9-9.7z"/>
<path color="#1baade" d="M143.6,1331.2l3,5.8 -1-4.6 -3.9-9.8z"/>
<path color="#15afd9" d="M140.5,1325.5l3.1,5.7 -1.9-8.6 -1.4-3.3 -2-3.8z"/>
<path color="#0cb3d3" d="M137.5,1319.8l3,5.7 -2.2-10 -3-5.7z"/>
<path color="#03b7cc" d="M137.3,1319.3l.2,.5 -2.2-10 -3-5.7 1.4,6.3z"/>
<path color="#02bac5" d="M132.3,1304.1l-3-5.7 .5,2.2 3.9,9.8z"/>
<path color="#0abdbd" d="M129.3,1298.4l-1.7-3.3 2.2,5.5z"/>
<path color="#2e84f9" d="M169.7,1380.1l2.7,4 -3.3-7.5z"/>
<path color="#2d8af5" d="M166,1374.7l3.7,5.4 -.6-3.5 -4.5-10.2z"/>
<path color="#2c90f0" d="M162.3,1369.2l3.7,5.5 -1.4-8.3 -1.9-4.1 -2.2-3.3z"/>
<path color="#2896ec" d="M159.7,1365.4l2.6,3.8 -1.8-10.2 -3.6-5.4 1.5,8.8z"/>
<path color="#259be8" d="M156.9,1353.6l-3.7-5.4 .7,4 4.5,10.2z"/>
<path color="#23a0e5" d="M153.2,1348.2l-3.2-4.7 3.9,8.7z"/>
<path color="#4562fc" d="M193.3,1416l1.5,1.7 -1.7-3.5z"/>
<path color="#4369fe" d="M188.7,1411l4.6,5 -.2-1.8 -5.4-10.8z"/>
<path color="#3e70ff" d="M184.1,1405.9l4.6,5.1 -1-7.6 -2.6-5.3 -2.3-2.5z"/>
<path color="#3777fe" d="M182.1,1403.7l2,2.2 -1.3-10.3 -4.6-5.1 .9,7.1z"/>
<path color="#317dfb" d="M178.2,1390.5l-4.6-5.1 .2,1.5 5.3,10.7z"/>
<path color="#2e84f9" d="M173.6,1385.4l-1.2-1.3 1.4,2.8z"/>
<path color="#484ff2" d="M211.5,1440.3l5.7,4.4 -6.3-11.3z"/>
<path color="#4755f6" d="M205.6,1435.8l5.9,4.5 -.6-6.9 -3.4-5.9 -2.8-2.2z"/>
<path color="#475cfa" d="M204.5,1435l1.1,.8 -.9-10.5 -5.9-4.6 .4,4.8z"/>
<path color="#4562fc" d="M198.8,1420.7l-4-3 4.4,7.8z"/>
<path color="#463cdf" d="M233.7,1462.9l6,2.8 -6.4-9.7z"/>
<path color="#4742e6" d="M226.9,1459.7l6.8,3.2 -.4-6.9 -3.3-5.2 -4.7-2.3 .5,9.4z"/>
<path color="#4849ed" d="M225.3,1448.5l-7.9-3.7 0,.2 8.4,12.9z"/>
<path color="#484ff2" d="M217.4,1444.8l-.2-.1 .2,.3z"/>
<path color="#4332c9" d="M253.9,1479.4l8.2,1.8 -8.7-11.4z"/>
<path color="#4536d5" d="M249.4,1478.4l4.5,1 -.5-9.6 -1-1.3 -10.1-2.2 .2,3.1z"/>
<path color="#463cdf" d="M242.3,1466.3l-2.6-.6 2.8,3.7z"/>
<path color="#3f28af" d="M284.2,1491.7l.3,0 -.4-.4z"/>
<path color="#412dbc" d="M271.8,1491.5l12.4,.2 -.1-.4 -9.3-10 -8.5-.1 .8,5.3z"/>
<path color="#4332c9" d="M266.3,1481.2l-4.2,0 5,5.3z"/>
<path color="#3f28af" d="M294.2,1499.7l12.7-2 -9.7-8 -12.7,2z"/>
<path color="#3f28af" d="M316.6,1503.4l12.7-3.5 -9.7-5.8 -12.7,3.6z"/>
<path color="#3f28af" d="M339,1503.3l12.7-4.7 -9.7-3.4 -12.7,4.7z"/>
<path color="#3f28af" d="M368.4,1493.9l-4-.5 -12.7,5.2 3.8,.5z"/>
<path color="#412dbc" d="M361.4,1499.7l12.8-5.2 -5.8-.6 -12.9,5.2z"/>
<path color="#412dbc" d="M391,1488.7l-4.1,.5 -12.7,5.3 4.2-.5z"/>
<path color="#4332c9" d="M383.9,1493.3l12.7-5.3 -5.6,.7 -12.6,5.3z"/>
<path color="#4332c9" d="M410.9,1481.5l-1.6,.6 -12.7,5.9 2.2-.8z"/>
<path color="#4536d5" d="M417.4,1479.1l-6.5,2.4 -12.1,5.7 6.5-2.4z"/>
<path color="#463cdf" d="M406.3,1484.5l12.7-5.9 -1.6,.5 -12.1,5.7z"/>
<path color="#463cdf" d="M434.4,1470l-2.7,1.6 -12.7,7 4-2.4z"/>
<path color="#4742e6" d="M439.8,1466.8l-5.4,3.2 -11.4,6.2 5.3-3.2z"/>
<path color="#4849ed" d="M428.7,1472.8l12.7-7 -1.6,1 -11.5,6.2z"/>
<path color="#4849ed" d="M455.1,1456.4l-1,.8 -12.7,8.6 3.1-2.6z"/>
<path color="#484ff2" d="M459.6,1452.6l-4.5,3.8 -10.6,6.8 4.5-3.8z"/>
<path color="#4755f6" d="M451.1,1457.7l12.7-8.6 -4.2,3.5 -10.6,6.8z"/>
<path color="#4755f6" d="M464.9,1448.2l-1.1,.9 .3-.3z"/>
<path color="#475cfa" d="M477.7,1437.2l-1.2,1.2 -11.6,9.8 -.8,.6 3.9-4.2z"/>
<path color="#4562fc" d="M481.6,1433l-3.9,4.2 -9.7,7.4 3.9-4.2z"/>
<path color="#4369fe" d="M473.5,1438.7l9.5-8 2.5-1.9 -3.9,4.2 -9.7,7.4z"/>
<path color="#3e70ff" d="M483,1430.7l3.2-2.7 -.7,.8z"/>
<path color="#3e70ff" d="M495,1418.7l-8.8,9.3 2.8-3.7z"/>
<path color="#3777fe" d="M501.2,1411.7l-2.3,2.9 -3.9,4.1 -6,5.6 3.4-4.5z"/>
<path color="#317dfb" d="M504.6,1407.2l-3.4,4.5 -8.8,8.1 3.5-4.5z"/>
<path color="#2e84f9" d="M495.9,1415.2l10.8-11.4 1.3-1.2 -3.4,4.6 -8.7,8.1z"/>
<path color="#2d8af5" d="M506.7,1403.8l1.9-1.9 -.6,.7z"/>
<path color="#2d8af5" d="M515.1,1393.4l-6.5,8.5 2.6-4z"/>
<path color="#2c90f0" d="M522,1384.3l-.6,1 -6.3,8.1 -3.9,4.5 3.1-4.8z"/>
<path color="#2896ec" d="M525.1,1379.5l-3.1,4.8 -7.7,8.8 3.1-4.8z"/>
<path color="#259be8" d="M518.3,1386.8l5.4-6.9 4.5-5.2 -3.1,4.8 -7.7,8.8z"/>
<path color="#23a0e5" d="M523.7,1379.9l7.4-9.7 -2.9,4.5z"/>
<path color="#23a0e5" d="M531.4,1369.7l-.3,.5 .1-.3z"/>
<path color="#1fa6e2" d="M537.3,1360.3l-5.9,9.4 -.2,.2 2.8-5z"/>
<path color="#1baade" d="M543.2,1350.8l-5.9,9.5 -3.3,4.6 2.8-4.9z"/>
<path color="#15afd9" d="M546.3,1345.4l-2.5,4.6 -.6,.8 -6.4,9.2 2.8-5z"/>
<path color="#0cb3d3" d="M540.8,1352.9l3.4-5.5 4.9-7 -2.8,5 -6.7,9.6z"/>
<path color="#03b7cc" d="M544.2,1347.4l5.9-9.4 1.8-2.6 -2.8,5z"/>
<path color="#02bac5" d="M550.1,1338l3.4-5.4 -1.6,2.8z"/>
<path color="#02bac5" d="M555.4,1328.8l-1.9,3.8 1.1-2.2z"/>
<path color="#0abdbd" d="M560,1319.9l-4.6,8.9 -.8,1.6 2.5-5.2z"/>
<path color="#19bfb5" d="M564.6,1311l-4.6,8.9 -2.9,5.3 2.6-5.1z"/>
<path color="#25c2ad" d="M567.9,1304.6l-1.7,3.4 -1.6,3 -4.9,9.1 2.5-5.2z"/>
<path color="#2ec4a5" d="M563.2,1312.9l2.8-5.5 4.4-7.9 -2.5,5.1 -5.7,10.3z"/>
<path color="#34c79c" d="M566,1307.4l4.6-8.8 2.4-4.3 -2.6,5.2z"/>
<path color="#3cc992" d="M570.6,1298.6l4.6-8.9 .3-.6 -2.5,5.2z"/>
<path color="#47cb87" d="M575.2,1289.7l.7-1.3 -.4,.7z"/>
<path color="#47cb87" d="M579,1281.1l-3.1,7.3 2-4.6z"/>
<path color="#54cc7c" d="M582.7,1272.6l-3.7,8.5 -1.1,2.7 2.3-5.3z"/>
<path color="#63cd70" d="M586.4,1264.1l-3.7,8.5 -2.5,5.9 2.4-5.3z"/>
<path color="#73cd63" d="M589.5,1256.9l-.9,2.1 -2.2,5.1 -3.8,9.1 2.3-5.3z"/>
<path color="#83cc57" d="M585.6,1266.4l2.6-6 3.7-8.8 -2.4,5.3 -4.6,11z"/>
<path color="#94ca4a" d="M588.2,1260.4l3.7-8.5 2.3-5.6 -2.3,5.3z"/>
<path color="#a4c83e" d="M591.9,1251.9l3.7-8.5 1-2.4 -2.4,5.3z"/>
<path color="#b3c534" d="M595.6,1243.4l2.7-6.4 -1.7,4z"/>
<path color="#3cc992" d="M114.1,1262.9l.8,2.2 -1.3-3.5z"/>
<path color="#47cb87" d="M111.9,1256.8l2.2,6.1 -.5-1.3 -3.5-9.4z"/>
<path color="#54cc7c" d="M109.8,1250.7l2.1,6.1 -1.8-4.6 -3.4-9.4z"/>
<path color="#63cd70" d="M107.7,1244.6l2.1,6.1 -3.1-7.9 -1.5-4.2 -1.2-3.4z"/>
<path color="#73cd63" d="M105.6,1238.5l2.1,6.1 -3.7-9.4 -2.1-6z"/>
<path color="#83cc57" d="M103.4,1232.4l2.2,6.1 -3.7-9.3 -2.2-6.1z"/>
<path color="#94ca4a" d="M102.2,1228.8l1.2,3.6 -3.7-9.3 -2.1-6.1 3.2,8z"/>
<path color="#a4c83e" d="M97.6,1217l-2.1-6.1 1.8,4.7 3.5,9.4z"/>
<path color="#b3c534" d="M95.5,1210.9l-2.2-6.1 .6,1.4 3.4,9.4z"/>
<path color="#c1c32c" d="M93.3,1204.8l-.8-2.6 1.4,4z"/>
<path color="#03b7cc" d="M135,1313.9l2.3,5.4 -3.6-8.9z"/>
<path color="#02bac5" d="M132.5,1308l2.5,5.9 -1.3-3.5 -3.9-9.8z"/>
<path color="#0abdbd" d="M130,1302l2.5,6 -2.7-7.4 -2.2-5.5 -1.1-2.5z"/>
<path color="#19bfb5" d="M127.4,1296.1l2.6,5.9 -3.5-9.4 -2.5-6z"/>
<path color="#25c2ad" d="M124.9,1290.2l2.5,5.9 -3.4-9.5 -2.5-5.9z"/>
<path color="#2ec4a5" d="M124.6,1289.3l.3,.9 -3.4-9.5 -2.5-5.9 2.2,6.2z"/>
<path color="#34c79c" d="M119,1274.8l-2.6-5.9 .9,2.3 3.9,9.8z"/>
<path color="#3cc992" d="M116.4,1268.9l-1.5-3.8 2.4,6.1z"/>
<path color="#2896ec" d="M158.8,1363.7l.9,1.7 -1.3-3z"/>
<path color="#259be8" d="M155.8,1358l3,5.7 -.4-1.3 -4.5-10.2z"/>
<path color="#23a0e5" d="M152.8,1352.3l3,5.7 -1.9-5.8 -3.9-8.7 -.4-.8z"/>
<path color="#1fa6e2" d="M149.8,1346.5l3,5.8 -3.2-9.6 -3-5.7z"/>
<path color="#1baade" d="M147,1341.2l2.8,5.3 -3.2-9.5 -3-5.8 3.1,9.3z"/>
<path color="#15afd9" d="M143.6,1331.2l-3.1-5.7 1.7,4.8 4.5,10.2z"/>
<path color="#0cb3d3" d="M140.5,1325.5l-3-5.7 .2,.4 4.5,10.1z"/>
<path color="#03b7cc" d="M137.5,1319.8l-.2-.5 .4,.9z"/>
<path color="#3777fe" d="M180,1400.6l2.1,3.1 -3-6.1z"/>
<path color="#317dfb" d="M176.3,1395.2l3.7,5.4 -.9-3 -5.3-10.7z"/>
<path color="#2e84f9" d="M172.7,1389.8l3.6,5.4 -2.5-8.3 -1.4-2.8 -2.7-4z"/>
<path color="#2d8af5" d="M169.4,1384.9l3.3,4.9 -3-9.7 -3.7-5.4 2.8,9z"/>
<path color="#2c90f0" d="M166,1374.7l-3.7-5.5 1.2,3.8 5.3,10.7z"/>
<path color="#2896ec" d="M162.3,1369.2l-2.6-3.8 3.8,7.6z"/>
<path color="#475cfa" d="M200.7,1430.8l3.8,4.2 -5.3-9.5z"/>
<path color="#4562fc" d="M196.1,1425.8l4.6,5 -1.5-5.3 -4.4-7.8 -1.5-1.7z"/>
<path color="#4369fe" d="M191.8,1421l4.3,4.8 -2.8-9.8 -4.6-5 2.7,9.3z"/>
<path color="#3e70ff" d="M188.7,1411l-4.6-5.1 .8,2.8 6.5,11.6z"/>
<path color="#3777fe" d="M184.1,1405.9l-2-2.2 2.8,5z"/>
<path color="#4742e6" d="M226.1,1459.1l.8,.6 -1.1-1.8z"/>
<path color="#4849ed" d="M220.2,1454.6l5.9,4.5 -.3-1.2 -8.4-12.9z"/>
<path color="#484ff2" d="M214.3,1450l5.9,4.6 -2.8-9.6 -.2-.3 -5.7-4.4z"/>
<path color="#4755f6" d="M214.2,1450l.1,0 -2.8-9.7 -5.9-4.5 .4,1.5z"/>
<path color="#475cfa" d="M205.6,1435.8l-1.1-.8 1.5,2.3z"/>
<path color="#4536d5" d="M244.8,1476.2l4.6,2.2 -6.9-9z"/>
<path color="#463cdf" d="M236.9,1472.5l7.9,3.7 -2.3-6.8 -2.8-3.7 -6-2.8z"/>
<path color="#4742e6" d="M236.6,1472.4l.3,.1 -3.2-9.6 -6.8-3.2z"/>
<path color="#412dbc" d="M269.1,1490.9l2.7,.6 -4.7-5z"/>
<path color="#4332c9" d="M259.1,1488.7l10,2.2 -2-4.4 -5-5.3 -8.2-1.8 3.6,7.6z"/>
<path color="#4536d5" d="M253.9,1479.4l-4.5-1 8.1,8.6z"/>
<path color="#3f28af" d="M291.2,1499.7l3,0 -9.7-8 -.3,0z"/>
<path color="#412dbc" d="M281.5,1499.6l9.7,.1 -7-8 -12.4-.2z"/>
<path color="#3f28af" d="M303.9,1505.4l12.7-2 -9.7-5.7 -12.7,2z"/>
<path color="#3f28af" d="M326.7,1506.8l12.3-3.5 -9.7-3.4 -12.7,3.5 9.6,3.4z"/>
<path color="#412dbc" d="M326.3,1506.9l.4-.1 -.5,0z"/>
<path color="#3f28af" d="M355.5,1499.1l-3.8-.5 -12.7,4.7 2.8,.3z"/>
<path color="#412dbc" d="M348.7,1504.4l12.7-4.7 -5.9-.6 -13.7,4.5z"/>
<path color="#412dbc" d="M378.4,1494l-4.2,.5 -12.8,5.2 4.2-.5z"/>
<path color="#4332c9" d="M371.1,1498.5l12.8-5.2 -5.5,.7 -12.8,5.2z"/>
<path color="#4332c9" d="M398.8,1487.2l-2.2,.8 -12.7,5.3 2.2-.8z"/>
<path color="#4536d5" d="M405.3,1484.8l-6.5,2.4 -12.7,5.3 6.5-2.3z"/>
<path color="#463cdf" d="M393.6,1489.8l12.7-5.3 -1,.3 -12.7,5.4z"/>
<path color="#463cdf" d="M423,1476.2l-4,2.4 -12.7,5.9 4.5-2.7z"/>
<path color="#4742e6" d="M416,1478.6l3.2-1.5 9.1-4.1 -5.3,3.2 -12.2,5.6z"/>
<path color="#4849ed" d="M419.2,1477.1l9.5-4.3 -.4,.2z"/>
<path color="#4849ed" d="M444.5,1463.2l-3.1,2.6 -12.7,7 4.2-3.6z"/>
<path color="#484ff2" d="M449,1459.4l-4.5,3.8 -11.6,6 4.5-3.7z"/>
<path color="#4755f6" d="M438.4,1464.6l12.7-6.9 -2.1,1.7 -11.6,6.1z"/>
<path color="#4755f6" d="M464.1,1448.8l-.3,.3 -12.7,8.6 2.1-2.3z"/>
<path color="#475cfa" d="M468,1444.6l-3.9,4.2 -10.9,6.6 3.9-4.2z"/>
<path color="#4562fc" d="M460.8,1447.2l1.4-.9 9.7-5.9 -3.9,4.2 -10.9,6.6z"/>
<path color="#4369fe" d="M462.2,1446.3l11.3-7.6 -1.6,1.7z"/>
<path color="#4369fe" d="M483,1430.7l-9.5,8 2-2.7z"/>
<path color="#3e70ff" d="M489,1424.3l-2.8,3.7 -3.2,2.7 -7.5,5.3 3.5-4.5z"/>
<path color="#3777fe" d="M492.4,1419.8l-3.4,4.5 -10,7.2 3.4-4.5z"/>
<path color="#317dfb" d="M483.2,1425.9l12.5-10.5 .2-.1 -3.5,4.5 -10,7.2z"/>
<path color="#2e84f9" d="M495.7,1415.4l.2-.2 0,.1z"/>
<path color="#2e84f9" d="M506.7,1403.8l-10.8,11.4 3.1-4.7z"/>
<path color="#2d8af5" d="M511.2,1397.9l-2.6,4 -1.9,1.9 -7.7,6.7 3.1-4.8z"/>
<path color="#2c90f0" d="M514.3,1393.1l-3.1,4.8 -9.1,7.8 3-4.8z"/>
<path color="#2896ec" d="M505.6,1400.2l9.2-9.7 2.6-2.2 -3.1,4.8 -9.2,7.8z"/>
<path color="#259be8" d="M514.8,1390.5l3.5-3.7 -.9,1.5z"/>
<path color="#259be8" d="M523.7,1379.9l-5.4,6.9 1.9-3.4z"/>
<path color="#23a0e5" d="M531.2,1369.9l-.1,.3 -7.4,9.7 -3.5,3.5 2.8-5z"/>
<path color="#1fa6e2" d="M534,1364.9l-2.8,5 -8.2,8.5 2.8-5z"/>
<path color="#1baade" d="M528,1369.4l1.6-2 7.2-7.4 -2.8,4.9 -8.2,8.5z"/>
<path color="#15afd9" d="M529.6,1367.4l7.9-10.2 2.1-2.2 -2.8,5z"/>
<path color="#0cb3d3" d="M537.5,1357.2l3.3-4.3 -1.2,2.1z"/>
<path color="#0cb3d3" d="M544.2,1347.4l-3.4,5.5 1.4-3z"/>
<path color="#03b7cc" d="M550.1,1338l-5.9,9.4 -2,2.5 2.6-5.2z"/>
<path color="#02bac5" d="M554.6,1330.4l-1.1,2.2 -3.4,5.4 -5.3,6.7 2.5-5.2z"/>
<path color="#0abdbd" d="M557.1,1325.2l-2.5,5.2 -7.3,9.1 2.6-5.1z"/>
<path color="#19bfb5" d="M550.5,1333.2l4.5-7.3 4.7-5.8 -2.6,5.1 -7.2,9.2z"/>
<path color="#25c2ad" d="M555,1325.9l5.9-9.4 1.3-1.6 -2.5,5.2z"/>
<path color="#2ec4a5" d="M560.9,1316.5l2.3-3.6 -1,2z"/>
<path color="#2ec4a5" d="M566,1307.4l-2.8,5.5 1.4-3.3z"/>
<path color="#34c79c" d="M570.6,1298.6l-4.6,8.8 -1.4,2.2 2.4-5.3z"/>
<path color="#3cc992" d="M575.2,1289.7l-4.6,8.9 -3.6,5.7 2.3-5.3z"/>
<path color="#47cb87" d="M577.9,1283.8l-2,4.6 -.7,1.3 -5.9,9.3 2.3-5.3z"/>
<path color="#54cc7c" d="M572.9,1290.9l2.2-4.2 5.1-8.2 -2.3,5.3 -6.3,9.9z"/>
<path color="#63cd70" d="M575.1,1286.7l4.6-8.9 2.9-4.6 -2.4,5.3z"/>
<path color="#73cd63" d="M579.7,1277.8l4.6-8.8 .6-1.1 -2.3,5.3z"/>
<path color="#83cc57" d="M584.3,1269l1.3-2.6 -.7,1.5z"/>
<path color="#2ec4a5" d="M122.7,1284.1l1.9,5.2 -3.4-8.3z"/>
<path color="#34c79c" d="M120.6,1278l2.1,6.1 -1.5-3.1 -3.9-9.8z"/>
<path color="#3cc992" d="M118.5,1271.9l2.1,6.1 -3.3-6.8 -2.4-6.1 -.8-2.2z"/>
<path color="#47cb87" d="M116.4,1265.9l2.1,6 -4.4-9 -2.2-6.1z"/>
<path color="#54cc7c" d="M114.2,1259.8l2.2,6.1 -4.5-9.1 -2.1-6.1z"/>
<path color="#63cd70" d="M112.1,1253.7l2.1,6.1 -4.4-9.1 -2.1-6.1z"/>
<path color="#73cd63" d="M111.9,1253l.2,.7 -4.4-9.1 -2.1-6.1 2.8,5.9z"/>
<path color="#83cc57" d="M105.6,1238.5l-2.2-6.1 1.1,2.2 3.9,9.8z"/>
<path color="#94ca4a" d="M103.4,1232.4l-1.2-3.6 2.3,5.8z"/>
<path color="#1baade" d="M146.8,1340.8l.2,.4 -.3-.7z"/>
<path color="#15afd9" d="M144.3,1334.9l2.5,5.9 -.1-.3 -4.5-10.2z"/>
<path color="#0cb3d3" d="M141.8,1328.9l2.5,6 -2.1-4.6 -4.5-10.1z"/>
<path color="#03b7cc" d="M139.3,1323l2.5,5.9 -4.1-8.7 -.4-.9 -2.3-5.4z"/>
<path color="#02bac5" d="M136.8,1317.1l2.5,5.9 -4.3-9.1 -2.5-5.9z"/>
<path color="#0abdbd" d="M134.3,1311.2l2.5,5.9 -4.3-9.1 -2.5-6 4.2,9.1z"/>
<path color="#19bfb5" d="M130,1302l-2.6-5.9 2.3,4.8 4.5,10.2z"/>
<path color="#25c2ad" d="M127.4,1296.1l-2.5-5.9 .3,.6 4.5,10.1z"/>
<path color="#2ec4a5" d="M124.9,1290.2l-.3-.9 .6,1.5z"/>
<path color="#2d8af5" d="M169.1,1384.3l.3,.6 -.6-1.2z"/>
<path color="#2c90f0" d="M166,1378.6l3.1,5.7 -.3-.6 -5.3-10.7z"/>
<path color="#2896ec" d="M163,1372.8l3,5.8 -2.5-5.6 -3.8-7.6 -.9-1.7z"/>
<path color="#259be8" d="M160,1367.1l3,5.7 -4.2-9.1 -3-5.7z"/>
<path color="#23a0e5" d="M157,1361.4l3,5.7 -4.2-9.1 -3-5.7z"/>
<path color="#1fa6e2" d="M156.7,1360.8l.3,.6 -4.2-9.1 -3-5.8 2.1,4.7z"/>
<path color="#1baade" d="M149.8,1346.5l-2.8-5.3 4.9,10z"/>
<path color="#4369fe" d="M191.6,1420.7l.2,.3 -.4-.7z"/>
<path color="#3e70ff" d="M187.9,1415.2l3.7,5.5 -.2-.4 -6.5-11.6z"/>
<path color="#3777fe" d="M184.2,1409.8l3.7,5.4 -3-6.5 -2.8-5 -2.1-3.1z"/>
<path color="#317dfb" d="M180.6,1404.4l3.6,5.4 -4.2-9.2 -3.7-5.4z"/>
<path color="#2e84f9" d="M179.1,1402.2l1.5,2.2 -4.3-9.2 -3.6-5.4 2.5,5.4z"/>
<path color="#2d8af5" d="M172.7,1389.8l-3.3-4.9 5.8,10.3z"/>
<path color="#4755f6" d="M209.7,1445l4.5,5 -8.2-12.7z"/>
<path color="#475cfa" d="M205.1,1439.9l4.6,5.1 -3.7-7.7 -1.5-2.3 -3.8-4.2z"/>
<path color="#4562fc" d="M201.5,1436l3.6,3.9 -4.4-9.1 -4.6-5 3.6,7.4z"/>
<path color="#4369fe" d="M196.1,1425.8l-4.3-4.8 7.9,12.2z"/>
<path color="#4742e6" d="M230.9,1468l5.7,4.4 -9.7-12.7 -.8-.6z"/>
<path color="#4849ed" d="M225,1463.5l5.9,4.5 -4.8-8.9 -5.9-4.5z"/>
<path color="#484ff2" d="M223.9,1462.6l1.1,.9 -4.8-8.9 -5.9-4.6 .1,.2z"/>
<path color="#4755f6" d="M214.3,1450l-.1,0 .2,.2z"/>
<path color="#4332c9" d="M258.4,1488.4l.7,.3 -1.6-1.7z"/>
<path color="#4536d5" d="M250.6,1484.7l7.8,3.7 -.9-1.4 -8.1-8.6 -4.6-2.2z"/>
<path color="#463cdf" d="M246.4,1482.7l4.2,2 -5.8-8.5 -7.9-3.7 .4,.6z"/>
<path color="#4742e6" d="M236.9,1472.5l-.3-.1 .7,.7z"/>
<path color="#412dbc" d="M277,1498.6l4.5,1 -9.7-8.1 -2.7-.6z"/>
<path color="#4332c9" d="M268.8,1496.8l8.2,1.8 -7.9-7.7 -10-2.2z"/>
<path color="#3f28af" d="M303.6,1505.4l.3,0 -9.7-5.7 -3,0z"/>
<path color="#412dbc" d="M291.2,1505.3l12.4,.1 -12.4-5.7 -9.7-.1z"/>
<path color="#3f28af" d="M326.2,1506.8l-9.6-3.4 -12.7,2 .4,.2z"/>
<path color="#412dbc" d="M313.6,1508.9l12.7-2 -.1-.1 -21.9-1.2z"/>
<path color="#3f28af" d="M341.8,1503.6l-2.8-.3 -12.3,3.5z"/>
<path color="#412dbc" d="M336,1508l12.7-3.6 -6.9-.8 -15.1,3.2 -.4,.1z"/>
<path color="#412dbc" d="M365.6,1499.2l-4.2,.5 -12.7,4.7 3.4-.4z"/>
<path color="#4332c9" d="M358.4,1503.2l12.7-4.7 -5.5,.7 -13.5,4.8z"/>
<path color="#4332c9" d="M386.1,1492.5l-2.2,.8 -12.8,5.2 2.2-.8z"/>
<path color="#4536d5" d="M392.6,1490.2l-6.5,2.3 -12.8,5.2 6.5-2.3z"/>
<path color="#463cdf" d="M380.8,1495l12.8-5.2 -1,.4 -12.8,5.2z"/>
<path color="#463cdf" d="M410.8,1481.8l-4.5,2.7 -12.7,5.3 4.5-2.7z"/>
<path color="#4742e6" d="M403.3,1484l12.7-5.4 -5.2,3.2 -12.7,5.3z"/>
<path color="#4742e6" d="M419.2,1477.1l-3.2,1.5 .1,0z"/>
<path color="#4849ed" d="M432.9,1469.2l-4.2,3.6 -9.5,4.3 -3.1,1.5 4.5-3.8z"/>
<path color="#484ff2" d="M437.4,1465.5l-4.5,3.7 -12.3,5.6 4.5-3.8z"/>
<path color="#4755f6" d="M425.7,1470.5l12.7-5.9 -1,.9 -12.3,5.5z"/>
<path color="#4755f6" d="M453.2,1455.4l-2.1,2.3 -12.7,6.9 3-3.3z"/>
<path color="#475cfa" d="M457.1,1451.2l-3.9,4.2 -11.8,5.9 3.9-4.2z"/>
<path color="#4562fc" d="M448.1,1454.2l12.7-7 -3.7,4 -11.8,5.9z"/>
<path color="#4562fc" d="M462.2,1446.3l-1.4,.9 .2-.2z"/>
<path color="#4369fe" d="M475.5,1436l-2,2.7 -11.3,7.6 -1.2,.7 3.4-4.5z"/>
<path color="#3e70ff" d="M479,1431.5l-3.5,4.5 -11.1,6.5 3.5-4.6z"/>
<path color="#3777fe" d="M470.5,1434.5l6.4-4.3 5.5-3.2 -3.4,4.5 -11.1,6.4z"/>
<path color="#317dfb" d="M476.9,1430.2l6.3-4.3 -.8,1.1z"/>
<path color="#317dfb" d="M495.7,1415.4l-12.5,10.5 2.4-3.6z"/>
<path color="#2e84f9" d="M499,1410.5l-3.1,4.7 -.2,.2 -10.1,6.9 3.1-4.8z"/>
<path color="#2d8af5" d="M502.1,1405.7l-3.1,4.8 -10.3,7 3-4.8z"/>
<path color="#2c90f0" d="M492.9,1410.9l10.1-8.5 2.1-1.5 -3,4.8 -10.4,7z"/>
<path color="#2896ec" d="M503,1402.4l2.6-2.2 -.5,.7z"/>
<path color="#2896ec" d="M514.8,1390.5l-9.2,9.7 2.4-4.2z"/>
<path color="#259be8" d="M520.2,1383.4l-1.9,3.4 -3.5,3.7 -6.8,5.5 2.8-5z"/>
<path color="#23a0e5" d="M523,1378.4l-2.8,5 -9.4,7.6 2.8-5z"/>
<path color="#1fa6e2" d="M515.3,1382.8l4-4.2 6.5-5.2 -2.8,5 -9.4,7.6z"/>
<path color="#1baade" d="M519.3,1378.6l8.7-9.2 -2.2,4z"/>
<path color="#1baade" d="M529.6,1367.4l-1.6,2 .6-1z"/>
<path color="#15afd9" d="M537.5,1357.2l-7.9,10.2 -1,1 2.5-5.2z"/>
<path color="#0cb3d3" d="M542.2,1349.9l-1.4,3 -3.3,4.3 -6.4,6 2.6-5.1z"/>
<path color="#03b7cc" d="M544.8,1344.7l-2.6,5.2 -8.5,8.2 2.5-5.2z"/>
<path color="#02bac5" d="M537.8,1349.8l3-4 6.5-6.3 -2.5,5.2 -8.6,8.2z"/>
<path color="#0abdbd" d="M540.8,1345.8l7.9-10.3 1.2-1.1 -2.6,5.1z"/>
<path color="#19bfb5" d="M548.7,1335.5l1.8-2.3 -.6,1.2z"/>
<path color="#19bfb5" d="M555,1325.9l-4.5,7.3 1.8-4.1z"/>
<path color="#25c2ad" d="M560.9,1316.5l-5.9,9.4 -2.7,3.2 2.3-5.3z"/>
<path color="#2ec4a5" d="M564.6,1309.6l-1.4,3.3 -2.3,3.6 -6.3,7.3 2.4-5.3z"/>
<path color="#34c79c" d="M567,1304.3l-2.4,5.3 -7.6,8.9 2.3-5.3z"/>
<path color="#3cc992" d="M560.2,1311.2l3.7-5.9 5.4-6.3 -2.3,5.3 -7.7,8.9z"/>
<path color="#47cb87" d="M563.9,1305.3l5.9-9.4 1.8-2.2 -2.3,5.3z"/>
<path color="#54cc7c" d="M569.8,1295.9l3.1-5 -1.3,2.8z"/>
<path color="#0abdbd" d="M134.2,1311.2l.1,0 -.1-.1z"/>
<path color="#19bfb5" d="M132.1,1305.1l2.1,6.1 0-.1 -4.5-10.2z"/>
<path color="#25c2ad" d="M130,1299l2.1,6.1 -2.4-4.2 -4.5-10.1z"/>
<path color="#2ec4a5" d="M127.9,1292.9l2.1,6.1 -4.8-8.2 -.6-1.5 -1.9-5.2z"/>
<path color="#34c79c" d="M125.7,1286.8l2.2,6.1 -5.2-8.8 -2.1-6.1z"/>
<path color="#3cc992" d="M123.6,1280.7l2.1,6.1 -5.1-8.8 -2.1-6.1z"/>
<path color="#47cb87" d="M121.6,1274.9l2,5.8 -5.1-8.8 -2.1-6 5,8.6z"/>
<path color="#54cc7c" d="M116.4,1265.9l-2.2-6.1 2.7,4.5 4.5,10.2z"/>
<path color="#63cd70" d="M114.2,1259.8l-2.1-6.1 .3,.5 4.5,10.1z"/>
<path color="#73cd63" d="M112.1,1253.7l-.2-.7 .5,1.2z"/>
<path color="#1fa6e2" d="M154.4,1355.5l2.3,5.3 -4.8-9.6z"/>
<path color="#1baade" d="M151.9,1349.6l2.5,5.9 -2.5-4.3 -4.9-10 -.2-.4z"/>
<path color="#15afd9" d="M149.4,1343.7l2.5,5.9 -5.1-8.8 -2.5-5.9z"/>
<path color="#0cb3d3" d="M146.9,1337.7l2.5,6 -5.1-8.8 -2.5-6z"/>
<path color="#03b7cc" d="M144.4,1331.8l2.5,5.9 -5.1-8.8 -2.5-5.9z"/>
<path color="#02bac5" d="M144,1330.8l.4,1 -5.1-8.8 -2.5-5.9 2.7,4.7z"/>
<path color="#0abdbd" d="M136.8,1317.1l-2.5-5.9 5.2,10.6z"/>
<path color="#2e84f9" d="M177.3,1398.8l1.8,3.4 -3.9-7z"/>
<path color="#2d8af5" d="M174.3,1393l3,5.8 -2.1-3.6 -5.8-10.3 -.3-.6z"/>
<path color="#2c90f0" d="M171.3,1387.3l3,5.7 -5.2-8.7 -3.1-5.7z"/>
<path color="#2896ec" d="M168.2,1381.6l3.1,5.7 -5.3-8.7 -3-5.8z"/>
<path color="#259be8" d="M166.4,1378.1l1.8,3.5 -5.2-8.8 -3-5.7 3.9,6.5z"/>
<path color="#23a0e5" d="M160,1367.1l-3-5.7 .4,.6 6.5,11.6z"/>
<path color="#1fa6e2" d="M157,1361.4l-.3-.6 .7,1.2z"/>
<path color="#4562fc" d="M200.7,1434.8l.8,1.2 -1.8-2.8z"/>
<path color="#4369fe" d="M197,1429.3l3.7,5.5 -1-1.6 -7.9-12.2 -.2-.3z"/>
<path color="#3e70ff" d="M193.4,1423.9l3.6,5.4 -5.4-8.6 -3.7-5.5z"/>
<path color="#3777fe" d="M189.7,1418.5l3.7,5.4 -5.5-8.7 -3.7-5.4z"/>
<path color="#317dfb" d="M188.8,1417.2l.9,1.3 -5.5-8.7 -3.6-5.4 1.8,2.9z"/>
<path color="#2e84f9" d="M180.6,1404.4l-1.5-2.2 3.3,5.1z"/>
<path color="#484ff2" d="M220.2,1458.5l3.7,4.1 -9.5-12.4z"/>
<path color="#4755f6" d="M215.6,1453.5l4.6,5 -5.8-8.3 -.2-.2 -4.5-5z"/>
<path color="#475cfa" d="M211.2,1448.6l4.4,4.9 -5.9-8.5 -4.6-5.1 5.6,8z"/>
<path color="#4562fc" d="M205.1,1439.9l-3.6-3.9 9.2,11.9z"/>
<path color="#463cdf" d="M243.6,1480.6l2.8,2.1 -9.1-9.6z"/>
<path color="#4742e6" d="M237.7,1476.1l5.9,4.5 -6.3-7.5 -.7-.7 -5.7-4.4z"/>
<path color="#4849ed" d="M233.6,1473l4.1,3.1 -6.8-8.1 -5.9-4.5 2.6,3z"/>
<path color="#484ff2" d="M225,1463.5l-1.1-.9 3.7,3.9z"/>
<path color="#4332c9" d="M266.8,1495.8l2,1 -9.7-8.1 -.7-.3z"/>
<path color="#4536d5" d="M259,1492.1l7.8,3.7 -8.4-7.4 -7.8-3.7z"/>
<path color="#463cdf" d="M256.1,1490.7l2.9,1.4 -8.4-7.4 -4.2-2z"/>
<path color="#412dbc" d="M288.5,1504.7l2.7,.6 -9.7-5.7 -4.5-1z"/>
<path color="#4332c9" d="M278.5,1502.5l10,2.2 -11.5-6.1 -8.2-1.8z"/>
<path color="#3f28af" d="M304.3,1505.6l-.4-.2 -.3,0z"/>
<path color="#412dbc" d="M305.1,1508.8l8.5,.1 -9.3-3.3 -.7-.2 -12.4-.1 4.7,1.6z"/>
<path color="#4332c9" d="M300.9,1508.7l4.2,.1 -9.2-1.9z"/>
<path color="#412dbc" d="M331.6,1508.7l4.4-.7 -9.7-1.1 -12.7,2 6.1,.6z"/>
<path color="#4332c9" d="M323.3,1510l8.3-1.3 -11.9,.8z"/>
<path color="#412dbc" d="M352.1,1504l-3.4,.4 -12.7,3.6 1.4-.2z"/>
<path color="#4332c9" d="M345.7,1506.8l12.7-3.6 -6.3,.8 -14.7,3.8z"/>
<path color="#4332c9" d="M373.3,1497.7l-2.2,.8 -12.7,4.7 1.6-.6z"/>
<path color="#4536d5" d="M379.8,1495.4l-6.5,2.3 -13.3,4.9 6.5-2.4z"/>
<path color="#463cdf" d="M368.1,1499.7l12.7-4.7 -1,.4 -13.3,4.8z"/>
<path color="#463cdf" d="M398.1,1487.1l-4.5,2.7 -12.8,5.2 4.5-2.7z"/>
<path color="#4742e6" d="M390.5,1489.2l12.8-5.2 -5.2,3.1 -12.8,5.2z"/>
<path color="#4742e6" d="M416.1,1478.6l-.1,0 -12.7,5.4 .1-.1z"/>
<path color="#4849ed" d="M420.6,1474.8l-4.5,3.8 -12.7,5.3 4.5-3.8z"/>
<path color="#484ff2" d="M425.1,1471l-4.5,3.8 -12.7,5.3 4.5-3.8z"/>
<path color="#4755f6" d="M413,1475.9l12.7-5.4 -.6,.5 -12.7,5.3z"/>
<path color="#4755f6" d="M441.4,1461.3l-3,3.3 -12.7,5.9 3.4-3.6z"/>
<path color="#475cfa" d="M445.3,1457.1l-3.9,4.2 -12.3,5.6 3.9-4.2z"/>
<path color="#4562fc" d="M435.4,1460.1l12.7-5.9 -2.8,2.9 -12.3,5.6z"/>
<path color="#4562fc" d="M461,1447l-.2,.2 -12.7,7 1-1.4z"/>
<path color="#4369fe" d="M464.4,1442.5l-3.4,4.5 -11.9,5.8 3.5-4.5z"/>
<path color="#3e70ff" d="M467.9,1437.9l-3.5,4.6 -11.8,5.8 3.4-4.5z"/>
<path color="#3777fe" d="M457.8,1441.4l12.7-6.9 -2.6,3.4 -11.9,5.9z"/>
<path color="#3777fe" d="M476.9,1430.2l-6.4,4.3 .7-1.2z"/>
<path color="#317dfb" d="M485.6,1422.3l-2.4,3.6 -6.3,4.3 -5.7,3.1 3.1-4.7z"/>
<path color="#2e84f9" d="M488.7,1417.5l-3.1,4.8 -11.3,6.3 3.1-4.8z"/>
<path color="#2d8af5" d="M480.2,1419.4l2.4-1.6 9.1-5.1 -3,4.8 -11.3,6.3z"/>
<path color="#2c90f0" d="M482.6,1417.8l10.3-6.9 -1.2,1.8z"/>
<path color="#2c90f0" d="M503,1402.4l-10.1,8.5 1.7-3.1z"/>
<path color="#2896ec" d="M508,1396l-2.4,4.2 -2.6,2.2 -8.4,5.4 2.8-5z"/>
<path color="#259be8" d="M510.8,1391l-2.8,5 -10.6,6.8 2.8-5z"/>
<path color="#23a0e5" d="M502.6,1393.5l2.3-1.9 8.7-5.6 -2.8,5 -10.6,6.8z"/>
<path color="#1fa6e2" d="M504.9,1391.6l10.4-8.8 -1.7,3.2z"/>
<path color="#1fa6e2" d="M519.3,1378.6l-4,4.2 1-1.9z"/>
<path color="#1baade" d="M528.6,1368.4l-.6,1 -8.7,9.2 -3,2.3 2.5-5.1z"/>
<path color="#15afd9" d="M531.1,1363.2l-2.5,5.2 -9.8,7.4 2.5-5.2z"/>
<path color="#0cb3d3" d="M533.7,1358.1l-2.6,5.1 -9.8,7.4 2.6-5.2z"/>
<path color="#03b7cc" d="M525,1363.1l6.1-6.3 5.1-3.9 -2.5,5.2 -9.8,7.3z"/>
<path color="#02bac5" d="M531.1,1356.8l6.7-7 -1.6,3.1z"/>
<path color="#02bac5" d="M540.8,1345.8l-3,4 .9-2.1z"/>
<path color="#0abdbd" d="M548.7,1335.5l-7.9,10.3 -2.1,1.9 2.3-5.3z"/>
<path color="#19bfb5" d="M552.3,1329.1l-1.8,4.1 -1.8,2.3 -7.7,6.9 2.4-5.3z"/>
<path color="#25c2ad" d="M554.6,1323.8l-2.3,5.3 -8.9,8 2.3-5.3z"/>
<path color="#2ec4a5" d="M547.5,1327.8l1.9-2.6 7.6-6.7 -2.4,5.3 -8.9,8z"/>
<path color="#34c79c" d="M549.4,1325.2l7.9-10.2 2-1.8 -2.3,5.3z"/>
<path color="#3cc992" d="M557.3,1315l2.9-3.8 -.9,2z"/>
<path color="#02bac5" d="M142.2,1325.7l1.8,5.1 -4.5-9z"/>
<path color="#0abdbd" d="M140.1,1319.7l2.1,6 -2.7-3.9 -5.2-10.6 -.1,0z"/>
<path color="#19bfb5" d="M137.9,1313.6l2.2,6.1 -5.9-8.5 -2.1-6.1z"/>
<path color="#25c2ad" d="M135.8,1307.5l2.1,6.1 -5.8-8.5 -2.1-6.1z"/>
<path color="#2ec4a5" d="M133.7,1301.4l2.1,6.1 -5.8-8.5 -2.1-6.1z"/>
<path color="#34c79c" d="M131.6,1295.3l2.1,6.1 -5.8-8.5 -2.2-6.1z"/>
<path color="#3cc992" d="M131.3,1294.4l.3,.9 -5.9-8.5 -2.1-6.1 3.1,4.5z"/>
<path color="#47cb87" d="M123.6,1280.7l-2-5.8 5.1,10.3z"/>
<path color="#259be8" d="M165.4,1375.8l1,2.3 -2.5-4.5z"/>
<path color="#23a0e5" d="M162.9,1369.9l2.5,5.9 -1.5-2.2 -6.5-11.6z"/>
<path color="#1fa6e2" d="M160.4,1363.9l2.5,6 -5.5-7.9 -.7-1.2 -2.3-5.3z"/>
<path color="#1baade" d="M157.9,1358l2.5,5.9 -6-8.4 -2.5-5.9z"/>
<path color="#15afd9" d="M155.4,1352.1l2.5,5.9 -6-8.4 -2.5-5.9z"/>
<path color="#0cb3d3" d="M153.7,1348.1l1.7,4 -6-8.4 -2.5-6 4.7,6.6z"/>
<path color="#03b7cc" d="M146.9,1337.7l-2.5-5.9 .7,.9 6.5,11.6z"/>
<path color="#02bac5" d="M144.4,1331.8l-.4-1 1.1,1.9z"/>
<path color="#317dfb" d="M186.5,1412.8l2.3,4.4 -6.4-9.9z"/>
<path color="#2e84f9" d="M183.5,1407.1l3,5.7 -4.1-5.5 -3.3-5.1 -1.8-3.4z"/>
<path color="#2d8af5" d="M180.5,1401.4l3,5.7 -6.2-8.3 -3-5.8z"/>
<path color="#2c90f0" d="M177.5,1395.6l3,5.8 -6.2-8.4 -3-5.7z"/>
<path color="#2896ec" d="M176.1,1393l1.4,2.6 -6.2-8.3 -3.1-5.7 3.3,4.4z"/>
<path color="#259be8" d="M168.2,1381.6l-1.8-3.5 5.1,7.9z"/>
<path color="#475cfa" d="M211.1,1448.4l.1,.2 -.5-.7z"/>
<path color="#4562fc" d="M207.4,1442.9l3.7,5.5 -.4-.5 -9.2-11.9 -.8-1.2z"/>
<path color="#4369fe" d="M203.7,1437.5l3.7,5.4 -6.7-8.1 -3.7-5.5z"/>
<path color="#3e70ff" d="M200,1432l3.7,5.5 -6.7-8.2 -3.6-5.4z"/>
<path color="#3777fe" d="M198.5,1429.8l1.5,2.2 -6.6-8.1 -3.7-5.4 1.9,2.3z"/>
<path color="#317dfb" d="M189.7,1418.5l-.9-1.3 2.8,3.6z"/>
<path color="#4849ed" d="M232.2,1471.4l1.4,1.6 -6-6.5z"/>
<path color="#484ff2" d="M227.6,1466.3l4.6,5.1 -4.6-4.9 -3.7-3.9 -3.7-4.1z"/>
<path color="#4755f6" d="M223,1461.3l4.6,5 -7.4-7.8 -4.6-5z"/>
<path color="#475cfa" d="M220.9,1459l2.1,2.3 -7.4-7.8 -4.4-4.9z"/>
<path color="#463cdf" d="M252.3,1487.9l3.8,2.8 -9.7-8 -2.8-2.1z"/>
<path color="#4742e6" d="M246.4,1483.4l5.9,4.5 -8.7-7.3 -5.9-4.5z"/>
<path color="#4849ed" d="M243.3,1481l3.1,2.4 -8.7-7.3 -4.1-3.1z"/>
<path color="#4332c9" d="M277.8,1502.2l.7,.3 -9.7-5.7 -2-1z"/>
<path color="#4536d5" d="M270,1498.5l7.8,3.7 -11-6.4 -7.8-3.7z"/>
<path color="#463cdf" d="M265.8,1496.5l4.2,2 -11-6.4 -2.9-1.4z"/>
<path color="#412dbc" d="M295.9,1506.9l-4.7-1.6 -2.7-.6z"/>
<path color="#4332c9" d="M292.7,1506.9l8.2,1.8 -5-1.8 -7.4-2.2 -10-2.2 1.6,.5z"/>
<path color="#4536d5" d="M288.2,1505.9l4.5,1 -12.6-3.9z"/>
<path color="#412dbc" d="M319.7,1509.5l-6.1-.6 -8.5-.1z"/>
<path color="#4332c9" d="M312,1509.8l11.3,.2 -3.6-.5 -14.6-.7 -4.2-.1 8.7,1z"/>
<path color="#4536d5" d="M310.6,1509.8l1.4,0 -2.4-.1z"/>
<path color="#412dbc" d="M337.4,1507.8l-1.4,.2 -4.4,.7z"/>
<path color="#4332c9" d="M345.6,1506.8l.1,0 -8.3,1 -5.8,.9 -8.3,1.3 5.8-.8z"/>
<path color="#4536d5" d="M333,1508.8l12.6-2 -16.5,2.4z"/>
<path color="#4332c9" d="M360,1502.6l-1.6,.6 -12.7,3.6 .1,0z"/>
<path color="#4536d5" d="M366.5,1500.2l-6.5,2.4 -14.2,4.2 6.5-2.4z"/>
<path color="#463cdf" d="M355.4,1503.3l12.7-3.6 -1.6,.5 -14.2,4.2z"/>
<path color="#463cdf" d="M385.3,1492.3l-4.5,2.7 -12.7,4.7 4.1-2.4z"/>
<path color="#4742e6" d="M387.3,1490.4l3.2-1.2 -5.2,3.1 -13.1,5 5.3-3.2z"/>
<path color="#4849ed" d="M377.8,1493.9l9.5-3.5 -9.8,3.7z"/>
<path color="#4742e6" d="M403.4,1483.9l-.1,.1 -12.8,5.2 .2-.1z"/>
<path color="#4849ed" d="M407.9,1480.1l-4.5,3.8 -12.7,5.2 4.5-3.8z"/>
<path color="#484ff2" d="M412.4,1476.3l-4.5,3.8 -12.7,5.2 4.5-3.7z"/>
<path color="#4755f6" d="M400.3,1481.1l12.7-5.2 -.6,.4 -12.7,5.3z"/>
<path color="#4755f6" d="M429.1,1466.9l-3.4,3.6 -12.7,5.4 3.4-3.7z"/>
<path color="#475cfa" d="M433,1462.7l-3.9,4.2 -12.7,5.3 3.9-4.2z"/>
<path color="#4562fc" d="M422.7,1465.4l12.7-5.3 -2.4,2.6 -12.7,5.3z"/>
<path color="#4562fc" d="M449.1,1452.8l-1,1.4 -12.7,5.9 1.3-1.8z"/>
<path color="#4369fe" d="M452.6,1448.3l-3.5,4.5 -12.4,5.5 3.4-4.5z"/>
<path color="#3e70ff" d="M456,1443.8l-3.4,4.5 -12.5,5.5 3.5-4.5z"/>
<path color="#3777fe" d="M445.1,1447.3l12.7-5.9 -1.8,2.4 -12.4,5.5z"/>
<path color="#3777fe" d="M471.2,1433.3l-.7,1.2 -12.7,6.9 1.5-2.3z"/>
<path color="#317dfb" d="M474.3,1428.6l-3.1,4.7 -11.9,5.8 3.1-4.7z"/>
<path color="#2e84f9" d="M477.4,1423.8l-3.1,4.8 -11.9,5.8 3-4.8z"/>
<path color="#2d8af5" d="M467.5,1426.4l12.7-7 -2.8,4.4 -12,5.8z"/>
<path color="#2d8af5" d="M482.6,1417.8l-2.4,1.6 .3-.4z"/>
<path color="#2c90f0" d="M494.6,1407.8l-1.7,3.1 -10.3,6.9 -2.1,1.2 2.7-5z"/>
<path color="#2896ec" d="M497.4,1402.8l-2.8,5 -11.4,6.2 2.8-5z"/>
<path color="#259be8" d="M500.2,1397.8l-2.8,5 -11.4,6.2 2.8-5z"/>
<path color="#23a0e5" d="M489.9,1402l12.7-8.5 -2.4,4.3 -11.4,6.2z"/>
<path color="#23a0e5" d="M504.9,1391.6l-2.3,1.9 .4-.7z"/>
<path color="#1fa6e2" d="M516.3,1380.9l-1,1.9 -10.4,8.8 -1.9,1.2 2.5-5.2z"/>
<path color="#1baade" d="M518.8,1375.8l-2.5,5.1 -10.8,6.7 2.6-5.2z"/>
<path color="#15afd9" d="M521.3,1370.6l-2.5,5.2 -10.7,6.6 2.5-5.1z"/>
<path color="#0cb3d3" d="M512.3,1373.8l5.4-4.5 6.2-3.9 -2.6,5.2 -10.7,6.7z"/>
<path color="#03b7cc" d="M517.7,1369.3l7.3-6.2 -1.1,2.3z"/>
<path color="#03b7cc" d="M531.1,1356.8l-6.1,6.3 1.3-2.9z"/>
<path color="#02bac5" d="M538.7,1347.7l-.9,2.1 -6.7,7 -4.8,3.4 2.4-5.3z"/>
<path color="#0abdbd" d="M541,1342.4l-2.3,5.3 -10,7.2 2.3-5.3z"/>
<path color="#19bfb5" d="M543.4,1337.1l-2.4,5.3 -10,7.2 2.4-5.3z"/>
<path color="#25c2ad" d="M534.7,1341.1l4.5-4.7 6.5-4.6 -2.3,5.3 -10,7.2z"/>
<path color="#2ec4a5" d="M539.2,1336.4l8.3-8.6 -1.8,4z"/>
<path color="#0cb3d3" d="M153,1346.1l.7,2 -2.1-3.8z"/>
<path color="#03b7cc" d="M150.9,1340l2.1,6.1 -1.4-1.8 -6.5-11.6z"/>
<path color="#02bac5" d="M148.7,1333.9l2.2,6.1 -5.8-7.3 -1.1-1.9 -1.8-5.1z"/>
<path color="#0abdbd" d="M146.6,1327.8l2.1,6.1 -6.5-8.2 -2.1-6z"/>
<path color="#19bfb5" d="M144.5,1321.8l2.1,6 -6.5-8.1 -2.2-6.1z"/>
<path color="#25c2ad" d="M142.4,1315.7l2.1,6.1 -6.6-8.2 -2.1-6.1z"/>
<path color="#2ec4a5" d="M141,1311.7l1.4,4 -6.6-8.2 -2.1-6.1 5,6.3z"/>
<path color="#34c79c" d="M133.7,1301.4l-2.1-6.1 .6,.8 6.5,11.6z"/>
<path color="#3cc992" d="M131.6,1295.3l-.3-.9 .9,1.7z"/>
<path color="#2896ec" d="M174.7,1389.8l1.4,3.2 -4.6-7z"/>
<path color="#259be8" d="M172.2,1383.9l2.5,5.9 -3.2-3.8 -5.1-7.9 -1-2.3z"/>
<path color="#23a0e5" d="M169.7,1378l2.5,5.9 -6.8-8.1 -2.5-5.9z"/>
<path color="#1fa6e2" d="M167.2,1372l2.5,6 -6.8-8.1 -2.5-6z"/>
<path color="#1baade" d="M164.7,1366.1l2.5,5.9 -6.8-8.1 -2.5-5.9z"/>
<path color="#15afd9" d="M163.4,1363.1l1.3,3 -6.8-8.1 -2.5-5.9 3.9,4.7z"/>
<path color="#0cb3d3" d="M155.4,1352.1l-1.7-4 5.6,8.7z"/>
<path color="#3777fe" d="M196.7,1426.4l1.8,3.4 -6.9-9z"/>
<path color="#317dfb" d="M193.7,1420.7l3,5.7 -5.1-5.6 -2.8-3.6 -2.3-4.4z"/>
<path color="#2e84f9" d="M190.7,1415l3,5.7 -7.2-7.9 -3-5.7z"/>
<path color="#2d8af5" d="M187.7,1409.3l3,5.7 -7.2-7.9 -3-5.7z"/>
<path color="#2c90f0" d="M185.8,1405.7l1.9,3.6 -7.2-7.9 -3-5.8 3.9,4.4z"/>
<path color="#2896ec" d="M177.5,1395.6l-1.4-2.6 5.3,7z"/>
<path color="#475cfa" d="M218.9,1456l2,3 -9.7-10.4 -.1-.2z"/>
<path color="#4562fc" d="M215.2,1450.6l3.7,5.4 -7.8-7.6 -3.7-5.5z"/>
<path color="#4369fe" d="M211.6,1445.1l3.6,5.5 -7.8-7.7 -3.7-5.4z"/>
<path color="#3e70ff" d="M208.2,1440.2l3.4,4.9 -7.9-7.6 -3.7-5.5 6.5,6.3z"/>
<path color="#3777fe" d="M200,1432l-1.5-2.2 8,8.5z"/>
<path color="#4849ed" d="M241.2,1478.6l2.1,2.4 -9.7-8 -1.4-1.6z"/>
<path color="#484ff2" d="M236.6,1473.5l4.6,5.1 -9-7.2 -4.6-5.1z"/>
<path color="#4755f6" d="M232,1468.5l4.6,5 -9-7.2 -4.6-5z"/>
<path color="#475cfa" d="M230.6,1467l1.4,1.5 -9-7.2 -2.1-2.3z"/>
<path color="#463cdf" d="M263,1494.4l2.8,2.1 -9.7-5.8 -3.8-2.8z"/>
<path color="#4742e6" d="M257.1,1489.9l5.9,4.5 -10.7-6.5 -5.9-4.5z"/>
<path color="#4849ed" d="M253,1486.7l4.1,3.2 -10.7-6.5 -3.1-2.4z"/>
<path color="#4332c9" d="M280.1,1503l-1.6-.5 -.7-.3z"/>
<path color="#4536d5" d="M283.6,1503.7l4.6,2.2 -8.1-2.9 -2.3-.8 -7.8-3.7z"/>
<path color="#463cdf" d="M275.7,1500l7.9,3.7 -13.6-5.2 -4.2-2 9,3.2z"/>
<path color="#4742e6" d="M275.5,1499.9l.2,.1 -.9-.3z"/>
<path color="#4332c9" d="M309.6,1509.7l-8.7-1 -8.2-1.8z"/>
<path color="#4536d5" d="M300.6,1507.6l10,2.2 -1-.1 -16.9-2.8 -4.5-1 6.8,.8z"/>
<path color="#463cdf" d="M297.9,1507l2.7,.6 -5.6-.9z"/>
<path color="#4332c9" d="M329.1,1509.2l-5.8,.8 -11.3-.2z"/>
<path color="#4536d5" d="M324.3,1508.7l8.7,.1 -3.9,.4 -17.1,.6 -1.4,0 7.7-.9z"/>
<path color="#463cdf" d="M320.3,1508.6l4,.1 -6,.2z"/>
<path color="#4332c9" d="M345.8,1506.8l-.1,0 -.1,0z"/>
<path color="#4536d5" d="M352.3,1504.4l-6.5,2.4 -.2,0 -12.6,2 3.5-1.3z"/>
<path color="#463cdf" d="M342.7,1505.2l12.7-1.9 -3.1,1.1 -15.8,3.1z"/>
<path color="#463cdf" d="M372.2,1497.3l-4.1,2.4 -12.7,3.6 2.8-1.7z"/>
<path color="#4742e6" d="M377.5,1494.1l-5.3,3.2 -14,4.3 5.3-3.2z"/>
<path color="#4849ed" d="M365.1,1497.4l12.7-3.5 -.3,.2 -14,4.3z"/>
<path color="#4742e6" d="M390.7,1489.1l-.2,.1 -3.2,1.2z"/>
<path color="#4849ed" d="M395.2,1485.3l-4.5,3.8 -3.4,1.3 -9.5,3.5 4.2-3.6z"/>
<path color="#484ff2" d="M399.7,1481.6l-4.5,3.7 -13.2,5 4.5-3.7z"/>
<path color="#4755f6" d="M387.5,1485.7l12.8-4.6 -.6,.5 -13.2,5z"/>
<path color="#4755f6" d="M416.4,1472.2l-3.4,3.7 -12.7,5.2 3.3-3.7z"/>
<path color="#475cfa" d="M420.3,1468l-3.9,4.2 -12.8,5.2 3.9-4.2z"/>
<path color="#4562fc" d="M410,1470.6l12.7-5.2 -2.4,2.6 -12.8,5.2z"/>
<path color="#4562fc" d="M436.7,1458.3l-1.3,1.8 -12.7,5.3 1.3-1.8z"/>
<path color="#4369fe" d="M440.1,1453.8l-3.4,4.5 -12.7,5.3 3.5-4.5z"/>
<path color="#3e70ff" d="M443.6,1449.3l-3.5,4.5 -12.6,5.3 3.4-4.5z"/>
<path color="#3777fe" d="M432.4,1452.7l12.7-5.4 -1.5,2 -12.7,5.3z"/>
<path color="#3777fe" d="M459.3,1439.1l-1.5,2.3 -12.7,5.9 1.7-2.7z"/>
<path color="#317dfb" d="M462.4,1434.4l-3.1,4.7 -12.5,5.5 3.1-4.8z"/>
<path color="#2e84f9" d="M465.4,1429.6l-3,4.8 -12.5,5.4 3.1-4.7z"/>
<path color="#2d8af5" d="M454.8,1432.3l12.7-5.9 -2.1,3.2 -12.4,5.5z"/>
<path color="#2d8af5" d="M480.5,1419l-.3,.4 -12.7,7 .9-1.7z"/>
<path color="#2c90f0" d="M483.2,1414l-2.7,5 -12.1,5.7 2.8-5z"/>
<path color="#2896ec" d="M486,1409l-2.8,5 -12,5.7 2.8-5z"/>
<path color="#259be8" d="M488.8,1404l-2.8,5 -12,5.7 2.8-4.9z"/>
<path color="#23a0e5" d="M477.2,1409l12.7-7 -1.1,2 -12,5.8z"/>
<path color="#23a0e5" d="M503,1392.8l-.4,.7 -12.7,8.5 1.6-3.1z"/>
<path color="#1fa6e2" d="M505.5,1387.6l-2.5,5.2 -11.5,6.1 2.5-5.2z"/>
<path color="#1baade" d="M508.1,1382.4l-2.6,5.2 -11.5,6.1 2.6-5.1z"/>
<path color="#15afd9" d="M510.6,1377.3l-2.5,5.1 -11.5,6.2 2.5-5.2z"/>
<path color="#0cb3d3" d="M499.6,1382.4l12.7-8.6 -1.7,3.5 -11.5,6.1z"/>
<path color="#0cb3d3" d="M517.7,1369.3l-5.4,4.5 .8-1.7z"/>
<path color="#03b7cc" d="M526.3,1360.2l-1.3,2.9 -7.3,6.2 -4.6,2.8 2.3-5.3z"/>
<path color="#02bac5" d="M528.7,1354.9l-2.4,5.3 -10.9,6.6 2.4-5.3z"/>
<path color="#0abdbd" d="M531,1349.6l-2.3,5.3 -10.9,6.6 2.3-5.4z"/>
<path color="#19bfb5" d="M522,1351.8l3-2.5 8.4-5 -2.4,5.3 -10.9,6.5z"/>
<path color="#25c2ad" d="M525,1349.3l9.7-8.2 -1.3,3.2z"/>
<path color="#15afd9" d="M162.4,1360.1l1,3 -4.1-6.3z"/>
<path color="#0cb3d3" d="M160.2,1354l2.2,6.1 -3.1-3.3 -5.6-8.7 -.7-2z"/>
<path color="#03b7cc" d="M158.1,1347.9l2.1,6.1 -7.2-7.9 -2.1-6.1z"/>
<path color="#02bac5" d="M156,1341.8l2.1,6.1 -7.2-7.9 -2.2-6.1z"/>
<path color="#0abdbd" d="M153.8,1335.8l2.2,6 -7.3-7.9 -2.1-6.1z"/>
<path color="#19bfb5" d="M151.7,1329.7l2.1,6.1 -7.2-8 -2.1-6z"/>
<path color="#25c2ad" d="M150.7,1326.7l1,3 -7.2-7.9 -2.1-6.1 4,4.4z"/>
<path color="#2ec4a5" d="M142.4,1315.7l-1.4-4 5.4,8.4z"/>
<path color="#2c90f0" d="M184.9,1403.5l.9,2.2 -4.4-5.7z"/>
<path color="#2896ec" d="M182.3,1397.6l2.6,5.9 -3.5-3.5 -5.3-7 -1.4-3.2z"/>
<path color="#259be8" d="M179.8,1391.6l2.5,6 -7.6-7.8 -2.5-5.9z"/>
<path color="#23a0e5" d="M177.3,1385.7l2.5,5.9 -7.6-7.7 -2.5-5.9z"/>
<path color="#1fa6e2" d="M174.8,1379.8l2.5,5.9 -7.6-7.7 -2.5-6z"/>
<path color="#1baade" d="M173.1,1375.7l1.7,4.1 -7.6-7.8 -2.5-5.9 4.7,4.8z"/>
<path color="#15afd9" d="M164.7,1366.1l-1.3-3 6,7.8z"/>
<path color="#3e70ff" d="M207.9,1439.7l.3,.5 -1.7-1.9z"/>
<path color="#3777fe" d="M204.9,1433.9l3,5.8 -1.4-1.4 -8-8.5 -1.8-3.4z"/>
<path color="#317dfb" d="M201.9,1428.2l3,5.7 -8.2-7.5 -3-5.7z"/>
<path color="#2e84f9" d="M198.9,1422.5l3,5.7 -8.2-7.5 -3-5.7z"/>
<path color="#2d8af5" d="M195.9,1416.8l3,5.7 -8.2-7.5 -3-5.7z"/>
<path color="#2c90f0" d="M195.5,1416.1l.4,.7 -8.2-7.5 -1.9-3.6z"/>
<path color="#475cfa" d="M228,1463.2l2.6,3.8 -9.7-8 -2-3z"/>
<path color="#4562fc" d="M224.3,1457.7l3.7,5.5 -9.1-7.2 -3.7-5.4z"/>
<path color="#4369fe" d="M220.7,1452.3l3.6,5.4 -9.1-7.1 -3.6-5.5z"/>
<path color="#3e70ff" d="M217.9,1448.2l2.8,4.1 -9.1-7.2 -3.4-4.9z"/>
<path color="#4849ed" d="M251.6,1485.2l1.4,1.5 -9.7-5.7 -2.1-2.4z"/>
<path color="#484ff2" d="M247,1480.1l4.6,5.1 -10.4-6.6 -4.6-5.1z"/>
<path color="#4755f6" d="M242.4,1475l4.6,5.1 -10.4-6.6 -4.6-5z"/>
<path color="#475cfa" d="M240.3,1472.7l2.1,2.3 -10.4-6.5 -1.4-1.5z"/>
<path color="#463cdf" d="M274.8,1499.7l-9-3.2 -2.8-2.1z"/>
<path color="#4742e6" d="M269.8,1495.5l5.7,4.4 -.7-.2 -11.8-5.3 -5.9-4.5z"/>
<path color="#4849ed" d="M263.9,1491l5.9,4.5 -12.7-5.6 -4.1-3.2 6.1,2.2z"/>
<path color="#484ff2" d="M262.8,1490.2l1.1,.8 -4.8-2.1z"/>
<path color="#4536d5" d="M295,1506.7l-6.8-.8 -4.6-2.2z"/>
<path color="#463cdf" d="M291.9,1504.2l6,2.8 -2.9-.3 -11.4-3 -7.9-3.7z"/>
<path color="#4742e6" d="M285.2,1501l6.7,3.2 -16.2-4.2 -.2-.1z"/>
<path color="#4536d5" d="M318.3,1508.9l-7.7,.9 -10-2.2z"/>
<path color="#463cdf" d="M312,1506.8l8.3,1.8 -2,.3 -17.7-1.3 -2.7-.6 6.3-.8z"/>
<path color="#4742e6" d="M307.6,1505.8l4.4,1 -7.8-.6z"/>
<path color="#4536d5" d="M336.5,1507.5l-3.5,1.3 -8.7-.1z"/>
<path color="#463cdf" d="M342,1505.2l.7,0 -6.2,2.3 -12.2,1.2 -4-.1 4.9-1.8z"/>
<path color="#4742e6" d="M330,1505.1l12,.1 -16.8,1.6z"/>
<path color="#463cdf" d="M358.2,1501.6l-2.8,1.7 -12.7,1.9 .2-.1z"/>
<path color="#4742e6" d="M363.5,1498.4l-5.3,3.2 -15.3,3.5 5.4-3.2z"/>
<path color="#4849ed" d="M352.4,1499.4l12.7-2 -1.6,1 -15.2,3.5z"/>
<path color="#4849ed" d="M382,1490.3l-4.2,3.6 -12.7,3.5 3.1-2.6z"/>
<path color="#484ff2" d="M386.5,1486.6l-4.5,3.7 -13.8,4.5 4.5-3.7z"/>
<path color="#4755f6" d="M374.8,1489.3l12.7-3.6 -1,.9 -13.8,4.5z"/>
<path color="#4755f6" d="M403.6,1477.4l-3.3,3.7 -12.8,4.6 3.1-3.3z"/>
<path color="#475cfa" d="M407.5,1473.2l-3.9,4.2 -13,5 3.9-4.2z"/>
<path color="#4562fc" d="M397.2,1475.3l12.8-4.7 -2.5,2.6 -13,5z"/>
<path color="#4562fc" d="M424,1463.6l-1.3,1.8 -12.7,5.2 1.3-1.7z"/>
<path color="#4369fe" d="M427.5,1459.1l-3.5,4.5 -12.7,5.3 3.4-4.5z"/>
<path color="#3e70ff" d="M430.9,1454.6l-3.4,4.5 -12.8,5.3 3.5-4.6z"/>
<path color="#3777fe" d="M419.7,1457.9l12.7-5.2 -1.5,1.9 -12.7,5.2z"/>
<path color="#3777fe" d="M446.8,1444.6l-1.7,2.7 -12.7,5.4 1.8-2.8z"/>
<path color="#317dfb" d="M449.9,1439.8l-3.1,4.8 -12.6,5.3 3-4.8z"/>
<path color="#2e84f9" d="M453,1435.1l-3.1,4.7 -12.7,5.3 3.1-4.7z"/>
<path color="#2d8af5" d="M442.1,1437.6l12.7-5.3 -1.8,2.8 -12.7,5.3z"/>
<path color="#2d8af5" d="M468.4,1424.7l-.9,1.7 -12.7,5.9 1.2-2.1z"/>
<path color="#2c90f0" d="M471.2,1419.7l-2.8,5 -12.4,5.5 2.7-5z"/>
<path color="#2896ec" d="M474,1414.7l-2.8,5 -12.5,5.5 2.8-5z"/>
<path color="#259be8" d="M476.8,1409.8l-2.8,4.9 -12.5,5.5 2.8-5z"/>
<path color="#23a0e5" d="M464.5,1414.9l12.7-5.9 -.4,.8 -12.5,5.4z"/>
<path color="#23a0e5" d="M491.5,1398.9l-1.6,3.1 -12.7,7 2.2-4.4z"/>
<path color="#1fa6e2" d="M494,1393.7l-2.5,5.2 -12.1,5.7 2.5-5.1z"/>
<path color="#1baade" d="M496.6,1388.6l-2.6,5.1 -12.1,5.8 2.6-5.2z"/>
<path color="#15afd9" d="M486.9,1389.3l2.1-1.1 10.1-4.8 -2.5,5.2 -12.1,5.7z"/>
<path color="#0cb3d3" d="M489,1388.2l10.6-5.8 -.5,1z"/>
<path color="#0cb3d3" d="M513.1,1372.1l-.8,1.7 -12.7,8.6 1.9-4.3z"/>
<path color="#03b7cc" d="M515.4,1366.8l-2.3,5.3 -11.6,6 2.3-5.3z"/>
<path color="#02bac5" d="M517.8,1361.5l-2.4,5.3 -11.6,6 2.4-5.3z"/>
<path color="#0abdbd" d="M520.1,1356.1l-2.3,5.4 -11.6,6 2.3-5.3z"/>
<path color="#19bfb5" d="M509.3,1360.4l12.7-8.6 -1.9,4.3 -11.6,6.1z"/>
<path color="#1baade" d="M172.4,1373.8l.7,1.9 -3.7-4.8z"/>
<path color="#15afd9" d="M170.3,1367.7l2.1,6.1 -3-2.9 -6-7.8 -1-3z"/>
<path color="#0cb3d3" d="M168.2,1361.6l2.1,6.1 -7.9-7.6 -2.2-6.1z"/>
<path color="#03b7cc" d="M166,1355.5l2.2,6.1 -8-7.6 -2.1-6.1z"/>
<path color="#02bac5" d="M163.9,1349.5l2.1,6 -7.9-7.6 -2.1-6.1z"/>
<path color="#0abdbd" d="M161.8,1343.4l2.1,6.1 -7.9-7.7 -2.2-6z"/>
<path color="#19bfb5" d="M160.4,1339.3l1.4,4.1 -8-7.6 -2.1-6.1 4.7,4.5z"/>
<path color="#25c2ad" d="M151.7,1329.7l-1-3 5.7,7.5z"/>
<path color="#2c90f0" d="M193.3,1410.9l2.2,5.2 -9.7-10.4 -.9-2.2z"/>
<path color="#2896ec" d="M190.8,1405l2.5,5.9 -8.4-7.4 -2.6-5.9z"/>
<path color="#259be8" d="M188.3,1399l2.5,6 -8.5-7.4 -2.5-6z"/>
<path color="#23a0e5" d="M185.8,1393.1l2.5,5.9 -8.5-7.4 -2.5-5.9z"/>
<path color="#1fa6e2" d="M183.3,1387.2l2.5,5.9 -8.5-7.4 -2.5-5.9z"/>
<path color="#1baade" d="M182.8,1386.1l.5,1.1 -8.5-7.4 -1.7-4.1z"/>
<path color="#3e70ff" d="M217.2,1446.8l.7,1.4 -9.7-8 -.3-.5z"/>
<path color="#3777fe" d="M214.1,1441l3.1,5.8 -9.3-7.1 -3-5.8z"/>
<path color="#317dfb" d="M211.1,1435.3l3,5.7 -9.2-7.1 -3-5.7z"/>
<path color="#2e84f9" d="M208.1,1429.6l3,5.7 -9.2-7.1 -3-5.7z"/>
<path color="#2d8af5" d="M205.2,1424.1l2.9,5.5 -9.2-7.1 -3-5.7 7.1,5.5z"/>
<path color="#2c90f0" d="M195.9,1416.8l-.4-.7 7.5,6.2z"/>
<path color="#475cfa" d="M238.3,1469.8l2,2.9 -9.7-5.7 -2.6-3.8z"/>
<path color="#4562fc" d="M234.7,1464.3l3.6,5.5 -10.3-6.6 -3.7-5.5z"/>
<path color="#4369fe" d="M231,1458.9l3.7,5.4 -10.4-6.6 -3.6-5.4z"/>
<path color="#3e70ff" d="M227.6,1453.9l3.4,5 -10.3-6.6 -2.8-4.1z"/>
<path color="#4849ed" d="M259.1,1488.9l-6.1-2.2 -1.4-1.5z"/>
<path color="#484ff2" d="M259,1486l3.8,4.2 -3.7-1.3 -7.5-3.7 -4.6-5.1z"/>
<path color="#4755f6" d="M254.4,1481l4.6,5 -12-5.9 -4.6-5.1z"/>
<path color="#475cfa" d="M250,1476.2l4.4,4.8 -12-6 -2.1-2.3z"/>
<path color="#4742e6" d="M284.4,1500.4l.8,.6 -9.7-1.1 -5.7-4.4z"/>
<path color="#4849ed" d="M278.5,1495.9l5.9,4.5 -14.6-4.9 -5.9-4.5z"/>
<path color="#484ff2" d="M272.6,1491.3l5.9,4.6 -14.6-4.9 -1.1-.8 9.5,1z"/>
<path color="#4755f6" d="M272.5,1491.3l.1,0 -.3-.1z"/>
<path color="#463cdf" d="M304.2,1506.2l-6.3,.8 -6-2.8z"/>
<path color="#4742e6" d="M302.9,1503.6l4.7,2.2 -3.4,.4 -12.3-2 -6.7-3.2 1.1-.1z"/>
<path color="#4849ed" d="M295,1499.9l7.9,3.7 -16.6-2.7 8.4-1.1z"/>
<path color="#484ff2" d="M294.9,1499.8l.1,.1 -.3-.1z"/>
<path color="#463cdf" d="M325.2,1506.8l-4.9,1.8 -8.3-1.8z"/>
<path color="#4742e6" d="M327.1,1504.5l2.9,.6 -4.8,1.7 -13.2,0 -4.4-1 3.9-1.4z"/>
<path color="#4849ed" d="M317.3,1502.3l9.8,2.2 -15.6-.1z"/>
<path color="#463cdf" d="M342.9,1505.1l-.2,.1 -.7,0z"/>
<path color="#4742e6" d="M348.3,1501.9l-5.4,3.2 -.9,.1 -12-.1 1.4-.8z"/>
<path color="#4849ed" d="M348.8,1499.4l3.6,0 -4.1,2.5 -16.9,2.4 5.3-3.2z"/>
<path color="#484ff2" d="M339.7,1499.3l9.1,.1 -12.1,1.7z"/>
<path color="#4849ed" d="M368.2,1494.8l-3.1,2.6 -12.7,2 1-.8z"/>
<path color="#484ff2" d="M372.7,1491.1l-4.5,3.7 -14.8,3.8 4.5-3.8z"/>
<path color="#4755f6" d="M362.1,1491.3l12.7-2 -2.1,1.8 -14.8,3.7z"/>
<path color="#4755f6" d="M390.6,1482.4l-3.1,3.3 -12.7,3.6 2.1-2.2z"/>
<path color="#475cfa" d="M394.5,1478.2l-3.9,4.2 -13.7,4.7 3.9-4.3z"/>
<path color="#4562fc" d="M384.5,1478.9l12.7-3.6 -2.7,2.9 -13.7,4.6z"/>
<path color="#4562fc" d="M411.3,1468.9l-1.3,1.7 -12.8,4.7 1.1-1.4z"/>
<path color="#4369fe" d="M414.7,1464.4l-3.4,4.5 -13,5 3.4-4.5z"/>
<path color="#3e70ff" d="M418.2,1459.8l-3.5,4.6 -13,5 3.4-4.5z"/>
<path color="#3777fe" d="M406.9,1462.5l12.8-4.6 -1.5,1.9 -13.1,5.1z"/>
<path color="#3777fe" d="M434.2,1449.9l-1.8,2.8 -12.7,5.2 1.7-2.7z"/>
<path color="#317dfb" d="M437.2,1445.1l-3,4.8 -12.8,5.3 3.1-4.8z"/>
<path color="#2e84f9" d="M440.3,1440.4l-3.1,4.7 -12.7,5.3 3.1-4.8z"/>
<path color="#2d8af5" d="M429.4,1442.8l12.7-5.2 -1.8,2.8 -12.7,5.2z"/>
<path color="#2d8af5" d="M456,1430.2l-1.2,2.1 -12.7,5.3 1.2-2.1z"/>
<path color="#2c90f0" d="M458.7,1425.2l-2.7,5 -12.7,5.3 2.8-5z"/>
<path color="#2896ec" d="M461.5,1420.2l-2.8,5 -12.6,5.3 2.8-5z"/>
<path color="#259be8" d="M464.3,1415.2l-2.8,5 -12.6,5.3 2.7-5z"/>
<path color="#23a0e5" d="M451.8,1420.3l12.7-5.4 -.2,.3 -12.7,5.3z"/>
<path color="#23a0e5" d="M479.4,1404.6l-2.2,4.4 -12.7,5.9 2.4-4.8z"/>
<path color="#1fa6e2" d="M481.9,1399.5l-2.5,5.1 -12.5,5.5 2.5-5.2z"/>
<path color="#1baade" d="M484.5,1394.3l-2.6,5.2 -12.5,5.4 2.6-5.2z"/>
<path color="#15afd9" d="M474.2,1395.2l12.7-5.9 -2.4,5 -12.5,5.4z"/>
<path color="#15afd9" d="M489,1388.2l-2.1,1.1 .1-.2z"/>
<path color="#0cb3d3" d="M501.5,1378.1l-1.9,4.3 -10.6,5.8 -2,.9 2.3-5.3z"/>
<path color="#03b7cc" d="M503.8,1372.8l-2.3,5.3 -12.2,5.7 2.4-5.3z"/>
<path color="#02bac5" d="M506.2,1367.5l-2.4,5.3 -12.1,5.7 2.3-5.3z"/>
<path color="#0abdbd" d="M508.5,1362.2l-2.3,5.3 -12.2,5.7 2.4-5.3z"/>
<path color="#19bfb5" d="M496.6,1367.3l12.7-6.9 -.8,1.8 -12.1,5.7z"/>
<path color="#1baade" d="M181.1,1381.1l1.7,5 -9.7-10.4 -.7-1.9z"/>
<path color="#15afd9" d="M178.9,1375l2.2,6.1 -8.7-7.3 -2.1-6.1z"/>
<path color="#0cb3d3" d="M176.8,1368.9l2.1,6.1 -8.6-7.3 -2.1-6.1z"/>
<path color="#03b7cc" d="M174.7,1362.9l2.1,6 -8.6-7.3 -2.2-6.1z"/>
<path color="#02bac5" d="M172.6,1356.8l2.1,6.1 -8.7-7.4 -2.1-6z"/>
<path color="#0abdbd" d="M170.4,1350.7l2.2,6.1 -8.7-7.3 -2.1-6.1z"/>
<path color="#19bfb5" d="M170.1,1349.7l.3,1 -8.6-7.3 -1.4-4.1z"/>
<path color="#2d8af5" d="M205.1,1423.9l.1,.2 -2.2-1.8z"/>
<path color="#2c90f0" d="M202.6,1417.9l2.5,6 -2.1-1.6 -7.5-6.2 -2.2-5.2z"/>
<path color="#2896ec" d="M200.1,1412l2.5,5.9 -9.3-7 -2.5-5.9z"/>
<path color="#259be8" d="M197.6,1406.1l2.5,5.9 -9.3-7 -2.5-6z"/>
<path color="#23a0e5" d="M195.1,1400.2l2.5,5.9 -9.3-7.1 -2.5-5.9z"/>
<path color="#1fa6e2" d="M192.6,1394.2l2.5,6 -9.3-7.1 -2.5-5.9z"/>
<path color="#1baade" d="M192.5,1394.1l.1,.1 -9.3-7 -.5-1.1z"/>
<path color="#3e70ff" d="M227.4,1453.4l.2,.5 -9.7-5.7 -.7-1.4z"/>
<path color="#3777fe" d="M224.3,1447.7l3.1,5.7 -10.2-6.6 -3.1-5.8z"/>
<path color="#317dfb" d="M221.3,1442l3,5.7 -10.2-6.7 -3-5.7z"/>
<path color="#2e84f9" d="M218.3,1436.3l3,5.7 -10.2-6.7 -3-5.7z"/>
<path color="#2d8af5" d="M215.3,1430.6l3,5.7 -10.2-6.7 -2.9-5.5 2.2,1.3z"/>
<path color="#2c90f0" d="M214.9,1429.8l.4,.8 -7.9-5.2z"/>
<path color="#475cfa" d="M249.9,1475.9l.1,.3 -9.7-3.5 -2-2.9z"/>
<path color="#4562fc" d="M246.2,1470.5l3.7,5.4 -11.6-6.1 -3.6-5.5z"/>
<path color="#4369fe" d="M242.5,1465l3.7,5.5 -11.5-6.2 -3.7-5.4z"/>
<path color="#3e70ff" d="M238.8,1459.6l3.7,5.4 -11.5-6.1 -3.4-5 1.8,.7z"/>
<path color="#3777fe" d="M237.3,1457.4l1.5,2.2 -9.4-5z"/>
<path color="#484ff2" d="M272.3,1491.2l-9.5-1 -3.8-4.2z"/>
<path color="#4755f6" d="M267.9,1486.3l4.6,5 -.2-.1 -13.3-5.2 -4.6-5z"/>
<path color="#475cfa" d="M263.3,1481.2l4.6,5.1 -13.5-5.3 -4.4-4.8 .6,0z"/>
<path color="#4562fc" d="M259.7,1477.3l3.6,3.9 -12.7-5z"/>
<path color="#4742e6" d="M286.3,1500.9l-1.1,.1 -.8-.6z"/>
<path color="#4849ed" d="M294.7,1499.8l-8.4,1.1 -1.9-.5 -5.9-4.5z"/>
<path color="#484ff2" d="M289.1,1495.4l5.8,4.4 -.2,0 -16.2-3.9 -5.9-4.6z"/>
<path color="#4755f6" d="M283.2,1490.9l5.9,4.5 -16.5-4.1 -.1,0 8.2-1.1z"/>
<path color="#475cfa" d="M282.2,1490.1l1,.8 -2.5-.7z"/>
<path color="#4742e6" d="M311.5,1504.4l-3.9,1.4 -4.7-2.2z"/>
<path color="#4849ed" d="M316.5,1501.9l.8,.4 -5.8,2.1 -8.6-.8 -7.9-3.7z"/>
<path color="#484ff2" d="M308.6,1498.2l7.9,3.7 -21.5-2 -.1-.1 6.3-2.3z"/>
<path color="#4755f6" d="M304.6,1496.3l4,1.9 -7.4-.7z"/>
<path color="#4742e6" d="M331.4,1504.3l-1.4,.8 -2.9-.6z"/>
<path color="#4849ed" d="M336.7,1501.1l-5.3,3.2 -4.3,.2 -9.8-2.2 .5-.3z"/>
<path color="#484ff2" d="M334.9,1498.2l4.8,1.1 -3,1.8 -18.9,.9 5.4-3.2z"/>
<path color="#4755f6" d="M327,1496.5l7.9,1.7 -11.7,.6z"/>
<path color="#4849ed" d="M353.4,1498.6l-1,.8 -3.6,0z"/>
<path color="#484ff2" d="M357.9,1494.8l-4.5,3.8 -4.6,.8 -9.1-.1 2-1.7z"/>
<path color="#4755f6" d="M361,1491.3l1.1,0 -4.2,3.5 -16.2,2.8 4.5-3.8z"/>
<path color="#475cfa" d="M349.4,1491.2l11.6,.1 -14.8,2.5z"/>
<path color="#4755f6" d="M376.9,1487.1l-2.1,2.2 -12.7,2 .3-.3z"/>
<path color="#475cfa" d="M380.8,1482.8l-3.9,4.3 -14.5,3.9 3.9-4.2z"/>
<path color="#4562fc" d="M383.1,1479.1l1.4-.2 -3.7,3.9 -14.5,4 3.9-4.2z"/>
<path color="#4369fe" d="M371.8,1480.9l11.3-1.8 -12.9,3.5z"/>
<path color="#4562fc" d="M398.3,1473.9l-1.1,1.4 -12.7,3.6 .2-.3z"/>
<path color="#4369fe" d="M401.7,1469.4l-3.4,4.5 -13.6,4.7 3.5-4.5z"/>
<path color="#3e70ff" d="M405.1,1464.9l-3.4,4.5 -13.5,4.7 3.4-4.5z"/>
<path color="#3777fe" d="M394.2,1466.1l12.7-3.6 -1.8,2.4 -13.5,4.7z"/>
<path color="#3777fe" d="M421.4,1455.2l-1.7,2.7 -12.8,4.6 1.5-2.3z"/>
<path color="#317dfb" d="M424.5,1450.4l-3.1,4.8 -13,5 3.1-4.7z"/>
<path color="#2e84f9" d="M427.6,1445.6l-3.1,4.8 -13,5.1 3.1-4.8z"/>
<path color="#2d8af5" d="M416.7,1447.5l12.7-4.7 -1.8,2.8 -13,5.1z"/>
<path color="#2d8af5" d="M443.3,1435.5l-1.2,2.1 -12.7,5.2 1.1-2.1z"/>
<path color="#2c90f0" d="M446.1,1430.5l-2.8,5 -12.8,5.2 2.8-5z"/>
<path color="#2896ec" d="M448.9,1425.5l-2.8,5 -12.8,5.2 2.8-5z"/>
<path color="#259be8" d="M451.6,1420.5l-2.7,5 -12.8,5.2 2.8-4.9z"/>
<path color="#23a0e5" d="M439.1,1425.5l12.7-5.2 -.2,.2 -12.7,5.3z"/>
<path color="#23a0e5" d="M466.9,1410.1l-2.4,4.8 -12.7,5.4 2.4-5z"/>
<path color="#1fa6e2" d="M469.4,1404.9l-2.5,5.2 -12.7,5.2 2.6-5.1z"/>
<path color="#1baade" d="M472,1399.7l-2.6,5.2 -12.6,5.3 2.5-5.2z"/>
<path color="#15afd9" d="M461.5,1400.6l12.7-5.4 -2.2,4.5 -12.7,5.3z"/>
<path color="#15afd9" d="M487,1389.1l-.1,.2 -12.7,5.9 .3-.7z"/>
<path color="#0cb3d3" d="M489.3,1383.8l-2.3,5.3 -12.5,5.4 2.3-5.3z"/>
<path color="#03b7cc" d="M491.7,1378.5l-2.4,5.3 -12.5,5.4 2.4-5.3z"/>
<path color="#02bac5" d="M494,1373.2l-2.3,5.3 -12.5,5.4 2.3-5.3z"/>
<path color="#0abdbd" d="M496.4,1367.9l-2.4,5.3 -12.5,5.4 2.4-5.3z"/>
<path color="#19bfb5" d="M483.9,1373.2l12.7-5.9 -.2,.6 -12.5,5.4z"/>
<path color="#1baade" d="M190.4,1388.2l2.1,5.9 -9.7-8 -1.7-5z"/>
<path color="#15afd9" d="M188.3,1382.1l2.1,6.1 -9.3-7.1 -2.2-6.1z"/>
<path color="#0cb3d3" d="M186.2,1376l2.1,6.1 -9.4-7.1 -2.1-6.1z"/>
<path color="#03b7cc" d="M184,1369.9l2.2,6.1 -9.4-7.1 -2.1-6z"/>
<path color="#02bac5" d="M181.9,1363.8l2.1,6.1 -9.3-7 -2.1-6.1z"/>
<path color="#0abdbd" d="M179.8,1357.7l2.1,6.1 -9.3-7 -2.2-6.1z"/>
<path color="#19bfb5" d="M179.8,1357.7l-9.4-7 -.3-1z"/>
<path color="#2d8af5" d="M207.4,1425.4l-2.2-1.3 -.1-.2z"/>
<path color="#2c90f0" d="M212.7,1424.7l2.2,5.1 -7.5-4.4 -2.3-1.5 -2.5-6z"/>
<path color="#2896ec" d="M210.2,1418.7l2.5,6 -10.1-6.8 -2.5-5.9z"/>
<path color="#259be8" d="M207.7,1412.8l2.5,5.9 -10.1-6.7 -2.5-5.9z"/>
<path color="#23a0e5" d="M205.2,1406.9l2.5,5.9 -10.1-6.7 -2.5-5.9z"/>
<path color="#1fa6e2" d="M202.7,1400.9l2.5,6 -10.1-6.7 -2.5-6z"/>
<path color="#1baade" d="M202.2,1399.8l.5,1.1 -10.1-6.7 -.1-.1z"/>
<path color="#3e70ff" d="M229.4,1454.6l-1.8-.7 -.2-.5z"/>
<path color="#3777fe" d="M235.5,1454l1.8,3.4 -7.9-2.8 -2-1.2 -3.1-5.7z"/>
<path color="#317dfb" d="M232.5,1448.3l3,5.7 -11.2-6.3 -3-5.7z"/>
<path color="#2e84f9" d="M229.5,1442.5l3,5.8 -11.2-6.3 -3-5.7z"/>
<path color="#2d8af5" d="M226.5,1436.8l3,5.7 -11.2-6.2 -3-5.7z"/>
<path color="#2c90f0" d="M224.6,1433.2l1.9,3.6 -11.2-6.2 -.4-.8z"/>
<path color="#475cfa" d="M250.6,1476.2l-.6,0 -.1-.3z"/>
<path color="#4562fc" d="M258.9,1476.1l.8,1.2 -9.1-1.1 -.7-.3 -3.7-5.4z"/>
<path color="#4369fe" d="M255.3,1470.6l3.6,5.5 -12.7-5.6 -3.7-5.5z"/>
<path color="#3e70ff" d="M251.6,1465.2l3.7,5.4 -12.8-5.6 -3.7-5.4z"/>
<path color="#3777fe" d="M247.9,1459.8l3.7,5.4 -12.8-5.6 -1.5-2.2 7,.8z"/>
<path color="#317dfb" d="M247,1458.5l.9,1.3 -3.6-1.6z"/>
<path color="#4755f6" d="M280.7,1490.2l-8.2,1.1 -4.6-5z"/>
<path color="#475cfa" d="M278.4,1485.9l3.8,4.2 -1.5,.1 -12.8-3.9 -4.6-5.1z"/>
<path color="#4562fc" d="M273.8,1480.8l4.6,5.1 -15.1-4.7 -3.6-3.9 1.9-.3z"/>
<path color="#4369fe" d="M269.4,1476.1l4.4,4.7 -12.2-3.8z"/>
<path color="#484ff2" d="M301.2,1497.5l-6.3,2.3 -5.8-4.4z"/>
<path color="#4755f6" d="M301.7,1494.1l2.9,2.2 -3.4,1.2 -12.1-2.1 -5.9-4.5z"/>
<path color="#475cfa" d="M295.8,1489.6l5.9,4.5 -18.5-3.2 -1-.8 5.3-2z"/>
<path color="#4562fc" d="M291.9,1486.6l3.9,3 -8.3-1.5z"/>
<path color="#4849ed" d="M317.8,1502l-.5,.3 -.8-.4z"/>
<path color="#484ff2" d="M323.2,1498.8l-5.4,3.2 -1.3-.1 -7.9-3.7z"/>
<path color="#4755f6" d="M324.8,1495.4l2.2,1.1 -3.8,2.3 -14.6-.6 -4-1.9 2.6-1.6z"/>
<path color="#475cfa" d="M316.9,1491.7l7.9,3.7 -17.6-.7 5.3-3.2z"/>
<path color="#4562fc" d="M314.3,1490.5l2.6,1.2 -4.4-.2z"/>
<path color="#484ff2" d="M341.7,1497.6l-2,1.7 -4.8-1.1z"/>
<path color="#4755f6" d="M346.2,1493.8l-4.5,3.8 -6.8,.6 -7.9-1.7 1.3-1.1z"/>
<path color="#475cfa" d="M346.2,1490.5l3.2,.7 -3.2,2.6 -17.9,1.6 4.5-3.8z"/>
<path color="#4562fc" d="M336.7,1488.3l9.5,2.2 -13.4,1.1z"/>
<path color="#4755f6" d="M362.4,1491l-.3,.3 -1.1,0z"/>
<path color="#475cfa" d="M366.3,1486.8l-3.9,4.2 -1.4,.3 -11.6-.1 1.1-1.3z"/>
<path color="#4562fc" d="M370.2,1482.6l-3.9,4.2 -15.8,3.1 3.9-4.2z"/>
<path color="#4369fe" d="M362.3,1480.8l9.5,.1 -1.6,1.7 -15.8,3.1 3.9-4.2z"/>
<path color="#3e70ff" d="M359.1,1480.7l3.2,.1 -4,.7z"/>
<path color="#4562fc" d="M384.7,1478.6l-.2,.3 -1.4,.2z"/>
<path color="#4369fe" d="M388.2,1474.1l-3.5,4.5 -1.6,.5 -11.3,1.8 2-2.7z"/>
<path color="#3e70ff" d="M391.6,1469.6l-3.4,4.5 -14.4,4.1 3.5-4.5z"/>
<path color="#3777fe" d="M387.9,1467.1l6.3-1 -2.6,3.5 -14.3,4.1 3.4-4.5z"/>
<path color="#317dfb" d="M381.5,1468.1l6.4-1 -7.2,2.1z"/>
<path color="#3777fe" d="M408.4,1460.2l-1.5,2.3 -12.7,3.6 .8-1.1z"/>
<path color="#317dfb" d="M411.5,1455.5l-3.1,4.7 -13.4,4.8 3-4.8z"/>
<path color="#2e84f9" d="M414.6,1450.7l-3.1,4.8 -13.5,4.7 3.1-4.8z"/>
<path color="#2d8af5" d="M403.9,1451.1l12.8-3.6 -2.1,3.2 -13.5,4.7z"/>
<path color="#2d8af5" d="M430.5,1440.7l-1.1,2.1 -12.7,4.7 .9-1.7z"/>
<path color="#2c90f0" d="M433.3,1435.7l-2.8,5 -12.9,5.1 2.8-5z"/>
<path color="#2896ec" d="M436.1,1430.7l-2.8,5 -12.9,5.1 2.7-5z"/>
<path color="#259be8" d="M438.9,1425.8l-2.8,4.9 -13,5.1 2.8-4.9z"/>
<path color="#23a0e5" d="M426.4,1430.1l12.7-4.6 -.2,.3 -13,5.1z"/>
<path color="#23a0e5" d="M454.2,1415.3l-2.4,5 -12.7,5.2 2.4-4.9z"/>
<path color="#1fa6e2" d="M456.8,1410.2l-2.6,5.1 -12.7,5.3 2.5-5.2z"/>
<path color="#1baade" d="M459.3,1405l-2.5,5.2 -12.8,5.2 2.6-5.1z"/>
<path color="#15afd9" d="M448.8,1405.8l12.7-5.2 -2.2,4.4 -12.7,5.3z"/>
<path color="#15afd9" d="M474.5,1394.5l-.3,.7 -12.7,5.4 .3-.8z"/>
<path color="#0cb3d3" d="M476.8,1389.2l-2.3,5.3 -12.7,5.3 2.4-5.3z"/>
<path color="#03b7cc" d="M479.2,1383.9l-2.4,5.3 -12.6,5.3 2.3-5.3z"/>
<path color="#02bac5" d="M481.5,1378.6l-2.3,5.3 -12.7,5.3 2.3-5.3z"/>
<path color="#0abdbd" d="M471.2,1378.6l12.7-5.3 -2.4,5.3 -12.7,5.3z"/>
<path color="#19bfb5" d="M471.2,1378.6l12.7-5.4 0,.1z"/>
<path color="#1baade" d="M200.5,1394.9l1.7,4.9 -9.7-5.7 -2.1-5.9z"/>
<path color="#15afd9" d="M198.3,1388.8l2.2,6.1 -10.1-6.7 -2.1-6.1z"/>
<path color="#0cb3d3" d="M196.2,1382.7l2.1,6.1 -10-6.7 -2.1-6.1z"/>
<path color="#03b7cc" d="M194.1,1376.6l2.1,6.1 -10-6.7 -2.2-6.1z"/>
<path color="#02bac5" d="M192,1370.5l2.1,6.1 -10.1-6.7 -2.1-6.1z"/>
<path color="#0abdbd" d="M189.8,1364.5l2.2,6 -10.1-6.7 -2.1-6.1z"/>
<path color="#19bfb5" d="M189.5,1363.4l.3,1.1 -10-6.8z"/>
<path color="#2c90f0" d="M223.7,1431l.9,2.2 -9.7-3.4 -2.2-5.1z"/>
<path color="#2896ec" d="M221.2,1425.1l2.5,5.9 -11-6.3 -2.5-6z"/>
<path color="#259be8" d="M218.7,1419.2l2.5,5.9 -11-6.4 -2.5-5.9z"/>
<path color="#23a0e5" d="M216.1,1413.2l2.6,6 -11-6.4 -2.5-5.9z"/>
<path color="#1fa6e2" d="M213.6,1407.3l2.5,5.9 -10.9-6.3 -2.5-6z"/>
<path color="#1baade" d="M211.9,1403.2l1.7,4.1 -10.9-6.4 -.5-1.1z"/>
<path color="#3777fe" d="M244.3,1458.2l-7-.8 -1.8-3.4z"/>
<path color="#317dfb" d="M244.7,1454.1l2.3,4.4 -2.7-.3 -8.8-4.2 -3-5.7z"/>
<path color="#2e84f9" d="M241.7,1448.4l3,5.7 -12.2-5.8 -3-5.8z"/>
<path color="#2d8af5" d="M238.7,1442.7l3,5.7 -12.2-5.9 -3-5.7z"/>
<path color="#2c90f0" d="M235.7,1436.9l3,5.8 -12.2-5.9 -1.9-3.6 4.4,.5z"/>
<path color="#2896ec" d="M234.3,1434.3l1.4,2.6 -6.7-3.2z"/>
<path color="#4562fc" d="M261.6,1477l-1.9,.3 -.8-1.2z"/>
<path color="#4369fe" d="M269.2,1475.7l.2,.4 -7.8,.9 -2.7-.9 -3.6-5.5z"/>
<path color="#3e70ff" d="M265.6,1470.3l3.6,5.4 -13.9-5.1 -3.7-5.4z"/>
<path color="#3777fe" d="M261.9,1464.9l3.7,5.4 -14-5.1 -3.7-5.4z"/>
<path color="#317dfb" d="M258.2,1459.4l3.7,5.5 -14-5.1 -.9-1.3 6.4-.8z"/>
<path color="#2e84f9" d="M256.7,1457.3l1.5,2.1 -4.8-1.7z"/>
<path color="#475cfa" d="M287.5,1488.1l-5.3,2 -3.8-4.2z"/>
<path color="#4562fc" d="M290.3,1484.9l1.6,1.7 -4.4,1.5 -9.1-2.2 -4.6-5.1z"/>
<path color="#4369fe" d="M285.7,1479.8l4.6,5.1 -16.5-4.1 -4.4-4.7 .4-.2z"/>
<path color="#3e70ff" d="M281.1,1474.7l4.6,5.1 -15.9-3.9 6.5-2.3z"/>
<path color="#3777fe" d="M279.2,1472.6l1.9,2.1 -4.8-1.1z"/>
<path color="#4755f6" d="M307.2,1494.7l-2.6,1.6 -2.9-2.2z"/>
<path color="#475cfa" d="M312.5,1491.5l-5.3,3.2 -5.5-.6 -5.9-4.5z"/>
<path color="#4562fc" d="M310.4,1487.5l3.9,3 -1.8,1 -16.7-1.9 -3.9-3 1.7-1.1z"/>
<path color="#4369fe" d="M304.5,1482.9l5.9,4.6 -16.8-2 5.4-3.2z"/>
<path color="#3e70ff" d="M301.6,1480.7l2.9,2.2 -5.5-.6z"/>
<path color="#4755f6" d="M328.3,1495.4l-1.3,1.1 -2.2-1.1z"/>
<path color="#475cfa" d="M332.8,1491.6l-4.5,3.8 -3.5,0 -7.9-3.7z"/>
<path color="#4562fc" d="M335.7,1487.9l1,.4 -3.9,3.3 -15.9,.1 -2.6-1.2 3-2.5z"/>
<path color="#4369fe" d="M327.8,1484.2l7.9,3.7 -18.4,.1 4.5-3.8z"/>
<path color="#3e70ff" d="M324,1482.3l3.8,1.9 -6,0z"/>
<path color="#475cfa" d="M350.5,1489.9l-1.1,1.3 -3.2-.7z"/>
<path color="#4562fc" d="M354.4,1485.7l-3.9,4.2 -4.3,.6 -9.5-2.2 .5-.5z"/>
<path color="#4369fe" d="M358.3,1481.5l-3.9,4.2 -17.2,2.1 3.9-4.2z"/>
<path color="#3e70ff" d="M350.3,1478.8l8.8,1.9 -.8,.8 -17.2,2.1 3.9-4.2z"/>
<path color="#3777fe" d="M346.4,1477.9l3.9,.9 -5.3,.6z"/>
<path color="#4369fe" d="M373.8,1478.2l-2,2.7 -9.5-.1z"/>
<path color="#3e70ff" d="M377.3,1473.7l-3.5,4.5 -11.5,2.6 -3.2-.1 2.8-3.6z"/>
<path color="#3777fe" d="M380.7,1469.2l-3.4,4.5 -15.4,3.4 3.4-4.5z"/>
<path color="#317dfb" d="M369,1468l12.5,.1 -.8,1.1 -15.4,3.4 3.5-4.6z"/>
<path color="#3777fe" d="M395,1465l-.8,1.1 -6.3,1z"/>
<path color="#317dfb" d="M398,1460.2l-3,4.8 -7.1,2.1 -6.4,1 2.4-3.6z"/>
<path color="#2e84f9" d="M401.1,1455.4l-3.1,4.8 -14.1,4.3 3.1-4.8z"/>
<path color="#2d8af5" d="M401.6,1451.4l2.3-.3 -2.8,4.3 -14.1,4.3 3-4.8z"/>
<path color="#2c90f0" d="M391.2,1453.1l10.4-1.7 -11.6,3.5z"/>
<path color="#2d8af5" d="M417.6,1445.8l-.9,1.7 -12.8,3.6 .3-.5z"/>
<path color="#2c90f0" d="M420.4,1440.8l-2.8,5 -13.4,4.8 2.8-5z"/>
<path color="#2896ec" d="M423.1,1435.8l-2.7,5 -13.4,4.8 2.8-5z"/>
<path color="#259be8" d="M425.9,1430.9l-2.8,4.9 -13.3,4.8 2.8-5z"/>
<path color="#23a0e5" d="M413.6,1433.7l12.8-3.6 -.5,.8 -13.3,4.7z"/>
<path color="#23a0e5" d="M441.5,1420.6l-2.4,4.9 -12.7,4.6 2.1-4.4z"/>
<path color="#1fa6e2" d="M444,1415.4l-2.5,5.2 -13,5.1 2.6-5.1z"/>
<path color="#1baade" d="M446.6,1410.3l-2.6,5.1 -12.9,5.2 2.5-5.2z"/>
<path color="#15afd9" d="M436.1,1410.4l12.7-4.6 -2.2,4.5 -13,5.1z"/>
<path color="#15afd9" d="M461.8,1399.8l-.3,.8 -12.7,5.2 .3-.7z"/>
<path color="#0cb3d3" d="M464.2,1394.5l-2.4,5.3 -12.7,5.3 2.3-5.3z"/>
<path color="#03b7cc" d="M466.5,1389.2l-2.3,5.3 -12.8,5.3 2.4-5.3z"/>
<path color="#02bac5" d="M468.8,1383.9l-2.3,5.3 -12.7,5.3 2.3-5.3z"/>
<path color="#0abdbd" d="M471.2,1378.6l-2.4,5.3 -12.7,5.3 2.3-5.3z"/>
<path color="#19bfb5" d="M458.5,1383.8l12.7-5.2 -12.8,5.3z"/>
<path color="#1baade" d="M211.2,1401.3l.7,1.9 -9.7-3.4 -1.7-4.9z"/>
<path color="#15afd9" d="M209.1,1395.2l2.1,6.1 -10.7-6.4 -2.2-6.1z"/>
<path color="#0cb3d3" d="M207,1389.2l2.1,6 -10.8-6.4 -2.1-6.1z"/>
<path color="#03b7cc" d="M204.9,1383.1l2.1,6.1 -10.8-6.5 -2.1-6.1z"/>
<path color="#02bac5" d="M202.7,1377l2.2,6.1 -10.8-6.5 -2.1-6.1z"/>
<path color="#0abdbd" d="M200.6,1370.9l2.1,6.1 -10.7-6.5 -2.2-6z"/>
<path color="#19bfb5" d="M199.2,1366.9l1.4,4 -10.8-6.4 -.3-1.1z"/>
<path color="#2c90f0" d="M229,1433.7l-4.4-.5 -.9-2.2z"/>
<path color="#2896ec" d="M232.9,1431.1l1.4,3.2 -5.3-.6 -5.3-2.7 -2.5-5.9z"/>
<path color="#259be8" d="M230.4,1425.2l2.5,5.9 -11.7-6 -2.5-5.9z"/>
<path color="#23a0e5" d="M227.9,1419.3l2.5,5.9 -11.7-6 -2.6-6z"/>
<path color="#1fa6e2" d="M225.4,1413.3l2.5,6 -11.8-6.1 -2.5-5.9z"/>
<path color="#1baade" d="M222.9,1407.4l2.5,5.9 -11.8-6 -1.7-4.1 3.7,.5z"/>
<path color="#15afd9" d="M221.6,1404.4l1.3,3 -7.3-3.7z"/>
<path color="#317dfb" d="M253.4,1457.7l-6.4,.8 -2.3-4.4z"/>
<path color="#2e84f9" d="M254.9,1453.8l1.8,3.5 -3.3,.4 -8.7-3.6 -3-5.7z"/>
<path color="#2d8af5" d="M251.9,1448.1l3,5.7 -13.2-5.4 -3-5.7z"/>
<path color="#2c90f0" d="M248.9,1442.4l3,5.7 -13.2-5.4 -3-5.8z"/>
<path color="#2896ec" d="M245.9,1436.7l3,5.7 -13.2-5.5 -1.4-2.6 4.6-.5z"/>
<path color="#259be8" d="M244,1433.1l1.9,3.6 -7-2.9z"/>
<path color="#4369fe" d="M269.8,1475.9l-.4,.2 -.2-.4z"/>
<path color="#3e70ff" d="M276.3,1473.6l-6.5,2.3 -.6-.2 -3.6-5.4z"/>
<path color="#3777fe" d="M277.1,1469.5l2.1,3.1 -2.9,1 -10.7-3.3 -3.7-5.4z"/>
<path color="#317dfb" d="M273.4,1464l3.7,5.5 -15.2-4.6 -3.7-5.5z"/>
<path color="#2e84f9" d="M269.7,1458.6l3.7,5.4 -15.2-4.6 -1.5-2.1 4-1.5z"/>
<path color="#2d8af5" d="M266.4,1453.8l3.3,4.8 -9-2.8z"/>
<path color="#4562fc" d="M293.6,1485.5l-1.7,1.1 -1.6-1.7z"/>
<path color="#4369fe" d="M299,1482.3l-5.4,3.2 -3.3-.6 -4.6-5.1z"/>
<path color="#3e70ff" d="M299.2,1478.1l2.4,2.6 -2.6,1.6 -13.3-2.5 -4.6-5.1z"/>
<path color="#3777fe" d="M294.6,1473.1l4.6,5 -18.1-3.4 -1.9-2.1 3-1.9z"/>
<path color="#317dfb" d="M290,1468l4.6,5.1 -12.4-2.4 5.3-3.2z"/>
<path color="#2e84f9" d="M288.9,1466.7l1.1,1.3 -2.5-.5z"/>
<path color="#4562fc" d="M317.3,1488l-3,2.5 -3.9-3z"/>
<path color="#4369fe" d="M321.8,1484.2l-4.5,3.8 -6.9-.5 -5.9-4.6z"/>
<path color="#3e70ff" d="M321,1480l3,2.3 -2.2,1.9 -17.3-1.3 -2.9-2.2 2.3-1.9z"/>
<path color="#3777fe" d="M315.1,1475.5l5.9,4.5 -17.1-1.2 4.5-3.8z"/>
<path color="#317dfb" d="M311.3,1472.6l3.8,2.9 -6.7-.5z"/>
<path color="#4562fc" d="M337.2,1487.8l-.5,.5 -1-.4z"/>
<path color="#4369fe" d="M341.1,1483.6l-3.9,4.2 -1.5,.1 -7.9-3.7z"/>
<path color="#3e70ff" d="M345,1479.4l-3.9,4.2 -13.3,.6 -3.8-1.9 2-2.1z"/>
<path color="#3777fe" d="M341.3,1475.5l5.1,2.4 -1.4,1.5 -19,.8 3.9-4.2z"/>
<path color="#317dfb" d="M333.7,1471.9l7.6,3.6 -11.4,.5z"/>
<path color="#3e70ff" d="M361.9,1477.1l-2.8,3.6 -8.8-1.9z"/>
<path color="#3777fe" d="M365.3,1472.6l-3.4,4.5 -11.6,1.7 -3.9-.9 2.2-2.9z"/>
<path color="#317dfb" d="M368.8,1468l-3.5,4.6 -16.7,2.4 3.5-4.5z"/>
<path color="#2e84f9" d="M358,1465.6l10.8,2.4 -16.7,2.5 3.4-4.6z"/>
<path color="#2d8af5" d="M356.1,1465.2l1.9,.4 -2.5,.3z"/>
<path color="#317dfb" d="M383.9,1464.5l-2.4,3.6 -12.5-.1z"/>
<path color="#2e84f9" d="M387,1459.7l-3.1,4.8 -14.9,3.5 -.2,0 3.1-4.8z"/>
<path color="#2d8af5" d="M390,1454.9l-3,4.8 -15.1,3.5 3-4.7z"/>
<path color="#2c90f0" d="M381.1,1452.9l10.1,.2 -1.2,1.8 -15.1,3.6 3.1-4.8z"/>
<path color="#2896ec" d="M378.5,1452.9l2.6,0 -3.1,.8z"/>
<path color="#2d8af5" d="M404.2,1450.6l-.3,.5 -2.3,.3z"/>
<path color="#2c90f0" d="M407,1445.6l-2.8,5 -2.6,.8 -10.4,1.7 1.7-3.1z"/>
<path color="#2896ec" d="M409.8,1440.6l-2.8,5 -14.1,4.4 2.8-5z"/>
<path color="#259be8" d="M412.6,1435.6l-2.8,5 -14.1,4.4 2.8-5z"/>
<path color="#23a0e5" d="M400.9,1435.7l12.7-2 -1,1.9 -14.1,4.4z"/>
<path color="#23a0e5" d="M428.5,1425.7l-2.1,4.4 -12.8,3.6 1.6-3.1z"/>
<path color="#1fa6e2" d="M431.1,1420.6l-2.6,5.1 -13.3,4.9 2.5-5.2z"/>
<path color="#1baade" d="M433.6,1415.4l-2.5,5.2 -13.4,4.8 2.6-5.2z"/>
<path color="#15afd9" d="M434,1411l2.1-.6 -2.5,5 -13.3,4.8 2.5-5.1z"/>
<path color="#0cb3d3" d="M423.3,1414l10.7-3 -11.2,4.1z"/>
<path color="#15afd9" d="M449.1,1405.1l-.3,.7 -12.7,4.6 .1-.2z"/>
<path color="#0cb3d3" d="M451.4,1399.8l-2.3,5.3 -12.9,5.1 2.3-5.3z"/>
<path color="#03b7cc" d="M453.8,1394.5l-2.4,5.3 -12.9,5.1 2.3-5.3z"/>
<path color="#02bac5" d="M456.1,1389.2l-2.3,5.3 -13,5.1 2.4-5.3z"/>
<path color="#0abdbd" d="M458.4,1383.9l-2.3,5.3 -12.9,5.1 2.3-5.3z"/>
<path color="#19bfb5" d="M445.8,1388.4l12.7-4.6 -.1,.1 -12.9,5.1z"/>
<path color="#1baade" d="M215.6,1403.7l-3.7-.5 -.7-1.9z"/>
<path color="#15afd9" d="M220.6,1401.4l1,3 -6-.7 -4.4-2.4 -2.1-6.1z"/>
<path color="#0cb3d3" d="M218.4,1395.3l2.2,6.1 -11.5-6.2 -2.1-6z"/>
<path color="#03b7cc" d="M216.3,1389.2l2.1,6.1 -11.4-6.1 -2.1-6.1z"/>
<path color="#02bac5" d="M214.2,1383.1l2.1,6.1 -11.4-6.1 -2.2-6.1z"/>
<path color="#0abdbd" d="M212.1,1377l2.1,6.1 -11.5-6.1 -2.1-6.1z"/>
<path color="#19bfb5" d="M209.9,1371l2.2,6 -11.5-6.1 -1.4-4 3.9,.4z"/>
<path color="#25c2ad" d="M208.9,1368l1,3 -6.8-3.7z"/>
<path color="#2896ec" d="M238.9,1433.8l-4.6,.5 -1.4-3.2z"/>
<path color="#259be8" d="M243.1,1430.9l.9,2.2 -5.1,.7 -6-2.7 -2.5-5.9z"/>
<path color="#23a0e5" d="M240.5,1424.9l2.6,6 -12.7-5.7 -2.5-5.9z"/>
<path color="#1fa6e2" d="M238,1419l2.5,5.9 -12.6-5.6 -2.5-6z"/>
<path color="#1baade" d="M235.5,1413.1l2.5,5.9 -12.6-5.7 -2.5-5.9z"/>
<path color="#15afd9" d="M233,1407.1l2.5,6 -12.6-5.7 -1.3-3 4.1-.6z"/>
<path color="#0cb3d3" d="M231.3,1403.2l1.7,3.9 -7.3-3.3z"/>
<path color="#2e84f9" d="M260.7,1455.8l-4,1.5 -1.8-3.5z"/>
<path color="#2d8af5" d="M266.1,1453.1l.3,.7 -5.7,2 -5.8-2 -3-5.7z"/>
<path color="#2c90f0" d="M263.1,1447.4l3,5.7 -14.2-5 -3-5.7z"/>
<path color="#2896ec" d="M260.1,1441.7l3,5.7 -14.2-5 -3-5.7z"/>
<path color="#259be8" d="M257.1,1435.9l3,5.8 -14.2-5 -1.9-3.6 2.5-.9z"/>
<path color="#23a0e5" d="M254,1430.2l3.1,5.7 -10.6-3.7 6.5-2.3z"/>
<path color="#1fa6e2" d="M253.7,1429.6l.3,.6 -1-.3z"/>
<path color="#3777fe" d="M282.2,1470.7l-3,1.9 -2.1-3.1z"/>
<path color="#317dfb" d="M287.5,1467.5l-5.3,3.2 -5.1-1.2 -3.7-5.5z"/>
<path color="#2e84f9" d="M286.1,1462.7l2.8,4 -1.4,.8 -14.1-3.5 -3.7-5.4z"/>
<path color="#2d8af5" d="M282.4,1457.2l3.7,5.5 -16.4-4.1 -3.3-4.8 .6-.4z"/>
<path color="#2c90f0" d="M278.8,1451.8l3.6,5.4 -15.4-3.8 5.4-3.2z"/>
<path color="#2896ec" d="M276.1,1447.9l2.7,3.9 -6.4-1.6z"/>
<path color="#3e70ff" d="M303.9,1478.8l-2.3,1.9 -2.4-2.6z"/>
<path color="#3777fe" d="M308.4,1475l-4.5,3.8 -4.7-.7 -4.6-5z"/>
<path color="#317dfb" d="M309.6,1470.8l1.7,1.8 -2.9,2.4 -13.8-1.9 -4.6-5.1z"/>
<path color="#2e84f9" d="M305,1465.7l4.6,5.1 -19.6-2.8 -1.1-1.3 3.3-2.8z"/>
<path color="#2d8af5" d="M300.4,1460.7l4.6,5 -12.8-1.8 4.5-3.8z"/>
<path color="#2c90f0" d="M298.6,1458.6l1.8,2.1 -3.7-.6z"/>
<path color="#3e70ff" d="M326,1480.2l-2,2.1 -3-2.3z"/>
<path color="#3777fe" d="M329.9,1476l-3.9,4.2 -5-.2 -5.9-4.5z"/>
<path color="#317dfb" d="M333.5,1471.8l.2,.1 -3.8,4.1 -14.8-.5 -3.8-2.9 1.4-1.5z"/>
<path color="#2e84f9" d="M327.6,1467.3l5.9,4.5 -20.8-.7 3.9-4.2z"/>
<path color="#2d8af5" d="M321.7,1462.7l5.9,4.6 -11-.4 3.9-4.2z"/>
<path color="#2c90f0" d="M321,1462.2l.7,.5 -1.2,0z"/>
<path color="#3777fe" d="M348.6,1475l-2.2,2.9 -5.1-2.4z"/>
<path color="#317dfb" d="M352.1,1470.5l-3.5,4.5 -7.3,.5 -7.6-3.6 .1-.1z"/>
<path color="#2e84f9" d="M355.5,1465.9l-3.4,4.6 -18.3,1.3 3.4-4.5z"/>
<path color="#2d8af5" d="M349.6,1462.1l6.5,3.1 -.6,.7 -18.3,1.4 3.5-4.6z"/>
<path color="#2c90f0" d="M343.4,1459.2l6.2,2.9 -8.9,.6z"/>
<path color="#2e84f9" d="M371.9,1463.2l-3.1,4.8 -10.8-2.4z"/>
<path color="#2d8af5" d="M374.9,1458.5l-3,4.7 -13.9,2.4 -1.9-.4 2.5-4z"/>
<path color="#2c90f0" d="M378,1453.7l-3.1,4.8 -16.3,2.7 3.1-4.8z"/>
<path color="#2896ec" d="M369.3,1450.9l9.2,2 -.5,.8 -16.3,2.7 3.1-4.8z"/>
<path color="#259be8" d="M365.8,1450.1l3.5,.8 -4.5,.7z"/>
<path color="#2c90f0" d="M392.9,1450l-1.7,3.1 -10.1-.2z"/>
<path color="#2896ec" d="M395.7,1445l-2.8,5 -11.8,2.9 -2.6,0 2.4-4.2z"/>
<path color="#259be8" d="M398.5,1440l-2.8,5 -14.8,3.7 2.7-5z"/>
<path color="#23a0e5" d="M398.7,1435.7l2.2,0 -2.4,4.3 -14.9,3.7 2.8-5z"/>
<path color="#1fa6e2" d="M388.2,1435.5l10.5,.2 -12.3,3z"/>
<path color="#23a0e5" d="M415.2,1430.6l-1.6,3.1 -12.7,2 .4-.7z"/>
<path color="#1fa6e2" d="M417.7,1425.4l-2.5,5.2 -13.9,4.4 2.5-5.2z"/>
<path color="#1baade" d="M420.3,1420.2l-2.6,5.2 -13.9,4.4 2.6-5.2z"/>
<path color="#15afd9" d="M422.8,1415.1l-2.5,5.1 -13.9,4.4 2.5-5.1z"/>
<path color="#0cb3d3" d="M410.6,1416l12.7-2 -.5,1.1 -13.9,4.4z"/>
<path color="#15afd9" d="M436.2,1410.2l-.1,.2 -2.1,.6z"/>
<path color="#0cb3d3" d="M438.5,1404.9l-2.3,5.3 -2.2,.8 -10.7,3 1.9-4.2z"/>
<path color="#03b7cc" d="M440.8,1399.6l-2.3,5.3 -13.3,4.9 2.4-5.3z"/>
<path color="#02bac5" d="M443.2,1394.3l-2.4,5.3 -13.2,4.9 2.3-5.3z"/>
<path color="#0abdbd" d="M445.5,1389l-2.3,5.3 -13.3,4.9 2.3-5.3z"/>
<path color="#19bfb5" d="M433,1392l12.8-3.6 -.3,.6 -13.3,4.9z"/>
<path color="#15afd9" d="M225.7,1403.8l-4.1,.6 -1-3z"/>
<path color="#0cb3d3" d="M230.6,1401.2l.7,2 -5.6,.6 -5.1-2.4 -2.2-6.1z"/>
<path color="#03b7cc" d="M228.5,1395.1l2.1,6.1 -12.2-5.9 -2.1-6.1z"/>
<path color="#02bac5" d="M226.4,1389l2.1,6.1 -12.2-5.9 -2.1-6.1z"/>
<path color="#0abdbd" d="M224.2,1382.9l2.2,6.1 -12.2-5.9 -2.1-6.1z"/>
<path color="#19bfb5" d="M222.1,1376.8l2.1,6.1 -12.1-5.9 -2.2-6z"/>
<path color="#25c2ad" d="M220,1370.7l2.1,6.1 -12.2-5.8 -1-3 4.3-.6z"/>
<path color="#2ec4a5" d="M218.6,1366.8l1.4,3.9 -6.8-3.3z"/>
<path color="#259be8" d="M246.5,1432.2l-2.5,.9 -.9-2.2z"/>
<path color="#23a0e5" d="M253,1429.9l-6.5,2.3 -3.4-1.3 -2.6-6z"/>
<path color="#1fa6e2" d="M251.5,1424.3l2.2,5.3 -.7,.3 -12.5-5 -2.5-5.9z"/>
<path color="#1baade" d="M249,1418.4l2.5,5.9 -13.5-5.3 -2.5-5.9z"/>
<path color="#15afd9" d="M246.5,1412.5l2.5,5.9 -13.5-5.3 -2.5-6z"/>
<path color="#0cb3d3" d="M243.9,1406.5l2.6,6 -13.5-5.4 -1.7-3.9 2.1-.8z"/>
<path color="#03b7cc" d="M241.4,1400.6l2.5,5.9 -10.5-4.1 6.5-2.4z"/>
<path color="#02bac5" d="M241,1399.6l.4,1 -1.5-.6z"/>
<path color="#2d8af5" d="M267,1453.4l-.6,.4 -.3-.7z"/>
<path color="#2c90f0" d="M272.4,1450.2l-5.4,3.2 -.9-.3 -3-5.7z"/>
<path color="#2896ec" d="M275.3,1446.3l.8,1.6 -3.7,2.3 -9.3-2.8 -3-5.7z"/>
<path color="#259be8" d="M272.3,1440.6l3,5.7 -15.2-4.6 -3-5.8z"/>
<path color="#23a0e5" d="M269.2,1434.8l3.1,5.8 -15.2-4.7 -3.1-5.7z"/>
<path color="#1fa6e2" d="M266.2,1429.1l3,5.7 -15.2-4.6 -.3-.6 4.8-2.8z"/>
<path color="#1baade" d="M263.4,1423.8l2.8,5.3 -7.7-2.3z"/>
<path color="#2e84f9" d="M292.2,1463.9l-3.3,2.8 -2.8-4z"/>
<path color="#2d8af5" d="M296.7,1460.1l-4.5,3.8 -6.1-1.2 -3.7-5.5z"/>
<path color="#2c90f0" d="M296.4,1455.4l2.2,3.2 -1.9,1.5 -14.3-2.9 -3.6-5.4z"/>
<path color="#2896ec" d="M292.7,1449.9l3.7,5.5 -17.6-3.6 -2.7-3.9 1.4-1.1z"/>
<path color="#259be8" d="M289,1444.5l3.7,5.4 -15.2-3.1 4.5-3.7z"/>
<path color="#23a0e5" d="M285.8,1439.8l3.2,4.7 -7-1.4z"/>
<path color="#317dfb" d="M312.7,1471.1l-1.4,1.5 -1.7-1.8z"/>
<path color="#2e84f9" d="M316.6,1466.9l-3.9,4.2 -3.1-.3 -4.6-5.1z"/>
<path color="#2d8af5" d="M320.5,1462.7l-3.9,4.2 -11.6-1.2 -4.6-5z"/>
<path color="#2c90f0" d="M317,1457.8l4,4.4 -.5,.5 -20.1-2 -1.8-2.1 2.3-2.5z"/>
<path color="#2896ec" d="M312.4,1452.7l4.6,5.1 -16.1-1.7 3.9-4.2z"/>
<path color="#259be8" d="M308.3,1448.2l4.1,4.5 -7.6-.8z"/>
<path color="#317dfb" d="M333.8,1471.8l-.1,.1 -.2-.1z"/>
<path color="#2e84f9" d="M337.2,1467.3l-3.4,4.5 -.3,0 -5.9-4.5z"/>
<path color="#2d8af5" d="M340.7,1462.7l-3.5,4.6 -9.6,0 -5.9-4.6z"/>
<path color="#2c90f0" d="M342.2,1458.2l1.2,1 -2.7,3.5 -19,0 -.7-.5 3-4z"/>
<path color="#2896ec" d="M336.3,1453.7l5.9,4.5 -18.2,0 3.4-4.5z"/>
<path color="#259be8" d="M330.7,1449.4l5.6,4.3 -8.9,0z"/>
<path color="#2d8af5" d="M358.6,1461.2l-2.5,4 -6.5-3.1z"/>
<path color="#2c90f0" d="M361.7,1456.4l-3.1,4.8 -9,.9 -6.2-2.9 .6-1z"/>
<path color="#2896ec" d="M364.8,1451.6l-3.1,4.8 -17.7,1.8 3.1-4.8z"/>
<path color="#259be8" d="M360.5,1447.6l5.3,2.5 -1,1.5 -17.7,1.8 3.1-4.8z"/>
<path color="#23a0e5" d="M353.1,1444.1l7.4,3.5 -10.3,1z"/>
<path color="#2896ec" d="M380.9,1448.7l-2.4,4.2 -9.2-2z"/>
<path color="#259be8" d="M383.6,1443.7l-2.7,5 -11.6,2.2 -3.5-.8 1.9-3.4z"/>
<path color="#23a0e5" d="M386.4,1438.7l-2.8,5 -15.9,3 2.8-5z"/>
<path color="#1fa6e2" d="M384.3,1434.7l3.9,.8 -1.8,3.2 -15.9,3 2.8-5z"/>
<path color="#1baade" d="M375.5,1432.7l8.8,2 -11,2z"/>
<path color="#23a0e5" d="M401.3,1435l-.4,.7 -2.2,0z"/>
<path color="#1fa6e2" d="M403.8,1429.8l-2.5,5.2 -2.6,.7 -10.5-.2 .9-1.8z"/>
<path color="#1baade" d="M406.4,1424.6l-2.6,5.2 -14.7,3.9 2.6-5.2z"/>
<path color="#15afd9" d="M408.9,1419.5l-2.5,5.1 -14.7,3.9 2.5-5.1z"/>
<path color="#0cb3d3" d="M405.3,1415.9l5.3,.1 -1.7,3.5 -14.7,3.9 2.6-5.2z"/>
<path color="#03b7cc" d="M397.9,1415.9l7.4,0 -8.5,2.3z"/>
<path color="#0cb3d3" d="M425.2,1409.8l-1.9,4.2 -12.7,2 .8-1.7z"/>
<path color="#03b7cc" d="M427.6,1404.5l-2.4,5.3 -13.8,4.5 2.3-5.3z"/>
<path color="#02bac5" d="M429.9,1399.2l-2.3,5.3 -13.9,4.5 2.4-5.3z"/>
<path color="#0abdbd" d="M432.2,1393.9l-2.3,5.3 -13.8,4.5 2.3-5.4z"/>
<path color="#19bfb5" d="M420.3,1394l12.7-2 -.8,1.9 -13.8,4.4z"/>
<path color="#0cb3d3" d="M233.4,1402.4l-2.1,.8 -.7-2z"/>
<path color="#03b7cc" d="M239.9,1400l-6.5,2.4 -2.8-1.2 -2.1-6.1z"/>
<path color="#02bac5" d="M239.2,1394.6l1.8,5 -1.1,.4 -11.4-4.9 -2.1-6.1z"/>
<path color="#0abdbd" d="M237.1,1388.5l2.1,6.1 -12.8-5.6 -2.2-6.1z"/>
<path color="#19bfb5" d="M235,1382.4l2.1,6.1 -12.9-5.6 -2.1-6.1z"/>
<path color="#25c2ad" d="M232.9,1376.3l2.1,6.1 -12.9-5.6 -2.1-6.1z"/>
<path color="#2ec4a5" d="M230.7,1370.2l2.2,6.1 -12.9-5.6 -1.4-3.9 2.3-.9z"/>
<path color="#34c79c" d="M228.6,1364.1l2.1,6.1 -9.8-4.3 6.5-2.3z"/>
<path color="#3cc992" d="M228.3,1363.3l.3,.8 -1.2-.5z"/>
<path color="#1fa6e2" d="M258.5,1426.8l-4.8,2.8 -2.2-5.3z"/>
<path color="#1baade" d="M263.2,1423.4l.2,.4 -4.9,3 -7-2.5 -2.5-5.9z"/>
<path color="#15afd9" d="M260.7,1417.5l2.5,5.9 -14.2-5 -2.5-5.9z"/>
<path color="#0cb3d3" d="M258.2,1411.5l2.5,6 -14.2-5 -2.6-6z"/>
<path color="#03b7cc" d="M255.7,1405.6l2.5,5.9 -14.3-5 -2.5-5.9z"/>
<path color="#02bac5" d="M253.2,1399.7l2.5,5.9 -14.3-5 -.4-1 4.5-2.6z"/>
<path color="#0abdbd" d="M250.7,1393.8l2.5,5.9 -7.7-2.7z"/>
<path color="#2896ec" d="M277.5,1446.8l-1.4,1.1 -.8-1.6z"/>
<path color="#259be8" d="M282,1443.1l-4.5,3.7 -2.2-.5 -3-5.7z"/>
<path color="#23a0e5" d="M285.4,1439l.4,.8 -3.8,3.3 -9.7-2.5 -3.1-5.8z"/>
<path color="#1fa6e2" d="M282.4,1433.3l3,5.7 -16.2-4.2 -3-5.7z"/>
<path color="#1baade" d="M279.4,1427.6l3,5.7 -16.2-4.2 -2.8-5.3 .4-.3z"/>
<path color="#15afd9" d="M276.4,1421.9l3,5.7 -15.6-4.1 4.5-3.7z"/>
<path color="#0cb3d3" d="M273.4,1416.1l3,5.8 -8.1-2.1 4.5-3.8z"/>
<path color="#03b7cc" d="M273.1,1415.7l.3,.4 -.6-.1z"/>
<path color="#2c90f0" d="M300.9,1456.1l-2.3,2.5 -2.2-3.2z"/>
<path color="#2896ec" d="M304.8,1451.9l-3.9,4.2 -4.5-.7 -3.7-5.5z"/>
<path color="#259be8" d="M307.9,1447.6l.4,.6 -3.5,3.7 -12.1-2 -3.7-5.4z"/>
<path color="#23a0e5" d="M304.2,1442.1l3.7,5.5 -18.9-3.1 -3.2-4.7 .6-.6z"/>
<path color="#1fa6e2" d="M300.5,1436.7l3.7,5.4 -17.8-2.9 3.9-4.2z"/>
<path color="#1baade" d="M296.8,1431.3l3.7,5.4 -10.2-1.7 3.9-4.2z"/>
<path color="#15afd9" d="M295.5,1429.4l1.3,1.9 -2.6-.5z"/>
<path color="#2c90f0" d="M324,1458.2l-3,4 -4-4.4z"/>
<path color="#2896ec" d="M327.4,1453.7l-3.4,4.5 -7-.4 -4.6-5.1z"/>
<path color="#259be8" d="M330.4,1449.1l.3,.3 -3.3,4.3 -15-1 -4.1-4.5 .3-.5z"/>
<path color="#23a0e5" d="M325.8,1444.1l4.6,5 -21.8-1.4 3.5-4.5z"/>
<path color="#1fa6e2" d="M321.2,1439l4.6,5.1 -13.7-.9 3.4-4.6z"/>
<path color="#1baade" d="M318,1435.4l3.2,3.6 -5.7-.4z"/>
<path color="#2c90f0" d="M344,1458.2l-.6,1 -1.2-1z"/>
<path color="#2896ec" d="M347.1,1453.4l-3.1,4.8 -1.8,0 -5.9-4.5z"/>
<path color="#259be8" d="M350.2,1448.6l-3.1,4.8 -10.8,.3 -5.6-4.3 .1-.2z"/>
<path color="#23a0e5" d="M352.7,1443.8l.4,.3 -2.9,4.5 -19.4,.6 3.1-4.8z"/>
<path color="#1fa6e2" d="M346.8,1439.3l5.9,4.5 -18.8,.6 3.1-4.8z"/>
<path color="#1baade" d="M340.9,1434.8l5.9,4.5 -9.8,.3 3.1-4.8z"/>
<path color="#15afd9" d="M340.4,1434.4l.5,.4 -.8,0z"/>
<path color="#259be8" d="M367.7,1446.7l-1.9,3.4 -5.3-2.5z"/>
<path color="#23a0e5" d="M370.5,1441.7l-2.8,5 -7.2,.9 -7.4-3.5 .2-.3z"/>
<path color="#1fa6e2" d="M373.3,1436.7l-2.8,5 -17.2,2.1 2.7-5z"/>
<path color="#1baade" d="M373.9,1432l1.6,.7 -2.2,4 -17.3,2.1 2.8-5z"/>
<path color="#15afd9" d="M366.1,1428.3l7.8,3.7 -15.1,1.8 2.8-5z"/>
<path color="#0cb3d3" d="M362.8,1426.7l3.3,1.6 -4.5,.5z"/>
<path color="#1fa6e2" d="M389.1,1433.7l-.9,1.8 -3.9-.8z"/>
<path color="#1baade" d="M391.7,1428.5l-2.6,5.2 -4.8,1 -8.8-2 .5-1z"/>
<path color="#15afd9" d="M394.2,1423.4l-2.5,5.1 -15.7,3.2 2.6-5.2z"/>
<path color="#0cb3d3" d="M396.8,1418.2l-2.6,5.2 -15.6,3.1 2.5-5.1z"/>
<path color="#03b7cc" d="M391.9,1414.5l6,1.4 -1.1,2.3 -15.7,3.2 2.6-5.2z"/>
<path color="#02bac5" d="M385.2,1413.1l6.7,1.4 -8.2,1.7z"/>
<path color="#0cb3d3" d="M411.4,1414.3l-.8,1.7 -5.3-.1z"/>
<path color="#03b7cc" d="M413.7,1409l-2.3,5.3 -6.1,1.6 -7.4,0 1.3-3z"/>
<path color="#02bac5" d="M416.1,1403.7l-2.4,5.3 -14.5,3.9 2.4-5.3z"/>
<path color="#0abdbd" d="M418.4,1398.3l-2.3,5.4 -14.5,3.9 2.3-5.3z"/>
<path color="#19bfb5" d="M417.3,1394l3,0 -1.9,4.3 -14.5,4 2.3-5.3z"/>
<path color="#25c2ad" d="M407.6,1393.9l9.7,.1 -11.1,3z"/>
<path color="#02bac5" d="M245.5,1397l-4.5,2.6 -1.8-5z"/>
<path color="#0abdbd" d="M250.7,1393.7l0,.1 -5.2,3.2 -6.3-2.4 -2.1-6.1z"/>
<path color="#19bfb5" d="M248.6,1387.7l2.1,6 -13.6-5.2 -2.1-6.1z"/>
<path color="#25c2ad" d="M246.4,1381.6l2.2,6.1 -13.6-5.3 -2.1-6.1z"/>
<path color="#2ec4a5" d="M244.3,1375.5l2.1,6.1 -13.5-5.3 -2.2-6.1z"/>
<path color="#34c79c" d="M242.2,1369.4l2.1,6.1 -13.6-5.3 -2.1-6.1z"/>
<path color="#3cc992" d="M240.1,1363.3l2.1,6.1 -13.6-5.3 -.3-.8 4.6-2.8z"/>
<path color="#47cb87" d="M238,1357.4l2.1,5.9 -7.2-2.8z"/>
<path color="#1baade" d="M263.8,1423.5l-.4,.3 -.2-.4z"/>
<path color="#15afd9" d="M268.3,1419.8l-4.5,3.7 -.6-.1 -2.5-5.9z"/>
<path color="#0cb3d3" d="M272.8,1416l-4.5,3.8 -7.6-2.3 -2.5-6z"/>
<path color="#03b7cc" d="M270.8,1410.2l2.3,5.5 -.3,.3 -14.6-4.5 -2.5-5.9z"/>
<path color="#02bac5" d="M268.3,1404.3l2.5,5.9 -15.1-4.6 -2.5-5.9z"/>
<path color="#0abdbd" d="M265.8,1398.4l2.5,5.9 -15.1-4.6 -2.5-5.9 .1,0z"/>
<path color="#19bfb5" d="M263.3,1392.5l2.5,5.9 -15-4.6 4.5-3.8z"/>
<path color="#25c2ad" d="M260.8,1386.5l2.5,6 -8-2.5 4.5-3.8z"/>
<path color="#2ec4a5" d="M260.4,1385.7l.4,.8 -1-.3z"/>
<path color="#23a0e5" d="M286.4,1439.2l-.6,.6 -.4-.8z"/>
<path color="#1fa6e2" d="M290.3,1435l-3.9,4.2 -1-.2 -3-5.7z"/>
<path color="#1baade" d="M294.2,1430.8l-3.9,4.2 -7.9-1.7 -3-5.7z"/>
<path color="#15afd9" d="M293.6,1425.6l1.9,3.8 -1.3,1.4 -14.8-3.2 -3-5.7z"/>
<path color="#0cb3d3" d="M290.6,1419.9l3,5.7 -17.2-3.7 -3-5.8z"/>
<path color="#03b7cc" d="M287.6,1414.2l3,5.7 -17.2-3.8 -.3-.4 3.6-3.9z"/>
<path color="#02bac5" d="M284.5,1408.5l3.1,5.7 -10.9-2.4 3.9-4.2z"/>
<path color="#0abdbd" d="M282.8,1405.2l1.7,3.3 -3.9-.9z"/>
<path color="#259be8" d="M308.6,1447.7l-.3,.5 -.4-.6z"/>
<path color="#23a0e5" d="M312.1,1443.2l-3.5,4.5 -.7-.1 -3.7-5.5z"/>
<path color="#1fa6e2" d="M315.5,1438.6l-3.4,4.6 -7.9-1.1 -3.7-5.4z"/>
<path color="#1baade" d="M316.9,1433.8l1.1,1.6 -2.5,3.2 -15-1.9 -3.7-5.4z"/>
<path color="#15afd9" d="M313.2,1428.4l3.7,5.4 -20.1-2.5 -1.3-1.9 2.3-3z"/>
<path color="#0cb3d3" d="M309.5,1423l3.7,5.4 -15.4-2 3.4-4.5z"/>
<path color="#03b7cc" d="M305.9,1417.5l3.6,5.5 -8.3-1.1 3.5-4.5z"/>
<path color="#02bac5" d="M305.3,1416.6l.6,.9 -1.2-.1z"/>
<path color="#259be8" d="M330.8,1449.2l-.1,.2 -.3-.3z"/>
<path color="#23a0e5" d="M333.9,1444.4l-3.1,4.8 -.4-.1 -4.6-5z"/>
<path color="#1fa6e2" d="M337,1439.6l-3.1,4.8 -8.1-.3 -4.6-5.1z"/>
<path color="#1baade" d="M340.1,1434.8l-3.1,4.8 -15.8-.6 -3.2-3.6 .9-1.4z"/>
<path color="#15afd9" d="M336.2,1429.8l4.2,4.6 -.3,.4 -21.2-.8 3-4.8z"/>
<path color="#0cb3d3" d="M331.6,1424.7l4.6,5.1 -14.3-.6 3.1-4.7z"/>
<path color="#03b7cc" d="M327.7,1420.4l3.9,4.3 -6.6-.2z"/>
<path color="#23a0e5" d="M353.3,1443.8l-.2,.3 -.4-.3z"/>
<path color="#1fa6e2" d="M356,1438.8l-2.7,5 -.6,0 -5.9-4.5z"/>
<path color="#1baade" d="M358.8,1433.8l-2.8,5 -9.2,.5 -5.9-4.5z"/>
<path color="#15afd9" d="M361.6,1428.8l-2.8,5 -17.9,1 -.5-.4 2.5-4.6z"/>
<path color="#0cb3d3" d="M359.4,1424.1l3.4,2.6 -1.2,2.1 -18.7,1 2.8-5z"/>
<path color="#03b7cc" d="M353.5,1419.6l5.9,4.5 -13.7,.7 2.8-5z"/>
<path color="#02bac5" d="M350.1,1417l3.4,2.6 -5,.2z"/>
<path color="#1baade" d="M376,1431.7l-.5,1 -1.6-.7z"/>
<path color="#15afd9" d="M378.6,1426.5l-2.6,5.2 -2.1,.3 -7.8-3.7z"/>
<path color="#0cb3d3" d="M381.1,1421.4l-2.5,5.1 -12.5,1.8 -3.3-1.6 1.5-3z"/>
<path color="#03b7cc" d="M383.7,1416.2l-2.6,5.2 -16.8,2.3 2.5-5.1z"/>
<path color="#02bac5" d="M382.2,1411.6l3,1.5 -1.5,3.1 -16.9,2.4 2.6-5.2z"/>
<path color="#0abdbd" d="M374.3,1407.9l7.9,3.7 -12.8,1.8 2.5-5.2z"/>
<path color="#19bfb5" d="M372.5,1407l1.8,.9 -2.4,.3z"/>
<path color="#03b7cc" d="M399.2,1412.9l-1.3,3 -6-1.4z"/>
<path color="#02bac5" d="M401.6,1407.6l-2.4,5.3 -7.3,1.6 -6.7-1.4 .9-2.1z"/>
<path color="#0abdbd" d="M403.9,1402.3l-2.3,5.3 -15.5,3.4 2.4-5.3z"/>
<path color="#19bfb5" d="M406.2,1397l-2.3,5.3 -15.4,3.4 2.3-5.3z"/>
<path color="#25c2ad" d="M403.2,1392.9l4.4,1 -1.4,3.1 -15.4,3.4 2.3-5.3z"/>
<path color="#2ec4a5" d="M394.9,1391.1l8.3,1.8 -10.1,2.2z"/>
<path color="#0abdbd" d="M250.8,1393.8l-.1,0 0-.1z"/>
<path color="#19bfb5" d="M255.3,1390l-4.5,3.8 -.1-.1 -2.1-6z"/>
<path color="#25c2ad" d="M259.8,1386.2l-4.5,3.8 -6.7-2.3 -2.2-6.1z"/>
<path color="#2ec4a5" d="M258.6,1380.5l1.8,5.2 -.6,.5 -13.4-4.6 -2.1-6.1z"/>
<path color="#34c79c" d="M256.5,1374.4l2.1,6.1 -14.3-5 -2.1-6.1z"/>
<path color="#3cc992" d="M254.3,1368.3l2.2,6.1 -14.3-5 -2.1-6.1z"/>
<path color="#47cb87" d="M252.2,1362.2l2.1,6.1 -14.2-5 -2.1-5.9 .2-.1z"/>
<path color="#54cc7c" d="M250.1,1356.1l2.1,6.1 -14-4.9 4.5-3.8z"/>
<path color="#63cd70" d="M248,1350l2.1,6.1 -7.4-2.6 4.5-3.7z"/>
<path color="#73cd63" d="M247.7,1349.3l.3,.7 -.8-.2z"/>
<path color="#03b7cc" d="M276.7,1411.8l-3.6,3.9 -2.3-5.5z"/>
<path color="#02bac5" d="M280.6,1407.6l-3.9,4.2 -5.9-1.6 -2.5-5.9z"/>
<path color="#0abdbd" d="M281.7,1402.7l1.1,2.5 -2.2,2.4 -12.3-3.3 -2.5-5.9z"/>
<path color="#19bfb5" d="M279.2,1396.7l2.5,6 -15.9-4.3 -2.5-5.9z"/>
<path color="#25c2ad" d="M276.7,1390.8l2.5,5.9 -15.9-4.2 -2.5-6z"/>
<path color="#2ec4a5" d="M274.2,1384.9l2.5,5.9 -15.9-4.3 -.4-.8 3.4-3.6z"/>
<path color="#34c79c" d="M271.7,1379l2.5,5.9 -10.4-2.8 3.9-4.2z"/>
<path color="#3cc992" d="M270.1,1375.3l1.6,3.7 -4-1.1z"/>
<path color="#15afd9" d="M297.8,1426.4l-2.3,3 -1.9-3.8z"/>
<path color="#0cb3d3" d="M301.2,1421.9l-3.4,4.5 -4.2-.8 -3-5.7z"/>
<path color="#03b7cc" d="M304.7,1417.4l-3.5,4.5 -10.6-2 -3-5.7z"/>
<path color="#02bac5" d="M302.7,1411.8l2.6,4.8 -.6,.8 -17.1-3.2 -3.1-5.7z"/>
<path color="#0abdbd" d="M299.7,1406.1l3,5.7 -18.2-3.3 -1.7-3.3 1.5-1.9z"/>
<path color="#19bfb5" d="M296.7,1400.4l3,5.7 -15.4-2.8 3.5-4.5z"/>
<path color="#25c2ad" d="M293.7,1394.7l3,5.7 -8.9-1.6 3.4-4.6z"/>
<path color="#2ec4a5" d="M292.5,1392.5l1.2,2.2 -2.5-.5z"/>
<path color="#1baade" d="M318.9,1434l-.9,1.4 -1.1-1.6z"/>
<path color="#15afd9" d="M321.9,1429.2l-3,4.8 -2-.2 -3.7-5.4z"/>
<path color="#0cb3d3" d="M325,1424.5l-3.1,4.7 -8.7-.8 -3.7-5.4z"/>
<path color="#03b7cc" d="M327.1,1419.6l.6,.8 -2.7,4.1 -15.5-1.5 -3.6-5.5z"/>
<path color="#02bac5" d="M323.5,1414.1l3.6,5.5 -21.2-2.1 -.6-.9 2.5-4z"/>
<path color="#0abdbd" d="M319.8,1408.7l3.7,5.4 -15.7-1.5 3.1-4.8z"/>
<path color="#19bfb5" d="M316.1,1403.3l3.7,5.4 -8.9-.9 3.1-4.7z"/>
<path color="#25c2ad" d="M315,1401.6l1.1,1.7 -2.1-.2z"/>
<path color="#15afd9" d="M342.9,1429.8l-2.5,4.6 -4.2-4.6z"/>
<path color="#0cb3d3" d="M345.7,1424.8l-2.8,5 -6.7,0 -4.6-5.1z"/>
<path color="#03b7cc" d="M348.5,1419.8l-2.8,5 -14.1-.1 -3.9-4.3 .4-.7z"/>
<path color="#02bac5" d="M348.1,1414.8l2,2.2 -1.6,2.8 -20.4-.1 2.7-5z"/>
<path color="#0abdbd" d="M343.5,1409.8l4.6,5 -17.3-.1 2.8-5z"/>
<path color="#19bfb5" d="M338.9,1404.7l4.6,5.1 -9.9-.1 2.8-5z"/>
<path color="#25c2ad" d="M337.4,1403l1.5,1.7 -2.5,0z"/>
<path color="#0cb3d3" d="M364.3,1423.7l-1.5,3 -3.4-2.6z"/>
<path color="#03b7cc" d="M366.8,1418.6l-2.5,5.1 -4.9,.4 -5.9-4.5z"/>
<path color="#02bac5" d="M369.4,1413.4l-2.6,5.2 -13.3,1 -3.4-2.6 1.1-2.2z"/>
<path color="#0abdbd" d="M371.9,1408.2l-2.5,5.2 -18.2,1.4 2.5-5.2z"/>
<path color="#19bfb5" d="M368,1403.6l4.5,3.4 -.6,1.2 -18.2,1.4 2.6-5.1z"/>
<path color="#25c2ad" d="M362,1399l6,4.6 -11.7,.9 2.5-5.2z"/>
<path color="#2ec4a5" d="M359.8,1397.3l2.2,1.7 -3.2,.3z"/>
<path color="#02bac5" d="M386.1,1411l-.9,2.1 -3-1.5z"/>
<path color="#0abdbd" d="M388.5,1405.7l-2.4,5.3 -3.9,.6 -7.9-3.7z"/>
<path color="#19bfb5" d="M390.8,1400.4l-2.3,5.3 -14.2,2.2 -1.8-.9 1.8-4z"/>
<path color="#25c2ad" d="M393.1,1395.1l-2.3,5.3 -16.5,2.6 2.3-5.3z"/>
<path color="#2ec4a5" d="M393,1390.2l1.9,.9 -1.8,4 -16.5,2.6 2.4-5.4z"/>
<path color="#34c79c" d="M385.1,1386.4l7.9,3.8 -14,2.1 2.3-5.3z"/>
<path color="#3cc992" d="M382.2,1385.1l2.9,1.3 -3.8,.6z"/>
<path color="#2ec4a5" d="M263.8,1382.1l-3.4,3.6 -1.8-5.2z"/>
<path color="#34c79c" d="M267.7,1377.9l-3.9,4.2 -5.2-1.6 -2.1-6.1z"/>
<path color="#3cc992" d="M269.3,1373l.8,2.3 -2.4,2.6 -11.2-3.5 -2.2-6.1z"/>
<path color="#47cb87" d="M267.2,1366.9l2.1,6.1 -15-4.7 -2.1-6.1z"/>
<path color="#54cc7c" d="M265.1,1360.8l2.1,6.1 -15-4.7 -2.1-6.1z"/>
<path color="#63cd70" d="M262.9,1354.7l2.2,6.1 -15-4.7 -2.1-6.1z"/>
<path color="#73cd63" d="M260.8,1348.6l2.1,6.1 -14.9-4.7 -.3-.7 3.5-3.7z"/>
<path color="#83cc57" d="M258.7,1342.5l2.1,6.1 -9.6-3 3.9-4.2z"/>
<path color="#94ca4a" d="M257.4,1338.9l1.3,3.6 -3.6-1.1z"/>
<path color="#0abdbd" d="M284.3,1403.3l-1.5,1.9 -1.1-2.5z"/>
<path color="#19bfb5" d="M287.8,1398.8l-3.5,4.5 -2.6-.6 -2.5-6z"/>
<path color="#25c2ad" d="M291.2,1394.2l-3.4,4.6 -8.6-2.1 -2.5-5.9z"/>
<path color="#2ec4a5" d="M291,1388.8l1.5,3.7 -1.3,1.7 -14.5-3.4 -2.5-5.9z"/>
<path color="#34c79c" d="M288.5,1382.9l2.5,5.9 -16.8-3.9 -2.5-5.9z"/>
<path color="#3cc992" d="M286,1377l2.5,5.9 -16.8-3.9 -1.6-3.7 1.3-1.7z"/>
<path color="#47cb87" d="M283.5,1371.1l2.5,5.9 -14.6-3.4 3.5-4.6z"/>
<path color="#54cc7c" d="M280.9,1365.1l2.6,6 -8.6-2.1 3.4-4.5z"/>
<path color="#63cd70" d="M279.8,1362.5l1.1,2.6 -2.6-.6z"/>
<path color="#02bac5" d="M307.8,1412.6l-2.5,4 -2.6-4.8z"/>
<path color="#0abdbd" d="M310.9,1407.8l-3.1,4.8 -5.1-.8 -3-5.7z"/>
<path color="#19bfb5" d="M314,1403.1l-3.1,4.7 -11.2-1.7 -3-5.7z"/>
<path color="#25c2ad" d="M312.9,1397.6l2.1,4 -1,1.5 -17.3-2.7 -3-5.7z"/>
<path color="#2ec4a5" d="M309.9,1391.9l3,5.7 -19.2-2.9 -1.2-2.2 1.9-3z"/>
<path color="#34c79c" d="M306.9,1386.2l3,5.7 -15.5-2.4 3.1-4.7z"/>
<path color="#3cc992" d="M303.8,1380.5l3.1,5.7 -9.4-1.4 3.1-4.8z"/>
<path color="#47cb87" d="M302.2,1377.4l1.6,3.1 -3.2-.5z"/>
<path color="#03b7cc" d="M328.1,1419.7l-.4,.7 -.6-.8z"/>
<path color="#02bac5" d="M330.8,1414.7l-2.7,5 -1-.1 -3.6-5.5z"/>
<path color="#0abdbd" d="M333.6,1409.7l-2.8,5 -7.3-.6 -3.7-5.4z"/>
<path color="#19bfb5" d="M336.4,1404.7l-2.8,5 -13.8-1 -3.7-5.4z"/>
<path color="#25c2ad" d="M334.9,1399.4l2.5,3.6 -1,1.7 -20.3-1.4 -1.1-1.7 1.9-3.5z"/>
<path color="#2ec4a5" d="M331.3,1393.9l3.6,5.5 -18-1.3 2.8-5z"/>
<path color="#34c79c" d="M327.6,1388.5l3.7,5.4 -11.6-.8 2.8-5z"/>
<path color="#3cc992" d="M324.7,1384.2l2.9,4.3 -5.1-.4z"/>
<path color="#02bac5" d="M351.2,1414.8l-1.1,2.2 -2-2.2z"/>
<path color="#0abdbd" d="M353.7,1409.6l-2.5,5.2 -3.1,0 -4.6-5z"/>
<path color="#19bfb5" d="M356.3,1404.5l-2.6,5.1 -10.2,.2 -4.6-5.1z"/>
<path color="#25c2ad" d="M358.8,1399.3l-2.5,5.2 -17.4,.2 -1.5-1.7 1.7-3.4z"/>
<path color="#2ec4a5" d="M357,1394.2l2.8,3.1 -1,2 -19.7,.3 2.5-5.2z"/>
<path color="#34c79c" d="M352.4,1389.1l4.6,5.1 -15.4,.2 2.5-5.2z"/>
<path color="#3cc992" d="M347.8,1384.1l4.6,5 -8.3,.1 2.6-5.1z"/>
<path color="#47cb87" d="M347.1,1383.3l.7,.8 -1.1,0z"/>
<path color="#19bfb5" d="M374.3,1403l-1.8,4 -4.5-3.4z"/>
<path color="#25c2ad" d="M376.6,1397.7l-2.3,5.3 -6.3,.6 -6-4.6z"/>
<path color="#2ec4a5" d="M379,1392.3l-2.4,5.4 -14.6,1.3 -2.2-1.7 1.4-3.3z"/>
<path color="#34c79c" d="M381.3,1387l-2.3,5.3 -17.8,1.7 2.4-5.3z"/>
<path color="#3cc992" d="M378.5,1382.2l3.7,2.9 -.9,1.9 -17.7,1.7 2.3-5.3z"/>
<path color="#47cb87" d="M372.6,1377.7l5.9,4.5 -12.6,1.2 2.4-5.3z"/>
<path color="#54cc7c" d="M369.5,1375.3l3.1,2.4 -4.3,.4z"/>
<path color="#3cc992" d="M271.4,1373.6l-1.3,1.7 -.8-2.3z"/>
<path color="#47cb87" d="M274.9,1369l-3.5,4.6 -2.1-.6 -2.1-6.1z"/>
<path color="#54cc7c" d="M278.3,1364.5l-3.4,4.5 -7.7-2.1 -2.1-6.1z"/>
<path color="#63cd70" d="M278.6,1359.1l1.2,3.4 -1.5,2 -13.2-3.7 -2.2-6.1z"/>
<path color="#73cd63" d="M276.5,1353l2.1,6.1 -15.7-4.4 -2.1-6.1z"/>
<path color="#83cc57" d="M274.4,1346.9l2.1,6.1 -15.7-4.4 -2.1-6.1z"/>
<path color="#94ca4a" d="M272.3,1340.9l2.1,6 -15.7-4.4 -1.3-3.6 1.4-1.8z"/>
<path color="#a4c83e" d="M270.1,1334.8l2.2,6.1 -13.5-3.8 3.4-4.6z"/>
<path color="#b3c534" d="M268,1328.7l2.1,6.1 -7.9-2.3 3.5-4.5z"/>
<path color="#c1c32c" d="M267.1,1326.1l.9,2.6 -2.3-.7z"/>
<path color="#2ec4a5" d="M294.4,1389.5l-1.9,3 -1.5-3.7z"/>
<path color="#34c79c" d="M297.5,1384.8l-3.1,4.7 -3.4-.7 -2.5-5.9z"/>
<path color="#3cc992" d="M300.6,1380l-3.1,4.8 -9-1.9 -2.5-5.9z"/>
<path color="#47cb87" d="M301.1,1374.7l1.1,2.7 -1.6,2.6 -14.6-3 -2.5-5.9z"/>
<path color="#54cc7c" d="M298.6,1368.7l2.5,6 -17.6-3.6 -2.6-6z"/>
<path color="#63cd70" d="M296,1362.8l2.6,5.9 -17.7-3.6 -1.1-2.6 1.7-2.7z"/>
<path color="#73cd63" d="M293.5,1356.9l2.5,5.9 -14.5-3 3.1-4.7z"/>
<path color="#83cc57" d="M291,1350.9l2.5,6 -8.9-1.8 3.1-4.8z"/>
<path color="#94ca4a" d="M289.5,1347.4l1.5,3.5 -3.3-.6z"/>
<path color="#25c2ad" d="M316.9,1398.1l-1.9,3.5 -2.1-4z"/>
<path color="#2ec4a5" d="M319.7,1393.1l-2.8,5 -4-.5 -3-5.7z"/>
<path color="#34c79c" d="M322.5,1388.1l-2.8,5 -9.8-1.2 -3-5.7z"/>
<path color="#3cc992" d="M324,1383l.7,1.2 -2.2,3.9 -15.6-1.9 -3.1-5.7z"/>
<path color="#47cb87" d="M321,1377.3l3,5.7 -20.2-2.5 -1.6-3.1 1.4-2.3z"/>
<path color="#54cc7c" d="M318,1371.6l3,5.7 -17.4-2.2 2.7-5z"/>
<path color="#63cd70" d="M315,1365.8l3,5.8 -11.7-1.5 2.8-5z"/>
<path color="#73cd63" d="M312,1360.1l3,5.7 -5.9-.7 2.8-5z"/>
<path color="#25c2ad" d="M339.1,1399.6l-1.7,3.4 -2.5-3.6z"/>
<path color="#2ec4a5" d="M341.6,1394.4l-2.5,5.2 -4.2-.2 -3.6-5.5z"/>
<path color="#34c79c" d="M344.1,1389.2l-2.5,5.2 -10.3-.5 -3.7-5.4z"/>
<path color="#3cc992" d="M346.7,1384.1l-2.6,5.1 -16.5-.7 -2.9-4.3 .5-1.1z"/>
<path color="#47cb87" d="M343.9,1378.7l3.2,4.6 -.4,.8 -21.5-1 2.5-5.1z"/>
<path color="#54cc7c" d="M340.3,1373.2l3.6,5.5 -16.2-.7 2.6-5.2z"/>
<path color="#63cd70" d="M336.6,1367.8l3.7,5.4 -10-.4 2.5-5.2z"/>
<path color="#73cd63" d="M334.4,1364.5l2.2,3.3 -3.8-.2z"/>
<path color="#2ec4a5" d="M361.2,1394l-1.4,3.3 -2.8-3.1z"/>
<path color="#34c79c" d="M363.6,1388.7l-2.4,5.3 -4.2,.2 -4.6-5.1z"/>
<path color="#3cc992" d="M365.9,1383.4l-2.3,5.3 -11.2,.4 -4.6-5z"/>
<path color="#47cb87" d="M368.3,1378.1l-2.4,5.3 -18.1,.7 -.7-.8 2-4.5z"/>
<path color="#54cc7c" d="M367.3,1372.9l2.2,2.4 -1.2,2.8 -19.2,.7 2.3-5.3z"/>
<path color="#63cd70" d="M362.7,1367.9l4.6,5 -15.9,.6 2.4-5.3z"/>
<path color="#73cd63" d="M358.1,1362.8l4.6,5.1 -8.9,.3 2.3-5.3z"/>
<path color="#83cc57" d="M356.8,1361.3l1.3,1.5 -2,.1z"/>
<path color="#63cd70" d="M281.5,1359.8l-1.7,2.7 -1.2-3.4z"/>
<path color="#73cd63" d="M284.6,1355.1l-3.1,4.7 -2.9-.7 -2.1-6.1z"/>
<path color="#83cc57" d="M287.7,1350.3l-3.1,4.8 -8.1-2.1 -2.1-6.1z"/>
<path color="#94ca4a" d="M288.7,1345l.8,2.4 -1.8,2.9 -13.3-3.4 -2.1-6z"/>
<path color="#a4c83e" d="M286.5,1338.9l2.2,6.1 -16.4-4.1 -2.2-6.1z"/>
<path color="#b3c534" d="M284.4,1332.8l2.1,6.1 -16.4-4.1 -2.1-6.1z"/>
<path color="#c1c32c" d="M282.3,1326.7l2.1,6.1 -16.4-4.1 -.9-2.6 1.8-2.8z"/>
<path color="#cfc028" d="M280.2,1320.6l2.1,6.1 -13.4-3.4 3.1-4.7z"/>
<path color="#dbbd29" d="M278,1314.5l2.2,6.1 -8.2-2 3.1-4.8z"/>
<path color="#e7bb2e" d="M276.8,1311.1l1.2,3.4 -2.9-.7z"/>
<path color="#47cb87" d="M303.6,1375.1l-1.4,2.3 -1.1-2.7z"/>
<path color="#54cc7c" d="M306.3,1370.1l-2.7,5 -2.5-.4 -2.5-6z"/>
<path color="#63cd70" d="M309.1,1365.1l-2.8,5 -7.7-1.4 -2.6-5.9z"/>
<path color="#73cd63" d="M311.9,1360.1l-2.8,5 -13.1-2.3 -2.5-5.9z"/>
<path color="#83cc57" d="M309.5,1354.2l2.4,5.9 -18.4-3.2 -2.5-6z"/>
<path color="#94ca4a" d="M306.9,1348.3l2.6,5.9 -18.5-3.3 -1.5-3.5 1.2-2z"/>
<path color="#a4c83e" d="M304.4,1342.3l2.5,6 -16.2-2.9 2.8-5z"/>
<path color="#b3c534" d="M301.9,1336.4l2.5,5.9 -10.9-1.9 2.8-5z"/>
<path color="#c1c32c" d="M299.4,1330.5l2.5,5.9 -5.6-1 2.7-5z"/>
<path color="#cfc028" d="M299.2,1330.1l.2,.4 -.4-.1z"/>
<path color="#3cc992" d="M325.2,1383.1l-.5,1.1 -.7-1.2z"/>
<path color="#47cb87" d="M327.7,1378l-2.5,5.1 -1.2-.1 -3-5.7z"/>
<path color="#54cc7c" d="M330.3,1372.8l-2.6,5.2 -6.7-.7 -3-5.7z"/>
<path color="#63cd70" d="M332.8,1367.6l-2.5,5.2 -12.3-1.2 -3-5.8z"/>
<path color="#73cd63" d="M333.2,1362.2l1.2,2.3 -1.6,3.1 -17.8-1.8 -3-5.7z"/>
<path color="#83cc57" d="M330.2,1356.5l3,5.7 -21.2-2.1 -.1,0 2.6-5.1z"/>
<path color="#94ca4a" d="M327.1,1350.8l3.1,5.7 -15.7-1.5 2.5-5.2z"/>
<path color="#a4c83e" d="M324.1,1345.1l3,5.7 -10.1-1 2.6-5.2z"/>
<path color="#b3c534" d="M321.7,1340.4l2.4,4.7 -4.5-.5z"/>
<path color="#47cb87" d="M349.1,1378.8l-2,4.5 -3.2-4.6z"/>
<path color="#54cc7c" d="M351.4,1373.5l-2.3,5.3 -5.2-.1 -3.6-5.5z"/>
<path color="#63cd70" d="M353.8,1368.2l-2.4,5.3 -11.1-.3 -3.7-5.4z"/>
<path color="#73cd63" d="M356.1,1362.9l-2.3,5.3 -17.2-.4 -2.2-3.3 .9-2.1z"/>
<path color="#83cc57" d="M354.2,1357.5l2.6,3.8 -.7,1.6 -20.8-.5 2.3-5.3z"/>
<path color="#94ca4a" d="M350.5,1352l3.7,5.5 -16.6-.4 2.4-5.3z"/>
<path color="#a4c83e" d="M346.8,1346.6l3.7,5.4 -10.5-.2 2.3-5.3z"/>
<path color="#b3c534" d="M344.1,1342.5l2.7,4.1 -4.5-.1z"/>
<path color="#94ca4a" d="M290.7,1345.4l-1.2,2 -.8-2.4z"/>
<path color="#a4c83e" d="M293.5,1340.4l-2.8,5 -2-.4 -2.2-6.1z"/>
<path color="#b3c534" d="M296.3,1335.4l-2.8,5 -7-1.5 -2.1-6.1z"/>
<path color="#c1c32c" d="M299,1330.4l-2.7,5 -11.9-2.6 -2.1-6.1z"/>
<path color="#cfc028" d="M297.3,1324.4l1.9,5.7 -.2,.3 -16.7-3.7 -2.1-6.1z"/>
<path color="#dbbd29" d="M295.1,1318.3l2.2,6.1 -17.1-3.8 -2.2-6.1z"/>
<path color="#e7bb2e" d="M293,1312.2l2.1,6.1 -17.1-3.8 -1.2-3.4 1.2-2.2z"/>
<path color="#f1ba37" d="M290.9,1306.2l2.1,6 -15-3.3 2.8-5z"/>
<path color="#fabb3d" d="M288.8,1300.1l2.1,6.1 -10.1-2.3 2.8-5z"/>
<path color="#fec03b" d="M286.6,1294l2.2,6.1 -5.2-1.2 2.8-5z"/>
<path color="#fec736" d="M286.5,1293.7l.1,.3 -.2-.1z"/>
<path color="#83cc57" d="M314.5,1355l-2.6,5.1 -2.4-5.9z"/>
<path color="#94ca4a" d="M317,1349.8l-2.5,5.2 -5-.8 -2.6-5.9z"/>
<path color="#a4c83e" d="M319.6,1344.6l-2.6,5.2 -10.1-1.5 -2.5-6z"/>
<path color="#b3c534" d="M321.2,1339.3l.5,1.1 -2.1,4.2 -15.2-2.3 -2.5-5.9z"/>
<path color="#c1c32c" d="M318.7,1333.4l2.5,5.9 -19.3-2.9 -2.5-5.9z"/>
<path color="#cfc028" d="M316.2,1327.5l2.5,5.9 -19.3-2.9 -.2-.4 2.4-4.8z"/>
<path color="#dbbd29" d="M313.7,1321.5l2.5,6 -14.6-2.2 2.5-5.2z"/>
<path color="#e7bb2e" d="M311.2,1315.6l2.5,5.9 -9.6-1.4 2.6-5.2z"/>
<path color="#f1ba37" d="M308.9,1310.4l2.3,5.2 -4.5-.7z"/>
<path color="#73cd63" d="M335.3,1362.4l-.9,2.1 -1.2-2.3z"/>
<path color="#83cc57" d="M337.6,1357.1l-2.3,5.3 -2.1-.2 -3-5.7z"/>
<path color="#94ca4a" d="M340,1351.8l-2.4,5.3 -7.4-.6 -3.1-5.7z"/>
<path color="#a4c83e" d="M342.3,1346.5l-2.3,5.3 -12.9-1 -3-5.7z"/>
<path color="#b3c534" d="M343.3,1341.1l.8,1.4 -1.8,4 -18.2-1.4 -2.4-4.7 .4-1z"/>
<path color="#c1c32c" d="M340.3,1335.3l3,5.8 -21.2-1.7 2.3-5.3z"/>
<path color="#cfc028" d="M337.3,1329.6l3,5.7 -15.9-1.2 2.4-5.3z"/>
<path color="#dbbd29" d="M334.3,1323.9l3,5.7 -10.5-.8 2.3-5.3z"/>
<path color="#e7bb2e" d="M331.4,1318.4l2.9,5.5 -5.2-.4z"/>
<path color="#cfc028" d="M301.6,1325.3l-2.4,4.8 -1.9-5.7z"/>
<path color="#dbbd29" d="M304.1,1320.1l-2.5,5.2 -4.3-.9 -2.2-6.1z"/>
<path color="#e7bb2e" d="M306.7,1314.9l-2.6,5.2 -9-1.8 -2.1-6.1z"/>
<path color="#f1ba37" d="M308.7,1309.7l.2,.7 -2.2,4.5 -13.7-2.7 -2.1-6z"/>
<path color="#fabb3d" d="M306.6,1303.6l2.1,6.1 -17.8-3.5 -2.1-6.1z"/>
<path color="#fec03b" d="M304.4,1297.5l2.2,6.1 -17.8-3.5 -2.2-6.1z"/>
<path color="#fec736" d="M302.3,1291.4l2.1,6.1 -17.8-3.5 -.1-.3 2.4-4.9z"/>
<path color="#fdce31" d="M300.2,1285.3l2.1,6.1 -13.4-2.6 2.6-5.2z"/>
<path color="#fad52e" d="M298.1,1279.2l2.1,6.1 -8.7-1.7 2.5-5.2z"/>
<path color="#f7dc2a" d="M296.2,1274l1.9,5.2 -4.1-.8z"/>
<path color="#b3c534" d="M322.1,1339.4l-.4,1 -.5-1.1z"/>
<path color="#c1c32c" d="M324.4,1334.1l-2.3,5.3 -.9-.1 -2.5-5.9z"/>
<path color="#cfc028" d="M326.8,1328.8l-2.4,5.3 -5.7-.7 -2.5-5.9z"/>
<path color="#dbbd29" d="M329.1,1323.5l-2.3,5.3 -10.6-1.3 -2.5-6z"/>
<path color="#e7bb2e" d="M331.3,1318.2l.1,.2 -2.3,5.1 -15.4-2 -2.5-5.9z"/>
<path color="#f1ba37" d="M328.7,1312.3l2.6,5.9 -20.1-2.6 -2.3-5.2 .3-.6z"/>
<path color="#fabb3d" d="M326.2,1306.3l2.5,6 -19.5-2.5 2.4-5.3z"/>
<path color="#fec03b" d="M323.7,1300.4l2.5,5.9 -14.6-1.8 2.3-5.3z"/>
<path color="#fec736" d="M321.2,1294.5l2.5,5.9 -9.8-1.2 2.3-5.4z"/>
<path color="#fdce31" d="M318.7,1288.5l2.5,6 -5-.7 2.4-5.3z"/>
<path color="#fad52e" d="M318.6,1288.4l.1,.1 -.1,0z"/>
<path color="#f1ba37" d="M309.2,1309.8l-.3,.6 -.2-.7z"/>
<path color="#fabb3d" d="M311.6,1304.5l-2.4,5.3 -.5-.1 -2.1-6.1z"/>
<path color="#fec03b" d="M313.9,1299.2l-2.3,5.3 -5-.9 -2.2-6.1z"/>
<path color="#fec736" d="M316.2,1293.8l-2.3,5.4 -9.5-1.7 -2.1-6.1z"/>
<path color="#fdce31" d="M318.6,1288.5l-2.4,5.3 -13.9-2.4 -2.1-6.1z"/>
<path color="#fad52e" d="M316.6,1282.5l2,5.9 0,.1 -18.4-3.2 -2.1-6.1z"/>
<path color="#f7dc2a" d="M314.4,1276.4l2.2,6.1 -18.5-3.3 -1.9-5.2 .4-.7z"/>
<path color="#f5e327" d="M312.3,1270.3l2.1,6.1 -17.8-3.1 2.3-5.3z"/>
<path color="#f5ea24" d="M310.2,1264.2l2.1,6.1 -13.4-2.3 2.3-5.4z"/>
<path color="#f6f11f" d="M308.1,1258.1l2.1,6.1 -9-1.6 2.4-5.3z"/>
<path color="#f8f818" d="M305.9,1252l2.2,6.1 -4.5-.8z"/>
</g>
<g fill="none" stroke="#333" stroke-width="1.1">
<path d="M53.6,1463.4 L53.6,1073.1"/>
<polyline points="53.6,1463.4 305.9,1642.3 636.4,1505.2"/>
<path d="M53.6,1463.4 l-8.5,-6 M53.6,1424.4 l-8.5,-6 M53.6,1385.3 l-8.5,-6 M53.6,1346.3 l-8.5,-6 M53.6,1307.3 l-8.5,-6 M53.6,1268.2 l-8.5,-6 M53.6,1229.2 l-8.5,-6 M53.6,1190.2 l-8.5,-6 M53.6,1151.2 l-8.5,-6 M53.6,1112.1 l-8.5,-6 M53.6,1073.1 l-8.5,-6 M305.9,1642.3 l-8.3,3.5 M305.9,1642.3 l8.6,6.1 M242.9,1597.6 l-8.3,3.5 M388.6,1608 l8.6,6.1 M179.8,1552.9 l-8.3,3.5 M471.2,1573.8 l8.6,6.1 M116.7,1508.1 l-8.3,3.5 M553.8,1539.5 l8.6,6.1 M53.6,1463.4 l-8.3,3.5 M636.4,1505.2 l8.6,6.1"/>
</g>
<g font-size="11.6" fill="#3c3c3c">
<text x="40.6" y="1460.9" text-anchor="end">0</text>
<text x="40.6" y="1421.8" text-anchor="end">0.2</text>
<text x="40.6" y="1382.8" text-anchor="end">0.4</text>
<text x="40.6" y="1343.8" text-anchor="end">0.6</text>
<text x="40.6" y="1304.7" text-anchor="end">0.8</text>
<text x="40.6" y="1265.7" text-anchor="end">1</text>
<text x="40.6" y="1226.7" text-anchor="end">1.2</text>
<text x="40.6" y="1187.6" text-anchor="end">1.4</text>
<text x="40.6" y="1148.6" text-anchor="end">1.6</text>
<text x="40.6" y="1109.6" text-anchor="end">1.8</text>
<text x="40.6" y="1070.6" text-anchor="end">2</text>
<text x="36" y="1482.1" text-anchor="middle">1</text>
<text x="94.1" y="1527.1" text-anchor="middle">0.5</text>
<text x="162.6" y="1571.6" text-anchor="middle">0</text>
<text x="218.2" y="1616.2" text-anchor="middle">−0.5</text>
<text x="285.1" y="1661" text-anchor="middle">−1</text>
<text x="321.1" y="1663.6" text-anchor="middle">−1</text>
<text x="410.3" y="1629.2" text-anchor="middle">−0.5</text>
<text x="485.8" y="1595.2" text-anchor="middle">0</text>
<text x="573.9" y="1561.2" text-anchor="middle">0.5</text>
<text x="651.4" y="1526" text-anchor="middle">1</text>
</g>
</g>
<g id="conv-f7">
<clipPath id="clip-conv-f7"><rect x="818.6" y="23" width="589.8" height="706.3"/></clipPath>
<g fill="none" stroke="#4a4a4a" stroke-width="1.3">
<rect x="821.6" y="23" width="583.8" height="706.3"/>
<path d="M880,729.3 v-6 M880,23 v6 M938.4,729.3 v-6 M938.4,23 v6 M996.7,729.3 v-6 M996.7,23 v6 M1055.1,729.3 v-6 M1055.1,23 v6 M1113.5,729.3 v-6 M1113.5,23 v6 M1171.9,729.3 v-6 M1171.9,23 v6 M1230.3,729.3 v-6 M1230.3,23 v6 M1288.6,729.3 v-6 M1288.6,23 v6 M1347,729.3 v-6 M1347,23 v6 M821.6,39.5 h6 M1405.4,39.5 h-6 M821.6,61.4 h3 M1405.4,61.4 h-3 M821.6,83.2 h3 M1405.4,83.2 h-3 M821.6,105.1 h3 M1405.4,105.1 h-3 M821.6,127 h3 M1405.4,127 h-3 M821.6,148.8 h6 M1405.4,148.8 h-6 M821.6,170.7 h3 M1405.4,170.7 h-3 M821.6,192.6 h3 M1405.4,192.6 h-3 M821.6,214.4 h3 M1405.4,214.4 h-3 M821.6,236.3 h3 M1405.4,236.3 h-3 M821.6,258.2 h6 M1405.4,258.2 h-6 M821.6,280 h3 M1405.4,280 h-3 M821.6,301.9 h3 M1405.4,301.9 h-3 M821.6,323.8 h3 M1405.4,323.8 h-3 M821.6,345.7 h3 M1405.4,345.7 h-3 M821.6,367.5 h6 M1405.4,367.5 h-6 M821.6,389.4 h3 M1405.4,389.4 h-3 M821.6,411.3 h3 M1405.4,411.3 h-3 M821.6,433.1 h3 M1405.4,433.1 h-3 M821.6,455 h3 M1405.4,455 h-3 M821.6,476.9 h6 M1405.4,476.9 h-6 M821.6,498.7 h3 M1405.4,498.7 h-3 M821.6,520.6 h3 M1405.4,520.6 h-3 M821.6,542.5 h3 M1405.4,542.5 h-3 M821.6,564.3 h3 M1405.4,564.3 h-3 M821.6,586.2 h6 M1405.4,586.2 h-6 M821.6,608.1 h3 M1405.4,608.1 h-3 M821.6,629.9 h3 M1405.4,629.9 h-3 M821.6,651.8 h3 M1405.4,651.8 h-3 M821.6,673.7 h3 M1405.4,673.7 h-3 M821.6,695.5 h6 M1405.4,695.5 h-6 M821.6,717.4 h3 M1405.4,717.4 h-3" stroke-width="1.1"/>
</g>
<g class="cv" clip-path="url(#clip-conv-f7)">
<polyline stroke="#ff0000" points="822,57 825,140 827,163 861.6,163 863.9,172.6 888,172.6 889.7,181 891,182.1 1405.6,182.1"/>
<polyline stroke="#ffd700" points="822.5,57 824,62 827.4,155.7 847.6,729 848.7,760"/>
<polyline stroke="#000080" points="822,57 823.5,78 828,85 832.3,85.3 833.7,86 840.9,86.4 842.3,87.5 847.6,88.5 852.7,88.7 854.1,89.5 858.8,89.7 860.2,90.3 866.6,90.5 868,91.5 875,92.5 877.1,92.7 878.5,93.1 884.3,93.2 885.7,94.2 893.2,94.8 894.6,95.6 900,96.5 905.3,96.6 906.7,97.2 908.4,97.3 909.8,97.6 911.7,97.6 913.1,98 916.2,98 917.6,98.4 925.3,99.3 927,103.5 929,105 933.2,105.3 934.6,105.6 939.4,105.9 940.8,106.3 945.4,106.6 946.8,107 951.1,107.1 952.5,107.7 960,108.5 967.6,108.8 969,109.3 974.8,109.4 976.2,109.9 979.2,110 980.6,110.3 982.6,110.4 984,110.6 988,110.8 989.4,111.1 993.3,111.3 994.7,111.5 1000,112 1001.6,112 1003,112.2 1010.1,112.3 1011.5,112.7 1020,113.2 1024,113.3 1025.4,114.2 1030,115 1037,115.8 1043.3,115.9 1044.7,116.2 1046.8,116.2 1048.2,116.4 1055.6,116.5 1057,116.8 1059.3,116.9 1060.7,117 1062.9,117 1064.3,117.2 1070,117.5 1072.7,117.6 1074.1,117.7 1078.4,117.8 1079.8,118 1085.7,118 1087.1,118.4 1092.6,118.4 1094,118.7 1098.1,118.8 1099.5,119 1105.6,119.3 1113,119.5 1114.4,119.7 1117.9,119.8 1119.3,120 1122.1,120 1123.5,120.2 1130.2,120.3 1131.6,120.6 1133.8,120.7 1135.2,120.8 1140,121 1143.1,121.1 1144.5,121.2 1148.1,121.3 1149.5,121.5 1151.6,121.5 1153,121.7 1158.1,121.8 1159.5,122 1162.6,122.2 1167,124.5 1171,125.2 1174.8,125.3 1176.2,125.6 1183.6,125.8 1185,126.2 1190,126.4 1191.4,126.7 1195,127 1197.5,127.1 1198.9,127.2 1205.4,127.3 1206.8,127.7 1209.6,127.8 1211,128 1219.7,128.5 1222.5,128.6 1223.9,128.7 1230.8,128.8 1232.2,129 1236.3,129.1 1237.7,129.3 1239.5,129.3 1240.9,129.4 1244,129.5 1245.4,129.6 1250,129.8 1256.5,129.9 1257.9,130.1 1261.3,130.1 1262.7,130.2 1268.6,130.3 1270,130.5 1276.7,130.7 1281.7,130.8 1283.1,131 1288.3,131.1 1289.7,131.4 1296.8,131.5 1298.2,131.8 1299.9,131.9 1301.3,132 1305,132.2 1307,132.2 1308.4,132.4 1312.2,132.4 1313.6,132.6 1316,132.7 1317.4,132.8 1324.3,133 1325.7,133.2 1333.7,133.6 1339.4,133.7 1340.8,133.8 1343.3,133.9 1344.7,134 1346.4,134 1347.8,134.1 1353.6,134.2 1355,134.3 1356.7,134.3 1358.1,134.4 1362.6,134.5 1364,134.6 1370,134.8 1377.6,134.8 1379,135.1 1383.9,135.1 1385.3,135.3 1392.3,135.4 1393.7,135.5 1399.5,135.6 1400.9,135.8 1405.6,135.9"/>
<polyline stroke="#038003" points="822,57 824.5,80 826.3,88.5 829.7,101.9 833,113.1 836.4,117.6 840.9,122.1 843.1,131.1 847.6,133.3 852.1,142.3 857.7,150.1 863.3,156.9 865.5,157.7 866.9,159.3 870,161.3 874.5,167 880.1,169.2 884.6,172 891.3,173.1 917.7,172.8 920.9,172.9 922.3,173.1 928.3,173.3 929.7,173.7 934.5,174 943,178.2 949.7,180.7 955,182 1405.6,182.1"/>
<polyline stroke="#ff6600" points="822,57 825.2,77.3 829.6,79.1 831,82.6 837.5,88.5 840,88.7 841.4,90 845.2,90.4 846.6,92 852.1,94.1 861.1,98.6 862.8,105.3 868.9,107.5 871.2,110.9 879,112 885.7,119.9 888,122.1 890.5,122.2 891.9,122.6 897,123.2 900,126.4 902.6,126.5 906,130 909.3,135.3 917.7,136.1 927.8,139.5 929.8,139.6 931.2,139.8 933.2,139.9 934.6,140 937.9,140.3 941.9,141.1 943.3,142.4 945,142.5 946.4,143.5 951.4,145.4 956.4,149.6 961.1,149.8 962.5,151.3 968.2,153 975.5,153.4 976.9,155.6 981,155.8 982.4,157.2 985,158 990.3,158.1 991.7,158.3 997.5,158.4 998.9,158.7 1001.8,158.8 1008.3,159.3 1009.7,160.8 1013.8,161.2 1015.2,162.2 1018.6,163 1020,164.1 1023.9,164.2 1025.3,164.7 1031.3,165.1 1032.7,165.6 1040,166.4 1048.5,168.4 1052.2,168.4 1053.6,168.6 1059.4,168.7 1060.8,168.8 1063.1,168.9 1064.5,169 1068.2,169 1069.6,169.1 1080,169.5 1084.6,169.5 1086,169.6 1092.5,169.7 1093.9,169.8 1098.6,169.8 1100,170 1104.2,170 1105.6,170.1 1111.8,170.1 1113.2,170.3 1119.8,170.4 1122.5,170.5 1123.9,170.7 1125.7,170.7 1127.1,170.9 1130.8,171 1132.2,171.3 1134.1,171.3 1135.5,171.5 1138.3,171.6 1139.7,171.8 1145,172.2 1152.4,172.4 1153.8,172.8 1161.1,172.9 1162.5,173.5 1171.2,174.1 1175,174.2 1176.4,174.4 1182.5,174.6 1183.9,174.8 1185.5,174.9 1186.9,175 1195,175.5 1198.7,175.5 1200.1,175.7 1201.7,175.7 1203.1,175.8 1208.4,175.9 1209.8,176 1219.7,176.4 1260,177.2 1305,177.8 1405.6,178.6"/>
<polyline stroke="#9932cc" points="821.3,51.3 1405.6,52.6"/>
<polyline stroke="#1e90ff" points="822.1,60 822.1,182.1 1405.6,182.1"/>
<polyline stroke="#00b2ad" points="822,57 824.6,66.1 833,82.9 837.5,91.8 840.9,95.2 845.4,108.7 852.1,116.5 857.7,122.1 863.3,131.1 871.2,140 880.1,149 888,155.7 890.2,160.2 892.9,160.5 894.3,161.9 897,163 900,165.3 904.3,166.4 907.3,166.7 908.7,167.2 911,167.4 912.4,167.9 917.7,168.9 921.1,169.3 922.5,170.5 927.8,172.3 933.1,172.5 934.5,173.8 937.7,173.9 939.1,174.8 943,175.7 949.5,176 950.9,176.5 957.4,176.8 958.8,177.3 968.2,178.2 1001.8,178.9 1008.2,178.9 1009.6,179 1016.3,179 1017.7,179.1 1023.8,179.1 1025.2,179.2 1029.4,179.2 1030.8,179.2 1034.9,179.2 1036.3,179.3 1038.7,179.3 1040.1,179.3 1046.4,179.4 1047.8,179.4 1053.6,179.4 1055,179.5 1061.1,179.5 1062.5,179.6 1068.1,179.6 1069.5,179.7 1072.2,179.7 1073.6,179.7 1078.3,179.7 1079.7,179.8 1084.1,179.8 1085.5,179.8 1089.5,179.8 1090.9,179.9 1095.4,179.9 1096.8,180 1100,180 1102.8,180 1104.2,180 1106.2,180 1107.6,180.1 1114.9,180.1 1116.3,180.1 1122.2,180.2 1123.6,180.2 1125.5,180.2 1126.9,180.2 1133.3,180.2 1134.7,180.3 1140.2,180.3 1141.6,180.3 1145.7,180.4 1147.1,180.4 1154,180.4 1155.4,180.4 1158.2,180.5 1159.6,180.5 1163.4,180.5 1164.8,180.5 1167.3,180.5 1168.7,180.5 1173.9,180.6 1175.3,180.6 1178.2,180.6 1179.6,180.6 1184.6,180.7 1186,180.7 1189.8,180.7 1191.2,180.7 1194.8,180.7 1196.2,180.8 1200,180.8 1240,181.6 1300,182.1 1405.6,182.1"/>
<polyline stroke="#ff2e93" points="822,57 823.2,85.2 1405.6,85.2"/>
<polyline stroke="#4d4d4d" points="822.3,57 823.2,75 825,88.5 826.6,122 827.9,152.4 830,157.5 833,160.2 838.7,163 841.5,166.9 842.6,172.6 845.9,175.4 846.5,179.3 847.5,182.1 1405.6,182.1"/>
<polyline stroke="#8b0a50" points="822.4,57.1 822.6,180 823.8,182.1 1405.6,182.1"/>
</g>
<g font-size="11.8" fill="#3c3c3c">
<text x="821.1" y="747.3" text-anchor="middle">0</text>
<text x="879.5" y="747.3" text-anchor="middle">50</text>
<text x="937.9" y="747.3" text-anchor="middle">100</text>
<text x="996.2" y="747.3" text-anchor="middle">150</text>
<text x="1054.6" y="747.3" text-anchor="middle">200</text>
<text x="1113" y="747.3" text-anchor="middle">250</text>
<text x="1171.4" y="747.3" text-anchor="middle">300</text>
<text x="1229.8" y="747.3" text-anchor="middle">350</text>
<text x="1288.1" y="747.3" text-anchor="middle">400</text>
<text x="1346.5" y="747.3" text-anchor="middle">450</text>
<text x="1404.9" y="747.3" text-anchor="middle">500</text>
<text x="816.3" y="45.9" text-anchor="end" font-size="12.1">10<tspan dy="-5" font-size="10.1">0</tspan></text>
<text x="816.3" y="155.2" text-anchor="end" font-size="12.1">10<tspan dy="-5" font-size="10.1">−50</tspan></text>
<text x="816.3" y="264.6" text-anchor="end" font-size="12.1">10<tspan dy="-5" font-size="10.1">−100</tspan></text>
<text x="816.3" y="373.9" text-anchor="end" font-size="12.1">10<tspan dy="-5" font-size="10.1">−150</tspan></text>
<text x="816.3" y="483.3" text-anchor="end" font-size="12.1">10<tspan dy="-5" font-size="10.1">−200</tspan></text>
<text x="816.3" y="592.6" text-anchor="end" font-size="12.1">10<tspan dy="-5" font-size="10.1">−250</tspan></text>
<text x="816.3" y="701.9" text-anchor="end" font-size="12.1">10<tspan dy="-5" font-size="10.1">−300</tspan></text>
</g>
<g font-size="21.9" fill="#262626">
<text x="965.8" y="774.4" font-weight="bold">Function Evaluations</text>
<text transform="translate(1206.3,774.8) scale(1.75,1.06)" text-anchor="end">（</text>
<text x="1207.8" y="774.4" font-weight="bold">/30</text>
<text transform="translate(1238.3,774.8) scale(1.75,1.06)">）</text>
</g>
<text transform="translate(770.4,376.8) rotate(-90)" font-size="22" font-weight="bold" text-anchor="middle" fill="#262626">Average Fitness Value</text>
<g>
<rect x="1039.6" y="442.3" width="125.7" height="217.6" rx="1.5" fill="#fff" stroke="#4a4a4a" stroke-width="1.1"/>
<line x1="1043.5" y1="453.6" x2="1079.5" y2="453.6" stroke="#ff0000" stroke-width="4.6"/>
<text x="1082.7" y="458.8" font-size="14.4" font-weight="bold" fill="#111">AP-IVYPSO</text>
<line x1="1043.5" y1="473.2" x2="1079.5" y2="473.2" stroke="#ffd700" stroke-width="4.6"/>
<text x="1082.7" y="478.4" font-size="14.4" font-weight="bold" fill="#111">PSO</text>
<line x1="1043.5" y1="492.7" x2="1079.5" y2="492.7" stroke="#000080" stroke-width="4.6"/>
<text x="1082.7" y="497.9" font-size="14.4" font-weight="bold" fill="#111">IVY</text>
<line x1="1043.5" y1="512.3" x2="1079.5" y2="512.3" stroke="#038003" stroke-width="4.6"/>
<text x="1082.7" y="517.5" font-size="14.4" font-weight="bold" fill="#111">HFPSO</text>
<line x1="1043.5" y1="531.9" x2="1079.5" y2="531.9" stroke="#ff6600" stroke-width="4.6"/>
<text x="1082.7" y="537.1" font-size="14.4" font-weight="bold" fill="#111">HJSPSO</text>
<line x1="1043.5" y1="551.5" x2="1079.5" y2="551.5" stroke="#9932cc" stroke-width="4.6"/>
<text x="1082.7" y="556.7" font-size="14.4" font-weight="bold" fill="#111">BOA</text>
<line x1="1043.5" y1="571" x2="1079.5" y2="571" stroke="#1e90ff" stroke-width="4.6"/>
<text x="1082.7" y="576.2" font-size="14.4" font-weight="bold" fill="#111">WOA</text>
<line x1="1043.5" y1="590.6" x2="1079.5" y2="590.6" stroke="#00b2ad" stroke-width="4.6"/>
<text x="1082.7" y="595.8" font-size="14.4" font-weight="bold" fill="#111">GOOSE</text>
<line x1="1043.5" y1="610.2" x2="1079.5" y2="610.2" stroke="#ff2e93" stroke-width="4.6"/>
<text x="1082.7" y="615.4" font-size="14.4" font-weight="bold" fill="#111">PSOBOA</text>
<line x1="1043.5" y1="629.7" x2="1079.5" y2="629.7" stroke="#4d4d4d" stroke-width="4.6"/>
<text x="1082.7" y="634.9" font-size="14.4" font-weight="bold" fill="#111">NSM-BO</text>
<line x1="1043.5" y1="649.3" x2="1079.5" y2="649.3" stroke="#8b0a50" stroke-width="4.6"/>
<text x="1082.7" y="654.5" font-size="14.4" font-weight="bold" fill="#111">FDB-AGSK</text>
</g>
</g>
<g id="conv-f8">
<clipPath id="clip-conv-f8"><rect x="818.6" y="936" width="589.8" height="706.1"/></clipPath>
<g fill="none" stroke="#4a4a4a" stroke-width="1.3">
<rect x="821.6" y="936" width="583.8" height="706.1"/>
<path d="M880,1642.1 v-6 M880,936 v6 M938.4,1642.1 v-6 M938.4,936 v6 M996.7,1642.1 v-6 M996.7,936 v6 M1055.1,1642.1 v-6 M1055.1,936 v6 M1113.5,1642.1 v-6 M1113.5,936 v6 M1171.9,1642.1 v-6 M1171.9,936 v6 M1230.3,1642.1 v-6 M1230.3,936 v6 M1288.6,1642.1 v-6 M1288.6,936 v6 M1347,1642.1 v-6 M1347,936 v6 M821.6,950.5 h6 M1405.4,950.5 h-6 M821.6,969.5 h3 M1405.4,969.5 h-3 M821.6,988.5 h3 M1405.4,988.5 h-3 M821.6,1007.4 h3 M1405.4,1007.4 h-3 M821.6,1026.4 h3 M1405.4,1026.4 h-3 M821.6,1045.3 h6 M1405.4,1045.3 h-6 M821.6,1064.3 h3 M1405.4,1064.3 h-3 M821.6,1083.2 h3 M1405.4,1083.2 h-3 M821.6,1102.2 h3 M1405.4,1102.2 h-3 M821.6,1121.2 h3 M1405.4,1121.2 h-3 M821.6,1140.1 h6 M1405.4,1140.1 h-6 M821.6,1159.1 h3 M1405.4,1159.1 h-3 M821.6,1178 h3 M1405.4,1178 h-3 M821.6,1197 h3 M1405.4,1197 h-3 M821.6,1215.9 h3 M1405.4,1215.9 h-3 M821.6,1234.9 h6 M1405.4,1234.9 h-6 M821.6,1253.9 h3 M1405.4,1253.9 h-3 M821.6,1272.8 h3 M1405.4,1272.8 h-3 M821.6,1291.8 h3 M1405.4,1291.8 h-3 M821.6,1310.7 h3 M1405.4,1310.7 h-3 M821.6,1329.7 h6 M1405.4,1329.7 h-6 M821.6,1348.6 h3 M1405.4,1348.6 h-3 M821.6,1367.6 h3 M1405.4,1367.6 h-3 M821.6,1386.6 h3 M1405.4,1386.6 h-3 M821.6,1405.5 h3 M1405.4,1405.5 h-3 M821.6,1424.5 h6 M1405.4,1424.5 h-6 M821.6,1443.4 h3 M1405.4,1443.4 h-3 M821.6,1462.4 h3 M1405.4,1462.4 h-3 M821.6,1481.3 h3 M1405.4,1481.3 h-3 M821.6,1500.3 h3 M1405.4,1500.3 h-3 M821.6,1519.3 h6 M1405.4,1519.3 h-6 M821.6,1538.2 h3 M1405.4,1538.2 h-3 M821.6,1557.2 h3 M1405.4,1557.2 h-3 M821.6,1576.1 h3 M1405.4,1576.1 h-3 M821.6,1595.1 h3 M1405.4,1595.1 h-3 M821.6,1614 h6 M1405.4,1614 h-6 M821.6,1633 h3 M1405.4,1633 h-3" stroke-width="1.1"/>
</g>
<g class="cv" clip-path="url(#clip-conv-f8)">
<polyline stroke="#ff0000" points="821.5,1046 826,1050 827.7,1055.2 829.3,1071.9 833.3,1097.1 837,1120.6 840.9,1147.4 843.8,1172.5 846,1197.7 848.6,1222.9 851.1,1253 855.3,1281.6 857.2,1290 861.3,1320.2 864.3,1360.4 867.3,1410.7 870.3,1461.1 873.3,1511.4 876.3,1561.7 878.4,1612 879.4,1636.2"/>
<polyline stroke="#ffd700" points="821.5,1045.8 1020,1045.6 1134,1045.9 1248,1046.8 1333.7,1047.8 1405.6,1048.5"/>
<polyline stroke="#000080" points="821.3,1051 825.2,1060.2 829.3,1097.1 833.5,1123.9 839.4,1154.1 845.3,1180.9 850.3,1206.1 855.3,1239.6 860.4,1264.8 864.3,1290 871.3,1320.2 876.4,1356.4 881.4,1374.5 885.4,1410.7 890.4,1434.9 894.5,1451 897.5,1481.2 902.5,1511.4 906.5,1547.6 911.6,1581.8 916.6,1595.9 920.6,1622.1 923.6,1642.2 924.5,1650"/>
<polyline stroke="#038003" points="821.5,1046 850.5,1050.9 884.1,1054.6 917.7,1056 951,1056.4 1020,1059.1 1219.7,1067.3 1405.6,1070.7"/>
<polyline stroke="#ff6600" points="821.5,1046 824.1,1046.4 825.5,1047.3 830.9,1047.9 832.3,1049.5 835.2,1050 836.6,1050.9 840,1052 844.7,1052.7 846.1,1054.6 849.1,1054.8 850.5,1056.6 857.2,1059.5 862.3,1059.8 863.7,1062 870.6,1064.6 873.6,1064.8 875,1066 876.8,1066.4 878.2,1067 884.1,1068.8 891,1069.2 892.4,1070 894.2,1070.1 895.6,1070.5 900.9,1071.3 903.2,1071.9 904.6,1072.6 908.4,1072.9 909.8,1074.4 917.7,1077.2 920,1077.5 921.4,1078 929.5,1079.7 934.5,1083.1 939.4,1083.2 940.8,1083.5 948,1083.9 950.7,1084.1 952.1,1085.5 958.9,1086 960.3,1088.5 968.2,1091.5 971.1,1092.4 972.5,1093.6 979.4,1095.1 980.8,1097.8 985,1099.9 990.1,1100.7 991.5,1102.2 993.8,1102.5 995.2,1103.5 1001.8,1105.8 1004.6,1106.2 1006,1106.9 1012.9,1107.4 1014.3,1108.9 1018.6,1110 1020,1111.9 1024.3,1112.5 1025.7,1114.6 1033.3,1115.7 1034.7,1119 1038.5,1120.8 1040.7,1121.2 1042.1,1122 1048.5,1124.1 1053.1,1124.9 1054.5,1126.9 1059.4,1128 1060.8,1129.9 1063.7,1130.5 1065.1,1131.9 1070,1132.9 1071.4,1134.9 1077,1137.5 1079.6,1138 1081,1139.6 1088.2,1140.6 1089.6,1144.1 1097,1148 1100.4,1148.3 1101.8,1150 1105.6,1151.5 1114.1,1158.6 1120.4,1159.6 1121.8,1162.7 1127.5,1164 1128.9,1166.6 1134.1,1169.4 1141.4,1170 1142.8,1171.9 1151.2,1174.2 1158.6,1175 1160,1176.8 1165.5,1178.5 1170,1179.2 1171.4,1181.5 1174.5,1182.4 1175.9,1183.8 1179.7,1185.7 1181.7,1186.2 1183.1,1187.1 1189.4,1187.9 1190.8,1190.1 1194,1191.4 1195.9,1191.8 1197.3,1193.6 1202.5,1197.1 1206.6,1197.4 1208,1198.9 1210,1199.2 1211.4,1200.1 1219.7,1202.8 1227.2,1203.9 1228.6,1205.8 1236.8,1208.5 1239.9,1209.3 1241.3,1210.4 1248.2,1213.3 1254.2,1213.6 1255.6,1216.1 1258.4,1216.8 1259.8,1217.8 1265.3,1219.9 1272.2,1221.2 1273.6,1224 1276.7,1225.6 1281.8,1226.1 1283.2,1226.9 1286.6,1227.1 1288,1227.8 1291,1228.4 1297.2,1228.7 1298.6,1231.5 1305.2,1234.1 1312.5,1234.4 1313.9,1237.1 1319.5,1239 1325,1240 1326.4,1241.5 1333.7,1244.1 1336.8,1244.5 1338.2,1245.8 1348,1249.3 1355,1249.7 1356.4,1252.1 1362.3,1254.1 1364.5,1254.2 1365.9,1255.3 1370.1,1255.6 1371.5,1257.3 1376.5,1259 1382,1259.4 1383.4,1261.5 1390.8,1264.1 1394.3,1264.3 1395.7,1264.9 1399.4,1265.5 1405.6,1265.5"/>
<polyline stroke="#9932cc" points="821.5,1046.1 1020,1058.5 1219.7,1066.5 1405.6,1069.9"/>
<polyline stroke="#1e90ff" points="821.5,1046 828.8,1046.3 830.2,1048.1 832,1048.4 833.4,1048.8 836.1,1048.9 837.5,1049.8 843,1050.1 844.4,1051.4 850.5,1052.8 853.5,1053.3 854.9,1054 858.4,1054.4 859.8,1055.3 867,1056.1 868.4,1057.6 875.7,1059.5 881.5,1059.7 882.9,1061.5 889.8,1062.2 891.2,1063.8 894.2,1064.6 896.9,1065.2 898.3,1066.1 900.9,1067.1 936.2,1067.6 941.3,1073 961.5,1073 968.7,1073.9 970.1,1075.4 976.6,1077.2 981.6,1077.5 983,1078.1 988.3,1078.3 989.7,1079 997,1079.3 998.4,1080.2 1006.9,1081.4 1017,1087.3 1020,1087 1028.6,1089 1031.1,1089.9 1032.5,1091.3 1040,1095.7 1042.7,1095.9 1044.1,1097.7 1048.5,1099.9 1050.3,1100.6 1051.7,1101.5 1057.1,1104.2 1065.6,1112.7 1069.7,1113.8 1071.1,1116 1078.2,1117.1 1079.6,1121.2 1083.4,1122.2 1084.8,1124.4 1091.3,1128.4 1096.5,1129.4 1097.9,1131.7 1102.1,1132.6 1103.5,1134.5 1108.2,1134.9 1109.6,1137.6 1114.1,1139.8 1117.8,1140.7 1119.2,1143.5 1123.3,1145.1 1124.7,1147.3 1128.4,1150 1133.1,1151.2 1134.5,1154.9 1136.7,1156.1 1138.1,1157.7 1142.6,1161.4 1147.5,1162.1 1148.9,1164.5 1152.4,1165.1 1153.8,1167 1156.9,1168.5 1158.7,1168.7 1160.1,1169.1 1168.3,1170.5 1173.8,1171.3 1175.2,1175.3 1179.7,1178.5 1181.6,1179 1183,1180.6 1191.1,1185.7 1198.2,1186.1 1199.6,1187.4 1205.4,1188.5 1210,1189.3 1211.4,1191.5 1219.7,1195.6 1227.2,1197.6 1228.6,1201 1233.9,1204.2 1239.9,1205 1241.3,1206.5 1245,1207.1 1246.4,1208.1 1253.9,1210.5 1259.2,1211.3 1260.6,1212.4 1262.3,1212.6 1263.7,1213.3 1269.1,1213.7 1270.5,1215.2 1276.7,1217 1282.5,1217.5 1283.9,1218.9 1287.1,1219 1288.5,1220 1291,1220.7 1294.7,1220.9 1296.1,1222.5 1299,1222.7 1300.4,1223.9 1305.2,1225.6 1307.9,1225.8 1309.3,1226.6 1311.5,1226.8 1312.9,1227.5 1316.6,1228.4 1320.3,1228.6 1321.7,1229 1328.8,1229.4 1330.2,1230 1333.7,1230.4 1337.6,1230.7 1339,1231.1 1340.8,1231.2 1342.2,1231.5 1346.7,1231.7 1348.1,1232.3 1354.2,1232.6 1355.6,1233.2 1362.3,1234.1 1365.4,1234.2 1366.8,1234.8 1370,1234.9 1371.4,1235.5 1377,1235.6 1378.4,1236.5 1385.3,1236.9 1386.7,1237.8 1390.8,1238.4 1395.4,1238.8 1396.8,1239.6 1398.6,1239.7 1400,1240.2 1405.6,1241.3"/>
<polyline stroke="#00b2ad" points="821.5,1045.4 1020,1046.3 1134,1047.7 1248,1050.5 1333.7,1052.2 1359.4,1052.8 1365.1,1055.1 1405.6,1056.2"/>
<polyline stroke="#ff2e93" points="821.9,1049.5 829,1052.2 830.4,1055.6 833.6,1057.9 835.7,1058.8 837.1,1060.7 842,1064.6 846.8,1064.7 848.2,1065.6 850.9,1065.8 852.3,1066.3 857.2,1067.1 861.5,1067.4 862.9,1069.5 867.3,1071.3 873.2,1071.7 874.6,1072.8 879.2,1073.2 880.6,1074 884.1,1074.7 886,1075.1 887.4,1075.7 892.6,1076.3 894,1077.6 900.9,1079.7 908.3,1080.2 909.7,1081.9 917.7,1083.9 921.5,1084.1 922.9,1084.7 928.5,1084.9 929.9,1085.8 934.5,1086.5 938.9,1086.7 940.3,1087.1 945.5,1087.2 946.9,1087.7 951.4,1088.1 954.1,1088.3 955.5,1089.3 959,1089.9 960.4,1090.8 963.2,1091 964.6,1092.1 968.2,1093.2 970,1093.4 971.4,1094.5 976.6,1096.5 983.1,1096.6 984.5,1097 988.3,1097.1 989.7,1097.4 993.2,1097.5 994.6,1097.7 1001.8,1098.2 1005,1098.3 1006.4,1099.1 1012.7,1099.7 1014.1,1100.7 1018.6,1101.6 1020,1102.7 1023,1102.9 1024.4,1103.2 1031.5,1103.5 1032.9,1104.2 1037.1,1104.7 1039.7,1105.3 1041.1,1106.1 1045.7,1107.6 1049.8,1107.7 1051.2,1108.1 1057.7,1108.3 1059.1,1108.8 1066.5,1109.1 1067.9,1109.6 1071.3,1109.9 1076.1,1110.5 1077.5,1111.2 1083.6,1111.5 1085,1112.7 1092.5,1113.2 1093.9,1114.6 1096.6,1114.7 1098,1115.4 1105.6,1117 1108.4,1117.6 1109.8,1118.4 1117,1120.7 1119.9,1120.7 1121.3,1121 1126.1,1121.1 1127.5,1121.5 1132.3,1121.7 1133.7,1122 1136.8,1122.1 1138.2,1122.4 1142.6,1122.7 1146.9,1123.2 1148.3,1125 1156.9,1128.4 1163.4,1128.8 1164.8,1129.4 1170.5,1129.6 1171.9,1130.3 1177.7,1130.7 1179.1,1131.3 1185.4,1132.1 1191.1,1137 1194.1,1137.3 1195.5,1138.6 1202.5,1141.2 1213.9,1141.8 1216.8,1145.5 1245.3,1146.1 1251.5,1146.4 1252.9,1147.1 1257.8,1147.5 1259.2,1148 1262.4,1148.4 1267.8,1148.6 1269.2,1149.5 1274.1,1149.9 1275.5,1150.5 1278.6,1150.9 1280,1151.3 1282.1,1151.5 1283.5,1151.8 1288.1,1152.6 1291,1158.3 1294,1158.5 1295.4,1158.9 1299.8,1159.1 1301.2,1159.6 1307.1,1159.7 1308.5,1160.6 1312.4,1160.8 1313.8,1161.3 1319.5,1162 1326.3,1162.3 1327.7,1163.7 1333.7,1165 1336.3,1165.1 1337.7,1165.5 1341.9,1165.6 1343.3,1166.1 1349.1,1166.4 1350.5,1167 1356.2,1167.2 1357.6,1167.8 1362.3,1168.4 1367.1,1168.5 1368.5,1168.9 1375.4,1169 1376.8,1169.6 1382.2,1170 1389,1170.4 1390.4,1171.6 1393.6,1172.2 1399.2,1173.2 1400.6,1175.3 1405.6,1177.5"/>
<polyline stroke="#4d4d4d" points="821.5,1046 842,1052 884.1,1057.9 894.2,1060.4 948,1064.6 968.2,1069.6 985,1071 1020,1071.9 1062.8,1071.9 1069.9,1075.6 1102.7,1076.2 1111.3,1078.5 1236.8,1079.1 1245.3,1081.3 1302.4,1081.3 1309.5,1086.5 1333.7,1087.6 1339.5,1090.8 1405.6,1091.6"/>
<polyline stroke="#8b0a50" points="823.5,1045.2 833,1048.5 842,1052.8 844.7,1053.8 846.1,1055 850,1057 857.2,1061.2 862.2,1069.6 865.6,1075.5 870,1077 875.7,1081.4 877.9,1081.9 879.3,1082.8 884.1,1084.8 889.9,1085.4 891.3,1086.6 894.2,1087.3 897,1091 900.9,1094.9 905.1,1095.6 906.5,1096.7 911,1098.2 915,1102 919.4,1106.6 921.7,1106.8 923.1,1107.4 930,1109 939.6,1110.8 942,1114 944.6,1116.7 951.4,1118.4 954.8,1119.7 956.2,1121.3 959.8,1123.5 966,1124.5 967.4,1126.1 970,1127 973.6,1127.5 975,1129.2 980.7,1131.8 986,1138 990.4,1143.9 994.2,1144.7 995.6,1145.7 1002,1148 1005.5,1148.9 1006.9,1150.2 1008.9,1150.4 1010.3,1151.7 1014.4,1153.5 1020,1160 1026.4,1162.3 1027.8,1165.8 1037.1,1172.8 1043.9,1174.5 1045.3,1181.8 1051.4,1188.5 1058.5,1189.2 1059.9,1193.7 1065.6,1197.1 1068.1,1197.9 1069.5,1202.7 1075.6,1211.3 1081.2,1213.4 1082.6,1216 1088.5,1219.9 1094.2,1227 1098.8,1228.2 1100.2,1229.7 1106.4,1230.7 1107.8,1233.1 1110.9,1233.8 1112.3,1235.1 1115.4,1235.8 1116.8,1237.2 1122.7,1239.8 1126.6,1241.3 1128,1243.8 1132.1,1244.9 1133.5,1247.9 1139.8,1252.7 1142.9,1253.1 1144.3,1255.2 1149.3,1256.1 1150.7,1258.8 1157.6,1259.7 1159,1263.5 1162.6,1265.5 1171.2,1279.8 1173.1,1280.5 1174.5,1282.6 1179.7,1286.9 1184,1287.6 1185.4,1288.8 1187.2,1289.3 1188.6,1289.9 1196.8,1292.6 1202.5,1301.2 1209,1302.5 1210.4,1305.8 1215.4,1306.7 1216.8,1309.5 1219.7,1311.2 1222.6,1311.8 1224,1314 1227.4,1314.6 1228.8,1317 1239.6,1324 1246,1324.9 1247.4,1326.9 1249.1,1327.1 1250.5,1328 1256.7,1330.3 1262.5,1330.9 1263.9,1332.6 1269.2,1333.5 1270.6,1334.8 1276.7,1336.8 1280.6,1337.4 1282,1338.3 1285.5,1338.8 1286.9,1339.7 1293.8,1341.7 1295.5,1342 1296.9,1342.7 1298.9,1343.2 1300.3,1343.9 1307,1344.6 1308.4,1346.6 1310.9,1347.4 1313.8,1348.3 1315.2,1350.8 1318.1,1353.1 1322.3,1359.6 1324.2,1359.9 1325.6,1360.4 1327.5,1360.8 1328.9,1361.3 1333.8,1361.8 1335.2,1362.8 1339.5,1363.9 1346.5,1364.9 1347.9,1366.4 1350.2,1366.6 1351.6,1367.5 1356.6,1369 1361.2,1369.1 1362.6,1369.5 1370.8,1370.2 1376.5,1372.5 1381.1,1372.7 1382.5,1373.1 1385.6,1373.2 1387,1373.5 1391.3,1373.7 1392.7,1374.1 1396.8,1374.3 1398.2,1374.6 1405.6,1375.3"/>
</g>
<g font-size="11.8" fill="#3c3c3c">
<text x="821.1" y="1660.1" text-anchor="middle">0</text>
<text x="879.5" y="1660.1" text-anchor="middle">50</text>
<text x="937.9" y="1660.1" text-anchor="middle">100</text>
<text x="996.2" y="1660.1" text-anchor="middle">150</text>
<text x="1054.6" y="1660.1" text-anchor="middle">200</text>
<text x="1113" y="1660.1" text-anchor="middle">250</text>
<text x="1171.4" y="1660.1" text-anchor="middle">300</text>
<text x="1229.8" y="1660.1" text-anchor="middle">350</text>
<text x="1288.1" y="1660.1" text-anchor="middle">400</text>
<text x="1346.5" y="1660.1" text-anchor="middle">450</text>
<text x="1404.9" y="1660.1" text-anchor="middle">500</text>
<text x="816.3" y="956.9" text-anchor="end" font-size="12.1">10<tspan dy="-5" font-size="10.1">50</tspan></text>
<text x="816.3" y="1051.7" text-anchor="end" font-size="12.1">10<tspan dy="-5" font-size="10.1">0</tspan></text>
<text x="816.3" y="1146.5" text-anchor="end" font-size="12.1">10<tspan dy="-5" font-size="10.1">−50</tspan></text>
<text x="816.3" y="1241.3" text-anchor="end" font-size="12.1">10<tspan dy="-5" font-size="10.1">−100</tspan></text>
<text x="816.3" y="1336.1" text-anchor="end" font-size="12.1">10<tspan dy="-5" font-size="10.1">−150</tspan></text>
<text x="816.3" y="1430.9" text-anchor="end" font-size="12.1">10<tspan dy="-5" font-size="10.1">−200</tspan></text>
<text x="816.3" y="1525.7" text-anchor="end" font-size="12.1">10<tspan dy="-5" font-size="10.1">−250</tspan></text>
<text x="816.3" y="1620.4" text-anchor="end" font-size="12.1">10<tspan dy="-5" font-size="10.1">−300</tspan></text>
</g>
<g font-size="21.9" fill="#262626">
<text x="965.8" y="1687.6" font-weight="bold">Function Evaluations</text>
<text transform="translate(1206.3,1688) scale(1.75,1.06)" text-anchor="end">（</text>
<text x="1207.8" y="1687.6" font-weight="bold">/30</text>
<text transform="translate(1238.3,1688) scale(1.75,1.06)">）</text>
</g>
<text transform="translate(770.4,1289.8) rotate(-90)" font-size="22" font-weight="bold" text-anchor="middle" fill="#262626">Average Fitness Value</text>
<g>
<rect x="1027" y="1372" width="125.7" height="217.6" rx="1.5" fill="#fff" stroke="#4a4a4a" stroke-width="1.1"/>
<line x1="1030.9" y1="1383.3" x2="1066.9" y2="1383.3" stroke="#ff0000" stroke-width="4.6"/>
<text x="1070.1" y="1388.5" font-size="14.4" font-weight="bold" fill="#111">AP-IVYPSO</text>
<line x1="1030.9" y1="1402.9" x2="1066.9" y2="1402.9" stroke="#ffd700" stroke-width="4.6"/>
<text x="1070.1" y="1408.1" font-size="14.4" font-weight="bold" fill="#111">PSO</text>
<line x1="1030.9" y1="1422.4" x2="1066.9" y2="1422.4" stroke="#000080" stroke-width="4.6"/>
<text x="1070.1" y="1427.6" font-size="14.4" font-weight="bold" fill="#111">IVY</text>
<line x1="1030.9" y1="1442" x2="1066.9" y2="1442" stroke="#038003" stroke-width="4.6"/>
<text x="1070.1" y="1447.2" font-size="14.4" font-weight="bold" fill="#111">HFPSO</text>
<line x1="1030.9" y1="1461.6" x2="1066.9" y2="1461.6" stroke="#ff6600" stroke-width="4.6"/>
<text x="1070.1" y="1466.8" font-size="14.4" font-weight="bold" fill="#111">HJSPSO</text>
<line x1="1030.9" y1="1481.1" x2="1066.9" y2="1481.1" stroke="#9932cc" stroke-width="4.6"/>
<text x="1070.1" y="1486.3" font-size="14.4" font-weight="bold" fill="#111">BOA</text>
<line x1="1030.9" y1="1500.7" x2="1066.9" y2="1500.7" stroke="#1e90ff" stroke-width="4.6"/>
<text x="1070.1" y="1505.9" font-size="14.4" font-weight="bold" fill="#111">WOA</text>
<line x1="1030.9" y1="1520.3" x2="1066.9" y2="1520.3" stroke="#00b2ad" stroke-width="4.6"/>
<text x="1070.1" y="1525.5" font-size="14.4" font-weight="bold" fill="#111">GOOSE</text>
<line x1="1030.9" y1="1539.9" x2="1066.9" y2="1539.9" stroke="#ff2e93" stroke-width="4.6"/>
<text x="1070.1" y="1545.1" font-size="14.4" font-weight="bold" fill="#111">PSOBOA</text>
<line x1="1030.9" y1="1559.4" x2="1066.9" y2="1559.4" stroke="#4d4d4d" stroke-width="4.6"/>
<text x="1070.1" y="1564.6" font-size="14.4" font-weight="bold" fill="#111">NSM-BO</text>
<line x1="1030.9" y1="1579" x2="1066.9" y2="1579" stroke="#8b0a50" stroke-width="4.6"/>
<text x="1070.1" y="1584.2" font-size="14.4" font-weight="bold" fill="#111">FDB-AGSK</text>
</g>
</g>
<text class="cap" x="698" y="860.2" font-size="33.6" text-anchor="middle" fill="#000">(<tspan font-weight="bold">g</tspan>) f7.</text>
<text class="cap" x="698" y="1773.6" font-size="33.8" text-anchor="middle" fill="#000">(<tspan font-weight="bold">h</tspan>) f8.</text>
</svg></body></html>
